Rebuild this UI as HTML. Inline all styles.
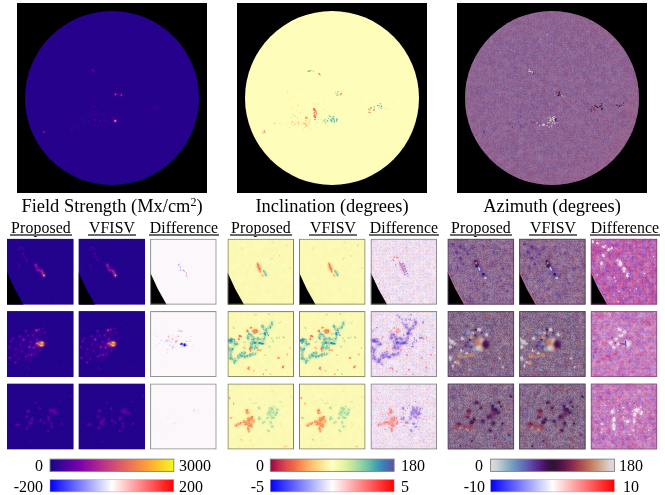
<!DOCTYPE html>
<html><head><meta charset="utf-8"><title>figure</title>
<style>
html,body{margin:0;padding:0;background:#fff}
body{width:665px;height:495px;overflow:hidden;position:relative;font-family:"Liberation Serif",serif;color:#000}
.t{position:absolute;white-space:nowrap;line-height:1;text-align:center;will-change:transform;opacity:.999}
.ti{font-size:18.45px}
.ti sup{font-size:12px;line-height:0;vertical-align:baseline;position:relative;top:-5.6px}
.lb{font-size:15.8px;letter-spacing:0.12px}
.lb span{position:relative;padding:0 1px 0 1px;display:inline-block;line-height:15.6px;height:15.6px}
.lb span::after{content:"";position:absolute;left:0;right:0;top:14.3px;height:1.6px;background:#6a6a6a}
.cb{font-size:16px}
</style></head><body>
<svg width="665" height="495" viewBox="0 0 665 495" style="position:absolute;left:0;top:0"><defs><filter id="b08" x="-20%" y="-20%" width="140%" height="140%"><feGaussianBlur stdDeviation="0.8"/></filter><filter id="b12" x="-20%" y="-20%" width="140%" height="140%"><feGaussianBlur stdDeviation="1.3"/></filter><filter id="b20" x="-30%" y="-30%" width="160%" height="160%"><feGaussianBlur stdDeviation="2.2"/></filter><filter id="nzAz" x="0" y="0" width="100%" height="100%" color-interpolation-filters="sRGB"><feTurbulence type="fractalNoise" baseFrequency="0.7" numOctaves="1" seed="3"/><feColorMatrix type="matrix" values="2 0 0 0 -0.5 2 0 0 0 -0.5 2 0 0 0 -0.5 0 0 0 0 1"/><feComponentTransfer><feFuncR type="table" tableValues=".89 .82 .71 .59 .49 .42 .39 .37 .37 .36 .32 .25 .20 .23 .32 .42 .53 .61 .68 .73 .77 .79 .81 .85 .88 .86 .77 .64 .54 .45 .40 .38 .37 .36 .34 .29 .22 .20 .27 .37 .47 .57 .65 .71 .75 .78 .80 .83 .87 .89"/><feFuncG type="table" tableValues=".85 .84 .78 .71 .64 .56 .47 .38 .28 .18 .10 .07 .07 .07 .08 .11 .15 .22 .30 .40 .50 .60 .69 .78 .84 .85 .81 .75 .68 .60 .52 .43 .33 .24 .14 .08 .07 .07 .07 .09 .12 .18 .26 .35 .44 .55 .65 .74 .82 .85"/><feFuncB type="table" tableValues=".89 .86 .81 .78 .76 .75 .73 .71 .66 .58 .46 .33 .23 .23 .27 .30 .31 .31 .32 .34 .39 .49 .61 .75 .86 .88 .83 .79 .77 .76 .74 .72 .68 .63 .53 .39 .27 .22 .25 .29 .31 .31 .31 .33 .36 .43 .54 .68 .81 .89"/></feComponentTransfer><feGaussianBlur stdDeviation="1.3"/></filter><filter id="nzAzb" x="0" y="0" width="100%" height="100%" color-interpolation-filters="sRGB"><feTurbulence type="fractalNoise" baseFrequency="0.7" numOctaves="1" seed="4"/><feColorMatrix type="matrix" values="2 0 0 0 -0.5 2 0 0 0 -0.5 2 0 0 0 -0.5 0 0 0 0 1"/><feComponentTransfer><feFuncR type="table" tableValues=".89 .82 .71 .59 .49 .42 .39 .37 .37 .36 .32 .25 .20 .23 .32 .42 .53 .61 .68 .73 .77 .79 .81 .85 .88 .86 .77 .64 .54 .45 .40 .38 .37 .36 .34 .29 .22 .20 .27 .37 .47 .57 .65 .71 .75 .78 .80 .83 .87 .89"/><feFuncG type="table" tableValues=".85 .84 .78 .71 .64 .56 .47 .38 .28 .18 .10 .07 .07 .07 .08 .11 .15 .22 .30 .40 .50 .60 .69 .78 .84 .85 .81 .75 .68 .60 .52 .43 .33 .24 .14 .08 .07 .07 .07 .09 .12 .18 .26 .35 .44 .55 .65 .74 .82 .85"/><feFuncB type="table" tableValues=".89 .86 .81 .78 .76 .75 .73 .71 .66 .58 .46 .33 .23 .23 .27 .30 .31 .31 .32 .34 .39 .49 .61 .75 .86 .88 .83 .79 .77 .76 .74 .72 .68 .63 .53 .39 .27 .22 .25 .29 .31 .31 .31 .33 .36 .43 .54 .68 .81 .89"/></feComponentTransfer></filter><filter id="nzAzS0" x="0" y="0" width="100%" height="100%" color-interpolation-filters="sRGB"><feTurbulence type="fractalNoise" baseFrequency="0.7" numOctaves="1" seed="7"/><feColorMatrix type="matrix" values="2 0 0 0 -0.5 2 0 0 0 -0.5 2 0 0 0 -0.5 0 0 0 0 1"/><feComponentTransfer><feFuncR type="table" tableValues=".89 .82 .71 .59 .49 .42 .39 .37 .37 .36 .32 .25 .20 .23 .32 .42 .53 .61 .68 .73 .77 .79 .81 .85 .88 .86 .77 .64 .54 .45 .40 .38 .37 .36 .34 .29 .22 .20 .27 .37 .47 .57 .65 .71 .75 .78 .80 .83 .87 .89"/><feFuncG type="table" tableValues=".85 .84 .78 .71 .64 .56 .47 .38 .28 .18 .10 .07 .07 .07 .08 .11 .15 .22 .30 .40 .50 .60 .69 .78 .84 .85 .81 .75 .68 .60 .52 .43 .33 .24 .14 .08 .07 .07 .07 .09 .12 .18 .26 .35 .44 .55 .65 .74 .82 .85"/><feFuncB type="table" tableValues=".89 .86 .81 .78 .76 .75 .73 .71 .66 .58 .46 .33 .23 .23 .27 .30 .31 .31 .32 .34 .39 .49 .61 .75 .86 .88 .83 .79 .77 .76 .74 .72 .68 .63 .53 .39 .27 .22 .25 .29 .31 .31 .31 .33 .36 .43 .54 .68 .81 .89"/></feComponentTransfer><feGaussianBlur stdDeviation="0.8"/></filter><filter id="nzAzS0b" x="0" y="0" width="100%" height="100%" color-interpolation-filters="sRGB"><feTurbulence type="fractalNoise" baseFrequency="0.7" numOctaves="1" seed="107"/><feColorMatrix type="matrix" values="2 0 0 0 -0.5 2 0 0 0 -0.5 2 0 0 0 -0.5 0 0 0 0 1"/><feComponentTransfer><feFuncR type="table" tableValues=".89 .82 .71 .59 .49 .42 .39 .37 .37 .36 .32 .25 .20 .23 .32 .42 .53 .61 .68 .73 .77 .79 .81 .85 .88 .86 .77 .64 .54 .45 .40 .38 .37 .36 .34 .29 .22 .20 .27 .37 .47 .57 .65 .71 .75 .78 .80 .83 .87 .89"/><feFuncG type="table" tableValues=".85 .84 .78 .71 .64 .56 .47 .38 .28 .18 .10 .07 .07 .07 .08 .11 .15 .22 .30 .40 .50 .60 .69 .78 .84 .85 .81 .75 .68 .60 .52 .43 .33 .24 .14 .08 .07 .07 .07 .09 .12 .18 .26 .35 .44 .55 .65 .74 .82 .85"/><feFuncB type="table" tableValues=".89 .86 .81 .78 .76 .75 .73 .71 .66 .58 .46 .33 .23 .23 .27 .30 .31 .31 .32 .34 .39 .49 .61 .75 .86 .88 .83 .79 .77 .76 .74 .72 .68 .63 .53 .39 .27 .22 .25 .29 .31 .31 .31 .33 .36 .43 .54 .68 .81 .89"/></feComponentTransfer></filter><filter id="nzAzS1" x="0" y="0" width="100%" height="100%" color-interpolation-filters="sRGB"><feTurbulence type="fractalNoise" baseFrequency="0.7" numOctaves="1" seed="11"/><feColorMatrix type="matrix" values="2 0 0 0 -0.5 2 0 0 0 -0.5 2 0 0 0 -0.5 0 0 0 0 1"/><feComponentTransfer><feFuncR type="table" tableValues=".89 .82 .71 .59 .49 .42 .39 .37 .37 .36 .32 .25 .20 .23 .32 .42 .53 .61 .68 .73 .77 .79 .81 .85 .88 .86 .77 .64 .54 .45 .40 .38 .37 .36 .34 .29 .22 .20 .27 .37 .47 .57 .65 .71 .75 .78 .80 .83 .87 .89"/><feFuncG type="table" tableValues=".85 .84 .78 .71 .64 .56 .47 .38 .28 .18 .10 .07 .07 .07 .08 .11 .15 .22 .30 .40 .50 .60 .69 .78 .84 .85 .81 .75 .68 .60 .52 .43 .33 .24 .14 .08 .07 .07 .07 .09 .12 .18 .26 .35 .44 .55 .65 .74 .82 .85"/><feFuncB type="table" tableValues=".89 .86 .81 .78 .76 .75 .73 .71 .66 .58 .46 .33 .23 .23 .27 .30 .31 .31 .32 .34 .39 .49 .61 .75 .86 .88 .83 .79 .77 .76 .74 .72 .68 .63 .53 .39 .27 .22 .25 .29 .31 .31 .31 .33 .36 .43 .54 .68 .81 .89"/></feComponentTransfer><feGaussianBlur stdDeviation="0.8"/></filter><filter id="nzAzS1b" x="0" y="0" width="100%" height="100%" color-interpolation-filters="sRGB"><feTurbulence type="fractalNoise" baseFrequency="0.7" numOctaves="1" seed="111"/><feColorMatrix type="matrix" values="2 0 0 0 -0.5 2 0 0 0 -0.5 2 0 0 0 -0.5 0 0 0 0 1"/><feComponentTransfer><feFuncR type="table" tableValues=".89 .82 .71 .59 .49 .42 .39 .37 .37 .36 .32 .25 .20 .23 .32 .42 .53 .61 .68 .73 .77 .79 .81 .85 .88 .86 .77 .64 .54 .45 .40 .38 .37 .36 .34 .29 .22 .20 .27 .37 .47 .57 .65 .71 .75 .78 .80 .83 .87 .89"/><feFuncG type="table" tableValues=".85 .84 .78 .71 .64 .56 .47 .38 .28 .18 .10 .07 .07 .07 .08 .11 .15 .22 .30 .40 .50 .60 .69 .78 .84 .85 .81 .75 .68 .60 .52 .43 .33 .24 .14 .08 .07 .07 .07 .09 .12 .18 .26 .35 .44 .55 .65 .74 .82 .85"/><feFuncB type="table" tableValues=".89 .86 .81 .78 .76 .75 .73 .71 .66 .58 .46 .33 .23 .23 .27 .30 .31 .31 .32 .34 .39 .49 .61 .75 .86 .88 .83 .79 .77 .76 .74 .72 .68 .63 .53 .39 .27 .22 .25 .29 .31 .31 .31 .33 .36 .43 .54 .68 .81 .89"/></feComponentTransfer></filter><filter id="nzAzS2" x="0" y="0" width="100%" height="100%" color-interpolation-filters="sRGB"><feTurbulence type="fractalNoise" baseFrequency="0.7" numOctaves="1" seed="23"/><feColorMatrix type="matrix" values="2 0 0 0 -0.5 2 0 0 0 -0.5 2 0 0 0 -0.5 0 0 0 0 1"/><feComponentTransfer><feFuncR type="table" tableValues=".89 .82 .71 .59 .49 .42 .39 .37 .37 .36 .32 .25 .20 .23 .32 .42 .53 .61 .68 .73 .77 .79 .81 .85 .88 .86 .77 .64 .54 .45 .40 .38 .37 .36 .34 .29 .22 .20 .27 .37 .47 .57 .65 .71 .75 .78 .80 .83 .87 .89"/><feFuncG type="table" tableValues=".85 .84 .78 .71 .64 .56 .47 .38 .28 .18 .10 .07 .07 .07 .08 .11 .15 .22 .30 .40 .50 .60 .69 .78 .84 .85 .81 .75 .68 .60 .52 .43 .33 .24 .14 .08 .07 .07 .07 .09 .12 .18 .26 .35 .44 .55 .65 .74 .82 .85"/><feFuncB type="table" tableValues=".89 .86 .81 .78 .76 .75 .73 .71 .66 .58 .46 .33 .23 .23 .27 .30 .31 .31 .32 .34 .39 .49 .61 .75 .86 .88 .83 .79 .77 .76 .74 .72 .68 .63 .53 .39 .27 .22 .25 .29 .31 .31 .31 .33 .36 .43 .54 .68 .81 .89"/></feComponentTransfer><feGaussianBlur stdDeviation="0.8"/></filter><filter id="nzAzS2b" x="0" y="0" width="100%" height="100%" color-interpolation-filters="sRGB"><feTurbulence type="fractalNoise" baseFrequency="0.7" numOctaves="1" seed="123"/><feColorMatrix type="matrix" values="2 0 0 0 -0.5 2 0 0 0 -0.5 2 0 0 0 -0.5 0 0 0 0 1"/><feComponentTransfer><feFuncR type="table" tableValues=".89 .82 .71 .59 .49 .42 .39 .37 .37 .36 .32 .25 .20 .23 .32 .42 .53 .61 .68 .73 .77 .79 .81 .85 .88 .86 .77 .64 .54 .45 .40 .38 .37 .36 .34 .29 .22 .20 .27 .37 .47 .57 .65 .71 .75 .78 .80 .83 .87 .89"/><feFuncG type="table" tableValues=".85 .84 .78 .71 .64 .56 .47 .38 .28 .18 .10 .07 .07 .07 .08 .11 .15 .22 .30 .40 .50 .60 .69 .78 .84 .85 .81 .75 .68 .60 .52 .43 .33 .24 .14 .08 .07 .07 .07 .09 .12 .18 .26 .35 .44 .55 .65 .74 .82 .85"/><feFuncB type="table" tableValues=".89 .86 .81 .78 .76 .75 .73 .71 .66 .58 .46 .33 .23 .23 .27 .30 .31 .31 .32 .34 .39 .49 .61 .75 .86 .88 .83 .79 .77 .76 .74 .72 .68 .63 .53 .39 .27 .22 .25 .29 .31 .31 .31 .33 .36 .43 .54 .68 .81 .89"/></feComponentTransfer></filter><filter id="nzAzS3" x="0" y="0" width="100%" height="100%" color-interpolation-filters="sRGB"><feTurbulence type="fractalNoise" baseFrequency="0.7" numOctaves="1" seed="37"/><feColorMatrix type="matrix" values="2 0 0 0 -0.5 2 0 0 0 -0.5 2 0 0 0 -0.5 0 0 0 0 1"/><feComponentTransfer><feFuncR type="table" tableValues=".89 .82 .71 .59 .49 .42 .39 .37 .37 .36 .32 .25 .20 .23 .32 .42 .53 .61 .68 .73 .77 .79 .81 .85 .88 .86 .77 .64 .54 .45 .40 .38 .37 .36 .34 .29 .22 .20 .27 .37 .47 .57 .65 .71 .75 .78 .80 .83 .87 .89"/><feFuncG type="table" tableValues=".85 .84 .78 .71 .64 .56 .47 .38 .28 .18 .10 .07 .07 .07 .08 .11 .15 .22 .30 .40 .50 .60 .69 .78 .84 .85 .81 .75 .68 .60 .52 .43 .33 .24 .14 .08 .07 .07 .07 .09 .12 .18 .26 .35 .44 .55 .65 .74 .82 .85"/><feFuncB type="table" tableValues=".89 .86 .81 .78 .76 .75 .73 .71 .66 .58 .46 .33 .23 .23 .27 .30 .31 .31 .32 .34 .39 .49 .61 .75 .86 .88 .83 .79 .77 .76 .74 .72 .68 .63 .53 .39 .27 .22 .25 .29 .31 .31 .31 .33 .36 .43 .54 .68 .81 .89"/></feComponentTransfer><feGaussianBlur stdDeviation="0.8"/></filter><filter id="nzAzS3b" x="0" y="0" width="100%" height="100%" color-interpolation-filters="sRGB"><feTurbulence type="fractalNoise" baseFrequency="0.7" numOctaves="1" seed="137"/><feColorMatrix type="matrix" values="2 0 0 0 -0.5 2 0 0 0 -0.5 2 0 0 0 -0.5 0 0 0 0 1"/><feComponentTransfer><feFuncR type="table" tableValues=".89 .82 .71 .59 .49 .42 .39 .37 .37 .36 .32 .25 .20 .23 .32 .42 .53 .61 .68 .73 .77 .79 .81 .85 .88 .86 .77 .64 .54 .45 .40 .38 .37 .36 .34 .29 .22 .20 .27 .37 .47 .57 .65 .71 .75 .78 .80 .83 .87 .89"/><feFuncG type="table" tableValues=".85 .84 .78 .71 .64 .56 .47 .38 .28 .18 .10 .07 .07 .07 .08 .11 .15 .22 .30 .40 .50 .60 .69 .78 .84 .85 .81 .75 .68 .60 .52 .43 .33 .24 .14 .08 .07 .07 .07 .09 .12 .18 .26 .35 .44 .55 .65 .74 .82 .85"/><feFuncB type="table" tableValues=".89 .86 .81 .78 .76 .75 .73 .71 .66 .58 .46 .33 .23 .23 .27 .30 .31 .31 .32 .34 .39 .49 .61 .75 .86 .88 .83 .79 .77 .76 .74 .72 .68 .63 .53 .39 .27 .22 .25 .29 .31 .31 .31 .33 .36 .43 .54 .68 .81 .89"/></feComponentTransfer></filter><filter id="nzAzS4" x="0" y="0" width="100%" height="100%" color-interpolation-filters="sRGB"><feTurbulence type="fractalNoise" baseFrequency="0.7" numOctaves="1" seed="41"/><feColorMatrix type="matrix" values="2 0 0 0 -0.5 2 0 0 0 -0.5 2 0 0 0 -0.5 0 0 0 0 1"/><feComponentTransfer><feFuncR type="table" tableValues=".89 .82 .71 .59 .49 .42 .39 .37 .37 .36 .32 .25 .20 .23 .32 .42 .53 .61 .68 .73 .77 .79 .81 .85 .88 .86 .77 .64 .54 .45 .40 .38 .37 .36 .34 .29 .22 .20 .27 .37 .47 .57 .65 .71 .75 .78 .80 .83 .87 .89"/><feFuncG type="table" tableValues=".85 .84 .78 .71 .64 .56 .47 .38 .28 .18 .10 .07 .07 .07 .08 .11 .15 .22 .30 .40 .50 .60 .69 .78 .84 .85 .81 .75 .68 .60 .52 .43 .33 .24 .14 .08 .07 .07 .07 .09 .12 .18 .26 .35 .44 .55 .65 .74 .82 .85"/><feFuncB type="table" tableValues=".89 .86 .81 .78 .76 .75 .73 .71 .66 .58 .46 .33 .23 .23 .27 .30 .31 .31 .32 .34 .39 .49 .61 .75 .86 .88 .83 .79 .77 .76 .74 .72 .68 .63 .53 .39 .27 .22 .25 .29 .31 .31 .31 .33 .36 .43 .54 .68 .81 .89"/></feComponentTransfer><feGaussianBlur stdDeviation="0.8"/></filter><filter id="nzAzS4b" x="0" y="0" width="100%" height="100%" color-interpolation-filters="sRGB"><feTurbulence type="fractalNoise" baseFrequency="0.7" numOctaves="1" seed="141"/><feColorMatrix type="matrix" values="2 0 0 0 -0.5 2 0 0 0 -0.5 2 0 0 0 -0.5 0 0 0 0 1"/><feComponentTransfer><feFuncR type="table" tableValues=".89 .82 .71 .59 .49 .42 .39 .37 .37 .36 .32 .25 .20 .23 .32 .42 .53 .61 .68 .73 .77 .79 .81 .85 .88 .86 .77 .64 .54 .45 .40 .38 .37 .36 .34 .29 .22 .20 .27 .37 .47 .57 .65 .71 .75 .78 .80 .83 .87 .89"/><feFuncG type="table" tableValues=".85 .84 .78 .71 .64 .56 .47 .38 .28 .18 .10 .07 .07 .07 .08 .11 .15 .22 .30 .40 .50 .60 .69 .78 .84 .85 .81 .75 .68 .60 .52 .43 .33 .24 .14 .08 .07 .07 .07 .09 .12 .18 .26 .35 .44 .55 .65 .74 .82 .85"/><feFuncB type="table" tableValues=".89 .86 .81 .78 .76 .75 .73 .71 .66 .58 .46 .33 .23 .23 .27 .30 .31 .31 .32 .34 .39 .49 .61 .75 .86 .88 .83 .79 .77 .76 .74 .72 .68 .63 .53 .39 .27 .22 .25 .29 .31 .31 .31 .33 .36 .43 .54 .68 .81 .89"/></feComponentTransfer></filter><filter id="nzAzS5" x="0" y="0" width="100%" height="100%" color-interpolation-filters="sRGB"><feTurbulence type="fractalNoise" baseFrequency="0.7" numOctaves="1" seed="53"/><feColorMatrix type="matrix" values="2 0 0 0 -0.5 2 0 0 0 -0.5 2 0 0 0 -0.5 0 0 0 0 1"/><feComponentTransfer><feFuncR type="table" tableValues=".89 .82 .71 .59 .49 .42 .39 .37 .37 .36 .32 .25 .20 .23 .32 .42 .53 .61 .68 .73 .77 .79 .81 .85 .88 .86 .77 .64 .54 .45 .40 .38 .37 .36 .34 .29 .22 .20 .27 .37 .47 .57 .65 .71 .75 .78 .80 .83 .87 .89"/><feFuncG type="table" tableValues=".85 .84 .78 .71 .64 .56 .47 .38 .28 .18 .10 .07 .07 .07 .08 .11 .15 .22 .30 .40 .50 .60 .69 .78 .84 .85 .81 .75 .68 .60 .52 .43 .33 .24 .14 .08 .07 .07 .07 .09 .12 .18 .26 .35 .44 .55 .65 .74 .82 .85"/><feFuncB type="table" tableValues=".89 .86 .81 .78 .76 .75 .73 .71 .66 .58 .46 .33 .23 .23 .27 .30 .31 .31 .32 .34 .39 .49 .61 .75 .86 .88 .83 .79 .77 .76 .74 .72 .68 .63 .53 .39 .27 .22 .25 .29 .31 .31 .31 .33 .36 .43 .54 .68 .81 .89"/></feComponentTransfer><feGaussianBlur stdDeviation="0.8"/></filter><filter id="nzAzS5b" x="0" y="0" width="100%" height="100%" color-interpolation-filters="sRGB"><feTurbulence type="fractalNoise" baseFrequency="0.7" numOctaves="1" seed="153"/><feColorMatrix type="matrix" values="2 0 0 0 -0.5 2 0 0 0 -0.5 2 0 0 0 -0.5 0 0 0 0 1"/><feComponentTransfer><feFuncR type="table" tableValues=".89 .82 .71 .59 .49 .42 .39 .37 .37 .36 .32 .25 .20 .23 .32 .42 .53 .61 .68 .73 .77 .79 .81 .85 .88 .86 .77 .64 .54 .45 .40 .38 .37 .36 .34 .29 .22 .20 .27 .37 .47 .57 .65 .71 .75 .78 .80 .83 .87 .89"/><feFuncG type="table" tableValues=".85 .84 .78 .71 .64 .56 .47 .38 .28 .18 .10 .07 .07 .07 .08 .11 .15 .22 .30 .40 .50 .60 .69 .78 .84 .85 .81 .75 .68 .60 .52 .43 .33 .24 .14 .08 .07 .07 .07 .09 .12 .18 .26 .35 .44 .55 .65 .74 .82 .85"/><feFuncB type="table" tableValues=".89 .86 .81 .78 .76 .75 .73 .71 .66 .58 .46 .33 .23 .23 .27 .30 .31 .31 .32 .34 .39 .49 .61 .75 .86 .88 .83 .79 .77 .76 .74 .72 .68 .63 .53 .39 .27 .22 .25 .29 .31 .31 .31 .33 .36 .43 .54 .68 .81 .89"/></feComponentTransfer></filter><filter id="nzInD0" x="0" y="0" width="100%" height="100%" color-interpolation-filters="sRGB"><feTurbulence type="fractalNoise" baseFrequency="0.7" numOctaves="1" seed="5"/><feColorMatrix type="matrix" values="1.4 0 0 0 -0.2 1.4 0 0 0 -0.2 1.4 0 0 0 -0.2 0 0 0 0 1"/><feComponentTransfer><feFuncR type="table" tableValues=".00 .25 .50 .75 1.00 1.00 1.00 1.00 1.00"/><feFuncG type="table" tableValues=".00 .25 .50 .75 1.00 .75 .49 .24 .00"/><feFuncB type="table" tableValues="1.00 1.00 1.00 1.00 1.00 .75 .49 .24 .00"/></feComponentTransfer><feGaussianBlur stdDeviation="0.8"/></filter><filter id="nzInD0b" x="0" y="0" width="100%" height="100%" color-interpolation-filters="sRGB"><feTurbulence type="fractalNoise" baseFrequency="0.7" numOctaves="1" seed="105"/><feColorMatrix type="matrix" values="1.4 0 0 0 -0.2 1.4 0 0 0 -0.2 1.4 0 0 0 -0.2 0 0 0 0 1"/><feComponentTransfer><feFuncR type="table" tableValues=".00 .25 .50 .75 1.00 1.00 1.00 1.00 1.00"/><feFuncG type="table" tableValues=".00 .25 .50 .75 1.00 .75 .49 .24 .00"/><feFuncB type="table" tableValues="1.00 1.00 1.00 1.00 1.00 .75 .49 .24 .00"/></feComponentTransfer></filter><filter id="nzInD1" x="0" y="0" width="100%" height="100%" color-interpolation-filters="sRGB"><feTurbulence type="fractalNoise" baseFrequency="0.7" numOctaves="1" seed="15"/><feColorMatrix type="matrix" values="1.4 0 0 0 -0.2 1.4 0 0 0 -0.2 1.4 0 0 0 -0.2 0 0 0 0 1"/><feComponentTransfer><feFuncR type="table" tableValues=".00 .25 .50 .75 1.00 1.00 1.00 1.00 1.00"/><feFuncG type="table" tableValues=".00 .25 .50 .75 1.00 .75 .49 .24 .00"/><feFuncB type="table" tableValues="1.00 1.00 1.00 1.00 1.00 .75 .49 .24 .00"/></feComponentTransfer><feGaussianBlur stdDeviation="0.8"/></filter><filter id="nzInD1b" x="0" y="0" width="100%" height="100%" color-interpolation-filters="sRGB"><feTurbulence type="fractalNoise" baseFrequency="0.7" numOctaves="1" seed="115"/><feColorMatrix type="matrix" values="1.4 0 0 0 -0.2 1.4 0 0 0 -0.2 1.4 0 0 0 -0.2 0 0 0 0 1"/><feComponentTransfer><feFuncR type="table" tableValues=".00 .25 .50 .75 1.00 1.00 1.00 1.00 1.00"/><feFuncG type="table" tableValues=".00 .25 .50 .75 1.00 .75 .49 .24 .00"/><feFuncB type="table" tableValues="1.00 1.00 1.00 1.00 1.00 .75 .49 .24 .00"/></feComponentTransfer></filter><filter id="nzInD2" x="0" y="0" width="100%" height="100%" color-interpolation-filters="sRGB"><feTurbulence type="fractalNoise" baseFrequency="0.7" numOctaves="1" seed="25"/><feColorMatrix type="matrix" values="1.4 0 0 0 -0.2 1.4 0 0 0 -0.2 1.4 0 0 0 -0.2 0 0 0 0 1"/><feComponentTransfer><feFuncR type="table" tableValues=".00 .25 .50 .75 1.00 1.00 1.00 1.00 1.00"/><feFuncG type="table" tableValues=".00 .25 .50 .75 1.00 .75 .49 .24 .00"/><feFuncB type="table" tableValues="1.00 1.00 1.00 1.00 1.00 .75 .49 .24 .00"/></feComponentTransfer><feGaussianBlur stdDeviation="0.8"/></filter><filter id="nzInD2b" x="0" y="0" width="100%" height="100%" color-interpolation-filters="sRGB"><feTurbulence type="fractalNoise" baseFrequency="0.7" numOctaves="1" seed="125"/><feColorMatrix type="matrix" values="1.4 0 0 0 -0.2 1.4 0 0 0 -0.2 1.4 0 0 0 -0.2 0 0 0 0 1"/><feComponentTransfer><feFuncR type="table" tableValues=".00 .25 .50 .75 1.00 1.00 1.00 1.00 1.00"/><feFuncG type="table" tableValues=".00 .25 .50 .75 1.00 .75 .49 .24 .00"/><feFuncB type="table" tableValues="1.00 1.00 1.00 1.00 1.00 .75 .49 .24 .00"/></feComponentTransfer></filter><filter id="nzAzD0" x="0" y="0" width="100%" height="100%" color-interpolation-filters="sRGB"><feTurbulence type="fractalNoise" baseFrequency="0.7" numOctaves="1" seed="9"/><feColorMatrix type="matrix" values="5 0 0 0 -1.98 5 0 0 0 -1.98 5 0 0 0 -1.98 0 0 0 0 1"/><feComponentTransfer><feFuncR type="table" tableValues=".00 .25 .50 .75 1.00 1.00 1.00 1.00 1.00"/><feFuncG type="table" tableValues=".00 .25 .50 .75 1.00 .75 .49 .24 .00"/><feFuncB type="table" tableValues="1.00 1.00 1.00 1.00 1.00 .75 .49 .24 .00"/></feComponentTransfer><feGaussianBlur stdDeviation="0.8"/></filter><filter id="nzAzD0b" x="0" y="0" width="100%" height="100%" color-interpolation-filters="sRGB"><feTurbulence type="fractalNoise" baseFrequency="0.7" numOctaves="1" seed="109"/><feColorMatrix type="matrix" values="2.4 0 0 0 -0.68 2.4 0 0 0 -0.68 2.4 0 0 0 -0.68 0 0 0 0 1"/><feComponentTransfer><feFuncR type="table" tableValues=".00 .25 .50 .75 1.00 1.00 1.00 1.00 1.00"/><feFuncG type="table" tableValues=".00 .25 .50 .75 1.00 .75 .49 .24 .00"/><feFuncB type="table" tableValues="1.00 1.00 1.00 1.00 1.00 .75 .49 .24 .00"/></feComponentTransfer></filter><filter id="nzAzD1" x="0" y="0" width="100%" height="100%" color-interpolation-filters="sRGB"><feTurbulence type="fractalNoise" baseFrequency="0.7" numOctaves="1" seed="19"/><feColorMatrix type="matrix" values="4 0 0 0 -1.48 4 0 0 0 -1.48 4 0 0 0 -1.48 0 0 0 0 1"/><feComponentTransfer><feFuncR type="table" tableValues=".00 .25 .50 .75 1.00 1.00 1.00 1.00 1.00"/><feFuncG type="table" tableValues=".00 .25 .50 .75 1.00 .75 .49 .24 .00"/><feFuncB type="table" tableValues="1.00 1.00 1.00 1.00 1.00 .75 .49 .24 .00"/></feComponentTransfer><feGaussianBlur stdDeviation="0.8"/></filter><filter id="nzAzD1b" x="0" y="0" width="100%" height="100%" color-interpolation-filters="sRGB"><feTurbulence type="fractalNoise" baseFrequency="0.7" numOctaves="1" seed="119"/><feColorMatrix type="matrix" values="2.4 0 0 0 -0.68 2.4 0 0 0 -0.68 2.4 0 0 0 -0.68 0 0 0 0 1"/><feComponentTransfer><feFuncR type="table" tableValues=".00 .25 .50 .75 1.00 1.00 1.00 1.00 1.00"/><feFuncG type="table" tableValues=".00 .25 .50 .75 1.00 .75 .49 .24 .00"/><feFuncB type="table" tableValues="1.00 1.00 1.00 1.00 1.00 .75 .49 .24 .00"/></feComponentTransfer></filter><filter id="nzAzD2" x="0" y="0" width="100%" height="100%" color-interpolation-filters="sRGB"><feTurbulence type="fractalNoise" baseFrequency="0.7" numOctaves="1" seed="29"/><feColorMatrix type="matrix" values="4 0 0 0 -1.48 4 0 0 0 -1.48 4 0 0 0 -1.48 0 0 0 0 1"/><feComponentTransfer><feFuncR type="table" tableValues=".00 .25 .50 .75 1.00 1.00 1.00 1.00 1.00"/><feFuncG type="table" tableValues=".00 .25 .50 .75 1.00 .75 .49 .24 .00"/><feFuncB type="table" tableValues="1.00 1.00 1.00 1.00 1.00 .75 .49 .24 .00"/></feComponentTransfer><feGaussianBlur stdDeviation="0.8"/></filter><filter id="nzAzD2b" x="0" y="0" width="100%" height="100%" color-interpolation-filters="sRGB"><feTurbulence type="fractalNoise" baseFrequency="0.7" numOctaves="1" seed="129"/><feColorMatrix type="matrix" values="2.4 0 0 0 -0.68 2.4 0 0 0 -0.68 2.4 0 0 0 -0.68 0 0 0 0 1"/><feComponentTransfer><feFuncR type="table" tableValues=".00 .25 .50 .75 1.00 1.00 1.00 1.00 1.00"/><feFuncG type="table" tableValues=".00 .25 .50 .75 1.00 .75 .49 .24 .00"/><feFuncB type="table" tableValues="1.00 1.00 1.00 1.00 1.00 .75 .49 .24 .00"/></feComponentTransfer></filter><filter id="nzIn" x="0" y="0" width="100%" height="100%" color-interpolation-filters="sRGB"><feTurbulence type="fractalNoise" baseFrequency="0.6" numOctaves="1" seed="61"/><feColorMatrix type="matrix" values="0.42 0 0 0 0.29 0.42 0 0 0 0.29 0.42 0 0 0 0.29 0 0 0 0 1"/><feComponentTransfer><feFuncR type="table" tableValues=".62 .87 .97 1.00 1.00 .84 .53 .24 .37"/><feFuncG type="table" tableValues=".00 .29 .56 .83 1.00 .93 .81 .58 .31"/><feFuncB type="table" tableValues=".26 .30 .32 .51 .75 .61 .65 .72 .64"/></feComponentTransfer><feGaussianBlur stdDeviation="0.8"/></filter><filter id="nzFs" x="0" y="0" width="100%" height="100%" color-interpolation-filters="sRGB"><feTurbulence type="fractalNoise" baseFrequency="0.5" numOctaves="1" seed="71"/><feColorMatrix type="matrix" values="2.4 0 0 0 -1.05 2.4 0 0 0 -1.05 2.4 0 0 0 -1.05 0 0 0 0 1"/><feComponentTransfer><feFuncR type="table" tableValues="0.050 0.149 0.221 0.287 0.350"/><feFuncG type="table" tableValues="0.030 0.021 0.016 0.011 0.004"/><feFuncB type="table" tableValues="0.528 0.571 0.602 0.627 0.646"/></feComponentTransfer><feGaussianBlur stdDeviation="0.8"/></filter><linearGradient id="gPlasma"><stop offset="0.000" stop-color="#0d0887"/><stop offset="0.062" stop-color="#310597"/><stop offset="0.125" stop-color="#4c02a1"/><stop offset="0.188" stop-color="#6600a7"/><stop offset="0.250" stop-color="#7e03a8"/><stop offset="0.312" stop-color="#9511a1"/><stop offset="0.375" stop-color="#aa2395"/><stop offset="0.438" stop-color="#bc3587"/><stop offset="0.500" stop-color="#cc4778"/><stop offset="0.562" stop-color="#da5a6a"/><stop offset="0.625" stop-color="#e66c5c"/><stop offset="0.688" stop-color="#f0804e"/><stop offset="0.750" stop-color="#f89540"/><stop offset="0.812" stop-color="#fdac33"/><stop offset="0.875" stop-color="#fdc527"/><stop offset="0.938" stop-color="#f8df25"/><stop offset="1.000" stop-color="#f0f921"/></linearGradient><linearGradient id="gSpectral"><stop offset="0.000" stop-color="#9e0142"/><stop offset="0.062" stop-color="#c1274a"/><stop offset="0.125" stop-color="#dd4a4c"/><stop offset="0.188" stop-color="#f06744"/><stop offset="0.250" stop-color="#f98e52"/><stop offset="0.312" stop-color="#fdb567"/><stop offset="0.375" stop-color="#fed481"/><stop offset="0.438" stop-color="#feec9f"/><stop offset="0.500" stop-color="#ffffbe"/><stop offset="0.562" stop-color="#eff9a6"/><stop offset="0.625" stop-color="#d6ee9b"/><stop offset="0.688" stop-color="#b1dfa3"/><stop offset="0.750" stop-color="#86cfa5"/><stop offset="0.812" stop-color="#5eb9a9"/><stop offset="0.875" stop-color="#3d95b8"/><stop offset="0.938" stop-color="#4471b2"/><stop offset="1.000" stop-color="#5e4fa2"/></linearGradient><linearGradient id="gTwilight"><stop offset="0.000" stop-color="#e2d9e2"/><stop offset="0.042" stop-color="#d1d5da"/><stop offset="0.083" stop-color="#b3c6ce"/><stop offset="0.125" stop-color="#95b5c7"/><stop offset="0.167" stop-color="#7ba1c2"/><stop offset="0.208" stop-color="#6b8cbf"/><stop offset="0.250" stop-color="#6276ba"/><stop offset="0.292" stop-color="#5f5eb3"/><stop offset="0.333" stop-color="#5e43a5"/><stop offset="0.375" stop-color="#592a8f"/><stop offset="0.417" stop-color="#4e186f"/><stop offset="0.458" stop-color="#3d114d"/><stop offset="0.500" stop-color="#2f1436"/><stop offset="0.542" stop-color="#3f123d"/><stop offset="0.583" stop-color="#581647"/><stop offset="0.625" stop-color="#741e4f"/><stop offset="0.667" stop-color="#8e2c50"/><stop offset="0.708" stop-color="#a24050"/><stop offset="0.750" stop-color="#b25652"/><stop offset="0.792" stop-color="#be6f5b"/><stop offset="0.833" stop-color="#c68a6d"/><stop offset="0.875" stop-color="#cca389"/><stop offset="0.917" stop-color="#d4bcac"/><stop offset="0.958" stop-color="#ddd0ce"/><stop offset="1.000" stop-color="#e2d9e2"/></linearGradient><linearGradient id="gBwr"><stop offset="0.000" stop-color="#0000ff"/><stop offset="0.125" stop-color="#4040ff"/><stop offset="0.250" stop-color="#8080ff"/><stop offset="0.375" stop-color="#c0c0ff"/><stop offset="0.500" stop-color="#fffefe"/><stop offset="0.625" stop-color="#ffbebe"/><stop offset="0.750" stop-color="#ff7e7e"/><stop offset="0.875" stop-color="#ff3e3e"/><stop offset="1.000" stop-color="#ff0000"/></linearGradient></defs><rect x="17" y="3" width="190" height="190" fill="#000"/><circle cx="112" cy="98" r="87" fill="#26028c"/><g opacity="0.70"><circle cx="104.6" cy="126.5" r="0.71" fill="#4c02a1"/><circle cx="83.2" cy="120.1" r="0.66" fill="#6100a7"/><circle cx="94.8" cy="120.6" r="0.73" fill="#5302a3"/><circle cx="93" cy="119.7" r="0.58" fill="#6001a6"/><circle cx="95.9" cy="130.8" r="0.76" fill="#43039e"/><circle cx="104.1" cy="120.9" r="0.78" fill="#5102a3"/><circle cx="95" cy="124.6" r="0.41" fill="#4b03a1"/><circle cx="83.3" cy="122" r="0.49" fill="#4b03a1"/><circle cx="94.9" cy="124.9" r="0.52" fill="#43039e"/><circle cx="99" cy="115.1" r="0.66" fill="#4903a0"/><circle cx="110.8" cy="119.6" r="0.45" fill="#5002a2"/><circle cx="90.5" cy="113" r="0.77" fill="#5302a3"/><circle cx="99.5" cy="114.1" r="0.52" fill="#5901a5"/><circle cx="105.9" cy="114.1" r="0.6" fill="#5901a5"/><circle cx="99.6" cy="120.7" r="0.72" fill="#5302a3"/><circle cx="98.3" cy="125" r="0.68" fill="#5c01a6"/><circle cx="86.2" cy="123.4" r="0.6" fill="#6100a7"/><circle cx="84.1" cy="119.4" r="0.6" fill="#43039e"/><circle cx="106.5" cy="121.9" r="0.79" fill="#5901a5"/><circle cx="88.7" cy="121.7" r="0.6" fill="#6900a8"/><circle cx="94.4" cy="114.4" r="0.74" fill="#4b03a1"/><circle cx="70.9" cy="119" r="0.63" fill="#5502a4"/><circle cx="91.6" cy="125.6" r="0.78" fill="#41049d"/><circle cx="96.5" cy="111.8" r="0.75" fill="#6001a6"/><circle cx="97" cy="114.9" r="0.62" fill="#5302a3"/><circle cx="110.1" cy="123.1" r="0.63" fill="#4903a0"/><circle cx="82.6" cy="119.8" r="0.54" fill="#5002a2"/><circle cx="80.8" cy="118.5" r="0.64" fill="#5502a4"/><circle cx="99.4" cy="120.6" r="0.47" fill="#5901a5"/><circle cx="103.3" cy="113.8" r="0.72" fill="#6300a7"/><circle cx="92.4" cy="128.6" r="0.67" fill="#44039e"/><circle cx="94.5" cy="120.1" r="0.7" fill="#4b03a1"/><circle cx="102.7" cy="124" r="0.54" fill="#44039e"/><circle cx="98.9" cy="124.6" r="0.47" fill="#4c02a1"/><circle cx="90.6" cy="115.2" r="0.53" fill="#5502a4"/><circle cx="101.8" cy="120.7" r="0.57" fill="#4903a0"/><circle cx="108" cy="126.1" r="0.6" fill="#4903a0"/><circle cx="79.9" cy="114.9" r="0.41" fill="#43039e"/><circle cx="101.7" cy="125.7" r="0.46" fill="#5e01a6"/><circle cx="88.1" cy="114.9" r="0.49" fill="#6900a8"/><circle cx="96.2" cy="114.8" r="0.49" fill="#5c01a6"/><circle cx="83.7" cy="123.6" r="0.53" fill="#5b01a5"/><circle cx="100.1" cy="121.4" r="0.79" fill="#6600a7"/><circle cx="86.8" cy="128.3" r="0.52" fill="#6700a8"/><circle cx="92.6" cy="115.3" r="0.5" fill="#41049d"/><circle cx="94.8" cy="119.1" r="0.73" fill="#6900a8"/><circle cx="91.9" cy="107" r="0.66" fill="#6100a7"/><circle cx="92.3" cy="103.4" r="0.51" fill="#4c02a1"/><circle cx="93.8" cy="113.8" r="0.53" fill="#48039f"/><circle cx="95.3" cy="111.6" r="0.49" fill="#5102a3"/><circle cx="91.2" cy="115.2" r="0.67" fill="#41049d"/><circle cx="93.5" cy="111.4" r="0.7" fill="#5b01a5"/><circle cx="92.3" cy="110.3" r="0.6" fill="#5c01a6"/><circle cx="94.7" cy="106.5" r="0.66" fill="#5801a4"/><circle cx="139.5" cy="109.6" r="0.49" fill="#6001a6"/><circle cx="156.6" cy="109.6" r="0.76" fill="#4b03a1"/><circle cx="154.4" cy="106.3" r="0.74" fill="#5102a3"/><circle cx="151.8" cy="110.4" r="0.75" fill="#5b01a5"/><circle cx="164" cy="107.8" r="0.45" fill="#5801a4"/><circle cx="155.1" cy="109.3" r="0.43" fill="#6400a7"/><circle cx="156.2" cy="105.4" r="0.54" fill="#5b01a5"/><circle cx="155" cy="107.1" r="0.63" fill="#4b03a1"/><circle cx="157.4" cy="109.8" r="0.76" fill="#5901a5"/><circle cx="158.9" cy="108" r="0.51" fill="#6100a7"/><circle cx="154.4" cy="108.7" r="0.67" fill="#44039e"/><circle cx="161.8" cy="111.8" r="0.42" fill="#4b03a1"/><circle cx="159.2" cy="108.8" r="0.45" fill="#48039f"/><circle cx="154.4" cy="112.3" r="0.44" fill="#6600a7"/><circle cx="144.4" cy="112.7" r="0.76" fill="#4e02a2"/><circle cx="153.9" cy="111.3" r="0.44" fill="#5c01a6"/><circle cx="112.3" cy="117.1" r="0.69" fill="#5601a4"/><circle cx="110.2" cy="115.8" r="0.49" fill="#4c02a1"/><circle cx="116.5" cy="114.3" r="0.69" fill="#4e02a2"/><circle cx="112.6" cy="119.7" r="0.69" fill="#6001a6"/><circle cx="110.9" cy="114.3" r="0.48" fill="#6001a6"/><circle cx="111.5" cy="118.4" r="0.42" fill="#5502a4"/><circle cx="114.2" cy="116.8" r="0.6" fill="#6400a7"/><circle cx="113.9" cy="116.3" r="0.49" fill="#5801a4"/><circle cx="71.1" cy="130.5" r="0.67" fill="#4b03a1"/><circle cx="71.8" cy="129.2" r="0.57" fill="#5502a4"/><circle cx="75" cy="127.4" r="0.47" fill="#44039e"/><circle cx="73.2" cy="126.8" r="0.42" fill="#5601a4"/><circle cx="72.8" cy="130.4" r="0.55" fill="#5e01a6"/><circle cx="78.3" cy="128.9" r="0.64" fill="#44039e"/><circle cx="77.9" cy="126.6" r="0.63" fill="#6100a7"/><circle cx="76.9" cy="125.4" r="0.43" fill="#5302a3"/><circle cx="78.6" cy="126.2" r="0.67" fill="#46039f"/><circle cx="76.1" cy="126.7" r="0.49" fill="#6001a6"/></g><g opacity="0.80"><circle cx="92.6" cy="69.6" r="0.65" fill="#a11b9b"/><circle cx="91.2" cy="71" r="0.53" fill="#7701a8"/><circle cx="91" cy="70.2" r="0.48" fill="#6f00a8"/><circle cx="94.2" cy="71.1" r="0.56" fill="#920fa3"/><circle cx="92.5" cy="70.7" r="0.52" fill="#8405a7"/><circle cx="43.9" cy="132" r="0.59" fill="#ac2694"/><circle cx="43.5" cy="131.8" r="0.51" fill="#99159f"/><circle cx="44.5" cy="132.1" r="0.65" fill="#ab2494"/><circle cx="43.7" cy="133" r="0.47" fill="#910ea3"/><circle cx="43" cy="132" r="0.59" fill="#ad2793"/></g><g opacity="0.60" filter="url(#b08)"><circle cx="115.4" cy="94.4" r="1.6" fill="#7e03a8"/><circle cx="121.3" cy="95" r="1.5" fill="#7e03a8"/><circle cx="115.2" cy="120.9" r="2.2" fill="#8f0da4"/></g><circle cx="115.4" cy="94.4" r="0.8" fill="#cc4778"/><circle cx="121.3" cy="95" r="0.7" fill="#cc4778"/><circle cx="118.3" cy="94" r="0.5" fill="#8f0da4"/><circle cx="115.2" cy="120.9" r="1.1" fill="#e56a5d"/><circle cx="115.4" cy="121" r="0.6" fill="#fca636"/>
<rect x="237" y="3" width="190" height="190" fill="#000"/><circle cx="332" cy="98" r="87" fill="#fefeba"/><g opacity="0.70"><circle cx="316.4" cy="122.3" r="0.37" fill="#f7814c"/><circle cx="305.8" cy="120.4" r="0.58" fill="#fa9656"/><circle cx="292.5" cy="121.8" r="0.55" fill="#f8864f"/><circle cx="293.7" cy="125.1" r="0.6" fill="#feca79"/><circle cx="308.3" cy="123" r="0.51" fill="#f99153"/><circle cx="301.6" cy="124.1" r="0.51" fill="#fa9656"/><circle cx="289.2" cy="127.8" r="0.53" fill="#fdad60"/><circle cx="300.1" cy="124.6" r="0.46" fill="#f8864f"/><circle cx="274.6" cy="123.4" r="0.59" fill="#f88950"/><circle cx="309.8" cy="121.1" r="0.61" fill="#fdc574"/><circle cx="301" cy="119.4" r="0.47" fill="#feca79"/><circle cx="304" cy="123.6" r="0.61" fill="#fdb768"/><circle cx="291.6" cy="124.8" r="0.52" fill="#fdc776"/><circle cx="286.8" cy="124" r="0.47" fill="#fdc372"/><circle cx="306.3" cy="122.3" r="0.55" fill="#fdc776"/><circle cx="298.7" cy="121" r="0.43" fill="#fa9656"/><circle cx="298.7" cy="122.5" r="0.67" fill="#f99153"/><circle cx="305.1" cy="122.8" r="0.69" fill="#fdb768"/><circle cx="291.5" cy="123.9" r="0.58" fill="#fdaf62"/><circle cx="298.2" cy="125.6" r="0.53" fill="#fdc776"/><circle cx="298" cy="123.3" r="0.64" fill="#fdb96a"/><circle cx="303.8" cy="123.1" r="0.61" fill="#f67f4b"/><circle cx="296.8" cy="122.3" r="0.43" fill="#fdc372"/><circle cx="306.7" cy="126" r="0.65" fill="#f99153"/><circle cx="303.5" cy="129.2" r="0.5" fill="#fdb96a"/><circle cx="306.5" cy="124.5" r="0.41" fill="#fdb567"/><circle cx="315.1" cy="127.2" r="0.36" fill="#fdb96a"/><circle cx="305.3" cy="124.3" r="0.63" fill="#f8864f"/><circle cx="304.3" cy="127.6" r="0.48" fill="#f67c4a"/><circle cx="304" cy="123.9" r="0.36" fill="#fa9857"/><circle cx="291.4" cy="121.2" r="0.39" fill="#fa9857"/><circle cx="307.5" cy="124.5" r="0.62" fill="#fdb96a"/><circle cx="309.6" cy="121.5" r="0.65" fill="#fdb768"/><circle cx="295.1" cy="124.3" r="0.58" fill="#fa9656"/><circle cx="306.1" cy="125.7" r="0.66" fill="#f7844e"/><circle cx="294" cy="122.7" r="0.53" fill="#f8864f"/><circle cx="305.2" cy="123.5" r="0.56" fill="#fba05b"/><circle cx="308.9" cy="124.4" r="0.4" fill="#f67f4b"/><circle cx="304.1" cy="124.3" r="0.38" fill="#fdb365"/><circle cx="280" cy="123.6" r="0.68" fill="#feca79"/><circle cx="306.3" cy="119.7" r="0.36" fill="#fdaf62"/><circle cx="291" cy="98.6" r="0.48" fill="#f99153"/><circle cx="293.1" cy="115.1" r="0.3" fill="#f67c4a"/><circle cx="300.5" cy="112.4" r="0.48" fill="#f98e52"/><circle cx="310.6" cy="113.3" r="0.36" fill="#f98e52"/><circle cx="292.8" cy="108.7" r="0.38" fill="#fdb365"/><circle cx="310.6" cy="129.1" r="0.54" fill="#fdb96a"/><circle cx="293" cy="114.4" r="0.45" fill="#f67f4b"/><circle cx="293.3" cy="115.4" r="0.35" fill="#f7814c"/><circle cx="308.4" cy="101.9" r="0.43" fill="#fdc776"/><circle cx="298" cy="105.2" r="0.55" fill="#fa9b58"/><circle cx="321.6" cy="111.6" r="0.33" fill="#fa9656"/><circle cx="313.9" cy="98.7" r="0.3" fill="#fba35c"/><circle cx="294.3" cy="115.5" r="0.35" fill="#fdaf62"/><circle cx="313" cy="113.3" r="0.39" fill="#fdc776"/><circle cx="321.4" cy="117" r="0.35" fill="#fdad60"/><circle cx="295.5" cy="116.3" r="0.49" fill="#fb9d59"/><circle cx="309" cy="113.2" r="0.32" fill="#fdc171"/><circle cx="287.4" cy="92.3" r="0.47" fill="#f67c4a"/><circle cx="294.7" cy="96.9" r="0.48" fill="#fca85e"/><circle cx="297.4" cy="117.8" r="0.5" fill="#f99153"/><circle cx="292.6" cy="108.3" r="0.54" fill="#fdbf6f"/><circle cx="324" cy="102.9" r="0.37" fill="#f98e52"/><circle cx="296.5" cy="110.5" r="0.41" fill="#fdb567"/><circle cx="317.7" cy="104.1" r="0.5" fill="#f7814c"/><circle cx="281.3" cy="134.7" r="0.34" fill="#fba05b"/><circle cx="309.3" cy="111.6" r="0.52" fill="#feca79"/><circle cx="301.6" cy="106.2" r="0.37" fill="#f98e52"/><circle cx="297.1" cy="98" r="0.41" fill="#fcaa5f"/><circle cx="315.5" cy="117.3" r="0.54" fill="#fdbb6c"/><circle cx="315.9" cy="116.2" r="0.48" fill="#f99153"/><circle cx="314.7" cy="103.9" r="0.48" fill="#fb9d59"/><circle cx="324.2" cy="109.5" r="0.44" fill="#f8864f"/><circle cx="302.5" cy="110.8" r="0.45" fill="#fdc372"/><circle cx="310.6" cy="119.7" r="0.42" fill="#fb9d59"/><circle cx="298.6" cy="89.5" r="0.48" fill="#fca55d"/><circle cx="314.6" cy="108.1" r="0.49" fill="#fdb365"/><circle cx="306.6" cy="92.5" r="0.36" fill="#fdb163"/><circle cx="291.6" cy="117.7" r="0.54" fill="#fdb365"/><circle cx="317.3" cy="110.7" r="0.48" fill="#fdc372"/><circle cx="317.7" cy="119.3" r="0.36" fill="#aedea3"/><circle cx="321.3" cy="119.6" r="0.62" fill="#b1dfa3"/><circle cx="327.9" cy="125.7" r="0.58" fill="#daf09a"/><circle cx="321.8" cy="119.7" r="0.41" fill="#b5e1a2"/><circle cx="325.6" cy="125.6" r="0.48" fill="#d6ee9b"/><circle cx="317.9" cy="121.9" r="0.41" fill="#acdda4"/><circle cx="322.3" cy="123.1" r="0.5" fill="#b3e0a2"/><circle cx="318.4" cy="119.5" r="0.5" fill="#bfe5a0"/><circle cx="320.4" cy="124.7" r="0.5" fill="#e4f498"/><circle cx="327.9" cy="125" r="0.4" fill="#bae3a1"/><circle cx="322.9" cy="120.5" r="0.55" fill="#b8e2a1"/><circle cx="323.4" cy="122" r="0.4" fill="#cfec9d"/><circle cx="318.7" cy="123.5" r="0.35" fill="#c6e89f"/><circle cx="325.7" cy="122.5" r="0.51" fill="#cfec9d"/><circle cx="314.4" cy="124.8" r="0.44" fill="#bfe5a0"/><circle cx="317.1" cy="123.3" r="0.62" fill="#e1f399"/><circle cx="392.3" cy="104" r="0.46" fill="#b8e2a1"/><circle cx="386.6" cy="103.7" r="0.51" fill="#e1f399"/><circle cx="386" cy="104" r="0.43" fill="#b3e0a2"/><circle cx="392.5" cy="101.6" r="0.38" fill="#d8ef9b"/><circle cx="385.8" cy="107.8" r="0.37" fill="#acdda4"/><circle cx="398.5" cy="111.8" r="0.39" fill="#d1ed9c"/><circle cx="389" cy="108.5" r="0.41" fill="#ddf19a"/><circle cx="385.3" cy="108.2" r="0.52" fill="#aedea3"/><circle cx="382" cy="109" r="0.53" fill="#d3ed9c"/><circle cx="393.6" cy="108.7" r="0.35" fill="#bfe5a0"/><circle cx="386" cy="109.7" r="0.5" fill="#d8ef9b"/><circle cx="393.1" cy="101.7" r="0.4" fill="#b5e1a2"/><circle cx="333.8" cy="125.7" r="0.49" fill="#c8e99e"/><circle cx="336" cy="93.9" r="0.45" fill="#bae3a1"/><circle cx="361" cy="98.3" r="0.45" fill="#acdda4"/><circle cx="341.4" cy="122.8" r="0.43" fill="#cfec9d"/><circle cx="340.1" cy="115" r="0.49" fill="#d1ed9c"/><circle cx="324.1" cy="114.5" r="0.34" fill="#acdda4"/><circle cx="346.7" cy="113.4" r="0.37" fill="#d1ed9c"/><circle cx="363" cy="103.8" r="0.45" fill="#cdeb9d"/><circle cx="337.9" cy="110.4" r="0.47" fill="#cfec9d"/><circle cx="341.9" cy="123.1" r="0.33" fill="#d3ed9c"/><circle cx="349" cy="110.4" r="0.33" fill="#daf09a"/><circle cx="344.9" cy="120.4" r="0.35" fill="#d1ed9c"/><circle cx="345.2" cy="117.9" r="0.42" fill="#d1ed9c"/><circle cx="333.1" cy="121.8" r="0.31" fill="#ddf19a"/></g><g opacity="0.90"><circle cx="311.7" cy="70.5" r="0.71" fill="#8fd2a4"/><circle cx="307.9" cy="71.1" r="0.54" fill="#50a9af"/><circle cx="309.6" cy="70.8" r="0.8" fill="#71c6a5"/><circle cx="308.7" cy="71.6" r="0.53" fill="#49a2b2"/><circle cx="309.2" cy="70.6" r="0.62" fill="#3d95b8"/><circle cx="313.7" cy="71.3" r="0.58" fill="#6ec5a5"/><circle cx="310.3" cy="71.4" r="0.44" fill="#3b92b9"/><circle cx="320.4" cy="75.2" r="0.6" fill="#fba35c"/><circle cx="319.6" cy="74.1" r="0.64" fill="#d63f4f"/><circle cx="319.5" cy="74.3" r="0.45" fill="#de4c4b"/><circle cx="318.6" cy="73.5" r="0.69" fill="#f67f4b"/><circle cx="338.7" cy="94.2" r="0.5" fill="#66c2a5"/><circle cx="335.7" cy="93.3" r="0.6" fill="#97d5a4"/><circle cx="337.1" cy="95.6" r="0.73" fill="#64c0a6"/><circle cx="335.3" cy="91.6" r="0.46" fill="#66c2a5"/><circle cx="336.7" cy="93.9" r="0.44" fill="#86cfa5"/><circle cx="337.1" cy="93.7" r="0.55" fill="#5cb7aa"/><circle cx="337.9" cy="91.8" r="0.69" fill="#64c0a6"/><circle cx="341.7" cy="94.4" r="0.44" fill="#fa9656"/><circle cx="340.6" cy="94.2" r="0.55" fill="#e75948"/><circle cx="340" cy="95.1" r="0.56" fill="#f99355"/><circle cx="341.6" cy="93.5" r="0.59" fill="#e75948"/><circle cx="341.4" cy="91.8" r="0.49" fill="#f8864f"/><circle cx="340.6" cy="93.3" r="0.41" fill="#f57245"/><circle cx="314.8" cy="115.3" r="0.73" fill="#f67f4b"/><circle cx="313.6" cy="108.8" r="0.78" fill="#f26944"/><circle cx="316.1" cy="114.8" r="0.83" fill="#fa9857"/><circle cx="314.4" cy="112.4" r="0.58" fill="#dc484c"/><circle cx="313.9" cy="109.6" r="0.57" fill="#fca85e"/><circle cx="316.5" cy="111.9" r="0.69" fill="#e75948"/><circle cx="315" cy="119.5" r="0.78" fill="#e55749"/><circle cx="315.6" cy="110.3" r="0.67" fill="#ee6445"/><circle cx="314.4" cy="109.1" r="0.76" fill="#dc484c"/><circle cx="314.4" cy="110.3" r="0.86" fill="#e2514a"/><circle cx="314" cy="116.9" r="0.66" fill="#f47044"/><circle cx="315.1" cy="111.9" r="0.81" fill="#f8864f"/><circle cx="314.8" cy="109.2" r="0.68" fill="#ea5e47"/><circle cx="313.9" cy="113.5" r="0.58" fill="#f26944"/><circle cx="315" cy="116.8" r="0.73" fill="#e85b48"/><circle cx="315.2" cy="117.3" r="0.84" fill="#e2514a"/><circle cx="313.6" cy="109.5" r="0.85" fill="#f7844e"/><circle cx="314.4" cy="115.3" r="0.83" fill="#e75948"/><circle cx="316.4" cy="113.6" r="0.58" fill="#e85b48"/><circle cx="314.3" cy="115.5" r="0.79" fill="#ea5e47"/><circle cx="305.8" cy="117.9" r="0.73" fill="#d63f4f"/><circle cx="306.4" cy="117.2" r="0.46" fill="#f67a49"/><circle cx="306.7" cy="117.8" r="0.64" fill="#fba35c"/><circle cx="306.1" cy="116.6" r="0.72" fill="#fba35c"/><circle cx="307.6" cy="118.2" r="0.79" fill="#fca55d"/><circle cx="334.2" cy="121.7" r="0.85" fill="#5eb9a9"/><circle cx="332.1" cy="116.9" r="0.59" fill="#84cea5"/><circle cx="336.6" cy="120" r="0.56" fill="#5cb7aa"/><circle cx="330.8" cy="120.2" r="0.89" fill="#71c6a5"/><circle cx="330.5" cy="119.3" r="0.59" fill="#84cea5"/><circle cx="328.3" cy="118.3" r="0.54" fill="#3f97b7"/><circle cx="332.6" cy="118.5" r="0.78" fill="#71c6a5"/><circle cx="331.8" cy="118.9" r="0.7" fill="#64c0a6"/><circle cx="333.7" cy="116.7" r="0.78" fill="#52abae"/><circle cx="333.1" cy="119.4" r="0.69" fill="#8fd2a4"/><circle cx="334.4" cy="120.2" r="0.72" fill="#5cb7aa"/><circle cx="329.2" cy="115.6" r="0.54" fill="#60bba8"/><circle cx="336.3" cy="120.4" r="0.67" fill="#8cd1a4"/><circle cx="331.6" cy="121.5" r="0.69" fill="#3f97b7"/><circle cx="331.5" cy="120.3" r="0.87" fill="#5cb7aa"/><circle cx="336.6" cy="121" r="0.65" fill="#3f97b7"/><circle cx="329.9" cy="116.5" r="0.86" fill="#64c0a6"/><circle cx="333.6" cy="118.9" r="0.64" fill="#49a2b2"/><circle cx="336.9" cy="119.1" r="0.9" fill="#54aead"/><circle cx="333.7" cy="118.5" r="0.72" fill="#5cb7aa"/><circle cx="324" cy="121.1" r="0.72" fill="#8cd1a4"/><circle cx="327.6" cy="121" r="0.79" fill="#49a2b2"/><circle cx="324.9" cy="119.5" r="0.76" fill="#99d6a4"/><circle cx="325.6" cy="123" r="0.76" fill="#71c6a5"/><circle cx="326.2" cy="120.1" r="0.64" fill="#94d4a4"/><circle cx="325.6" cy="121.4" r="0.4" fill="#71c6a5"/><circle cx="324.2" cy="120.5" r="0.66" fill="#97d5a4"/><circle cx="262.8" cy="131.3" r="0.52" fill="#fba35c"/><circle cx="264.6" cy="131.5" r="0.54" fill="#eb6046"/><circle cx="264.2" cy="130.3" r="0.55" fill="#f06744"/><circle cx="263" cy="132.9" r="0.64" fill="#f67f4b"/><circle cx="264.8" cy="132" r="0.44" fill="#ea5e47"/><circle cx="265.2" cy="132.6" r="0.6" fill="#66c2a5"/><circle cx="373.8" cy="110.2" r="0.79" fill="#f67f4b"/><circle cx="369.8" cy="109.4" r="0.58" fill="#f26944"/><circle cx="369.7" cy="110.5" r="0.49" fill="#f98e52"/><circle cx="374.2" cy="109.1" r="0.65" fill="#d7414e"/><circle cx="369.9" cy="112.6" r="0.79" fill="#f57245"/><circle cx="368.5" cy="108.9" r="0.5" fill="#f88950"/><circle cx="368.7" cy="112.1" r="0.58" fill="#f7814c"/><circle cx="368.9" cy="109.3" r="0.58" fill="#fca85e"/><circle cx="371.1" cy="108.3" r="0.6" fill="#fba05b"/><circle cx="371" cy="107.7" r="0.78" fill="#dc484c"/><circle cx="377.5" cy="105.5" r="0.58" fill="#3f97b7"/><circle cx="381.4" cy="106.4" r="0.65" fill="#50a9af"/><circle cx="379" cy="105.4" r="0.72" fill="#76c8a5"/><circle cx="381.2" cy="108.5" r="0.66" fill="#6ec5a5"/><circle cx="374.3" cy="106.7" r="0.72" fill="#71c6a5"/><circle cx="381.6" cy="105.7" r="0.56" fill="#5ab4ab"/><circle cx="380.4" cy="103.6" r="0.67" fill="#58b2ac"/><circle cx="379.2" cy="107" r="0.58" fill="#8fd2a4"/><circle cx="381.2" cy="106.2" r="0.64" fill="#52abae"/></g>
<rect x="457" y="3" width="190" height="190" fill="#000"/><clipPath id="cpAz"><circle cx="552" cy="98" r="87"/></clipPath><radialGradient id="rgAz" cx="0.5" cy="0.5" r="0.5"><stop offset="0.8" stop-color="#b05070" stop-opacity="0"/><stop offset="1" stop-color="#b06080" stop-opacity="0.14"/></radialGradient><linearGradient id="lgAz" x1="0" y1="0" x2="1" y2="1"><stop offset="0" stop-color="#7a70b0" stop-opacity="0.2"/><stop offset="0.5" stop-color="#8a6090" stop-opacity="0"/><stop offset="1" stop-color="#b05a78" stop-opacity="0.16"/></linearGradient><g clip-path="url(#cpAz)"><rect x="465" y="11" width="175" height="175" fill="#8d6096"/><rect x="465" y="11" width="175" height="175" filter="url(#nzAz)" opacity="0.24"/><rect x="465" y="11" width="175" height="175" filter="url(#nzAzb)" opacity="0.09"/><rect x="465" y="11" width="175" height="175" fill="url(#lgAz)"/><circle cx="552" cy="98" r="87.5" fill="url(#rgAz)"/></g><g opacity="0.65"><circle cx="521.6" cy="127.5" r="0.65" fill="#5c369b"/><circle cx="519.4" cy="125.1" r="0.51" fill="#562182"/><circle cx="520.7" cy="126.7" r="0.9" fill="#5e43a5"/><circle cx="524.5" cy="123.9" r="0.76" fill="#5f62b4"/><circle cx="513" cy="123.1" r="0.71" fill="#59288d"/><circle cx="520" cy="125" r="0.8" fill="#5c379c"/><circle cx="520.5" cy="125.9" r="0.85" fill="#5d42a4"/><circle cx="518.6" cy="122.3" r="0.79" fill="#511b77"/><circle cx="512.5" cy="127.3" r="0.68" fill="#511a75"/><circle cx="523" cy="125" r="0.55" fill="#5f5bb2"/><circle cx="527.3" cy="125.1" r="0.75" fill="#5e53ae"/><circle cx="515.1" cy="125.4" r="0.64" fill="#5c379c"/><circle cx="509.8" cy="123.8" r="0.77" fill="#511a75"/><circle cx="532.4" cy="121.6" r="0.77" fill="#5f61b4"/><circle cx="530.9" cy="122.3" r="0.86" fill="#5c389d"/><circle cx="520.1" cy="124.4" r="0.83" fill="#5c389d"/><circle cx="520.5" cy="126.1" r="0.84" fill="#4d176d"/><circle cx="530.2" cy="127" r="0.66" fill="#5f62b4"/><circle cx="518.2" cy="128.1" r="0.85" fill="#606cb8"/><circle cx="519.6" cy="125.2" r="0.79" fill="#5e51ad"/><circle cx="533.4" cy="122.4" r="0.7" fill="#4c176b"/><circle cx="520.1" cy="126.1" r="0.74" fill="#606db8"/><circle cx="523" cy="127" r="0.74" fill="#5f61b4"/><circle cx="532.6" cy="126.3" r="0.63" fill="#4f1972"/><circle cx="525.7" cy="124.6" r="0.68" fill="#5d3da1"/><circle cx="516" cy="123.8" r="0.72" fill="#5c3499"/><circle cx="530" cy="109.8" r="0.57" fill="#592a8f"/><circle cx="520.6" cy="116.2" r="0.79" fill="#5d3da1"/><circle cx="518.7" cy="111.8" r="0.57" fill="#5c389d"/><circle cx="532.3" cy="112.9" r="0.65" fill="#606ab7"/><circle cx="513" cy="108" r="0.67" fill="#5e4eab"/><circle cx="516.1" cy="104.1" r="0.41" fill="#606ab7"/><circle cx="509.6" cy="100.5" r="0.5" fill="#5e45a6"/><circle cx="513.4" cy="109.6" r="0.55" fill="#5e52ad"/><circle cx="511.8" cy="116.9" r="0.52" fill="#5e4caa"/><circle cx="520.3" cy="110.8" r="0.63" fill="#59298e"/><circle cx="517.6" cy="115.3" r="0.72" fill="#5f59b1"/><circle cx="523.7" cy="116.9" r="0.68" fill="#6067b6"/><circle cx="590.3" cy="136.1" r="0.6" fill="#993650"/><circle cx="599.5" cy="123.2" r="0.45" fill="#a94850"/><circle cx="604.9" cy="120.8" r="0.42" fill="#7e2250"/><circle cx="587.3" cy="126.8" r="0.59" fill="#b35953"/><circle cx="598.9" cy="135.4" r="0.59" fill="#a84750"/><circle cx="598.8" cy="119.4" r="0.39" fill="#8e2c50"/><circle cx="597.6" cy="120.3" r="0.45" fill="#983550"/><circle cx="584.2" cy="133" r="0.63" fill="#802350"/><circle cx="623.7" cy="128.7" r="0.61" fill="#ba6657"/><circle cx="568.1" cy="137.8" r="0.63" fill="#872750"/><circle cx="594.4" cy="109" r="0.55" fill="#a03d50"/><circle cx="592.3" cy="136.9" r="0.42" fill="#781f4f"/><circle cx="586.6" cy="123.7" r="0.59" fill="#751e4f"/><circle cx="610.2" cy="119.2" r="0.63" fill="#b65e54"/><circle cx="607.7" cy="120.3" r="0.35" fill="#af5151"/><circle cx="599.8" cy="135.4" r="0.55" fill="#a03e50"/><circle cx="570.7" cy="140.2" r="0.53" fill="#922f50"/><circle cx="594.6" cy="147.9" r="0.49" fill="#b15452"/><circle cx="528.1" cy="45.3" r="0.48" fill="#d7d7dd"/><circle cx="547.5" cy="34.4" r="0.55" fill="#d7d7dd"/><circle cx="587.9" cy="31.5" r="0.56" fill="#d7d7dd"/><circle cx="582.2" cy="40.7" r="0.57" fill="#d7d7dd"/><circle cx="562.7" cy="42.5" r="0.42" fill="#d7d7dd"/><circle cx="509" cy="38.2" r="0.47" fill="#d7d7dd"/><circle cx="540.3" cy="39.4" r="0.36" fill="#d7d7dd"/><circle cx="550.8" cy="43.7" r="0.37" fill="#d7d7dd"/><circle cx="598.2" cy="36.9" r="0.37" fill="#d7d7dd"/><circle cx="513.9" cy="39.9" r="0.43" fill="#d7d7dd"/><circle cx="514.3" cy="51.6" r="0.5" fill="#d7d7dd"/><circle cx="527.5" cy="45" r="0.43" fill="#d7d7dd"/><circle cx="567.2" cy="48.9" r="0.53" fill="#d7d7dd"/><circle cx="531.1" cy="42.8" r="0.39" fill="#d7d7dd"/><circle cx="511.4" cy="49.7" r="0.55" fill="#d7d7dd"/><circle cx="500.6" cy="52.3" r="0.51" fill="#d7d7dd"/></g><g opacity="0.90"><circle cx="529" cy="71.4" r="0.6" fill="#d9c9c2"/><circle cx="529.2" cy="71.2" r="0.61" fill="#d1b6a3"/><circle cx="530.5" cy="71.5" r="0.41" fill="#e2d9e1"/><circle cx="532.2" cy="72.1" r="0.78" fill="#e1d8dd"/><circle cx="529.1" cy="69.6" r="0.63" fill="#e0d9e2"/><circle cx="529.2" cy="71.1" r="0.56" fill="#dccfcd"/><circle cx="530.6" cy="71.2" r="0.74" fill="#e1d8dd"/><circle cx="533.5" cy="70.7" r="0.57" fill="#b15552"/><circle cx="534" cy="72.7" r="0.55" fill="#ac4d51"/><circle cx="533.6" cy="73.2" r="0.68" fill="#781f4f"/><circle cx="558.4" cy="95.4" r="0.83" fill="#3d114d"/><circle cx="560" cy="94.9" r="0.75" fill="#3e113c"/><circle cx="558" cy="94.8" r="0.66" fill="#361142"/><circle cx="558.7" cy="94.4" r="0.7" fill="#531545"/><circle cx="556.9" cy="95.1" r="0.56" fill="#3a113a"/><circle cx="559.5" cy="92.7" r="0.71" fill="#301338"/><circle cx="557" cy="92.5" r="0.56" fill="#46145e"/><circle cx="559.4" cy="92" r="0.71" fill="#32123a"/><circle cx="559.2" cy="93.6" r="0.61" fill="#3f1251"/><circle cx="558.1" cy="93.8" r="0.59" fill="#3a113a"/><circle cx="557.4" cy="94.2" r="0.61" fill="#c89477"/><circle cx="554.9" cy="95.2" r="0.58" fill="#c89477"/><circle cx="556.5" cy="95" r="0.41" fill="#c89477"/><circle cx="561.7" cy="95.1" r="0.45" fill="#d0b39e"/><circle cx="562" cy="95.5" r="0.63" fill="#d0b39e"/><circle cx="564" cy="96.9" r="0.54" fill="#d0b39e"/><circle cx="550.4" cy="118.2" r="0.83" fill="#dccfcd"/><circle cx="553.5" cy="119.5" r="0.88" fill="#c4ced4"/><circle cx="550.9" cy="119.8" r="0.59" fill="#c7d0d5"/><circle cx="553.7" cy="118.3" r="0.58" fill="#dcd9df"/><circle cx="554.1" cy="118.6" r="0.85" fill="#dad8df"/><circle cx="554" cy="120.6" r="0.87" fill="#dacbc5"/><circle cx="554.8" cy="119.6" r="0.67" fill="#d4beaf"/><circle cx="550.3" cy="121.1" r="0.55" fill="#dbd8df"/><circle cx="549.9" cy="120.4" r="0.6" fill="#dfd4d6"/><circle cx="552.7" cy="117.8" r="0.77" fill="#e0d7db"/><circle cx="557.1" cy="122.5" r="0.64" fill="#dccdca"/><circle cx="551.8" cy="119.5" r="0.62" fill="#c7d0d5"/><circle cx="554.8" cy="123.3" r="0.76" fill="#dfd9e1"/><circle cx="555.6" cy="118.1" r="0.76" fill="#d5d6dc"/><circle cx="550.6" cy="120" r="0.57" fill="#dfd4d7"/><circle cx="551.4" cy="120.7" r="0.65" fill="#d1b5a1"/><circle cx="552.7" cy="122.9" r="0.64" fill="#d9d8de"/><circle cx="549.8" cy="122.6" r="0.54" fill="#dbd8df"/><circle cx="547.8" cy="117.8" r="0.54" fill="#dccfcd"/><circle cx="554.2" cy="116.5" r="0.74" fill="#dfd9e1"/><circle cx="542.2" cy="125.3" r="0.51" fill="#d8c6bd"/><circle cx="551.6" cy="125.9" r="0.76" fill="#d8c7be"/><circle cx="537.2" cy="123" r="0.69" fill="#e1d8dd"/><circle cx="547.1" cy="125.6" r="0.67" fill="#e0d9e2"/><circle cx="539.6" cy="125.6" r="0.61" fill="#ded9e1"/><circle cx="548" cy="123" r="0.78" fill="#e0d9e2"/><circle cx="549.2" cy="127.1" r="0.67" fill="#e1d9e2"/><circle cx="539.8" cy="125.4" r="0.46" fill="#d7c4b9"/><circle cx="543.8" cy="124.9" r="0.75" fill="#cdd3d8"/><circle cx="544.3" cy="124.4" r="0.73" fill="#e1d8dd"/><circle cx="543.6" cy="124.7" r="0.56" fill="#c2ced4"/><circle cx="543.4" cy="124.3" r="0.62" fill="#e1d9e2"/><circle cx="542.5" cy="124.7" r="0.61" fill="#c5cfd5"/><circle cx="543.4" cy="125.6" r="0.54" fill="#dacac3"/><circle cx="555.7" cy="121" r="0.5" fill="#5f5db2"/><circle cx="556.7" cy="120.8" r="0.64" fill="#5f5eb3"/><circle cx="556.7" cy="122.2" r="0.62" fill="#5f60b4"/><circle cx="557.2" cy="121.6" r="0.55" fill="#5d41a3"/><circle cx="556.8" cy="121.6" r="0.63" fill="#5e49a9"/><circle cx="556.4" cy="121.1" r="0.62" fill="#5e4ba9"/><circle cx="560.1" cy="122" r="0.57" fill="#6067b6"/><circle cx="555" cy="119.6" r="0.69" fill="#361142"/><circle cx="555.7" cy="119.7" r="0.72" fill="#3a1149"/><circle cx="555.7" cy="118.5" r="0.78" fill="#391146"/><circle cx="555.5" cy="120.2" r="0.74" fill="#361138"/><circle cx="483.9" cy="132.4" r="0.7" fill="#4f1970"/><circle cx="483.7" cy="131.8" r="0.51" fill="#6068b6"/><circle cx="484.1" cy="132" r="0.52" fill="#5b3196"/><circle cx="483.9" cy="131" r="0.79" fill="#5d42a4"/><circle cx="482.5" cy="128.6" r="0.78" fill="#606db8"/><circle cx="484.6" cy="133.8" r="0.78" fill="#6068b6"/><circle cx="485.1" cy="134.6" r="0.53" fill="#5e4ba9"/><circle cx="591.1" cy="111.3" r="0.87" fill="#832550"/><circle cx="592.4" cy="106.6" r="0.83" fill="#a24050"/><circle cx="594.3" cy="108.5" r="0.67" fill="#872750"/><circle cx="593" cy="107.4" r="0.61" fill="#832550"/><circle cx="592.1" cy="107.1" r="0.78" fill="#953250"/><circle cx="591.4" cy="109.3" r="0.78" fill="#741e4f"/><circle cx="589.3" cy="109.8" r="0.77" fill="#7b2150"/><circle cx="592.9" cy="112.3" r="0.76" fill="#b55c54"/><circle cx="594.1" cy="107.9" r="0.86" fill="#ae5051"/><circle cx="591.6" cy="110.5" r="0.53" fill="#963350"/><circle cx="593.5" cy="109" r="0.73" fill="#7d2150"/><circle cx="595.1" cy="110.3" r="0.6" fill="#761f4f"/><circle cx="602.7" cy="107.9" r="0.73" fill="#4c1669"/><circle cx="601.7" cy="109.8" r="0.59" fill="#331237"/><circle cx="597.9" cy="107.5" r="0.74" fill="#41123d"/><circle cx="599.7" cy="106.2" r="0.57" fill="#471461"/><circle cx="601.4" cy="105.8" r="0.51" fill="#531545"/><circle cx="602.3" cy="109" r="0.53" fill="#311339"/><circle cx="601.6" cy="108.8" r="0.75" fill="#361139"/><circle cx="601.3" cy="103.8" r="0.64" fill="#341238"/><circle cx="600.1" cy="106.6" r="0.83" fill="#341238"/><circle cx="601.5" cy="105.6" r="0.72" fill="#311339"/><circle cx="595.4" cy="106.1" r="0.6" fill="#301338"/><circle cx="596.9" cy="107.1" r="0.72" fill="#33113c"/><circle cx="594.5" cy="105.4" r="0.56" fill="#361142"/><circle cx="596.6" cy="106.5" r="0.63" fill="#47145f"/><circle cx="619.3" cy="106.2" r="0.77" fill="#3c113b"/><circle cx="623.6" cy="103" r="0.64" fill="#4f1444"/><circle cx="616.8" cy="105.2" r="0.78" fill="#4b1342"/><circle cx="621.4" cy="105.1" r="0.71" fill="#33113d"/><circle cx="623.9" cy="105.5" r="0.52" fill="#4f1444"/><circle cx="619.4" cy="106" r="0.69" fill="#391146"/></g>
<svg x="7.0" y="238.7" width="66.5" height="66.0" viewBox="0 0 66.5 66.0" overflow="hidden"><rect width="67" height="66" fill="#26028c"/><rect width="67" height="66" filter="url(#nzFs)" opacity="0.35"/><g opacity="0.60"><circle cx="13.3" cy="10.9" r="0.62" fill="#6600a7"/><circle cx="11.9" cy="9.4" r="0.8" fill="#5102a3"/><circle cx="14.2" cy="8.7" r="0.9" fill="#5c01a6"/><circle cx="15.7" cy="9.1" r="0.62" fill="#48039f"/><circle cx="14.3" cy="9.4" r="0.84" fill="#5b01a5"/><circle cx="17.4" cy="10.8" r="0.56" fill="#6400a7"/><circle cx="15.4" cy="9.4" r="0.88" fill="#6001a6"/><circle cx="16.5" cy="11.4" r="0.61" fill="#6600a7"/><circle cx="13.2" cy="8.4" r="0.57" fill="#4e02a2"/><circle cx="12.5" cy="9.1" r="0.63" fill="#6600a7"/><circle cx="15.6" cy="9.3" r="0.62" fill="#5c01a6"/><circle cx="12.1" cy="11.1" r="0.77" fill="#5102a3"/><circle cx="15.8" cy="10.3" r="0.76" fill="#6001a6"/><circle cx="11.8" cy="11" r="0.79" fill="#6600a7"/><circle cx="11.1" cy="26.4" r="0.61" fill="#44039e"/><circle cx="13" cy="28.2" r="0.94" fill="#6001a6"/><circle cx="12.5" cy="28.9" r="0.61" fill="#6600a7"/><circle cx="10.9" cy="25.8" r="0.82" fill="#5302a3"/><circle cx="12.5" cy="25.6" r="0.66" fill="#5302a3"/><circle cx="11.5" cy="25.5" r="0.73" fill="#5502a4"/><circle cx="12.4" cy="27.3" r="0.65" fill="#5e01a6"/><circle cx="11.4" cy="29.9" r="0.7" fill="#6700a8"/><circle cx="15.7" cy="17.9" r="0.89" fill="#6001a6"/><circle cx="16.8" cy="17.2" r="0.56" fill="#4903a0"/><circle cx="16.5" cy="15.3" r="0.66" fill="#5901a5"/><circle cx="17.2" cy="17.4" r="0.65" fill="#5c01a6"/><circle cx="17.8" cy="18" r="0.82" fill="#5e01a6"/><circle cx="15.7" cy="15.3" r="0.99" fill="#6600a7"/><circle cx="16.8" cy="15.5" r="0.82" fill="#6700a8"/><circle cx="16" cy="14.4" r="0.84" fill="#4903a0"/><circle cx="16.5" cy="13.4" r="0.58" fill="#5601a4"/><circle cx="19" cy="21.3" r="0.86" fill="#6700a8"/><circle cx="20.9" cy="21.4" r="0.62" fill="#6400a7"/><circle cx="18.6" cy="20.8" r="0.94" fill="#4c02a1"/><circle cx="19.1" cy="21.4" r="0.91" fill="#5e01a6"/><circle cx="20.1" cy="23.4" r="0.82" fill="#4b03a1"/><circle cx="20.6" cy="23.3" r="0.58" fill="#5601a4"/><circle cx="21.7" cy="21.3" r="0.57" fill="#6300a7"/><circle cx="19.6" cy="20.4" r="0.56" fill="#6100a7"/><circle cx="52.3" cy="42.4" r="0.5" fill="#3e049c"/><circle cx="56.3" cy="43.3" r="0.47" fill="#4b03a1"/><circle cx="38.2" cy="21.4" r="0.6" fill="#43039e"/><circle cx="67" cy="25.8" r="0.48" fill="#350498"/><circle cx="47" cy="2.8" r="0.52" fill="#38049a"/><circle cx="29.3" cy="19.3" r="0.61" fill="#41049d"/><circle cx="27.5" cy="14.1" r="0.46" fill="#38049a"/><circle cx="25" cy="24" r="0.64" fill="#4b03a1"/><circle cx="27.4" cy="29.1" r="0.43" fill="#3e049c"/><circle cx="65.8" cy="31.3" r="0.7" fill="#46039f"/></g><g opacity="0.55" filter="url(#b12)"><circle cx="28.8" cy="26.2" r="2.1" fill="#7201a8"/><circle cx="29.6" cy="28.4" r="2.1" fill="#7201a8"/><circle cx="30.8" cy="31.3" r="2.1" fill="#7201a8"/><circle cx="32.6" cy="31.6" r="2.1" fill="#7201a8"/><circle cx="34.6" cy="32.2" r="2.1" fill="#7201a8"/><circle cx="35.6" cy="34.4" r="2.1" fill="#7201a8"/><circle cx="36.8" cy="36.7" r="2.1" fill="#7201a8"/></g><g opacity="0.85" filter="url(#b08)"><circle cx="28.8" cy="26.2" r="1.25" fill="#9410a2"/><circle cx="29.6" cy="28.4" r="1.25" fill="#8104a7"/><circle cx="30.8" cy="31.3" r="1.25" fill="#8808a6"/><circle cx="32.6" cy="31.6" r="1.25" fill="#7d03a8"/><circle cx="34.6" cy="32.2" r="1.25" fill="#9e199d"/><circle cx="35.6" cy="34.4" r="1.25" fill="#a82296"/><circle cx="36.8" cy="36.7" r="1.25" fill="#d8576b"/></g><g opacity="0.90"><circle cx="28.9" cy="26.2" r="0.65" fill="#cc4778"/><circle cx="29.5" cy="28.4" r="0.65" fill="#b6308b"/><circle cx="30.9" cy="31.3" r="0.65" fill="#bf3984"/><circle cx="32.4" cy="31.6" r="0.65" fill="#b12a90"/><circle cx="34.5" cy="32.2" r="0.65" fill="#d6556d"/><circle cx="35.5" cy="34.4" r="0.65" fill="#e16462"/><circle cx="36.9" cy="36.7" r="0.9" fill="#fcce25"/></g><path d="M0,33.6 Q7,50.5 16.6,66 L0,66 Z" fill="#000"/></svg>
<svg x="7.0" y="311.1" width="66.5" height="66.0" viewBox="0 0 66.5 66.0" overflow="hidden"><rect width="67" height="66" fill="#26028c"/><rect width="67" height="66" filter="url(#nzFs)" opacity="0.35"/><g opacity="0.32" filter="url(#b20)"><ellipse cx="18" cy="37" rx="15" ry="13" fill="#41049d"/><ellipse cx="30" cy="29" rx="9" ry="10" fill="#4903a0"/></g><g opacity="0.50"><circle cx="18.7" cy="34.4" r="0.61" fill="#4b03a1"/><circle cx="18.9" cy="22.5" r="0.86" fill="#44039e"/><circle cx="18" cy="37" r="0.59" fill="#5601a4"/><circle cx="25.9" cy="37" r="0.76" fill="#5801a4"/><circle cx="22.2" cy="47.8" r="0.82" fill="#41049d"/><circle cx="24.8" cy="22.9" r="0.64" fill="#48039f"/><circle cx="27.9" cy="33.8" r="0.54" fill="#46039f"/><circle cx="27" cy="26" r="0.82" fill="#6001a6"/><circle cx="-3.6" cy="30.5" r="0.65" fill="#5801a4"/><circle cx="26" cy="25" r="0.84" fill="#5901a5"/><circle cx="19.2" cy="33.4" r="0.59" fill="#4e02a2"/><circle cx="25.7" cy="39.1" r="0.54" fill="#4c02a1"/><circle cx="14.4" cy="29.5" r="0.65" fill="#4903a0"/><circle cx="17.7" cy="57" r="0.76" fill="#5b01a5"/><circle cx="26.9" cy="48.8" r="0.57" fill="#5102a3"/><circle cx="32.8" cy="35.2" r="0.72" fill="#5e01a6"/><circle cx="28.6" cy="23" r="0.59" fill="#43039e"/><circle cx="17.2" cy="42.5" r="0.58" fill="#6700a8"/><circle cx="25.6" cy="30.5" r="0.76" fill="#5102a3"/><circle cx="28.6" cy="30.9" r="0.61" fill="#4b03a1"/><circle cx="13.5" cy="33.4" r="0.73" fill="#6600a7"/><circle cx="14.9" cy="39.7" r="0.9" fill="#5601a4"/><circle cx="22.4" cy="37.5" r="0.54" fill="#5b01a5"/><circle cx="22.5" cy="26.9" r="0.53" fill="#5102a3"/><circle cx="31" cy="35.7" r="0.89" fill="#6400a7"/><circle cx="34.3" cy="37" r="0.77" fill="#5801a4"/><circle cx="18.6" cy="48.8" r="0.54" fill="#5302a3"/><circle cx="-1.4" cy="42.4" r="0.85" fill="#4c02a1"/><circle cx="14.4" cy="36" r="0.87" fill="#6400a7"/><circle cx="16.1" cy="48.3" r="0.74" fill="#48039f"/><circle cx="20.9" cy="24.8" r="0.81" fill="#5801a4"/><circle cx="28" cy="36" r="0.51" fill="#6700a8"/><circle cx="32.3" cy="24.3" r="0.62" fill="#44039e"/><circle cx="35.7" cy="20.9" r="0.53" fill="#5601a4"/><circle cx="33.8" cy="42.4" r="0.81" fill="#46039f"/><circle cx="8.8" cy="37.8" r="0.61" fill="#6400a7"/><circle cx="14.5" cy="38.9" r="0.72" fill="#6001a6"/><circle cx="22.4" cy="43.4" r="0.9" fill="#5c01a6"/><circle cx="9.9" cy="40.1" r="0.55" fill="#4b03a1"/><circle cx="13.7" cy="46.2" r="0.59" fill="#4b03a1"/><circle cx="31.5" cy="41.5" r="0.59" fill="#6600a7"/><circle cx="22.2" cy="33.3" r="0.6" fill="#5c01a6"/><circle cx="21.1" cy="40.7" r="0.87" fill="#5901a5"/><circle cx="4.5" cy="38.7" r="0.82" fill="#4903a0"/><circle cx="27.8" cy="41.5" r="0.67" fill="#5502a4"/><circle cx="18.2" cy="22.7" r="0.89" fill="#46039f"/><circle cx="13.3" cy="40.7" r="0.84" fill="#4b03a1"/><circle cx="23.6" cy="45.1" r="0.67" fill="#4c02a1"/><circle cx="20" cy="56.4" r="0.68" fill="#6400a7"/><circle cx="17.2" cy="35.1" r="0.9" fill="#6400a7"/><circle cx="40.2" cy="32" r="0.84" fill="#48039f"/><circle cx="13.8" cy="36.6" r="0.66" fill="#44039e"/><circle cx="1.1" cy="54" r="0.61" fill="#6100a7"/><circle cx="10.9" cy="38.6" r="0.88" fill="#6a00a8"/><circle cx="6.5" cy="31.1" r="0.56" fill="#4e02a2"/><circle cx="31.6" cy="33.7" r="0.72" fill="#6001a6"/><circle cx="31.2" cy="40.2" r="0.7" fill="#6400a7"/><circle cx="32.6" cy="55.1" r="0.53" fill="#4903a0"/><circle cx="8.8" cy="28.4" r="0.59" fill="#46039f"/><circle cx="25.2" cy="31.7" r="0.74" fill="#5b01a5"/><circle cx="9.6" cy="41.8" r="0.71" fill="#6700a8"/><circle cx="24" cy="49.7" r="0.6" fill="#5102a3"/><circle cx="16.4" cy="29.3" r="0.63" fill="#6001a6"/><circle cx="28.9" cy="40.4" r="0.9" fill="#6a00a8"/><circle cx="25.6" cy="38.8" r="0.61" fill="#6700a8"/><circle cx="33.6" cy="23.4" r="0.65" fill="#48039f"/><circle cx="27" cy="23.9" r="0.74" fill="#6900a8"/><circle cx="19.4" cy="35.1" r="0.83" fill="#4e02a2"/><circle cx="9" cy="17.8" r="0.55" fill="#46039f"/><circle cx="28.9" cy="43.1" r="0.61" fill="#5b01a5"/></g><g opacity="0.70" filter="url(#b08)"><circle cx="29.4" cy="19.3" r="1.95" fill="#8f0da4"/><circle cx="32" cy="18.3" r="1.5" fill="#7a02a8"/><circle cx="18.9" cy="20" r="1.5" fill="#7100a8"/><circle cx="16.7" cy="28.5" r="1.8" fill="#7e03a8"/><circle cx="13" cy="25.2" r="1.35" fill="#6300a7"/><circle cx="22.5" cy="36" r="1.8" fill="#7e03a8"/><circle cx="27" cy="36.4" r="1.8" fill="#7e03a8"/><circle cx="24" cy="31" r="1.5" fill="#6c00a8"/><circle cx="37.8" cy="21.5" r="1.35" fill="#5e01a6"/><circle cx="36.4" cy="17.2" r="1.2" fill="#5801a4"/><circle cx="43.6" cy="13.5" r="1.05" fill="#44039e"/><circle cx="24.7" cy="43.6" r="1.8" fill="#6c00a8"/><circle cx="21.5" cy="44.2" r="1.5" fill="#6300a7"/><circle cx="28" cy="43" r="1.5" fill="#6300a7"/><circle cx="19" cy="45.5" r="1.5" fill="#6300a7"/><circle cx="8.7" cy="51.3" r="1.65" fill="#6700a8"/><circle cx="2.9" cy="47" r="1.65" fill="#6c00a8"/><circle cx="4" cy="30" r="1.5" fill="#6300a7"/><circle cx="5.8" cy="27.3" r="1.35" fill="#5e01a6"/><circle cx="2.2" cy="36" r="1.5" fill="#6300a7"/><circle cx="11.6" cy="47.7" r="1.35" fill="#5801a4"/><circle cx="21.8" cy="57.9" r="1.2" fill="#4903a0"/><circle cx="55.3" cy="55.7" r="1.05" fill="#4903a0"/><circle cx="51.6" cy="47" r="1.05" fill="#44039e"/><circle cx="26" cy="24" r="1.35" fill="#6300a7"/><circle cx="21" cy="24.5" r="1.35" fill="#6300a7"/><circle cx="30" cy="28" r="1.5" fill="#7100a8"/><circle cx="14" cy="33" r="1.35" fill="#5801a4"/><circle cx="9" cy="38" r="1.35" fill="#5302a3"/><circle cx="15" cy="40.5" r="1.35" fill="#5801a4"/><circle cx="33" cy="39.5" r="1.35" fill="#6300a7"/><circle cx="7.5" cy="43.5" r="1.2" fill="#5302a3"/><circle cx="23.5" cy="50" r="1.2" fill="#4903a0"/><circle cx="40" cy="27" r="1.2" fill="#4903a0"/></g><g opacity="0.85"><circle cx="29.4" cy="19.3" r="0.91" fill="#cc4778"/><circle cx="32" cy="18.3" r="0.7" fill="#b12a90"/><circle cx="18.9" cy="20" r="0.7" fill="#a51f99"/><circle cx="16.7" cy="28.5" r="0.84" fill="#b6308b"/><circle cx="13" cy="25.2" r="0.63" fill="#8f0da4"/><circle cx="22.5" cy="36" r="0.84" fill="#b6308b"/><circle cx="27" cy="36.4" r="0.84" fill="#b6308b"/><circle cx="24" cy="31" r="0.7" fill="#9e199d"/><circle cx="37.8" cy="21.5" r="0.63" fill="#8808a6"/><circle cx="36.4" cy="17.2" r="0.56" fill="#8104a7"/><circle cx="43.6" cy="13.5" r="0.49" fill="#6300a7"/><circle cx="24.7" cy="43.6" r="0.84" fill="#9e199d"/><circle cx="21.5" cy="44.2" r="0.7" fill="#8f0da4"/><circle cx="28" cy="43" r="0.7" fill="#8f0da4"/><circle cx="19" cy="45.5" r="0.7" fill="#8f0da4"/><circle cx="8.7" cy="51.3" r="0.77" fill="#9613a1"/><circle cx="2.9" cy="47" r="0.77" fill="#9e199d"/><circle cx="4" cy="30" r="0.7" fill="#8f0da4"/><circle cx="5.8" cy="27.3" r="0.63" fill="#8808a6"/><circle cx="2.2" cy="36" r="0.7" fill="#8f0da4"/><circle cx="11.6" cy="47.7" r="0.63" fill="#8104a7"/><circle cx="21.8" cy="57.9" r="0.56" fill="#6a00a8"/><circle cx="55.3" cy="55.7" r="0.49" fill="#6a00a8"/><circle cx="51.6" cy="47" r="0.49" fill="#6300a7"/><circle cx="26" cy="24" r="0.63" fill="#8f0da4"/><circle cx="21" cy="24.5" r="0.63" fill="#8f0da4"/><circle cx="30" cy="28" r="0.7" fill="#a51f99"/><circle cx="14" cy="33" r="0.63" fill="#8104a7"/><circle cx="9" cy="38" r="0.63" fill="#7a02a8"/><circle cx="15" cy="40.5" r="0.63" fill="#8104a7"/><circle cx="33" cy="39.5" r="0.63" fill="#8f0da4"/><circle cx="7.5" cy="43.5" r="0.56" fill="#7a02a8"/><circle cx="23.5" cy="50" r="0.56" fill="#6a00a8"/><circle cx="40" cy="27" r="0.56" fill="#6a00a8"/></g><g opacity="0.85" filter="url(#b08)"><ellipse cx="32.4" cy="32.7" rx="4.6" ry="2.6" fill="#b12a90"/><ellipse cx="34.4" cy="32.9" rx="3" ry="2.7" fill="#dd5e66"/></g><g opacity="0.90" filter="url(#b08)"><ellipse cx="34.6" cy="32.9" rx="2.3" ry="2.1" fill="#f79143"/></g><g opacity="0.90"><ellipse cx="35" cy="31.5" rx="1.3" ry="0.8" fill="#fbd724"/><ellipse cx="34.6" cy="34.4" rx="1.5" ry="0.8" fill="#f7e425"/><ellipse cx="30.3" cy="32.4" rx="1.2" ry="0.7" fill="#ef7e50"/><ellipse cx="32.4" cy="33.4" rx="0.8" ry="0.6" fill="#fca636"/></g></svg>
<svg x="7.0" y="383.5" width="66.5" height="66.0" viewBox="0 0 66.5 66.0" overflow="hidden"><rect width="67" height="66" fill="#26028c"/><rect width="67" height="66" filter="url(#nzFs)" opacity="0.35"/><g opacity="0.60" filter="url(#b08)"><ellipse cx="45.8" cy="27.6" rx="4.2" ry="3.4" fill="#5901a5"/><ellipse cx="50.2" cy="29.8" rx="2.1" ry="1.8" fill="#5901a5"/><ellipse cx="41.5" cy="34.9" rx="1.8" ry="2.9" fill="#5901a5"/><ellipse cx="44.4" cy="40" rx="1.3" ry="2.1" fill="#5901a5"/><ellipse cx="45" cy="43.5" rx="1.3" ry="1.6" fill="#5901a5"/><ellipse cx="41.5" cy="47.3" rx="1.3" ry="1.3" fill="#5901a5"/><ellipse cx="21" cy="27.6" rx="2.1" ry="2.1" fill="#5901a5"/><ellipse cx="23.3" cy="39.3" rx="2.6" ry="2.9" fill="#5901a5"/><ellipse cx="20.4" cy="44.4" rx="1.7" ry="2.1" fill="#5901a5"/><ellipse cx="10.9" cy="41.2" rx="3.1" ry="1.6" fill="#5901a5"/><ellipse cx="25.5" cy="35.6" rx="1.7" ry="1.7" fill="#5901a5"/><ellipse cx="19.5" cy="33.5" rx="1.6" ry="2.1" fill="#5901a5"/><ellipse cx="32.7" cy="24.7" rx="1.6" ry="1.6" fill="#5901a5"/><ellipse cx="33.5" cy="37" rx="1.6" ry="1.6" fill="#5901a5"/><ellipse cx="36.4" cy="39.3" rx="1.6" ry="1.3" fill="#5901a5"/><ellipse cx="64" cy="13" rx="1" ry="1" fill="#5901a5"/><ellipse cx="54.5" cy="40.7" rx="1.2" ry="1.3" fill="#5901a5"/><ellipse cx="23.3" cy="58" rx="1" ry="1" fill="#5901a5"/><ellipse cx="52.5" cy="18.5" rx="1" ry="1" fill="#5901a5"/><ellipse cx="28.5" cy="19" rx="1" ry="1" fill="#5901a5"/></g><g opacity="0.65"><circle cx="48.4" cy="28.1" r="0.54" fill="#6a00a8"/><circle cx="44.5" cy="25.6" r="0.64" fill="#6c00a8"/><circle cx="47.9" cy="27.8" r="0.61" fill="#7e03a8"/><circle cx="43.1" cy="26.9" r="0.63" fill="#5b01a5"/><circle cx="47.5" cy="25.7" r="0.61" fill="#5801a4"/><circle cx="43.6" cy="27.5" r="0.73" fill="#7100a8"/><circle cx="43.4" cy="27.5" r="0.61" fill="#5502a4"/><circle cx="48.7" cy="28.5" r="0.75" fill="#6100a7"/><circle cx="47.6" cy="26.4" r="0.53" fill="#7e03a8"/><circle cx="43.1" cy="26.3" r="0.7" fill="#5601a4"/><circle cx="43.8" cy="26" r="0.77" fill="#6300a7"/><circle cx="43.2" cy="27.2" r="0.55" fill="#7e03a8"/><circle cx="45.9" cy="27" r="0.68" fill="#6600a7"/><circle cx="46.8" cy="29.5" r="0.79" fill="#6f00a8"/><circle cx="47.5" cy="28.8" r="0.73" fill="#8305a7"/><circle cx="45.7" cy="27.1" r="0.79" fill="#7100a8"/><circle cx="46.8" cy="28.1" r="0.53" fill="#7401a8"/><circle cx="47.4" cy="29.5" r="0.53" fill="#6e00a8"/><circle cx="45.2" cy="27.8" r="0.5" fill="#8004a8"/><circle cx="46.9" cy="27.5" r="0.72" fill="#8405a7"/><circle cx="48.3" cy="26.2" r="0.6" fill="#7701a8"/><circle cx="42.7" cy="27.6" r="0.71" fill="#7d03a8"/><circle cx="47" cy="26.3" r="0.71" fill="#5601a4"/><circle cx="46.6" cy="30" r="0.62" fill="#7501a8"/><circle cx="44.3" cy="27" r="0.68" fill="#8104a7"/><circle cx="44.9" cy="29" r="0.56" fill="#5b01a5"/><circle cx="47.1" cy="25.7" r="0.79" fill="#7501a8"/><circle cx="47.3" cy="27.3" r="0.56" fill="#5e01a6"/><circle cx="43.4" cy="29.3" r="0.57" fill="#6a00a8"/><circle cx="46.3" cy="27.8" r="0.66" fill="#7201a8"/><circle cx="48.7" cy="29.7" r="0.76" fill="#8305a7"/><circle cx="49.5" cy="29.5" r="0.54" fill="#7a02a8"/><circle cx="50.3" cy="29.9" r="0.71" fill="#5801a4"/><circle cx="49.7" cy="29.4" r="0.63" fill="#5302a3"/><circle cx="49.5" cy="30.4" r="0.58" fill="#5901a5"/><circle cx="49" cy="29.3" r="0.56" fill="#5502a4"/><circle cx="50" cy="31" r="0.58" fill="#7401a8"/><circle cx="51.4" cy="30.3" r="0.54" fill="#5e01a6"/><circle cx="41.4" cy="33.4" r="0.69" fill="#6100a7"/><circle cx="41.1" cy="33.9" r="0.64" fill="#6900a8"/><circle cx="42.5" cy="33.9" r="0.66" fill="#7d03a8"/><circle cx="40.6" cy="33.7" r="0.66" fill="#6f00a8"/><circle cx="41.8" cy="37" r="0.69" fill="#7d03a8"/><circle cx="41.3" cy="34.7" r="0.53" fill="#8004a8"/><circle cx="41.1" cy="32.9" r="0.77" fill="#5e01a6"/><circle cx="42.6" cy="34.7" r="0.72" fill="#6e00a8"/><circle cx="41.5" cy="36.4" r="0.64" fill="#6100a7"/><circle cx="41" cy="36.1" r="0.58" fill="#5901a5"/><circle cx="41.8" cy="33.7" r="0.61" fill="#7a02a8"/><circle cx="44.2" cy="39" r="0.59" fill="#7b02a8"/><circle cx="44.5" cy="41.1" r="0.61" fill="#8405a7"/><circle cx="44.4" cy="41.2" r="0.66" fill="#5502a4"/><circle cx="44.8" cy="41.4" r="0.74" fill="#5c01a6"/><circle cx="44.8" cy="41.4" r="0.68" fill="#7701a8"/><circle cx="44.8" cy="39.5" r="0.65" fill="#8104a7"/><circle cx="45.2" cy="44.1" r="0.76" fill="#7d03a8"/><circle cx="44.6" cy="43.5" r="0.75" fill="#6300a7"/><circle cx="45" cy="42.9" r="0.55" fill="#7501a8"/><circle cx="44.5" cy="44" r="0.63" fill="#6a00a8"/><circle cx="40.7" cy="47.4" r="0.53" fill="#7501a8"/><circle cx="40.6" cy="47.4" r="0.59" fill="#7501a8"/><circle cx="41.7" cy="48.1" r="0.7" fill="#6e00a8"/><circle cx="40.5" cy="47.4" r="0.61" fill="#5601a4"/><circle cx="20.8" cy="27.9" r="0.77" fill="#7d03a8"/><circle cx="21.5" cy="28.8" r="0.56" fill="#7e03a8"/><circle cx="20.7" cy="27.8" r="0.69" fill="#5601a4"/><circle cx="22.2" cy="26.6" r="0.68" fill="#5e01a6"/><circle cx="21" cy="27.3" r="0.53" fill="#6100a7"/><circle cx="22.3" cy="28.3" r="0.7" fill="#7b02a8"/><circle cx="20.6" cy="27" r="0.58" fill="#7201a8"/><circle cx="21.3" cy="26.4" r="0.6" fill="#7b02a8"/><circle cx="19.9" cy="28.3" r="0.75" fill="#7401a8"/><circle cx="21.8" cy="39.7" r="0.56" fill="#6900a8"/><circle cx="24" cy="38" r="0.51" fill="#7b02a8"/><circle cx="23.5" cy="39.6" r="0.67" fill="#7a02a8"/><circle cx="24.3" cy="40.3" r="0.64" fill="#5801a4"/><circle cx="22.6" cy="38.5" r="0.71" fill="#6c00a8"/><circle cx="22.3" cy="39.1" r="0.73" fill="#5302a3"/><circle cx="23.1" cy="39.9" r="0.53" fill="#5302a3"/><circle cx="22.8" cy="39.2" r="0.53" fill="#6900a8"/><circle cx="22.9" cy="38.4" r="0.7" fill="#6f00a8"/><circle cx="24.9" cy="38.4" r="0.8" fill="#6400a7"/><circle cx="24.2" cy="38.5" r="0.58" fill="#6900a8"/><circle cx="25" cy="39.6" r="0.53" fill="#7201a8"/><circle cx="24.5" cy="39.8" r="0.58" fill="#8305a7"/><circle cx="22.9" cy="40.6" r="0.59" fill="#5801a4"/><circle cx="22.6" cy="38.3" r="0.58" fill="#6300a7"/><circle cx="22.2" cy="40.9" r="0.56" fill="#5801a4"/><circle cx="19.9" cy="45.5" r="0.58" fill="#5801a4"/><circle cx="19.6" cy="45.6" r="0.77" fill="#6900a8"/><circle cx="19.9" cy="44.7" r="0.7" fill="#7701a8"/><circle cx="20.3" cy="45.7" r="0.53" fill="#6300a7"/><circle cx="20.1" cy="45.8" r="0.69" fill="#6c00a8"/><circle cx="19.5" cy="44.9" r="0.64" fill="#6001a6"/><circle cx="21" cy="43.2" r="0.62" fill="#6700a8"/><circle cx="11.2" cy="41.1" r="0.73" fill="#5b01a5"/><circle cx="11.4" cy="41.9" r="0.69" fill="#6300a7"/><circle cx="9.2" cy="41.1" r="0.78" fill="#7100a8"/><circle cx="10.7" cy="42.1" r="0.67" fill="#6100a7"/><circle cx="10.9" cy="41.1" r="0.8" fill="#7e03a8"/><circle cx="12.8" cy="41.6" r="0.54" fill="#8405a7"/><circle cx="8.9" cy="41.5" r="0.58" fill="#7401a8"/><circle cx="13" cy="41.4" r="0.58" fill="#5b01a5"/><circle cx="9.3" cy="41.5" r="0.51" fill="#5b01a5"/><circle cx="9.6" cy="41.8" r="0.71" fill="#5901a5"/><circle cx="25.8" cy="34.9" r="0.8" fill="#6600a7"/><circle cx="24.8" cy="35.9" r="0.52" fill="#8104a7"/><circle cx="24.6" cy="35" r="0.55" fill="#6c00a8"/><circle cx="25.4" cy="36.3" r="0.62" fill="#7201a8"/><circle cx="24.5" cy="35.9" r="0.8" fill="#7100a8"/><circle cx="25.9" cy="34.4" r="0.79" fill="#6400a7"/><circle cx="20" cy="32.4" r="0.51" fill="#7d03a8"/><circle cx="20.4" cy="32.6" r="0.6" fill="#7801a8"/><circle cx="19.9" cy="32.6" r="0.69" fill="#6600a7"/><circle cx="20.3" cy="32.9" r="0.57" fill="#6900a8"/><circle cx="18.9" cy="33" r="0.6" fill="#7201a8"/><circle cx="19.1" cy="34.5" r="0.53" fill="#6300a7"/><circle cx="20.1" cy="34.2" r="0.6" fill="#6600a7"/><circle cx="33.9" cy="24.9" r="0.56" fill="#5302a3"/><circle cx="32.5" cy="24.6" r="0.67" fill="#8104a7"/><circle cx="33.5" cy="25" r="0.75" fill="#5e01a6"/><circle cx="32.9" cy="24.9" r="0.71" fill="#7a02a8"/><circle cx="32.1" cy="25" r="0.8" fill="#6001a6"/><circle cx="33.8" cy="36" r="0.64" fill="#7a02a8"/><circle cx="33" cy="38" r="0.72" fill="#7201a8"/><circle cx="34" cy="36.2" r="0.76" fill="#6400a7"/><circle cx="32.7" cy="37.8" r="0.63" fill="#6300a7"/><circle cx="33.8" cy="36.3" r="0.63" fill="#6f00a8"/><circle cx="37.3" cy="39.8" r="0.68" fill="#5502a4"/><circle cx="36.9" cy="39.6" r="0.63" fill="#7b02a8"/><circle cx="36.7" cy="38.5" r="0.72" fill="#6c00a8"/><circle cx="37" cy="39.6" r="0.72" fill="#5302a3"/><circle cx="64" cy="13.1" r="0.6" fill="#6300a7"/><circle cx="63.7" cy="13" r="0.66" fill="#5801a4"/><circle cx="54.7" cy="39.8" r="0.62" fill="#8004a8"/><circle cx="54.2" cy="40.1" r="0.69" fill="#6900a8"/><circle cx="55" cy="41.4" r="0.57" fill="#7e03a8"/><circle cx="22.9" cy="58.4" r="0.69" fill="#6400a7"/><circle cx="24" cy="58" r="0.62" fill="#6400a7"/><circle cx="53.1" cy="18" r="0.61" fill="#5901a5"/><circle cx="52" cy="18.4" r="0.63" fill="#7100a8"/><circle cx="29.1" cy="19.1" r="0.7" fill="#6f00a8"/><circle cx="29.1" cy="19" r="0.78" fill="#7501a8"/></g></svg>
<svg x="78.5" y="238.7" width="66.5" height="66.0" viewBox="0 0 66.5 66.0" overflow="hidden"><rect width="67" height="66" fill="#26028c"/><rect width="67" height="66" filter="url(#nzFs)" opacity="0.35"/><g opacity="0.60"><circle cx="13.3" cy="10.9" r="0.62" fill="#6600a7"/><circle cx="11.9" cy="9.4" r="0.8" fill="#5102a3"/><circle cx="14.2" cy="8.7" r="0.9" fill="#5c01a6"/><circle cx="15.7" cy="9.1" r="0.62" fill="#48039f"/><circle cx="14.3" cy="9.4" r="0.84" fill="#5b01a5"/><circle cx="17.4" cy="10.8" r="0.56" fill="#6400a7"/><circle cx="15.4" cy="9.4" r="0.88" fill="#6001a6"/><circle cx="16.5" cy="11.4" r="0.61" fill="#6600a7"/><circle cx="13.2" cy="8.4" r="0.57" fill="#4e02a2"/><circle cx="12.5" cy="9.1" r="0.63" fill="#6600a7"/><circle cx="15.6" cy="9.3" r="0.62" fill="#5c01a6"/><circle cx="12.1" cy="11.1" r="0.77" fill="#5102a3"/><circle cx="15.8" cy="10.3" r="0.76" fill="#6001a6"/><circle cx="11.8" cy="11" r="0.79" fill="#6600a7"/><circle cx="11.1" cy="26.4" r="0.61" fill="#44039e"/><circle cx="13" cy="28.2" r="0.94" fill="#6001a6"/><circle cx="12.5" cy="28.9" r="0.61" fill="#6600a7"/><circle cx="10.9" cy="25.8" r="0.82" fill="#5302a3"/><circle cx="12.5" cy="25.6" r="0.66" fill="#5302a3"/><circle cx="11.5" cy="25.5" r="0.73" fill="#5502a4"/><circle cx="12.4" cy="27.3" r="0.65" fill="#5e01a6"/><circle cx="11.4" cy="29.9" r="0.7" fill="#6700a8"/><circle cx="15.7" cy="17.9" r="0.89" fill="#6001a6"/><circle cx="16.8" cy="17.2" r="0.56" fill="#4903a0"/><circle cx="16.5" cy="15.3" r="0.66" fill="#5901a5"/><circle cx="17.2" cy="17.4" r="0.65" fill="#5c01a6"/><circle cx="17.8" cy="18" r="0.82" fill="#5e01a6"/><circle cx="15.7" cy="15.3" r="0.99" fill="#6600a7"/><circle cx="16.8" cy="15.5" r="0.82" fill="#6700a8"/><circle cx="16" cy="14.4" r="0.84" fill="#4903a0"/><circle cx="16.5" cy="13.4" r="0.58" fill="#5601a4"/><circle cx="19" cy="21.3" r="0.86" fill="#6700a8"/><circle cx="20.9" cy="21.4" r="0.62" fill="#6400a7"/><circle cx="18.6" cy="20.8" r="0.94" fill="#4c02a1"/><circle cx="19.1" cy="21.4" r="0.91" fill="#5e01a6"/><circle cx="20.1" cy="23.4" r="0.82" fill="#4b03a1"/><circle cx="20.6" cy="23.3" r="0.58" fill="#5601a4"/><circle cx="21.7" cy="21.3" r="0.57" fill="#6300a7"/><circle cx="19.6" cy="20.4" r="0.56" fill="#6100a7"/><circle cx="52.3" cy="42.4" r="0.5" fill="#3e049c"/><circle cx="56.3" cy="43.3" r="0.47" fill="#4b03a1"/><circle cx="38.2" cy="21.4" r="0.6" fill="#43039e"/><circle cx="67" cy="25.8" r="0.48" fill="#350498"/><circle cx="47" cy="2.8" r="0.52" fill="#38049a"/><circle cx="29.3" cy="19.3" r="0.61" fill="#41049d"/><circle cx="27.5" cy="14.1" r="0.46" fill="#38049a"/><circle cx="25" cy="24" r="0.64" fill="#4b03a1"/><circle cx="27.4" cy="29.1" r="0.43" fill="#3e049c"/><circle cx="65.8" cy="31.3" r="0.7" fill="#46039f"/></g><g opacity="0.55" filter="url(#b12)"><circle cx="28.8" cy="26.2" r="2.1" fill="#7201a8"/><circle cx="29.6" cy="28.4" r="2.1" fill="#7201a8"/><circle cx="30.8" cy="31.3" r="2.1" fill="#7201a8"/><circle cx="32.6" cy="31.6" r="2.1" fill="#7201a8"/><circle cx="34.6" cy="32.2" r="2.1" fill="#7201a8"/><circle cx="35.6" cy="34.4" r="2.1" fill="#7201a8"/><circle cx="36.8" cy="36.7" r="2.1" fill="#7201a8"/></g><g opacity="0.85" filter="url(#b08)"><circle cx="28.8" cy="26.2" r="1.25" fill="#9410a2"/><circle cx="29.6" cy="28.4" r="1.25" fill="#8104a7"/><circle cx="30.8" cy="31.3" r="1.25" fill="#8808a6"/><circle cx="32.6" cy="31.6" r="1.25" fill="#7d03a8"/><circle cx="34.6" cy="32.2" r="1.25" fill="#9e199d"/><circle cx="35.6" cy="34.4" r="1.25" fill="#a82296"/><circle cx="36.8" cy="36.7" r="1.25" fill="#d8576b"/></g><g opacity="0.90"><circle cx="28.9" cy="26.2" r="0.65" fill="#cc4778"/><circle cx="29.5" cy="28.4" r="0.65" fill="#b6308b"/><circle cx="30.9" cy="31.3" r="0.65" fill="#bf3984"/><circle cx="32.4" cy="31.6" r="0.65" fill="#b12a90"/><circle cx="34.5" cy="32.2" r="0.65" fill="#d6556d"/><circle cx="35.5" cy="34.4" r="0.65" fill="#e16462"/><circle cx="36.9" cy="36.7" r="0.9" fill="#fcce25"/></g><path d="M0,33.6 Q7,50.5 16.6,66 L0,66 Z" fill="#000"/></svg>
<svg x="78.5" y="311.1" width="66.5" height="66.0" viewBox="0 0 66.5 66.0" overflow="hidden"><rect width="67" height="66" fill="#26028c"/><rect width="67" height="66" filter="url(#nzFs)" opacity="0.35"/><g opacity="0.32" filter="url(#b20)"><ellipse cx="18" cy="37" rx="15" ry="13" fill="#41049d"/><ellipse cx="30" cy="29" rx="9" ry="10" fill="#4903a0"/></g><g opacity="0.50"><circle cx="18.7" cy="34.4" r="0.61" fill="#4b03a1"/><circle cx="18.9" cy="22.5" r="0.86" fill="#44039e"/><circle cx="18" cy="37" r="0.59" fill="#5601a4"/><circle cx="25.9" cy="37" r="0.76" fill="#5801a4"/><circle cx="22.2" cy="47.8" r="0.82" fill="#41049d"/><circle cx="24.8" cy="22.9" r="0.64" fill="#48039f"/><circle cx="27.9" cy="33.8" r="0.54" fill="#46039f"/><circle cx="27" cy="26" r="0.82" fill="#6001a6"/><circle cx="-3.6" cy="30.5" r="0.65" fill="#5801a4"/><circle cx="26" cy="25" r="0.84" fill="#5901a5"/><circle cx="19.2" cy="33.4" r="0.59" fill="#4e02a2"/><circle cx="25.7" cy="39.1" r="0.54" fill="#4c02a1"/><circle cx="14.4" cy="29.5" r="0.65" fill="#4903a0"/><circle cx="17.7" cy="57" r="0.76" fill="#5b01a5"/><circle cx="26.9" cy="48.8" r="0.57" fill="#5102a3"/><circle cx="32.8" cy="35.2" r="0.72" fill="#5e01a6"/><circle cx="28.6" cy="23" r="0.59" fill="#43039e"/><circle cx="17.2" cy="42.5" r="0.58" fill="#6700a8"/><circle cx="25.6" cy="30.5" r="0.76" fill="#5102a3"/><circle cx="28.6" cy="30.9" r="0.61" fill="#4b03a1"/><circle cx="13.5" cy="33.4" r="0.73" fill="#6600a7"/><circle cx="14.9" cy="39.7" r="0.9" fill="#5601a4"/><circle cx="22.4" cy="37.5" r="0.54" fill="#5b01a5"/><circle cx="22.5" cy="26.9" r="0.53" fill="#5102a3"/><circle cx="31" cy="35.7" r="0.89" fill="#6400a7"/><circle cx="34.3" cy="37" r="0.77" fill="#5801a4"/><circle cx="18.6" cy="48.8" r="0.54" fill="#5302a3"/><circle cx="-1.4" cy="42.4" r="0.85" fill="#4c02a1"/><circle cx="14.4" cy="36" r="0.87" fill="#6400a7"/><circle cx="16.1" cy="48.3" r="0.74" fill="#48039f"/><circle cx="20.9" cy="24.8" r="0.81" fill="#5801a4"/><circle cx="28" cy="36" r="0.51" fill="#6700a8"/><circle cx="32.3" cy="24.3" r="0.62" fill="#44039e"/><circle cx="35.7" cy="20.9" r="0.53" fill="#5601a4"/><circle cx="33.8" cy="42.4" r="0.81" fill="#46039f"/><circle cx="8.8" cy="37.8" r="0.61" fill="#6400a7"/><circle cx="14.5" cy="38.9" r="0.72" fill="#6001a6"/><circle cx="22.4" cy="43.4" r="0.9" fill="#5c01a6"/><circle cx="9.9" cy="40.1" r="0.55" fill="#4b03a1"/><circle cx="13.7" cy="46.2" r="0.59" fill="#4b03a1"/><circle cx="31.5" cy="41.5" r="0.59" fill="#6600a7"/><circle cx="22.2" cy="33.3" r="0.6" fill="#5c01a6"/><circle cx="21.1" cy="40.7" r="0.87" fill="#5901a5"/><circle cx="4.5" cy="38.7" r="0.82" fill="#4903a0"/><circle cx="27.8" cy="41.5" r="0.67" fill="#5502a4"/><circle cx="18.2" cy="22.7" r="0.89" fill="#46039f"/><circle cx="13.3" cy="40.7" r="0.84" fill="#4b03a1"/><circle cx="23.6" cy="45.1" r="0.67" fill="#4c02a1"/><circle cx="20" cy="56.4" r="0.68" fill="#6400a7"/><circle cx="17.2" cy="35.1" r="0.9" fill="#6400a7"/><circle cx="40.2" cy="32" r="0.84" fill="#48039f"/><circle cx="13.8" cy="36.6" r="0.66" fill="#44039e"/><circle cx="1.1" cy="54" r="0.61" fill="#6100a7"/><circle cx="10.9" cy="38.6" r="0.88" fill="#6a00a8"/><circle cx="6.5" cy="31.1" r="0.56" fill="#4e02a2"/><circle cx="31.6" cy="33.7" r="0.72" fill="#6001a6"/><circle cx="31.2" cy="40.2" r="0.7" fill="#6400a7"/><circle cx="32.6" cy="55.1" r="0.53" fill="#4903a0"/><circle cx="8.8" cy="28.4" r="0.59" fill="#46039f"/><circle cx="25.2" cy="31.7" r="0.74" fill="#5b01a5"/><circle cx="9.6" cy="41.8" r="0.71" fill="#6700a8"/><circle cx="24" cy="49.7" r="0.6" fill="#5102a3"/><circle cx="16.4" cy="29.3" r="0.63" fill="#6001a6"/><circle cx="28.9" cy="40.4" r="0.9" fill="#6a00a8"/><circle cx="25.6" cy="38.8" r="0.61" fill="#6700a8"/><circle cx="33.6" cy="23.4" r="0.65" fill="#48039f"/><circle cx="27" cy="23.9" r="0.74" fill="#6900a8"/><circle cx="19.4" cy="35.1" r="0.83" fill="#4e02a2"/><circle cx="9" cy="17.8" r="0.55" fill="#46039f"/><circle cx="28.9" cy="43.1" r="0.61" fill="#5b01a5"/></g><g opacity="0.70" filter="url(#b08)"><circle cx="29.5" cy="19.2" r="1.95" fill="#8f0da4"/><circle cx="32.1" cy="18.2" r="1.5" fill="#7a02a8"/><circle cx="18.9" cy="20.2" r="1.5" fill="#7100a8"/><circle cx="16.9" cy="28.3" r="1.8" fill="#7e03a8"/><circle cx="13" cy="25.1" r="1.35" fill="#6300a7"/><circle cx="22.3" cy="36.1" r="1.8" fill="#7e03a8"/><circle cx="27.1" cy="36.3" r="1.8" fill="#7e03a8"/><circle cx="24.1" cy="31" r="1.5" fill="#6c00a8"/><circle cx="37.8" cy="21.3" r="1.35" fill="#5e01a6"/><circle cx="36.2" cy="17.4" r="1.2" fill="#5801a4"/><circle cx="43.8" cy="13.5" r="1.05" fill="#44039e"/><circle cx="24.9" cy="43.6" r="1.8" fill="#6c00a8"/><circle cx="21.3" cy="44" r="1.5" fill="#6300a7"/><circle cx="27.9" cy="43.2" r="1.5" fill="#6300a7"/><circle cx="19.1" cy="45.7" r="1.5" fill="#6300a7"/><circle cx="8.9" cy="51.2" r="1.65" fill="#6700a8"/><circle cx="2.8" cy="46.8" r="1.65" fill="#6c00a8"/><circle cx="4.1" cy="30.2" r="1.5" fill="#6300a7"/><circle cx="5.8" cy="27.4" r="1.35" fill="#5e01a6"/><circle cx="2" cy="36.2" r="1.5" fill="#6300a7"/><circle cx="11.8" cy="47.9" r="1.35" fill="#5801a4"/><circle cx="22" cy="58.1" r="1.2" fill="#4903a0"/><circle cx="55.1" cy="55.8" r="1.05" fill="#4903a0"/><circle cx="51.5" cy="47.2" r="1.05" fill="#44039e"/><circle cx="26.2" cy="24.2" r="1.35" fill="#6300a7"/><circle cx="21.2" cy="24.4" r="1.35" fill="#6300a7"/><circle cx="30.1" cy="27.8" r="1.5" fill="#7100a8"/><circle cx="14.2" cy="33.2" r="1.35" fill="#5801a4"/><circle cx="8.9" cy="38.2" r="1.35" fill="#5302a3"/><circle cx="15" cy="40.4" r="1.35" fill="#5801a4"/><circle cx="33.1" cy="39.4" r="1.35" fill="#6300a7"/><circle cx="7.3" cy="43.3" r="1.2" fill="#5302a3"/><circle cx="23.4" cy="50.2" r="1.2" fill="#4903a0"/><circle cx="40.2" cy="26.9" r="1.2" fill="#4903a0"/></g><g opacity="0.85"><circle cx="29.5" cy="19.2" r="0.91" fill="#cc4778"/><circle cx="32.2" cy="18.3" r="0.7" fill="#b12a90"/><circle cx="19.1" cy="19.8" r="0.7" fill="#a51f99"/><circle cx="16.9" cy="28.3" r="0.84" fill="#b6308b"/><circle cx="13.2" cy="25.1" r="0.63" fill="#8f0da4"/><circle cx="22.3" cy="36" r="0.84" fill="#b6308b"/><circle cx="27.1" cy="36.3" r="0.84" fill="#b6308b"/><circle cx="24.1" cy="31" r="0.7" fill="#9e199d"/><circle cx="37.7" cy="21.5" r="0.63" fill="#8808a6"/><circle cx="36.3" cy="17.3" r="0.56" fill="#8104a7"/><circle cx="43.4" cy="13.7" r="0.49" fill="#6300a7"/><circle cx="24.7" cy="43.7" r="0.84" fill="#9e199d"/><circle cx="21.6" cy="44.3" r="0.7" fill="#8f0da4"/><circle cx="27.9" cy="42.8" r="0.7" fill="#8f0da4"/><circle cx="19.1" cy="45.4" r="0.7" fill="#8f0da4"/><circle cx="8.6" cy="51.5" r="0.77" fill="#9613a1"/><circle cx="3" cy="46.9" r="0.77" fill="#9e199d"/><circle cx="3.9" cy="30" r="0.7" fill="#8f0da4"/><circle cx="5.8" cy="27.2" r="0.63" fill="#8808a6"/><circle cx="2" cy="36" r="0.7" fill="#8f0da4"/><circle cx="11.8" cy="47.8" r="0.63" fill="#8104a7"/><circle cx="22" cy="58" r="0.56" fill="#6a00a8"/><circle cx="55.2" cy="55.7" r="0.49" fill="#6a00a8"/><circle cx="51.4" cy="46.9" r="0.49" fill="#6300a7"/><circle cx="26" cy="24" r="0.63" fill="#8f0da4"/><circle cx="21.1" cy="24.5" r="0.63" fill="#8f0da4"/><circle cx="30" cy="27.9" r="0.7" fill="#a51f99"/><circle cx="14" cy="33.2" r="0.63" fill="#8104a7"/><circle cx="9.1" cy="37.8" r="0.63" fill="#7a02a8"/><circle cx="14.8" cy="40.5" r="0.63" fill="#8104a7"/><circle cx="33.1" cy="39.4" r="0.63" fill="#8f0da4"/><circle cx="7.7" cy="43.6" r="0.56" fill="#7a02a8"/><circle cx="23.6" cy="49.9" r="0.56" fill="#6a00a8"/><circle cx="39.8" cy="26.8" r="0.56" fill="#6a00a8"/></g><g opacity="0.85" filter="url(#b08)"><ellipse cx="32.4" cy="32.7" rx="4.6" ry="2.6" fill="#b12a90"/><ellipse cx="34.4" cy="32.9" rx="3" ry="2.7" fill="#dd5e66"/></g><g opacity="0.90" filter="url(#b08)"><ellipse cx="34.6" cy="32.9" rx="2.3" ry="2.1" fill="#f79143"/></g><g opacity="0.90"><ellipse cx="35" cy="31.5" rx="1.3" ry="0.8" fill="#fbd724"/><ellipse cx="34.6" cy="34.4" rx="1.5" ry="0.8" fill="#f7e425"/><ellipse cx="30.3" cy="32.4" rx="1.2" ry="0.7" fill="#ef7e50"/><ellipse cx="32.4" cy="33.4" rx="0.8" ry="0.6" fill="#fca636"/></g></svg>
<svg x="78.5" y="383.5" width="66.5" height="66.0" viewBox="0 0 66.5 66.0" overflow="hidden"><rect width="67" height="66" fill="#26028c"/><rect width="67" height="66" filter="url(#nzFs)" opacity="0.35"/><g opacity="0.60" filter="url(#b08)"><ellipse cx="45.8" cy="27.6" rx="4.2" ry="3.4" fill="#5901a5"/><ellipse cx="50.2" cy="29.8" rx="2.1" ry="1.8" fill="#5901a5"/><ellipse cx="41.5" cy="34.9" rx="1.8" ry="2.9" fill="#5901a5"/><ellipse cx="44.4" cy="40" rx="1.3" ry="2.1" fill="#5901a5"/><ellipse cx="45" cy="43.5" rx="1.3" ry="1.6" fill="#5901a5"/><ellipse cx="41.5" cy="47.3" rx="1.3" ry="1.3" fill="#5901a5"/><ellipse cx="21" cy="27.6" rx="2.1" ry="2.1" fill="#5901a5"/><ellipse cx="23.3" cy="39.3" rx="2.6" ry="2.9" fill="#5901a5"/><ellipse cx="20.4" cy="44.4" rx="1.7" ry="2.1" fill="#5901a5"/><ellipse cx="10.9" cy="41.2" rx="3.1" ry="1.6" fill="#5901a5"/><ellipse cx="25.5" cy="35.6" rx="1.7" ry="1.7" fill="#5901a5"/><ellipse cx="19.5" cy="33.5" rx="1.6" ry="2.1" fill="#5901a5"/><ellipse cx="32.7" cy="24.7" rx="1.6" ry="1.6" fill="#5901a5"/><ellipse cx="33.5" cy="37" rx="1.6" ry="1.6" fill="#5901a5"/><ellipse cx="36.4" cy="39.3" rx="1.6" ry="1.3" fill="#5901a5"/><ellipse cx="64" cy="13" rx="1" ry="1" fill="#5901a5"/><ellipse cx="54.5" cy="40.7" rx="1.2" ry="1.3" fill="#5901a5"/><ellipse cx="23.3" cy="58" rx="1" ry="1" fill="#5901a5"/><ellipse cx="52.5" cy="18.5" rx="1" ry="1" fill="#5901a5"/><ellipse cx="28.5" cy="19" rx="1" ry="1" fill="#5901a5"/></g><g opacity="0.65"><circle cx="43.8" cy="28.6" r="0.76" fill="#5b01a5"/><circle cx="45.9" cy="28" r="0.53" fill="#5302a3"/><circle cx="47.1" cy="29.2" r="0.8" fill="#7501a8"/><circle cx="44.3" cy="28.7" r="0.71" fill="#6300a7"/><circle cx="48.4" cy="28.7" r="0.69" fill="#5801a4"/><circle cx="46.7" cy="27.9" r="0.79" fill="#5801a4"/><circle cx="43.6" cy="25.8" r="0.51" fill="#6600a7"/><circle cx="42.8" cy="28" r="0.56" fill="#6001a6"/><circle cx="45.8" cy="28.2" r="0.7" fill="#7d03a8"/><circle cx="45.2" cy="27.8" r="0.71" fill="#7801a8"/><circle cx="44.8" cy="26.4" r="0.75" fill="#7201a8"/><circle cx="43.8" cy="26.6" r="0.57" fill="#6a00a8"/><circle cx="46.5" cy="25.5" r="0.6" fill="#7d03a8"/><circle cx="46.2" cy="27.1" r="0.55" fill="#5e01a6"/><circle cx="48.6" cy="27.8" r="0.69" fill="#6e00a8"/><circle cx="47.7" cy="27.5" r="0.56" fill="#5801a4"/><circle cx="44.2" cy="29.6" r="0.68" fill="#5502a4"/><circle cx="45.2" cy="27.8" r="0.69" fill="#5801a4"/><circle cx="46.9" cy="29.5" r="0.75" fill="#7201a8"/><circle cx="45.1" cy="29.6" r="0.58" fill="#5302a3"/><circle cx="45.4" cy="29.7" r="0.69" fill="#5c01a6"/><circle cx="47.4" cy="25.6" r="0.58" fill="#8305a7"/><circle cx="45.7" cy="28.3" r="0.65" fill="#7e03a8"/><circle cx="43.9" cy="26.5" r="0.65" fill="#6100a7"/><circle cx="45.2" cy="29.2" r="0.66" fill="#8305a7"/><circle cx="47.2" cy="28.2" r="0.78" fill="#7401a8"/><circle cx="47.7" cy="28.4" r="0.7" fill="#8104a7"/><circle cx="48.4" cy="28.8" r="0.73" fill="#6100a7"/><circle cx="43" cy="27.1" r="0.57" fill="#7701a8"/><circle cx="45" cy="27.3" r="0.58" fill="#6700a8"/><circle cx="51.2" cy="30.8" r="0.58" fill="#5e01a6"/><circle cx="49.2" cy="29.2" r="0.6" fill="#6300a7"/><circle cx="48.7" cy="29.8" r="0.52" fill="#8104a7"/><circle cx="51.4" cy="29.4" r="0.74" fill="#6600a7"/><circle cx="51.5" cy="29.5" r="0.71" fill="#6900a8"/><circle cx="50.4" cy="30.9" r="0.72" fill="#5302a3"/><circle cx="49.8" cy="30.7" r="0.56" fill="#5901a5"/><circle cx="50.3" cy="30" r="0.54" fill="#6600a7"/><circle cx="40.4" cy="34.9" r="0.59" fill="#5901a5"/><circle cx="42.5" cy="34.1" r="0.7" fill="#7501a8"/><circle cx="41" cy="36.4" r="0.6" fill="#7401a8"/><circle cx="41.6" cy="34.6" r="0.74" fill="#5801a4"/><circle cx="41.9" cy="35" r="0.67" fill="#7e03a8"/><circle cx="42" cy="34.5" r="0.63" fill="#8305a7"/><circle cx="42.5" cy="33.6" r="0.57" fill="#6001a6"/><circle cx="41.9" cy="35.8" r="0.62" fill="#7b02a8"/><circle cx="41.2" cy="34.1" r="0.55" fill="#6900a8"/><circle cx="42.2" cy="33.9" r="0.74" fill="#7501a8"/><circle cx="42.2" cy="33.8" r="0.61" fill="#6a00a8"/><circle cx="44.6" cy="39.2" r="0.56" fill="#7d03a8"/><circle cx="43.6" cy="40.2" r="0.55" fill="#5502a4"/><circle cx="44.5" cy="41" r="0.51" fill="#6001a6"/><circle cx="45" cy="39.6" r="0.5" fill="#7b02a8"/><circle cx="44.3" cy="40.6" r="0.69" fill="#7401a8"/><circle cx="44" cy="41.2" r="0.76" fill="#6400a7"/><circle cx="44.9" cy="43.5" r="0.68" fill="#6100a7"/><circle cx="44.5" cy="42.6" r="0.6" fill="#7501a8"/><circle cx="45.4" cy="43.3" r="0.74" fill="#6a00a8"/><circle cx="45.3" cy="43.4" r="0.61" fill="#5b01a5"/><circle cx="41.4" cy="48.2" r="0.66" fill="#6400a7"/><circle cx="41.7" cy="47.2" r="0.51" fill="#7a02a8"/><circle cx="40.6" cy="47" r="0.65" fill="#8305a7"/><circle cx="41.3" cy="47.7" r="0.77" fill="#6e00a8"/><circle cx="21.2" cy="27.6" r="0.5" fill="#7801a8"/><circle cx="20.7" cy="27.2" r="0.74" fill="#7a02a8"/><circle cx="20.2" cy="26.7" r="0.63" fill="#7501a8"/><circle cx="19.8" cy="28.6" r="0.68" fill="#7501a8"/><circle cx="22.4" cy="26.9" r="0.66" fill="#5801a4"/><circle cx="19.5" cy="27.4" r="0.56" fill="#6001a6"/><circle cx="20.9" cy="28.4" r="0.74" fill="#6e00a8"/><circle cx="22" cy="28.2" r="0.71" fill="#5302a3"/><circle cx="21.1" cy="27.8" r="0.71" fill="#6700a8"/><circle cx="24.3" cy="39.4" r="0.56" fill="#6f00a8"/><circle cx="22.1" cy="39.9" r="0.6" fill="#5502a4"/><circle cx="22.6" cy="40.9" r="0.66" fill="#7100a8"/><circle cx="23.5" cy="39.7" r="0.73" fill="#7701a8"/><circle cx="22.2" cy="37.5" r="0.59" fill="#7801a8"/><circle cx="22.9" cy="41" r="0.77" fill="#6900a8"/><circle cx="21.8" cy="37.9" r="0.65" fill="#5e01a6"/><circle cx="24.9" cy="38.8" r="0.6" fill="#6001a6"/><circle cx="23.9" cy="39.4" r="0.79" fill="#6f00a8"/><circle cx="23.5" cy="38.2" r="0.75" fill="#7701a8"/><circle cx="24.3" cy="38.2" r="0.78" fill="#6f00a8"/><circle cx="24.5" cy="41" r="0.59" fill="#8104a7"/><circle cx="22.1" cy="38.9" r="0.66" fill="#6600a7"/><circle cx="23.7" cy="39.5" r="0.53" fill="#8004a8"/><circle cx="23.1" cy="39.6" r="0.62" fill="#7201a8"/><circle cx="22" cy="37.7" r="0.61" fill="#8305a7"/><circle cx="20.9" cy="44.4" r="0.65" fill="#7401a8"/><circle cx="19.4" cy="45.1" r="0.66" fill="#5102a3"/><circle cx="19.6" cy="45.2" r="0.58" fill="#5c01a6"/><circle cx="19.9" cy="43.5" r="0.8" fill="#8305a7"/><circle cx="20.3" cy="44.7" r="0.55" fill="#6900a8"/><circle cx="19.6" cy="44.9" r="0.53" fill="#6100a7"/><circle cx="19.4" cy="45.1" r="0.53" fill="#7201a8"/><circle cx="9.4" cy="41.9" r="0.7" fill="#5c01a6"/><circle cx="10.5" cy="40.5" r="0.75" fill="#5302a3"/><circle cx="10.2" cy="42" r="0.59" fill="#6600a7"/><circle cx="9.9" cy="40.9" r="0.76" fill="#6100a7"/><circle cx="10" cy="40.1" r="0.53" fill="#8004a8"/><circle cx="11.6" cy="41.9" r="0.54" fill="#8104a7"/><circle cx="10.3" cy="42" r="0.79" fill="#5901a5"/><circle cx="12.7" cy="41.7" r="0.51" fill="#5901a5"/><circle cx="10.9" cy="41.3" r="0.6" fill="#5502a4"/><circle cx="12.5" cy="40.8" r="0.51" fill="#7801a8"/><circle cx="25.6" cy="36.8" r="0.51" fill="#5801a4"/><circle cx="24.7" cy="36.5" r="0.78" fill="#8305a7"/><circle cx="25.7" cy="36.4" r="0.76" fill="#7b02a8"/><circle cx="25.8" cy="35.5" r="0.51" fill="#6700a8"/><circle cx="26.1" cy="34.7" r="0.62" fill="#7501a8"/><circle cx="24.4" cy="36" r="0.59" fill="#7801a8"/><circle cx="20" cy="34.5" r="0.59" fill="#6400a7"/><circle cx="19.5" cy="33.8" r="0.53" fill="#7501a8"/><circle cx="19" cy="32.4" r="0.63" fill="#7100a8"/><circle cx="19.8" cy="32" r="0.62" fill="#7801a8"/><circle cx="19.9" cy="32.1" r="0.7" fill="#5e01a6"/><circle cx="19.8" cy="32.4" r="0.72" fill="#7801a8"/><circle cx="19.6" cy="33.9" r="0.73" fill="#7501a8"/><circle cx="33" cy="24.7" r="0.63" fill="#7401a8"/><circle cx="33.4" cy="25.4" r="0.6" fill="#7401a8"/><circle cx="32.6" cy="25.3" r="0.54" fill="#7501a8"/><circle cx="32.5" cy="24.5" r="0.53" fill="#7d03a8"/><circle cx="32.6" cy="25.9" r="0.79" fill="#7b02a8"/><circle cx="33.7" cy="37.3" r="0.75" fill="#6700a8"/><circle cx="33.9" cy="37.1" r="0.59" fill="#6001a6"/><circle cx="34.5" cy="37.2" r="0.52" fill="#6100a7"/><circle cx="33.2" cy="36" r="0.74" fill="#5e01a6"/><circle cx="34" cy="37.8" r="0.74" fill="#7801a8"/><circle cx="36.4" cy="38.7" r="0.72" fill="#8104a7"/><circle cx="36.1" cy="39" r="0.75" fill="#5502a4"/><circle cx="37.1" cy="39.3" r="0.61" fill="#8405a7"/><circle cx="36.3" cy="38.6" r="0.67" fill="#6700a8"/><circle cx="64.5" cy="12.6" r="0.61" fill="#8104a7"/><circle cx="64.2" cy="12.5" r="0.79" fill="#5502a4"/><circle cx="54.9" cy="40.2" r="0.65" fill="#8004a8"/><circle cx="54" cy="41" r="0.57" fill="#7501a8"/><circle cx="54.3" cy="39.9" r="0.55" fill="#7e03a8"/><circle cx="23" cy="58" r="0.56" fill="#5901a5"/><circle cx="23.7" cy="58.4" r="0.73" fill="#7701a8"/><circle cx="53.3" cy="18.4" r="0.69" fill="#7e03a8"/><circle cx="53" cy="18.2" r="0.75" fill="#6f00a8"/><circle cx="28.5" cy="18.3" r="0.77" fill="#6c00a8"/><circle cx="28.7" cy="19.1" r="0.71" fill="#7201a8"/></g></svg>
<svg x="150.1" y="238.7" width="66.5" height="66.0" viewBox="0 0 66.5 66.0" overflow="hidden"><rect width="67" height="66" fill="#fcf7fb"/><g opacity="0.75"><circle cx="28.4" cy="26.2" r="0.75" fill="#8080ff"/><circle cx="30.2" cy="28.4" r="0.75" fill="#8080ff"/><circle cx="30.4" cy="31.3" r="0.75" fill="#8080ff"/><circle cx="33.2" cy="31.6" r="0.75" fill="#8080ff"/><circle cx="34.2" cy="32.2" r="0.75" fill="#ff7070"/><circle cx="36.2" cy="34.4" r="0.75" fill="#ff7070"/><circle cx="36.4" cy="36.7" r="0.75" fill="#ff7070"/><circle cx="29.4" cy="25.4" r="0.6" fill="#9898ff"/><circle cx="37.6" cy="38.3" r="0.6" fill="#ff8e8e"/></g><path d="M0,33.6 Q7,50.5 16.6,66 L0,66 Z" fill="#000"/><rect x=".5" y=".5" width="65.5" height="65.0" fill="none" stroke="#8a8a8a" stroke-opacity="1.00"/></svg>
<svg x="150.1" y="311.1" width="66.5" height="66.0" viewBox="0 0 66.5 66.0" overflow="hidden"><rect width="67" height="66" fill="#fcf7fb"/><g opacity="0.60"><circle cx="25.5" cy="36.6" r="0.49" fill="#ceceff"/><circle cx="5.6" cy="34.3" r="0.43" fill="#b2b2ff"/><circle cx="26" cy="25.9" r="0.68" fill="#ceceff"/><circle cx="19.8" cy="34.2" r="0.63" fill="#9898ff"/><circle cx="34.6" cy="34.8" r="0.65" fill="#cacaff"/><circle cx="25.8" cy="32.5" r="0.42" fill="#9898ff"/><circle cx="24.3" cy="33.5" r="0.45" fill="#9090ff"/><circle cx="22.4" cy="34.7" r="0.51" fill="#9a9aff"/><circle cx="12.4" cy="51.1" r="0.45" fill="#c8c8ff"/><circle cx="19.1" cy="23.7" r="0.57" fill="#c6c6ff"/><circle cx="14.5" cy="31" r="0.5" fill="#a0a0ff"/><circle cx="-1.6" cy="47.8" r="0.53" fill="#9494ff"/><circle cx="3.7" cy="36.1" r="0.53" fill="#c0c0ff"/><circle cx="22.7" cy="35.6" r="0.6" fill="#9292ff"/><circle cx="17.2" cy="41.5" r="0.46" fill="#9090ff"/><circle cx="42.1" cy="34.8" r="0.61" fill="#d2d2ff"/><circle cx="-2.3" cy="35" r="0.66" fill="#babaff"/><circle cx="9.4" cy="32.5" r="0.47" fill="#aaaaff"/><circle cx="19" cy="28.8" r="0.65" fill="#b2b2ff"/><circle cx="6.7" cy="25" r="0.59" fill="#9898ff"/><circle cx="20" cy="34.4" r="0.41" fill="#d2d2ff"/><circle cx="0.2" cy="22.4" r="0.63" fill="#a4a4ff"/><circle cx="39.9" cy="30.3" r="0.54" fill="#9494ff"/><circle cx="17.7" cy="38.4" r="0.51" fill="#9494ff"/><circle cx="14.3" cy="12.3" r="0.46" fill="#c6c6ff"/><circle cx="11.1" cy="29.4" r="0.67" fill="#aaaaff"/><circle cx="22.8" cy="28.6" r="0.69" fill="#ff9c9c"/><circle cx="36.4" cy="30.3" r="0.62" fill="#ff6c6c"/><circle cx="22.7" cy="24.2" r="0.43" fill="#ff8e8e"/><circle cx="40.9" cy="25.1" r="0.47" fill="#ff8282"/><circle cx="7.6" cy="34" r="0.4" fill="#ff5c5c"/><circle cx="21.8" cy="37.6" r="0.44" fill="#ffa4a4"/><circle cx="28.1" cy="25.2" r="0.69" fill="#ff5858"/><circle cx="22" cy="27.6" r="0.58" fill="#ff4c4c"/><circle cx="19.4" cy="30" r="0.46" fill="#ff4c4c"/><circle cx="27.2" cy="29.3" r="0.5" fill="#ff6868"/><circle cx="17.5" cy="29.8" r="0.7" fill="#ff7070"/><circle cx="21" cy="30.9" r="0.55" fill="#ff6464"/><circle cx="29.6" cy="19.6" r="0.88" fill="#d0d0ff"/><circle cx="28.7" cy="19.8" r="0.84" fill="#b4b4ff"/><circle cx="29.9" cy="19.7" r="0.64" fill="#9c9cff"/><circle cx="30.2" cy="19.6" r="0.65" fill="#ccccff"/><circle cx="16.3" cy="29.4" r="0.91" fill="#a2a2ff"/><circle cx="17.1" cy="29.1" r="0.76" fill="#b4b4ff"/><circle cx="23" cy="36.5" r="0.89" fill="#aeaeff"/><circle cx="22.5" cy="37" r="0.68" fill="#d6d6ff"/><circle cx="31.5" cy="20.5" r="0.75" fill="#ff9e9e"/><circle cx="31.7" cy="20" r="0.59" fill="#ff5050"/><circle cx="18.2" cy="25.3" r="0.81" fill="#ffa6a6"/><circle cx="18.5" cy="25.9" r="0.79" fill="#ff7e7e"/><circle cx="26.4" cy="30" r="0.95" fill="#ff7e7e"/><circle cx="25.8" cy="30.6" r="0.94" fill="#ff6868"/></g><g opacity="0.70" filter="url(#b08)"><ellipse cx="33.6" cy="33.6" rx="2.4" ry="1.1" fill="#4a4af0"/></g><g opacity="0.95"><circle cx="34.5" cy="33.2" r="0.54" fill="#2c2cff"/><circle cx="30.8" cy="32.8" r="0.76" fill="#5050ff"/><circle cx="31.2" cy="32.9" r="0.7" fill="#0000ff"/><circle cx="31.9" cy="33.4" r="0.53" fill="#4e4eff"/><circle cx="33.9" cy="33.1" r="0.73" fill="#5050ff"/><circle cx="31.8" cy="32.1" r="0.74" fill="#0a0aff"/><circle cx="32" cy="33.1" r="0.65" fill="#5656ff"/><circle cx="34.3" cy="34.6" r="0.83" fill="#0808ff"/><circle cx="34.8" cy="32.6" r="0.64" fill="#6262ff"/><circle cx="34.6" cy="33.6" r="1" fill="#0000d8"/><circle cx="36" cy="34.2" r="0.6" fill="#1a1ae8"/><circle cx="30.8" cy="33.2" r="0.6" fill="#2020f0"/></g><rect x=".5" y=".5" width="65.5" height="65.0" fill="none" stroke="#8a8a8a" stroke-opacity="1.00"/></svg>
<svg x="150.1" y="383.5" width="66.5" height="66.0" viewBox="0 0 66.5 66.0" overflow="hidden"><rect width="67" height="66" fill="#fcf7fb"/><g opacity="0.60"><circle cx="43.6" cy="26.8" r="0.92" fill="#ffe0e0"/><circle cx="44.2" cy="25.8" r="0.96" fill="#ffe2e2"/><circle cx="44.4" cy="26.1" r="0.78" fill="#ffc2c2"/><circle cx="43.8" cy="27.3" r="0.97" fill="#ffd0d0"/><circle cx="45.3" cy="28.9" r="0.77" fill="#ffe8e8"/><circle cx="43.8" cy="26.3" r="0.74" fill="#ffc8c8"/><circle cx="47.8" cy="26.8" r="0.86" fill="#ffe6e6"/><circle cx="48.6" cy="28.4" r="0.68" fill="#ffe2e2"/><circle cx="47.9" cy="26.3" r="0.61" fill="#ffdede"/><circle cx="23.3" cy="40.3" r="0.55" fill="#ffd6d6"/><circle cx="22.9" cy="40.5" r="0.63" fill="#ffe6e6"/><circle cx="25.1" cy="39.7" r="0.89" fill="#ffd4d4"/><circle cx="23.8" cy="39.8" r="0.6" fill="#ffdede"/><circle cx="24.3" cy="39.7" r="0.64" fill="#ffe2e2"/><circle cx="10.1" cy="40.6" r="0.76" fill="#ffdcdc"/><circle cx="9.2" cy="41" r="0.69" fill="#ffe8e8"/><circle cx="14.5" cy="36.2" r="0.63" fill="#ffecec"/><circle cx="31.9" cy="33.8" r="0.56" fill="#ffe0e0"/><circle cx="16.6" cy="54.2" r="0.61" fill="#ffeaea"/><circle cx="8" cy="35.4" r="0.41" fill="#ffecec"/><circle cx="9.2" cy="25.4" r="0.54" fill="#ffe0e0"/><circle cx="17.6" cy="34.7" r="0.66" fill="#ffcece"/><circle cx="26.8" cy="35.2" r="0.52" fill="#ffd2d2"/><circle cx="26.6" cy="39.2" r="0.46" fill="#ffd6d6"/><circle cx="20.5" cy="29.3" r="0.59" fill="#ffd4d4"/><circle cx="59.5" cy="31" r="0.53" fill="#ffd2d2"/><circle cx="58.8" cy="25.9" r="0.63" fill="#ffdada"/><circle cx="-1.1" cy="33.6" r="0.59" fill="#ffd6d6"/><circle cx="31" cy="39.4" r="0.48" fill="#ffdada"/><circle cx="20.5" cy="32.1" r="0.46" fill="#ffcece"/></g><rect x=".5" y=".5" width="65.5" height="65.0" fill="none" stroke="#8a8a8a" stroke-opacity="1.00"/></svg>
<svg x="227.5" y="238.7" width="66.5" height="66.0" viewBox="0 0 66.5 66.0" overflow="hidden"><rect width="67" height="66" fill="#fefeba"/><rect width="67" height="66" filter="url(#nzIn)" opacity="0.6"/><g opacity="0.80"><circle cx="13.5" cy="9.5" r="0.91" fill="#e6f598"/><circle cx="14.3" cy="10.4" r="0.77" fill="#e4f498"/><circle cx="14" cy="9.9" r="0.63" fill="#d6ee9b"/><circle cx="16.3" cy="8.9" r="0.84" fill="#e6f598"/><circle cx="14.3" cy="9.7" r="0.88" fill="#e7f59a"/><circle cx="45.7" cy="4" r="0.7" fill="#c3e79f"/><circle cx="45.4" cy="2.4" r="0.83" fill="#e9f69d"/><circle cx="51.9" cy="17.1" r="0.73" fill="#fec877"/><circle cx="52.5" cy="17.7" r="0.56" fill="#fed27f"/><circle cx="44.5" cy="19.8" r="0.74" fill="#fdc776"/><circle cx="43.9" cy="20.6" r="0.65" fill="#fede89"/><circle cx="58.9" cy="6.4" r="0.77" fill="#fed481"/><circle cx="58.8" cy="6.7" r="0.73" fill="#fdc776"/><circle cx="62.8" cy="29.5" r="0.83" fill="#fed481"/><circle cx="63.4" cy="29.9" r="0.64" fill="#fed27f"/><circle cx="35.6" cy="37.6" r="0.89" fill="#fee797"/><circle cx="35.6" cy="37.3" r="0.75" fill="#fee695"/><circle cx="35.1" cy="36.9" r="0.63" fill="#fede89"/></g><g opacity="0.80" filter="url(#b08)"><ellipse cx="31.3" cy="28.6" rx="1.5" ry="4.6" fill="#f67a49" transform="rotate(-20 31.3 28.6)"/><ellipse cx="37.6" cy="34.6" rx="1" ry="3" fill="#5cb7aa" transform="rotate(-28 37.6 34.6)"/></g><g opacity="0.85"><circle cx="29.9" cy="24.4" r="0.67" fill="#e45549"/><circle cx="30.5" cy="25.8" r="0.77" fill="#ee6445"/><circle cx="30.7" cy="27.1" r="0.68" fill="#e75948"/><circle cx="30.9" cy="28.4" r="0.72" fill="#e2514a"/><circle cx="32.1" cy="29.8" r="0.89" fill="#f57245"/><circle cx="31.9" cy="31.1" r="0.78" fill="#e2514a"/><circle cx="32.7" cy="32.5" r="0.64" fill="#f26944"/><circle cx="32.8" cy="33.4" r="0.68" fill="#e55749"/><circle cx="36.1" cy="32.2" r="0.78" fill="#56b0ad"/><circle cx="37" cy="33.4" r="0.73" fill="#5ab4ab"/><circle cx="37.3" cy="34.6" r="0.56" fill="#76c8a5"/><circle cx="38.3" cy="35.8" r="0.63" fill="#3f97b7"/><circle cx="38.8" cy="37" r="0.58" fill="#52abae"/><circle cx="35.2" cy="37.6" r="0.7" fill="#fba05b"/><circle cx="34.4" cy="36" r="0.6" fill="#f47044"/></g><path d="M0,33.6 Q7,50.5 16.6,66 L0,66 Z" fill="#000"/><rect x=".5" y=".5" width="65.5" height="65.0" fill="none" stroke="#77775c" stroke-opacity="0.90"/></svg>
<svg x="227.5" y="311.1" width="66.5" height="66.0" viewBox="0 0 66.5 66.0" overflow="hidden"><rect width="67" height="66" fill="#fefeba"/><rect width="67" height="66" filter="url(#nzIn)" opacity="0.6"/><g opacity="0.32" filter="url(#b12)"><path d="M0,29 L4,29.5 L8,31 L10,33" fill="none" stroke="#aadca4" stroke-width="3.2" stroke-linecap="round" stroke-linejoin="round"/><path d="M1,36 L4,38 L3,42 L3,46 L5,49 L7.4,50.6 L10,48 L12.5,45 L15,44.5 L18.3,45.5 L21,44.5 L24,43.5 L27,43 L29,42" fill="none" stroke="#aadca4" stroke-width="3.2" stroke-linecap="round" stroke-linejoin="round"/><path d="M23,31 L27,31.5 L30,32 L33.6,31.9 L36.5,32.6" fill="none" stroke="#aadca4" stroke-width="3.2" stroke-linecap="round" stroke-linejoin="round"/><path d="M20.5,27.5 L22,23 L25,25 L25.6,28 L28,28 L30.5,27.5 L33,29" fill="none" stroke="#aadca4" stroke-width="3.2" stroke-linecap="round" stroke-linejoin="round"/><path d="M36,30.5 L37,26 L38,22.3 L38.7,19 L36,16.5 L35,14.5" fill="none" stroke="#aadca4" stroke-width="3.2" stroke-linecap="round" stroke-linejoin="round"/><path d="M38.7,19 L41,17 L43,15.7 L44.5,11" fill="none" stroke="#aadca4" stroke-width="3.2" stroke-linecap="round" stroke-linejoin="round"/><path d="M24,33 L23.6,36 L25,38.4 L28.5,36.5 L30,34" fill="none" stroke="#aadca4" stroke-width="3.2" stroke-linecap="round" stroke-linejoin="round"/><path d="M12.5,45 L12.5,43 L16.5,41.5" fill="none" stroke="#aadca4" stroke-width="3.2" stroke-linecap="round" stroke-linejoin="round"/><path d="M0,39 L2,40" fill="none" stroke="#aadca4" stroke-width="3.2" stroke-linecap="round" stroke-linejoin="round"/><path d="M6,34 L9.5,33" fill="none" stroke="#aadca4" stroke-width="3.2" stroke-linecap="round" stroke-linejoin="round"/></g><g opacity="0.50" filter="url(#b08)"><path d="M0,29 L4,29.5 L8,31 L10,33" fill="none" stroke="#74c7a5" stroke-width="1.3" stroke-linecap="round" stroke-linejoin="round"/><path d="M1,36 L4,38 L3,42 L3,46 L5,49 L7.4,50.6 L10,48 L12.5,45 L15,44.5 L18.3,45.5 L21,44.5 L24,43.5 L27,43 L29,42" fill="none" stroke="#74c7a5" stroke-width="1.3" stroke-linecap="round" stroke-linejoin="round"/><path d="M23,31 L27,31.5 L30,32 L33.6,31.9 L36.5,32.6" fill="none" stroke="#74c7a5" stroke-width="1.3" stroke-linecap="round" stroke-linejoin="round"/><path d="M20.5,27.5 L22,23 L25,25 L25.6,28 L28,28 L30.5,27.5 L33,29" fill="none" stroke="#74c7a5" stroke-width="1.3" stroke-linecap="round" stroke-linejoin="round"/><path d="M36,30.5 L37,26 L38,22.3 L38.7,19 L36,16.5 L35,14.5" fill="none" stroke="#74c7a5" stroke-width="1.3" stroke-linecap="round" stroke-linejoin="round"/><path d="M38.7,19 L41,17 L43,15.7 L44.5,11" fill="none" stroke="#74c7a5" stroke-width="1.3" stroke-linecap="round" stroke-linejoin="round"/><path d="M24,33 L23.6,36 L25,38.4 L28.5,36.5 L30,34" fill="none" stroke="#74c7a5" stroke-width="1.3" stroke-linecap="round" stroke-linejoin="round"/><path d="M12.5,45 L12.5,43 L16.5,41.5" fill="none" stroke="#74c7a5" stroke-width="1.3" stroke-linecap="round" stroke-linejoin="round"/><path d="M0,39 L2,40" fill="none" stroke="#74c7a5" stroke-width="1.3" stroke-linecap="round" stroke-linejoin="round"/><path d="M6,34 L9.5,33" fill="none" stroke="#74c7a5" stroke-width="1.3" stroke-linecap="round" stroke-linejoin="round"/><ellipse cx="3.8" cy="29.5" rx="3.6" ry="2.3" fill="#81cda5"/><ellipse cx="3.5" cy="38" rx="2.2" ry="1.4" fill="#81cda5"/><ellipse cx="3" cy="46.3" rx="1.3" ry="1.8" fill="#81cda5"/><ellipse cx="7.4" cy="50.6" rx="1.4" ry="1.4" fill="#81cda5"/><ellipse cx="12.5" cy="45" rx="2.3" ry="1.8" fill="#81cda5"/><ellipse cx="18.3" cy="45.5" rx="2.2" ry="1.3" fill="#81cda5"/><ellipse cx="24" cy="43.5" rx="2.7" ry="1.1" fill="#81cda5"/><ellipse cx="30" cy="32" rx="5.6" ry="1.4" fill="#81cda5"/><ellipse cx="22" cy="23" rx="1.8" ry="1.3" fill="#81cda5"/><ellipse cx="20.5" cy="26.5" rx="1.4" ry="1.6" fill="#81cda5"/><ellipse cx="25.6" cy="28" rx="2" ry="1.4" fill="#81cda5"/><ellipse cx="30" cy="27.5" rx="1.8" ry="1.3" fill="#81cda5"/><ellipse cx="38" cy="22.3" rx="2" ry="1.6" fill="#81cda5"/><ellipse cx="35" cy="15.7" rx="1.3" ry="1.4" fill="#81cda5"/><ellipse cx="43" cy="15.7" rx="1.1" ry="1.4" fill="#81cda5"/><ellipse cx="44.5" cy="11.3" rx="0.9" ry="1.3" fill="#81cda5"/><ellipse cx="38.7" cy="19" rx="1.3" ry="1.1" fill="#81cda5"/><ellipse cx="24" cy="36" rx="1.4" ry="2" fill="#81cda5"/><ellipse cx="28.5" cy="36.5" rx="1.6" ry="1.4" fill="#81cda5"/><ellipse cx="9.5" cy="33" rx="1.6" ry="1.3" fill="#81cda5"/><ellipse cx="41" cy="23.5" rx="0.9" ry="0.9" fill="#81cda5"/><ellipse cx="16.5" cy="41.5" rx="1.3" ry="1.3" fill="#81cda5"/><ellipse cx="27.8" cy="20" rx="3.1" ry="2.4" fill="#f99355"/><ellipse cx="19.8" cy="19.8" rx="1.4" ry="1" fill="#f99355"/><ellipse cx="12.5" cy="25.2" rx="1.3" ry="1.1" fill="#f99355"/><ellipse cx="11" cy="28" rx="1" ry="1" fill="#f99355"/><ellipse cx="22.7" cy="38.3" rx="1.3" ry="1.8" fill="#f99355"/><ellipse cx="21.2" cy="57.2" rx="1.3" ry="1.5" fill="#f99355"/><ellipse cx="51" cy="47" rx="1.3" ry="1" fill="#f99355"/><ellipse cx="55.4" cy="55.7" rx="0.9" ry="1.2" fill="#f99355"/><ellipse cx="23.5" cy="16.6" rx="1.1" ry="0.9" fill="#f99355"/></g><g opacity="0.70"><circle cx="1.8" cy="30.8" r="0.58" fill="#5eb9a9"/><circle cx="1.4" cy="29.9" r="0.56" fill="#3d95b8"/><circle cx="3.2" cy="29.7" r="0.67" fill="#5ab4ab"/><circle cx="3.3" cy="30.3" r="0.56" fill="#6ec5a5"/><circle cx="3.2" cy="29.3" r="0.72" fill="#3f97b7"/><circle cx="4.9" cy="30.6" r="0.83" fill="#66c2a5"/><circle cx="5.3" cy="30.8" r="0.6" fill="#74c7a5"/><circle cx="6.9" cy="30.5" r="0.5" fill="#6bc4a5"/><circle cx="7.1" cy="32.2" r="0.85" fill="#459eb4"/><circle cx="7.5" cy="31.3" r="0.62" fill="#62bda7"/><circle cx="9.4" cy="33.5" r="0.63" fill="#47a0b3"/><circle cx="1.5" cy="36.3" r="0.72" fill="#76c8a5"/><circle cx="2.4" cy="37.7" r="0.62" fill="#52abae"/><circle cx="1.7" cy="37.6" r="0.59" fill="#3b92b9"/><circle cx="5.6" cy="37.7" r="0.83" fill="#56b0ad"/><circle cx="3.6" cy="39" r="0.82" fill="#4199b6"/><circle cx="3.3" cy="39.6" r="0.75" fill="#74c7a5"/><circle cx="4" cy="41" r="0.77" fill="#5cb7aa"/><circle cx="4.3" cy="41.3" r="0.53" fill="#69c3a5"/><circle cx="2.9" cy="42.8" r="0.78" fill="#4ea7b0"/><circle cx="3.7" cy="44.1" r="0.84" fill="#5ab4ab"/><circle cx="3.6" cy="44" r="0.68" fill="#74c7a5"/><circle cx="2.6" cy="45.1" r="0.67" fill="#64c0a6"/><circle cx="3.1" cy="46.3" r="0.75" fill="#4ba4b1"/><circle cx="4.2" cy="47.6" r="0.62" fill="#76c8a5"/><circle cx="5" cy="48" r="0.71" fill="#58b2ac"/><circle cx="3.5" cy="47.8" r="0.8" fill="#439bb5"/><circle cx="5.6" cy="48.2" r="0.76" fill="#50a9af"/><circle cx="6.8" cy="50.1" r="0.73" fill="#60bba8"/><circle cx="6.5" cy="49.8" r="0.76" fill="#66c2a5"/><circle cx="7.3" cy="51.7" r="0.61" fill="#49a2b2"/><circle cx="7.5" cy="49.8" r="0.8" fill="#4ea7b0"/><circle cx="9.7" cy="49.5" r="0.58" fill="#79c9a5"/><circle cx="7.2" cy="47.4" r="0.79" fill="#7ecca5"/><circle cx="8.5" cy="46.9" r="0.61" fill="#5eb9a9"/><circle cx="11" cy="47.4" r="0.62" fill="#66c2a5"/><circle cx="10.1" cy="46.1" r="0.59" fill="#6ec5a5"/><circle cx="12.7" cy="45.6" r="0.62" fill="#79c9a5"/><circle cx="14.2" cy="45.5" r="0.83" fill="#54aead"/><circle cx="14.1" cy="44.9" r="0.56" fill="#459eb4"/><circle cx="16.3" cy="44.2" r="0.69" fill="#4ea7b0"/><circle cx="16.7" cy="44.9" r="0.85" fill="#56b0ad"/><circle cx="17" cy="46.3" r="0.82" fill="#7ecca5"/><circle cx="19.5" cy="45.7" r="0.71" fill="#54aead"/><circle cx="18.1" cy="45.8" r="0.61" fill="#71c6a5"/><circle cx="20.4" cy="44.3" r="0.75" fill="#54aead"/><circle cx="22.4" cy="44.4" r="0.84" fill="#5cb7aa"/><circle cx="22.4" cy="44.4" r="0.73" fill="#66c2a5"/><circle cx="23" cy="45.1" r="0.75" fill="#5cb7aa"/><circle cx="24.5" cy="43.7" r="0.81" fill="#54aead"/><circle cx="25.3" cy="41.7" r="0.64" fill="#439bb5"/><circle cx="25.9" cy="43.7" r="0.68" fill="#62bda7"/><circle cx="27.7" cy="43.2" r="0.7" fill="#439bb5"/><circle cx="28" cy="42.1" r="0.56" fill="#50a9af"/><circle cx="23.1" cy="32" r="0.79" fill="#64c0a6"/><circle cx="24.4" cy="30.4" r="0.53" fill="#54aead"/><circle cx="24.9" cy="30.6" r="0.69" fill="#7ecca5"/><circle cx="26.1" cy="30.3" r="0.68" fill="#50a9af"/><circle cx="27.5" cy="31.3" r="0.61" fill="#49a2b2"/><circle cx="27.7" cy="31.6" r="0.77" fill="#76c8a5"/><circle cx="29.5" cy="32" r="0.64" fill="#3f97b7"/><circle cx="29.3" cy="31.2" r="0.75" fill="#7ecca5"/><circle cx="30.9" cy="31.5" r="0.77" fill="#52abae"/><circle cx="31.7" cy="32.7" r="0.55" fill="#6bc4a5"/><circle cx="32.4" cy="32.6" r="0.6" fill="#76c8a5"/><circle cx="32.8" cy="32.1" r="0.7" fill="#5eb9a9"/><circle cx="34.6" cy="30.7" r="0.52" fill="#69c3a5"/><circle cx="36.3" cy="32.8" r="0.58" fill="#3d95b8"/><circle cx="21.4" cy="28" r="0.55" fill="#47a0b3"/><circle cx="20.1" cy="26.5" r="0.81" fill="#3f97b7"/><circle cx="21.1" cy="25.8" r="0.55" fill="#459eb4"/><circle cx="20.6" cy="24.4" r="0.6" fill="#7ccaa5"/><circle cx="21.7" cy="25.3" r="0.58" fill="#69c3a5"/><circle cx="22.9" cy="23.3" r="0.77" fill="#60bba8"/><circle cx="23.1" cy="23.6" r="0.69" fill="#439bb5"/><circle cx="24.4" cy="23.7" r="0.6" fill="#3d95b8"/><circle cx="24.7" cy="24.9" r="0.84" fill="#62bda7"/><circle cx="25.7" cy="26.2" r="0.6" fill="#81cda5"/><circle cx="25.6" cy="25.8" r="0.62" fill="#52abae"/><circle cx="25.3" cy="28.5" r="0.5" fill="#4199b6"/><circle cx="26.3" cy="29.3" r="0.52" fill="#71c6a5"/><circle cx="28.8" cy="28" r="0.57" fill="#50a9af"/><circle cx="27.2" cy="28.8" r="0.57" fill="#6bc4a5"/><circle cx="30.4" cy="27.8" r="0.68" fill="#66c2a5"/><circle cx="30.9" cy="28.7" r="0.84" fill="#71c6a5"/><circle cx="32.3" cy="28.5" r="0.53" fill="#74c7a5"/><circle cx="33.5" cy="28.4" r="0.82" fill="#6bc4a5"/><circle cx="35.9" cy="29" r="0.62" fill="#74c7a5"/><circle cx="36.5" cy="28.4" r="0.69" fill="#49a2b2"/><circle cx="36.9" cy="27.8" r="0.74" fill="#6ec5a5"/><circle cx="36.6" cy="27.6" r="0.85" fill="#58b2ac"/><circle cx="37.4" cy="25" r="0.68" fill="#71c6a5"/><circle cx="37.4" cy="26.3" r="0.54" fill="#3b92b9"/><circle cx="37.2" cy="23.7" r="0.64" fill="#64c0a6"/><circle cx="37.7" cy="24" r="0.57" fill="#5ab4ab"/><circle cx="37.6" cy="21.6" r="0.67" fill="#3d95b8"/><circle cx="36.6" cy="19.8" r="0.52" fill="#4ea7b0"/><circle cx="38.6" cy="19.5" r="0.8" fill="#69c3a5"/><circle cx="38.7" cy="19.5" r="0.76" fill="#66c2a5"/><circle cx="39" cy="19.2" r="0.84" fill="#3f97b7"/><circle cx="38.4" cy="18.1" r="0.74" fill="#5ab4ab"/><circle cx="36" cy="18.2" r="0.76" fill="#52abae"/><circle cx="35.6" cy="16.7" r="0.55" fill="#6ec5a5"/><circle cx="35.8" cy="17.7" r="0.52" fill="#76c8a5"/><circle cx="35.7" cy="15.3" r="0.6" fill="#3f97b7"/><circle cx="38.7" cy="18.7" r="0.63" fill="#4199b6"/><circle cx="39" cy="18" r="0.79" fill="#62bda7"/><circle cx="40.9" cy="17.1" r="0.77" fill="#69c3a5"/><circle cx="42.6" cy="16.3" r="0.54" fill="#3b92b9"/><circle cx="43" cy="15.4" r="0.72" fill="#74c7a5"/><circle cx="43.1" cy="15" r="0.58" fill="#4ea7b0"/><circle cx="44.9" cy="13.7" r="0.71" fill="#47a0b3"/><circle cx="44.4" cy="13.5" r="0.67" fill="#459eb4"/><circle cx="44.5" cy="12.3" r="0.78" fill="#6bc4a5"/><circle cx="44.4" cy="12.1" r="0.78" fill="#71c6a5"/><circle cx="23.7" cy="33.3" r="0.65" fill="#54aead"/><circle cx="23.7" cy="34.3" r="0.55" fill="#62bda7"/><circle cx="24" cy="35" r="0.68" fill="#79c9a5"/><circle cx="23" cy="36.4" r="0.6" fill="#459eb4"/><circle cx="24.6" cy="36.6" r="0.73" fill="#64c0a6"/><circle cx="24.3" cy="37.6" r="0.72" fill="#5ab4ab"/><circle cx="27.1" cy="38.2" r="0.72" fill="#6bc4a5"/><circle cx="27.1" cy="37.5" r="0.73" fill="#60bba8"/><circle cx="27.9" cy="36.5" r="0.56" fill="#64c0a6"/><circle cx="27" cy="36.8" r="0.61" fill="#69c3a5"/><circle cx="29" cy="37.6" r="0.61" fill="#6ec5a5"/><circle cx="27.9" cy="34.5" r="0.78" fill="#49a2b2"/><circle cx="30.1" cy="33.7" r="0.53" fill="#81cda5"/><circle cx="13.7" cy="44.2" r="0.79" fill="#6ec5a5"/><circle cx="12.4" cy="44.1" r="0.54" fill="#47a0b3"/><circle cx="12.3" cy="42.8" r="0.52" fill="#76c8a5"/><circle cx="14.3" cy="41.8" r="0.82" fill="#459eb4"/><circle cx="15.6" cy="41.9" r="0.69" fill="#66c2a5"/><circle cx="15.4" cy="41.9" r="0.55" fill="#49a2b2"/><circle cx="-0.1" cy="39.5" r="0.52" fill="#76c8a5"/><circle cx="2.1" cy="39.7" r="0.58" fill="#4199b6"/><circle cx="7.3" cy="34.5" r="0.79" fill="#76c8a5"/><circle cx="7.8" cy="32.8" r="0.57" fill="#54aead"/><circle cx="9" cy="33.2" r="0.72" fill="#7ccaa5"/><circle cx="10" cy="32.6" r="0.77" fill="#69c3a5"/></g><g opacity="0.70"><circle cx="53.1" cy="10.8" r="0.59" fill="#aedea3"/><circle cx="51.9" cy="11.8" r="0.57" fill="#9cd7a4"/><circle cx="52.4" cy="12" r="0.57" fill="#bce4a0"/><circle cx="51.8" cy="26.2" r="0.76" fill="#9cd7a4"/><circle cx="51" cy="26.9" r="0.58" fill="#bce4a0"/><circle cx="49.2" cy="26.2" r="0.62" fill="#c3e79f"/><circle cx="49.3" cy="27.3" r="0.76" fill="#c1e6a0"/><circle cx="51.8" cy="27.3" r="0.7" fill="#cfec9d"/><circle cx="49.4" cy="26.7" r="0.78" fill="#8cd1a4"/><circle cx="44.3" cy="27" r="0.56" fill="#c6e89f"/><circle cx="43.6" cy="26.8" r="0.56" fill="#c3e79f"/><circle cx="43.5" cy="27.2" r="0.52" fill="#bae3a1"/><circle cx="44.4" cy="27.2" r="0.75" fill="#9fd8a4"/><circle cx="38.3" cy="44.3" r="0.59" fill="#86cfa5"/><circle cx="37.4" cy="44.1" r="0.59" fill="#8fd2a4"/><circle cx="38.2" cy="44.1" r="0.68" fill="#bfe5a0"/><circle cx="28" cy="3" r="0.61" fill="#bfe5a0"/><circle cx="28.6" cy="3.5" r="0.71" fill="#91d3a4"/><circle cx="26.8" cy="4" r="0.7" fill="#9cd7a4"/><circle cx="41.2" cy="2.9" r="0.79" fill="#8cd1a4"/><circle cx="41.4" cy="3.5" r="0.51" fill="#97d5a4"/><circle cx="42.3" cy="34.8" r="0.58" fill="#89d0a4"/><circle cx="42.3" cy="36.2" r="0.64" fill="#91d3a4"/><circle cx="42.6" cy="35.2" r="0.52" fill="#99d6a4"/><circle cx="41.3" cy="35.4" r="0.77" fill="#b3e0a2"/><circle cx="33.9" cy="27.4" r="0.74" fill="#89d0a4"/><circle cx="34.2" cy="27" r="0.63" fill="#9cd7a4"/><circle cx="35.3" cy="27.5" r="0.61" fill="#9fd8a4"/><circle cx="34.6" cy="27.9" r="0.78" fill="#c8e99e"/><circle cx="5.9" cy="16.2" r="0.68" fill="#a2d9a4"/><circle cx="6.3" cy="17" r="0.7" fill="#86cfa5"/><circle cx="6.6" cy="17.5" r="0.55" fill="#86cfa5"/><circle cx="43.4" cy="63.7" r="0.68" fill="#bfe5a0"/><circle cx="42.5" cy="62.6" r="0.62" fill="#a7dba4"/><circle cx="42.8" cy="62.5" r="0.56" fill="#84cea5"/><circle cx="32.6" cy="23.7" r="0.79" fill="#86cfa5"/><circle cx="33.9" cy="22.2" r="0.68" fill="#91d3a4"/><circle cx="33" cy="22.1" r="0.57" fill="#8fd2a4"/><circle cx="33.1" cy="22.9" r="0.6" fill="#84cea5"/><circle cx="34.4" cy="22.3" r="0.55" fill="#81cda5"/><circle cx="46.1" cy="30.8" r="0.64" fill="#94d4a4"/><circle cx="45" cy="30.2" r="0.58" fill="#acdda4"/><circle cx="45.3" cy="29.5" r="0.74" fill="#91d3a4"/><circle cx="17.6" cy="37.6" r="0.78" fill="#f99355"/><circle cx="15.9" cy="36.6" r="0.59" fill="#f57547"/><circle cx="16.2" cy="36.7" r="0.54" fill="#f67c4a"/><circle cx="16.7" cy="35.9" r="0.58" fill="#f88950"/><circle cx="59.4" cy="43" r="0.67" fill="#f46d43"/><circle cx="60.2" cy="43.8" r="0.57" fill="#f67a49"/><circle cx="60.2" cy="42.8" r="0.67" fill="#fdbb6c"/><circle cx="62.6" cy="36.7" r="0.68" fill="#fcaa5f"/><circle cx="62.5" cy="37.4" r="0.51" fill="#fca55d"/><circle cx="35.9" cy="62.9" r="0.72" fill="#fa9b58"/><circle cx="35.7" cy="63.4" r="0.74" fill="#f7844e"/><circle cx="31.2" cy="39.5" r="0.77" fill="#fdb163"/><circle cx="30" cy="39.4" r="0.67" fill="#fa9857"/><circle cx="32" cy="39.4" r="0.75" fill="#fdaf62"/><circle cx="33" cy="39.8" r="0.59" fill="#fca85e"/><circle cx="31" cy="38.2" r="0.59" fill="#f47044"/><circle cx="32.8" cy="38.5" r="0.64" fill="#f7844e"/><circle cx="33.5" cy="38.8" r="0.72" fill="#f57547"/><circle cx="30.3" cy="39.2" r="0.79" fill="#f8864f"/><circle cx="17.7" cy="30.9" r="0.7" fill="#fcaa5f"/><circle cx="16.5" cy="30.8" r="0.54" fill="#fdb163"/><circle cx="16.2" cy="31.2" r="0.55" fill="#f67c4a"/><circle cx="55.9" cy="26.3" r="0.79" fill="#f67a49"/><circle cx="56.8" cy="26.6" r="0.71" fill="#fba35c"/><circle cx="26" cy="59.8" r="0.56" fill="#fdb365"/><circle cx="26.8" cy="59.4" r="0.69" fill="#fb9d59"/><circle cx="38.8" cy="59.1" r="0.63" fill="#fdbd6d"/><circle cx="38.4" cy="58.5" r="0.53" fill="#f67c4a"/></g><g opacity="0.80"><circle cx="3.1" cy="31.9" r="0.57" fill="#4ea7b0"/><circle cx="2.7" cy="28.4" r="0.76" fill="#6bc4a5"/><circle cx="5.6" cy="28.2" r="0.7" fill="#439bb5"/><circle cx="1.6" cy="29.9" r="0.59" fill="#4199b6"/><circle cx="3.2" cy="28.3" r="0.61" fill="#7ecca5"/><circle cx="3.6" cy="31.1" r="0.52" fill="#6ec5a5"/><circle cx="7.1" cy="30.1" r="0.8" fill="#7ecca5"/><circle cx="4.7" cy="27.7" r="0.82" fill="#79c9a5"/><circle cx="3.1" cy="32.1" r="0.63" fill="#4ea7b0"/><circle cx="2.6" cy="31.9" r="0.71" fill="#54aead"/><circle cx="7.1" cy="28.6" r="0.74" fill="#3f97b7"/><circle cx="4" cy="29.5" r="0.78" fill="#81cda5"/><circle cx="3.8" cy="30.7" r="0.55" fill="#66c2a5"/><circle cx="3.4" cy="27.2" r="0.66" fill="#459eb4"/><circle cx="0.6" cy="31" r="0.65" fill="#54aead"/><circle cx="3.1" cy="29.7" r="0.57" fill="#7ecca5"/><circle cx="5.2" cy="28.4" r="0.63" fill="#4ea7b0"/><circle cx="3.5" cy="27.3" r="0.53" fill="#459eb4"/><circle cx="3.8" cy="27.3" r="0.61" fill="#5ab4ab"/><circle cx="2.6" cy="37.3" r="0.68" fill="#7ecca5"/><circle cx="5.1" cy="37.5" r="0.63" fill="#459eb4"/><circle cx="5" cy="38.9" r="0.74" fill="#4ba4b1"/><circle cx="4.9" cy="38.8" r="0.55" fill="#3d95b8"/><circle cx="5.5" cy="37.2" r="0.75" fill="#439bb5"/><circle cx="3.6" cy="38.3" r="0.82" fill="#79c9a5"/><circle cx="4.7" cy="38" r="0.85" fill="#4ba4b1"/><circle cx="4.2" cy="46.4" r="0.72" fill="#58b2ac"/><circle cx="2.6" cy="48.1" r="0.84" fill="#7ccaa5"/><circle cx="4" cy="47.4" r="0.54" fill="#66c2a5"/><circle cx="2" cy="47.5" r="0.76" fill="#66c2a5"/><circle cx="2.8" cy="46.2" r="0.63" fill="#62bda7"/><circle cx="7" cy="51.9" r="0.78" fill="#56b0ad"/><circle cx="7.8" cy="50.2" r="0.51" fill="#4ea7b0"/><circle cx="8" cy="49.1" r="0.57" fill="#4199b6"/><circle cx="7.3" cy="49.9" r="0.59" fill="#76c8a5"/><circle cx="6.4" cy="51.8" r="0.61" fill="#5eb9a9"/><circle cx="13.2" cy="43.4" r="0.64" fill="#4199b6"/><circle cx="13" cy="44.1" r="0.53" fill="#4ea7b0"/><circle cx="12" cy="43.4" r="0.79" fill="#71c6a5"/><circle cx="14.5" cy="44.5" r="0.79" fill="#56b0ad"/><circle cx="13.3" cy="45.4" r="0.71" fill="#69c3a5"/><circle cx="11.8" cy="45.9" r="0.64" fill="#60bba8"/><circle cx="10.2" cy="44.5" r="0.82" fill="#62bda7"/><circle cx="14.9" cy="45.1" r="0.65" fill="#4ea7b0"/><circle cx="10.8" cy="46.1" r="0.79" fill="#5eb9a9"/><circle cx="20" cy="45.2" r="0.63" fill="#47a0b3"/><circle cx="19.7" cy="45" r="0.59" fill="#69c3a5"/><circle cx="19" cy="44.6" r="0.74" fill="#459eb4"/><circle cx="17.3" cy="44.8" r="0.57" fill="#5eb9a9"/><circle cx="17.3" cy="45.8" r="0.79" fill="#56b0ad"/><circle cx="16.8" cy="45.9" r="0.85" fill="#5eb9a9"/><circle cx="22.8" cy="44.1" r="0.66" fill="#49a2b2"/><circle cx="25.4" cy="43.5" r="0.7" fill="#79c9a5"/><circle cx="23.4" cy="42.6" r="0.71" fill="#4199b6"/><circle cx="22.7" cy="43.7" r="0.77" fill="#62bda7"/><circle cx="22.8" cy="42.6" r="0.82" fill="#74c7a5"/><circle cx="21.8" cy="43.5" r="0.6" fill="#64c0a6"/><circle cx="25.1" cy="32.8" r="0.84" fill="#49a2b2"/><circle cx="35.8" cy="32" r="0.66" fill="#62bda7"/><circle cx="24.9" cy="31.4" r="0.69" fill="#4199b6"/><circle cx="26.9" cy="31.8" r="0.84" fill="#4ea7b0"/><circle cx="35.2" cy="32.8" r="0.8" fill="#79c9a5"/><circle cx="27.8" cy="30.7" r="0.51" fill="#76c8a5"/><circle cx="27.6" cy="31.6" r="0.69" fill="#56b0ad"/><circle cx="34.8" cy="32.6" r="0.52" fill="#3f97b7"/><circle cx="25.2" cy="31.6" r="0.5" fill="#81cda5"/><circle cx="26.7" cy="32.2" r="0.57" fill="#4ea7b0"/><circle cx="33.2" cy="31.9" r="0.67" fill="#3b92b9"/><circle cx="33" cy="32.1" r="0.85" fill="#56b0ad"/><circle cx="34.1" cy="32.6" r="0.79" fill="#3f97b7"/><circle cx="33" cy="31.9" r="0.51" fill="#6bc4a5"/><circle cx="32" cy="31.5" r="0.53" fill="#60bba8"/><circle cx="24.2" cy="31.6" r="0.69" fill="#79c9a5"/><circle cx="29.2" cy="30.5" r="0.58" fill="#74c7a5"/><circle cx="25.7" cy="31.9" r="0.53" fill="#3b92b9"/><circle cx="21.3" cy="22.7" r="0.75" fill="#3d95b8"/><circle cx="22.1" cy="22.9" r="0.54" fill="#3d95b8"/><circle cx="21.2" cy="22.3" r="0.78" fill="#5eb9a9"/><circle cx="21.2" cy="23.2" r="0.72" fill="#54aead"/><circle cx="21.8" cy="22.3" r="0.51" fill="#71c6a5"/><circle cx="19.9" cy="25" r="0.59" fill="#4ea7b0"/><circle cx="20.5" cy="27.4" r="0.66" fill="#459eb4"/><circle cx="19.9" cy="24.9" r="0.57" fill="#81cda5"/><circle cx="20.5" cy="26.7" r="0.62" fill="#79c9a5"/><circle cx="20.5" cy="27.6" r="0.62" fill="#47a0b3"/><circle cx="27.3" cy="27.3" r="0.73" fill="#4ea7b0"/><circle cx="25.4" cy="28.7" r="0.82" fill="#3f97b7"/><circle cx="25.8" cy="28.4" r="0.68" fill="#47a0b3"/><circle cx="26.4" cy="27.5" r="0.59" fill="#459eb4"/><circle cx="24.4" cy="28.2" r="0.8" fill="#58b2ac"/><circle cx="26.5" cy="27" r="0.71" fill="#6ec5a5"/><circle cx="30.4" cy="26.9" r="0.73" fill="#56b0ad"/><circle cx="30.9" cy="27" r="0.6" fill="#52abae"/><circle cx="31.6" cy="27.4" r="0.59" fill="#69c3a5"/><circle cx="30.3" cy="27.1" r="0.81" fill="#64c0a6"/><circle cx="30.2" cy="28.1" r="0.71" fill="#71c6a5"/><circle cx="39.9" cy="21.6" r="0.71" fill="#60bba8"/><circle cx="36.8" cy="23.2" r="0.71" fill="#6bc4a5"/><circle cx="38" cy="24" r="0.84" fill="#60bba8"/><circle cx="37.3" cy="21.7" r="0.71" fill="#439bb5"/><circle cx="37.1" cy="21.6" r="0.56" fill="#69c3a5"/><circle cx="38.9" cy="21" r="0.56" fill="#52abae"/><circle cx="39.7" cy="21.5" r="0.56" fill="#3b92b9"/><circle cx="34.2" cy="14.6" r="0.62" fill="#4ba4b1"/><circle cx="34.5" cy="15.8" r="0.7" fill="#439bb5"/><circle cx="35.3" cy="14.3" r="0.63" fill="#50a9af"/><circle cx="35.5" cy="16.5" r="0.73" fill="#64c0a6"/><circle cx="43.1" cy="16.1" r="0.62" fill="#3d95b8"/><circle cx="42.7" cy="17.2" r="0.69" fill="#66c2a5"/><circle cx="42.4" cy="14.9" r="0.51" fill="#5eb9a9"/><circle cx="43.9" cy="11.8" r="0.68" fill="#60bba8"/><circle cx="44.6" cy="11.9" r="0.64" fill="#6ec5a5"/><circle cx="44.3" cy="11.2" r="0.57" fill="#58b2ac"/><circle cx="37.8" cy="19.5" r="0.68" fill="#50a9af"/><circle cx="39" cy="19.7" r="0.77" fill="#81cda5"/><circle cx="38.6" cy="19.4" r="0.68" fill="#74c7a5"/><circle cx="24.5" cy="36.1" r="0.79" fill="#58b2ac"/><circle cx="23.4" cy="35.3" r="0.73" fill="#76c8a5"/><circle cx="23.7" cy="36.1" r="0.51" fill="#66c2a5"/><circle cx="25.2" cy="35.6" r="0.58" fill="#76c8a5"/><circle cx="23.4" cy="35.1" r="0.85" fill="#74c7a5"/><circle cx="24.9" cy="35.1" r="0.57" fill="#5ab4ab"/><circle cx="28.8" cy="36.3" r="0.52" fill="#3f97b7"/><circle cx="27.9" cy="35.2" r="0.74" fill="#6ec5a5"/><circle cx="27.1" cy="36.5" r="0.76" fill="#79c9a5"/><circle cx="30.1" cy="36.9" r="0.56" fill="#58b2ac"/><circle cx="30" cy="36.3" r="0.71" fill="#69c3a5"/><circle cx="9.3" cy="33" r="0.53" fill="#4199b6"/><circle cx="10.2" cy="32.5" r="0.67" fill="#54aead"/><circle cx="8.1" cy="33.2" r="0.72" fill="#3d95b8"/><circle cx="9.8" cy="33" r="0.8" fill="#64c0a6"/><circle cx="9.2" cy="33.1" r="0.58" fill="#62bda7"/><circle cx="40.3" cy="23.5" r="0.83" fill="#6bc4a5"/><circle cx="41" cy="24.4" r="0.65" fill="#439bb5"/><circle cx="17.2" cy="42.3" r="0.83" fill="#50a9af"/><circle cx="17.8" cy="41.7" r="0.71" fill="#58b2ac"/><circle cx="17.4" cy="41.2" r="0.79" fill="#62bda7"/><circle cx="16.8" cy="40.7" r="0.53" fill="#64c0a6"/><circle cx="29.1" cy="21.6" r="0.65" fill="#fa9857"/><circle cx="26.5" cy="20.9" r="0.64" fill="#fa9656"/><circle cx="26.8" cy="21.2" r="0.88" fill="#f67f4b"/><circle cx="29.4" cy="19.6" r="0.88" fill="#eb6046"/><circle cx="26.2" cy="20.8" r="0.58" fill="#f57547"/><circle cx="27.3" cy="21.3" r="0.77" fill="#e85b48"/><circle cx="28.4" cy="20.9" r="0.78" fill="#e95c47"/><circle cx="27.4" cy="18.9" r="0.6" fill="#dd4a4c"/><circle cx="26.7" cy="21.9" r="0.75" fill="#f67c4a"/><circle cx="26.5" cy="19.1" r="0.75" fill="#e3534a"/><circle cx="27.5" cy="18.6" r="0.56" fill="#f67a49"/><circle cx="28.3" cy="19.5" r="0.88" fill="#e85b48"/><circle cx="26" cy="19.9" r="0.64" fill="#eb6046"/><circle cx="27.6" cy="22.1" r="0.62" fill="#f88c51"/><circle cx="25.1" cy="20.1" r="0.61" fill="#f06744"/><circle cx="28.2" cy="20.9" r="0.78" fill="#f98e52"/><circle cx="27.8" cy="22" r="0.83" fill="#f7814c"/><circle cx="29" cy="18.3" r="0.64" fill="#f8864f"/><circle cx="27.7" cy="19.2" r="0.58" fill="#f88c51"/><circle cx="29.5" cy="21" r="0.55" fill="#e75948"/><circle cx="29.7" cy="19.9" r="0.66" fill="#f47044"/><circle cx="27.5" cy="21.9" r="0.7" fill="#f67f4b"/><circle cx="20.4" cy="20.5" r="0.76" fill="#e3534a"/><circle cx="20.3" cy="19.5" r="0.62" fill="#f7814c"/><circle cx="19.3" cy="20.3" r="0.65" fill="#e95c47"/><circle cx="19.9" cy="19.2" r="0.7" fill="#e55749"/><circle cx="11.9" cy="25.6" r="0.78" fill="#eb6046"/><circle cx="12.5" cy="24.7" r="0.79" fill="#e85b48"/><circle cx="13.5" cy="25.2" r="0.86" fill="#dc484c"/><circle cx="11.8" cy="24.7" r="0.83" fill="#e3534a"/><circle cx="11.3" cy="27.7" r="0.87" fill="#f36b43"/><circle cx="11.2" cy="28" r="0.83" fill="#f67c4a"/><circle cx="11.5" cy="28.5" r="0.64" fill="#f36b43"/><circle cx="22.6" cy="36.9" r="0.78" fill="#f88950"/><circle cx="22.4" cy="37" r="0.73" fill="#f47044"/><circle cx="22" cy="37.2" r="0.58" fill="#f36b43"/><circle cx="22.5" cy="38.3" r="0.69" fill="#da464d"/><circle cx="23" cy="39.8" r="0.75" fill="#e1504b"/><circle cx="23.3" cy="37" r="0.74" fill="#f47044"/><circle cx="22.5" cy="38.4" r="0.62" fill="#e1504b"/><circle cx="21.3" cy="58" r="0.56" fill="#f67f4b"/><circle cx="21.5" cy="58.5" r="0.74" fill="#f99355"/><circle cx="21.2" cy="56.5" r="0.73" fill="#f26944"/><circle cx="20.6" cy="57.5" r="0.76" fill="#e85b48"/><circle cx="20.9" cy="56" r="0.55" fill="#f67a49"/><circle cx="21.4" cy="56.5" r="0.68" fill="#f67f4b"/><circle cx="51.2" cy="46.6" r="0.56" fill="#f67c4a"/><circle cx="50.9" cy="46.3" r="0.74" fill="#f57748"/><circle cx="50.5" cy="47.1" r="0.8" fill="#f88c51"/><circle cx="51.8" cy="47.2" r="0.72" fill="#fa9656"/><circle cx="55" cy="56.6" r="0.6" fill="#f57245"/><circle cx="56" cy="55.1" r="0.67" fill="#dc484c"/><circle cx="55.4" cy="55.8" r="0.84" fill="#de4c4b"/><circle cx="23.5" cy="16.7" r="0.8" fill="#f98e52"/><circle cx="23.9" cy="16.4" r="0.83" fill="#df4e4b"/><circle cx="23.2" cy="16.6" r="0.89" fill="#f7844e"/></g><g opacity="0.90"><circle cx="35" cy="32.2" r="0.63" fill="#3990ba"/><circle cx="33.7" cy="32.4" r="0.66" fill="#3b92b9"/><circle cx="32.5" cy="31.9" r="0.78" fill="#3880b9"/><circle cx="31.5" cy="32.1" r="0.77" fill="#3990ba"/><circle cx="34" cy="32.5" r="0.64" fill="#3389bd"/><circle cx="35.4" cy="32.5" r="0.72" fill="#3682ba"/><circle cx="34.9" cy="32.4" r="0.73" fill="#3880b9"/><circle cx="32.8" cy="32.5" r="0.65" fill="#3f77b5"/><circle cx="34.6" cy="32.7" r="0.55" fill="#3b7cb7"/><circle cx="32.6" cy="31.7" r="0.77" fill="#3d79b6"/><circle cx="3.8" cy="28.8" r="0.74" fill="#3387bc"/><circle cx="2.4" cy="29.7" r="0.72" fill="#3b7cb7"/><circle cx="3.6" cy="30.1" r="0.8" fill="#378ebb"/><circle cx="1.7" cy="29.1" r="0.83" fill="#3d79b6"/><circle cx="4.1" cy="30.6" r="0.77" fill="#3990ba"/><circle cx="2.7" cy="29.3" r="0.65" fill="#3b7cb7"/><circle cx="2.8" cy="30" r="0.6" fill="#3f97b7"/><circle cx="3.5" cy="28.3" r="0.71" fill="#3682ba"/><circle cx="4.5" cy="28.7" r="0.68" fill="#3880b9"/><circle cx="3.2" cy="29" r="0.68" fill="#358bbc"/><circle cx="37.1" cy="22.4" r="0.82" fill="#3a7eb8"/><circle cx="37.3" cy="22.6" r="0.55" fill="#3d79b6"/><circle cx="37.7" cy="23.1" r="0.81" fill="#3f77b5"/><circle cx="37.5" cy="22.4" r="0.81" fill="#3f77b5"/><circle cx="36.5" cy="22.6" r="0.6" fill="#3b92b9"/><circle cx="27.6" cy="31.8" r="0.83" fill="#3585bb"/><circle cx="27.2" cy="31.7" r="0.82" fill="#3b92b9"/><circle cx="27" cy="31.1" r="0.78" fill="#3389bd"/><circle cx="27.2" cy="32" r="0.57" fill="#378ebb"/><circle cx="27.2" cy="31.9" r="0.78" fill="#378ebb"/></g><rect x=".5" y=".5" width="65.5" height="65.0" fill="none" stroke="#77775c" stroke-opacity="0.90"/></svg>
<svg x="227.5" y="383.5" width="66.5" height="66.0" viewBox="0 0 66.5 66.0" overflow="hidden"><rect width="67" height="66" fill="#fefeba"/><rect width="67" height="66" filter="url(#nzIn)" opacity="0.6"/><g opacity="0.50" filter="url(#b08)"><ellipse cx="19.6" cy="26.6" rx="1.5" ry="1.8" fill="#fa9b58"/><ellipse cx="20.6" cy="29.2" rx="2" ry="1.3" fill="#fa9b58"/><ellipse cx="22" cy="36" rx="3.3" ry="2.4" fill="#fa9b58"/><ellipse cx="24.8" cy="34.6" rx="1.8" ry="2.1" fill="#fa9b58"/><ellipse cx="19" cy="39.5" rx="3.3" ry="2.2" fill="#fa9b58"/><ellipse cx="23" cy="41.5" rx="2.6" ry="2.2" fill="#fa9b58"/><ellipse cx="16.5" cy="38" rx="1.7" ry="1.2" fill="#fa9b58"/><ellipse cx="21" cy="44.8" rx="1.5" ry="1.8" fill="#fa9b58"/><ellipse cx="26.2" cy="38.5" rx="1.2" ry="1.7" fill="#fa9b58"/><ellipse cx="12.5" cy="40.2" rx="2.6" ry="1.3" fill="#fa9b58"/><ellipse cx="9" cy="41.4" rx="2.2" ry="1.3" fill="#fa9b58"/><ellipse cx="21.4" cy="47.6" rx="1.1" ry="1.3" fill="#fa9b58"/><ellipse cx="44" cy="27" rx="3.3" ry="3.1" fill="#b5e1a2"/><ellipse cx="47.6" cy="30" rx="2.6" ry="2.4" fill="#b5e1a2"/><ellipse cx="41.5" cy="30.5" rx="2" ry="2.6" fill="#b5e1a2"/><ellipse cx="45" cy="33.6" rx="2.2" ry="1.8" fill="#b5e1a2"/><ellipse cx="42.5" cy="24.3" rx="1.7" ry="1.4" fill="#b5e1a2"/><ellipse cx="49.6" cy="26" rx="1.3" ry="1.7" fill="#b5e1a2"/><ellipse cx="40" cy="34.6" rx="1.2" ry="1.4" fill="#b5e1a2"/><ellipse cx="46.5" cy="23.2" rx="1.1" ry="1.1" fill="#b5e1a2"/><ellipse cx="32" cy="24" rx="1.5" ry="1.5" fill="#b5e1a2"/><ellipse cx="32" cy="35" rx="1.7" ry="2.2" fill="#b5e1a2"/><ellipse cx="35.8" cy="38.5" rx="1.7" ry="1.4" fill="#b5e1a2"/><ellipse cx="43" cy="40" rx="1.3" ry="2" fill="#b5e1a2"/><ellipse cx="45.2" cy="43.5" rx="1.1" ry="1.5" fill="#b5e1a2"/><ellipse cx="40.9" cy="47.3" rx="1.4" ry="1.2" fill="#b5e1a2"/></g><g opacity="0.75"><circle cx="25.9" cy="19.2" r="0.82" fill="#ddf19a"/><circle cx="28.6" cy="19.5" r="0.53" fill="#e9f69d"/><circle cx="28.6" cy="19.4" r="0.79" fill="#d6ee9b"/><circle cx="27.3" cy="20.1" r="0.81" fill="#e6f598"/><circle cx="26.7" cy="20" r="0.84" fill="#c8e99e"/><circle cx="28.3" cy="18.3" r="0.58" fill="#d6ee9b"/><circle cx="25.4" cy="19.4" r="0.67" fill="#e9f69d"/><circle cx="53.4" cy="40.5" r="0.62" fill="#e6f598"/><circle cx="53.5" cy="40.6" r="0.7" fill="#c6e89f"/><circle cx="52.5" cy="39.7" r="0.64" fill="#dff299"/><circle cx="52.8" cy="41.4" r="0.62" fill="#ecf7a1"/><circle cx="53.7" cy="18.1" r="0.74" fill="#daf09a"/><circle cx="52.7" cy="18.7" r="0.84" fill="#cdeb9d"/><circle cx="51.3" cy="18.4" r="0.84" fill="#edf8a3"/><circle cx="51.9" cy="18.7" r="0.62" fill="#daf09a"/><circle cx="44.4" cy="7.6" r="0.8" fill="#e1f399"/><circle cx="44.7" cy="7" r="0.61" fill="#ddf19a"/><circle cx="45.4" cy="7.4" r="0.56" fill="#e1f399"/><circle cx="44.2" cy="8.1" r="0.68" fill="#e8f69b"/><circle cx="22.1" cy="15.6" r="0.58" fill="#cfec9d"/><circle cx="22.6" cy="15.9" r="0.69" fill="#e1f399"/><circle cx="23.5" cy="16.6" r="0.72" fill="#c3e79f"/><circle cx="62.8" cy="13.1" r="0.55" fill="#d3ed9c"/><circle cx="63" cy="13" r="0.79" fill="#d8ef9b"/><circle cx="64.2" cy="13.5" r="0.65" fill="#c6e89f"/><circle cx="23.2" cy="57.6" r="0.69" fill="#e1f399"/><circle cx="23.5" cy="56.7" r="0.63" fill="#e1f399"/><circle cx="22.6" cy="57.6" r="0.78" fill="#e1f399"/><circle cx="10.1" cy="2.6" r="0.71" fill="#e8f69b"/><circle cx="10.4" cy="2.1" r="0.84" fill="#ecf7a1"/><circle cx="36.7" cy="20.7" r="0.59" fill="#e1f399"/><circle cx="36.3" cy="21.7" r="0.68" fill="#d6ee9b"/><circle cx="37.6" cy="21.1" r="0.63" fill="#d6ee9b"/><circle cx="36.1" cy="21.9" r="0.58" fill="#ecf7a1"/><circle cx="11.8" cy="62.4" r="0.56" fill="#e6f598"/><circle cx="11.5" cy="63.2" r="0.7" fill="#e1f399"/><circle cx="10.9" cy="62.7" r="0.56" fill="#e7f59a"/><circle cx="54.5" cy="24.3" r="0.75" fill="#e7f59a"/><circle cx="55.1" cy="25.2" r="0.61" fill="#e8f69b"/><circle cx="55" cy="24.4" r="0.77" fill="#ebf7a0"/><circle cx="3.3" cy="35.4" r="0.57" fill="#fa9656"/><circle cx="4.3" cy="34.3" r="0.56" fill="#fb9d59"/><circle cx="2.4" cy="34.3" r="0.52" fill="#fcaa5f"/><circle cx="3" cy="34.1" r="0.61" fill="#f57547"/><circle cx="4.1" cy="34.2" r="0.63" fill="#fba35c"/><circle cx="2.3" cy="13.6" r="0.62" fill="#fba35c"/><circle cx="1.9" cy="14.4" r="0.75" fill="#f67a49"/><circle cx="2.5" cy="15.2" r="0.65" fill="#f57547"/><circle cx="6" cy="19.3" r="0.67" fill="#fb9d59"/><circle cx="5.9" cy="20.8" r="0.6" fill="#fcaa5f"/><circle cx="6.3" cy="19.9" r="0.6" fill="#f88950"/><circle cx="13.5" cy="55.9" r="0.65" fill="#fdb163"/><circle cx="14.4" cy="56.5" r="0.59" fill="#f67c4a"/><circle cx="57.2" cy="63.3" r="0.63" fill="#f98e52"/><circle cx="57.4" cy="62.6" r="0.75" fill="#fdbb6c"/><circle cx="58.8" cy="62.7" r="0.55" fill="#f99153"/></g><g opacity="0.80"><circle cx="19.3" cy="27.7" r="0.59" fill="#fca85e"/><circle cx="19.6" cy="27.4" r="0.9" fill="#f67c4a"/><circle cx="20.1" cy="26.7" r="0.8" fill="#ea5e47"/><circle cx="19.5" cy="26.1" r="0.58" fill="#f7844e"/><circle cx="19.7" cy="26.8" r="0.77" fill="#f06744"/><circle cx="18.4" cy="27.3" r="0.89" fill="#fba35c"/><circle cx="18.5" cy="26.7" r="0.72" fill="#fa9857"/><circle cx="21.1" cy="29.1" r="0.55" fill="#f67f4b"/><circle cx="19.4" cy="28.7" r="0.63" fill="#f06744"/><circle cx="19.2" cy="29.8" r="0.71" fill="#fa9b58"/><circle cx="19" cy="29.4" r="0.6" fill="#f98e52"/><circle cx="20.5" cy="30" r="0.58" fill="#f99355"/><circle cx="19.2" cy="29.4" r="0.72" fill="#ee6445"/><circle cx="21.9" cy="35.8" r="0.63" fill="#f67c4a"/><circle cx="22.4" cy="34.5" r="0.81" fill="#fca55d"/><circle cx="22.7" cy="35.2" r="0.7" fill="#ef6645"/><circle cx="23.2" cy="34.6" r="0.78" fill="#ef6645"/><circle cx="20.6" cy="36.7" r="0.94" fill="#f57547"/><circle cx="23.4" cy="35.6" r="0.83" fill="#f57245"/><circle cx="21.9" cy="37.2" r="0.93" fill="#f88c51"/><circle cx="21.9" cy="37.3" r="0.79" fill="#f7814c"/><circle cx="21.5" cy="35.7" r="0.7" fill="#f36b43"/><circle cx="21" cy="34.1" r="0.58" fill="#f57748"/><circle cx="24.8" cy="35.9" r="0.57" fill="#f7814c"/><circle cx="20.7" cy="34.9" r="0.82" fill="#f88950"/><circle cx="20.3" cy="36.5" r="0.59" fill="#fca55d"/><circle cx="21.5" cy="36.9" r="0.83" fill="#ef6645"/><circle cx="20.3" cy="34.6" r="0.63" fill="#fa9b58"/><circle cx="23.6" cy="35.1" r="0.7" fill="#fb9d59"/><circle cx="20.7" cy="34.1" r="0.71" fill="#fca85e"/><circle cx="19.8" cy="37.1" r="0.66" fill="#f36b43"/><circle cx="23.6" cy="37.8" r="0.85" fill="#fca85e"/><circle cx="21.5" cy="35.8" r="0.77" fill="#f8864f"/><circle cx="24.1" cy="36" r="0.94" fill="#f88950"/><circle cx="24.7" cy="35" r="0.91" fill="#f99153"/><circle cx="24.8" cy="36.3" r="0.65" fill="#f67a49"/><circle cx="23.3" cy="34.2" r="0.88" fill="#f88c51"/><circle cx="23.9" cy="34.4" r="0.83" fill="#f7844e"/><circle cx="24.6" cy="33.9" r="0.69" fill="#fcaa5f"/><circle cx="24.2" cy="33" r="0.83" fill="#f67c4a"/><circle cx="24.9" cy="34.7" r="0.89" fill="#f99153"/><circle cx="24.9" cy="33.4" r="0.78" fill="#eb6046"/><circle cx="19.9" cy="38.5" r="0.69" fill="#eb6046"/><circle cx="17.6" cy="41.1" r="0.92" fill="#f57547"/><circle cx="19.7" cy="41.1" r="0.63" fill="#f67f4b"/><circle cx="21.9" cy="39.4" r="0.73" fill="#fa9b58"/><circle cx="19.3" cy="40.6" r="0.6" fill="#f06744"/><circle cx="18.5" cy="40.5" r="0.62" fill="#f46d43"/><circle cx="20" cy="41.4" r="0.64" fill="#f57547"/><circle cx="17" cy="38.8" r="0.68" fill="#fca55d"/><circle cx="20.2" cy="41.3" r="0.58" fill="#f88c51"/><circle cx="21.2" cy="38.4" r="0.64" fill="#f47044"/><circle cx="18.5" cy="39.5" r="0.84" fill="#f57245"/><circle cx="19.6" cy="40.6" r="0.77" fill="#f67f4b"/><circle cx="20" cy="38.3" r="0.92" fill="#fca85e"/><circle cx="18.4" cy="38.8" r="0.55" fill="#f06744"/><circle cx="16.8" cy="38.8" r="0.95" fill="#fa9857"/><circle cx="20.7" cy="40" r="0.71" fill="#f7814c"/><circle cx="21.4" cy="39.9" r="0.87" fill="#f67c4a"/><circle cx="20.4" cy="38" r="0.9" fill="#fba35c"/><circle cx="22.4" cy="42" r="0.85" fill="#f06744"/><circle cx="24.1" cy="43.2" r="0.94" fill="#f7814c"/><circle cx="21.1" cy="41.9" r="0.55" fill="#f67f4b"/><circle cx="24.9" cy="42.3" r="0.56" fill="#f67c4a"/><circle cx="22.9" cy="42.6" r="0.77" fill="#f99355"/><circle cx="24.5" cy="42.5" r="0.88" fill="#fb9d59"/><circle cx="24.2" cy="41" r="0.68" fill="#f98e52"/><circle cx="21.2" cy="41.5" r="0.57" fill="#f47044"/><circle cx="21.7" cy="42" r="0.85" fill="#f26944"/><circle cx="23.7" cy="40.7" r="0.74" fill="#ee6445"/><circle cx="20.9" cy="42.4" r="0.61" fill="#f88950"/><circle cx="20.8" cy="40.8" r="0.57" fill="#fcaa5f"/><circle cx="23.3" cy="40.6" r="0.73" fill="#f06744"/><circle cx="23.3" cy="43.1" r="0.69" fill="#ee6445"/><circle cx="16.9" cy="37.5" r="0.74" fill="#fa9b58"/><circle cx="15.8" cy="37.2" r="0.55" fill="#f57748"/><circle cx="15.6" cy="38.8" r="0.68" fill="#f57245"/><circle cx="16.6" cy="37.9" r="0.9" fill="#fba05b"/><circle cx="17.6" cy="38.2" r="0.58" fill="#ef6645"/><circle cx="21" cy="45.4" r="0.64" fill="#ed6246"/><circle cx="20.3" cy="45.1" r="0.89" fill="#ef6645"/><circle cx="20.3" cy="45.3" r="0.85" fill="#fca85e"/><circle cx="21.6" cy="44.6" r="0.63" fill="#fa9656"/><circle cx="21" cy="45.4" r="0.85" fill="#fca55d"/><circle cx="20.5" cy="44" r="0.84" fill="#f67c4a"/><circle cx="20.1" cy="45.5" r="0.59" fill="#f67f4b"/><circle cx="25.3" cy="38.9" r="0.65" fill="#f26944"/><circle cx="26.7" cy="37.2" r="0.87" fill="#fa9656"/><circle cx="26.7" cy="38.2" r="0.69" fill="#fa9857"/><circle cx="25.3" cy="38.8" r="0.77" fill="#fca55d"/><circle cx="26.1" cy="37" r="0.73" fill="#fa9b58"/><circle cx="12.2" cy="40.5" r="0.59" fill="#f7844e"/><circle cx="12.6" cy="39.8" r="0.91" fill="#f7814c"/><circle cx="12.4" cy="40.8" r="0.75" fill="#f99355"/><circle cx="13.1" cy="39.3" r="0.71" fill="#f26944"/><circle cx="10.5" cy="39.9" r="0.77" fill="#f99355"/><circle cx="13.4" cy="39.1" r="0.69" fill="#eb6046"/><circle cx="11.2" cy="40.9" r="0.77" fill="#fca55d"/><circle cx="10.9" cy="40.7" r="0.6" fill="#f57245"/><circle cx="12" cy="40.1" r="0.68" fill="#fca85e"/><circle cx="7.3" cy="41.6" r="0.62" fill="#fa9656"/><circle cx="10.4" cy="40.6" r="0.72" fill="#f57748"/><circle cx="9.3" cy="41.3" r="0.62" fill="#eb6046"/><circle cx="9.8" cy="41.4" r="0.69" fill="#fca55d"/><circle cx="10.5" cy="41.3" r="0.84" fill="#fdad60"/><circle cx="7.6" cy="42.2" r="0.57" fill="#fdad60"/><circle cx="8.7" cy="42.3" r="0.89" fill="#f36b43"/><circle cx="21.2" cy="48.4" r="0.58" fill="#f46d43"/><circle cx="20.6" cy="47.7" r="0.7" fill="#fb9d59"/><circle cx="21.5" cy="46.6" r="0.87" fill="#f98e52"/><circle cx="22.1" cy="47.9" r="0.7" fill="#fca85e"/><circle cx="46.2" cy="28.1" r="0.82" fill="#bce4a0"/><circle cx="44.7" cy="25.5" r="0.78" fill="#84cea5"/><circle cx="44.7" cy="27" r="0.74" fill="#cdeb9d"/><circle cx="43.5" cy="29.3" r="0.57" fill="#76c8a5"/><circle cx="41.3" cy="27.7" r="0.71" fill="#bce4a0"/><circle cx="44.1" cy="28.2" r="0.78" fill="#bfe5a0"/><circle cx="42" cy="28.6" r="0.55" fill="#9cd7a4"/><circle cx="44.3" cy="26.6" r="0.62" fill="#a2d9a4"/><circle cx="45.1" cy="25.8" r="0.77" fill="#94d4a4"/><circle cx="45.3" cy="25.7" r="0.71" fill="#86cfa5"/><circle cx="42.7" cy="29.2" r="0.92" fill="#89d0a4"/><circle cx="43.8" cy="27.3" r="0.78" fill="#99d6a4"/><circle cx="44.6" cy="25.5" r="0.84" fill="#89d0a4"/><circle cx="44" cy="28.6" r="0.86" fill="#cfec9d"/><circle cx="41.7" cy="25.6" r="0.68" fill="#97d5a4"/><circle cx="46.3" cy="28" r="0.59" fill="#c8e99e"/><circle cx="42.7" cy="27.7" r="0.61" fill="#8cd1a4"/><circle cx="44.4" cy="25.4" r="0.65" fill="#c3e79f"/><circle cx="44.4" cy="25.6" r="0.89" fill="#89d0a4"/><circle cx="44.5" cy="24.5" r="0.74" fill="#97d5a4"/><circle cx="46.1" cy="30.1" r="0.65" fill="#acdda4"/><circle cx="48" cy="30.9" r="0.61" fill="#bce4a0"/><circle cx="49.4" cy="29.1" r="0.84" fill="#74c7a5"/><circle cx="49" cy="29.6" r="0.82" fill="#c8e99e"/><circle cx="46" cy="31.6" r="0.64" fill="#c6e89f"/><circle cx="46.4" cy="29.4" r="0.6" fill="#a7dba4"/><circle cx="47.9" cy="31.6" r="0.68" fill="#7ccaa5"/><circle cx="48.4" cy="30.3" r="0.91" fill="#89d0a4"/><circle cx="48.9" cy="29.3" r="0.58" fill="#7ecca5"/><circle cx="48.5" cy="30.4" r="0.88" fill="#8cd1a4"/><circle cx="49.6" cy="28.9" r="0.74" fill="#74c7a5"/><circle cx="45.5" cy="29.3" r="0.71" fill="#8fd2a4"/><circle cx="49.3" cy="31.4" r="0.67" fill="#aadca4"/><circle cx="42.3" cy="30.7" r="0.78" fill="#cfec9d"/><circle cx="40.5" cy="30.1" r="0.91" fill="#9cd7a4"/><circle cx="43.2" cy="29.6" r="0.63" fill="#b8e2a1"/><circle cx="42.9" cy="30.7" r="0.58" fill="#b3e0a2"/><circle cx="40" cy="31" r="0.88" fill="#b5e1a2"/><circle cx="41.4" cy="29.8" r="0.9" fill="#aadca4"/><circle cx="42.7" cy="31.9" r="0.56" fill="#76c8a5"/><circle cx="40.7" cy="29" r="0.93" fill="#a7dba4"/><circle cx="42.1" cy="31.1" r="0.65" fill="#c8e99e"/><circle cx="41.8" cy="32.1" r="0.59" fill="#bfe5a0"/><circle cx="44.2" cy="35" r="0.57" fill="#9fd8a4"/><circle cx="44.6" cy="33.4" r="0.67" fill="#aadca4"/><circle cx="45.5" cy="34.4" r="0.59" fill="#c3e79f"/><circle cx="45" cy="34.1" r="0.9" fill="#91d3a4"/><circle cx="46.5" cy="34.5" r="0.85" fill="#7ccaa5"/><circle cx="46.4" cy="34.5" r="0.85" fill="#94d4a4"/><circle cx="43.9" cy="33.2" r="0.93" fill="#9cd7a4"/><circle cx="44.5" cy="32.9" r="0.62" fill="#c8e99e"/><circle cx="42.7" cy="25" r="0.58" fill="#86cfa5"/><circle cx="43.3" cy="24.2" r="0.73" fill="#91d3a4"/><circle cx="43.7" cy="24.5" r="0.91" fill="#b8e2a1"/><circle cx="43.2" cy="24.6" r="0.9" fill="#97d5a4"/><circle cx="41.6" cy="24.2" r="0.81" fill="#cdeb9d"/><circle cx="50.5" cy="26.6" r="0.65" fill="#89d0a4"/><circle cx="49.3" cy="26.8" r="0.86" fill="#b1dfa3"/><circle cx="49.4" cy="25.3" r="0.76" fill="#acdda4"/><circle cx="50.3" cy="26.1" r="0.6" fill="#89d0a4"/><circle cx="39.2" cy="35.3" r="0.71" fill="#a4daa4"/><circle cx="40.5" cy="34.3" r="0.82" fill="#86cfa5"/><circle cx="39.7" cy="34.3" r="0.86" fill="#a4daa4"/><circle cx="46.5" cy="22.9" r="0.62" fill="#81cda5"/><circle cx="47.2" cy="23.2" r="0.63" fill="#caea9e"/><circle cx="31.5" cy="24" r="0.8" fill="#c3e79f"/><circle cx="32.1" cy="24.7" r="0.73" fill="#bae3a1"/><circle cx="31" cy="23.8" r="0.86" fill="#bfe5a0"/><circle cx="31.8" cy="25.2" r="0.92" fill="#bfe5a0"/><circle cx="31.2" cy="24.4" r="0.9" fill="#97d5a4"/><circle cx="33.1" cy="35.1" r="0.66" fill="#97d5a4"/><circle cx="32" cy="34.4" r="0.88" fill="#aedea3"/><circle cx="31.6" cy="33.3" r="0.9" fill="#acdda4"/><circle cx="31.9" cy="34.8" r="0.93" fill="#91d3a4"/><circle cx="30.9" cy="36" r="0.75" fill="#7ecca5"/><circle cx="30.8" cy="35.5" r="0.65" fill="#97d5a4"/><circle cx="33.1" cy="35.3" r="0.74" fill="#c1e6a0"/><circle cx="35.2" cy="39.7" r="0.86" fill="#9cd7a4"/><circle cx="35.6" cy="38.6" r="0.85" fill="#caea9e"/><circle cx="35.9" cy="38.9" r="0.78" fill="#c1e6a0"/><circle cx="37.2" cy="38.5" r="0.74" fill="#94d4a4"/><circle cx="36.5" cy="38.6" r="0.64" fill="#9fd8a4"/><circle cx="42.9" cy="39.5" r="0.57" fill="#acdda4"/><circle cx="43" cy="38.6" r="0.81" fill="#97d5a4"/><circle cx="43.8" cy="39.4" r="0.57" fill="#7ccaa5"/><circle cx="42.8" cy="39.8" r="0.88" fill="#cdeb9d"/><circle cx="43.2" cy="38.2" r="0.61" fill="#99d6a4"/><circle cx="44.7" cy="42.9" r="0.63" fill="#b8e2a1"/><circle cx="44.5" cy="43.2" r="0.9" fill="#74c7a5"/><circle cx="45.9" cy="42.9" r="0.81" fill="#b8e2a1"/><circle cx="40.9" cy="48" r="0.59" fill="#a7dba4"/><circle cx="40.1" cy="46.7" r="0.79" fill="#81cda5"/><circle cx="41.6" cy="47.7" r="0.85" fill="#a7dba4"/></g><rect x=".5" y=".5" width="65.5" height="65.0" fill="none" stroke="#77775c" stroke-opacity="0.90"/></svg>
<svg x="299.0" y="238.7" width="66.5" height="66.0" viewBox="0 0 66.5 66.0" overflow="hidden"><rect width="67" height="66" fill="#fefeba"/><rect width="67" height="66" filter="url(#nzIn)" opacity="0.6"/><g opacity="0.80"><circle cx="13.5" cy="9.5" r="0.91" fill="#e6f598"/><circle cx="14.3" cy="10.4" r="0.77" fill="#e4f498"/><circle cx="14" cy="9.9" r="0.63" fill="#d6ee9b"/><circle cx="16.3" cy="8.9" r="0.84" fill="#e6f598"/><circle cx="14.3" cy="9.7" r="0.88" fill="#e7f59a"/><circle cx="45.7" cy="4" r="0.7" fill="#c3e79f"/><circle cx="45.4" cy="2.4" r="0.83" fill="#e9f69d"/><circle cx="51.9" cy="17.1" r="0.73" fill="#fec877"/><circle cx="52.5" cy="17.7" r="0.56" fill="#fed27f"/><circle cx="44.5" cy="19.8" r="0.74" fill="#fdc776"/><circle cx="43.9" cy="20.6" r="0.65" fill="#fede89"/><circle cx="58.9" cy="6.4" r="0.77" fill="#fed481"/><circle cx="58.8" cy="6.7" r="0.73" fill="#fdc776"/><circle cx="62.8" cy="29.5" r="0.83" fill="#fed481"/><circle cx="63.4" cy="29.9" r="0.64" fill="#fed27f"/><circle cx="35.6" cy="37.6" r="0.89" fill="#fee797"/><circle cx="35.6" cy="37.3" r="0.75" fill="#fee695"/><circle cx="35.1" cy="36.9" r="0.63" fill="#fede89"/></g><g opacity="0.80" filter="url(#b08)"><ellipse cx="31.3" cy="28.6" rx="1.5" ry="4.6" fill="#f67a49" transform="rotate(-20 31.3 28.6)"/><ellipse cx="37.6" cy="34.6" rx="1" ry="3" fill="#5cb7aa" transform="rotate(-28 37.6 34.6)"/></g><g opacity="0.85"><circle cx="29.9" cy="24.4" r="0.67" fill="#e45549"/><circle cx="30.5" cy="25.8" r="0.77" fill="#ee6445"/><circle cx="30.7" cy="27.1" r="0.68" fill="#e75948"/><circle cx="30.9" cy="28.4" r="0.72" fill="#e2514a"/><circle cx="32.1" cy="29.8" r="0.89" fill="#f57245"/><circle cx="31.9" cy="31.1" r="0.78" fill="#e2514a"/><circle cx="32.7" cy="32.5" r="0.64" fill="#f26944"/><circle cx="32.8" cy="33.4" r="0.68" fill="#e55749"/><circle cx="36.1" cy="32.2" r="0.78" fill="#56b0ad"/><circle cx="37" cy="33.4" r="0.73" fill="#5ab4ab"/><circle cx="37.3" cy="34.6" r="0.56" fill="#76c8a5"/><circle cx="38.3" cy="35.8" r="0.63" fill="#3f97b7"/><circle cx="38.8" cy="37" r="0.58" fill="#52abae"/><circle cx="35.2" cy="37.6" r="0.7" fill="#fba05b"/><circle cx="34.4" cy="36" r="0.6" fill="#f47044"/></g><path d="M0,33.6 Q7,50.5 16.6,66 L0,66 Z" fill="#000"/><rect x=".5" y=".5" width="65.5" height="65.0" fill="none" stroke="#77775c" stroke-opacity="0.90"/></svg>
<svg x="299.0" y="311.1" width="66.5" height="66.0" viewBox="0 0 66.5 66.0" overflow="hidden"><rect width="67" height="66" fill="#fefeba"/><rect width="67" height="66" filter="url(#nzIn)" opacity="0.6"/><g opacity="0.32" filter="url(#b12)"><path d="M0,29 L4,29.5 L8,31 L10,33" fill="none" stroke="#aadca4" stroke-width="3.2" stroke-linecap="round" stroke-linejoin="round"/><path d="M1,36 L4,38 L3,42 L3,46 L5,49 L7.4,50.6 L10,48 L12.5,45 L15,44.5 L18.3,45.5 L21,44.5 L24,43.5 L27,43 L29,42" fill="none" stroke="#aadca4" stroke-width="3.2" stroke-linecap="round" stroke-linejoin="round"/><path d="M23,31 L27,31.5 L30,32 L33.6,31.9 L36.5,32.6" fill="none" stroke="#aadca4" stroke-width="3.2" stroke-linecap="round" stroke-linejoin="round"/><path d="M20.5,27.5 L22,23 L25,25 L25.6,28 L28,28 L30.5,27.5 L33,29" fill="none" stroke="#aadca4" stroke-width="3.2" stroke-linecap="round" stroke-linejoin="round"/><path d="M36,30.5 L37,26 L38,22.3 L38.7,19 L36,16.5 L35,14.5" fill="none" stroke="#aadca4" stroke-width="3.2" stroke-linecap="round" stroke-linejoin="round"/><path d="M38.7,19 L41,17 L43,15.7 L44.5,11" fill="none" stroke="#aadca4" stroke-width="3.2" stroke-linecap="round" stroke-linejoin="round"/><path d="M24,33 L23.6,36 L25,38.4 L28.5,36.5 L30,34" fill="none" stroke="#aadca4" stroke-width="3.2" stroke-linecap="round" stroke-linejoin="round"/><path d="M12.5,45 L12.5,43 L16.5,41.5" fill="none" stroke="#aadca4" stroke-width="3.2" stroke-linecap="round" stroke-linejoin="round"/><path d="M0,39 L2,40" fill="none" stroke="#aadca4" stroke-width="3.2" stroke-linecap="round" stroke-linejoin="round"/><path d="M6,34 L9.5,33" fill="none" stroke="#aadca4" stroke-width="3.2" stroke-linecap="round" stroke-linejoin="round"/></g><g opacity="0.50" filter="url(#b08)"><path d="M0,29 L4,29.5 L8,31 L10,33" fill="none" stroke="#74c7a5" stroke-width="1.3" stroke-linecap="round" stroke-linejoin="round"/><path d="M1,36 L4,38 L3,42 L3,46 L5,49 L7.4,50.6 L10,48 L12.5,45 L15,44.5 L18.3,45.5 L21,44.5 L24,43.5 L27,43 L29,42" fill="none" stroke="#74c7a5" stroke-width="1.3" stroke-linecap="round" stroke-linejoin="round"/><path d="M23,31 L27,31.5 L30,32 L33.6,31.9 L36.5,32.6" fill="none" stroke="#74c7a5" stroke-width="1.3" stroke-linecap="round" stroke-linejoin="round"/><path d="M20.5,27.5 L22,23 L25,25 L25.6,28 L28,28 L30.5,27.5 L33,29" fill="none" stroke="#74c7a5" stroke-width="1.3" stroke-linecap="round" stroke-linejoin="round"/><path d="M36,30.5 L37,26 L38,22.3 L38.7,19 L36,16.5 L35,14.5" fill="none" stroke="#74c7a5" stroke-width="1.3" stroke-linecap="round" stroke-linejoin="round"/><path d="M38.7,19 L41,17 L43,15.7 L44.5,11" fill="none" stroke="#74c7a5" stroke-width="1.3" stroke-linecap="round" stroke-linejoin="round"/><path d="M24,33 L23.6,36 L25,38.4 L28.5,36.5 L30,34" fill="none" stroke="#74c7a5" stroke-width="1.3" stroke-linecap="round" stroke-linejoin="round"/><path d="M12.5,45 L12.5,43 L16.5,41.5" fill="none" stroke="#74c7a5" stroke-width="1.3" stroke-linecap="round" stroke-linejoin="round"/><path d="M0,39 L2,40" fill="none" stroke="#74c7a5" stroke-width="1.3" stroke-linecap="round" stroke-linejoin="round"/><path d="M6,34 L9.5,33" fill="none" stroke="#74c7a5" stroke-width="1.3" stroke-linecap="round" stroke-linejoin="round"/><ellipse cx="3.8" cy="29.5" rx="3.6" ry="2.3" fill="#81cda5"/><ellipse cx="3.5" cy="38" rx="2.2" ry="1.4" fill="#81cda5"/><ellipse cx="3" cy="46.3" rx="1.3" ry="1.8" fill="#81cda5"/><ellipse cx="7.4" cy="50.6" rx="1.4" ry="1.4" fill="#81cda5"/><ellipse cx="12.5" cy="45" rx="2.3" ry="1.8" fill="#81cda5"/><ellipse cx="18.3" cy="45.5" rx="2.2" ry="1.3" fill="#81cda5"/><ellipse cx="24" cy="43.5" rx="2.7" ry="1.1" fill="#81cda5"/><ellipse cx="30" cy="32" rx="5.6" ry="1.4" fill="#81cda5"/><ellipse cx="22" cy="23" rx="1.8" ry="1.3" fill="#81cda5"/><ellipse cx="20.5" cy="26.5" rx="1.4" ry="1.6" fill="#81cda5"/><ellipse cx="25.6" cy="28" rx="2" ry="1.4" fill="#81cda5"/><ellipse cx="30" cy="27.5" rx="1.8" ry="1.3" fill="#81cda5"/><ellipse cx="38" cy="22.3" rx="2" ry="1.6" fill="#81cda5"/><ellipse cx="35" cy="15.7" rx="1.3" ry="1.4" fill="#81cda5"/><ellipse cx="43" cy="15.7" rx="1.1" ry="1.4" fill="#81cda5"/><ellipse cx="44.5" cy="11.3" rx="0.9" ry="1.3" fill="#81cda5"/><ellipse cx="38.7" cy="19" rx="1.3" ry="1.1" fill="#81cda5"/><ellipse cx="24" cy="36" rx="1.4" ry="2" fill="#81cda5"/><ellipse cx="28.5" cy="36.5" rx="1.6" ry="1.4" fill="#81cda5"/><ellipse cx="9.5" cy="33" rx="1.6" ry="1.3" fill="#81cda5"/><ellipse cx="41" cy="23.5" rx="0.9" ry="0.9" fill="#81cda5"/><ellipse cx="16.5" cy="41.5" rx="1.3" ry="1.3" fill="#81cda5"/><ellipse cx="27.8" cy="20" rx="3.1" ry="2.4" fill="#f99355"/><ellipse cx="19.8" cy="19.8" rx="1.4" ry="1" fill="#f99355"/><ellipse cx="12.5" cy="25.2" rx="1.3" ry="1.1" fill="#f99355"/><ellipse cx="11" cy="28" rx="1" ry="1" fill="#f99355"/><ellipse cx="22.7" cy="38.3" rx="1.3" ry="1.8" fill="#f99355"/><ellipse cx="21.2" cy="57.2" rx="1.3" ry="1.5" fill="#f99355"/><ellipse cx="51" cy="47" rx="1.3" ry="1" fill="#f99355"/><ellipse cx="55.4" cy="55.7" rx="0.9" ry="1.2" fill="#f99355"/><ellipse cx="23.5" cy="16.6" rx="1.1" ry="0.9" fill="#f99355"/></g><g opacity="0.70"><circle cx="1.8" cy="30.8" r="0.58" fill="#5eb9a9"/><circle cx="1.4" cy="29.9" r="0.56" fill="#3d95b8"/><circle cx="3.2" cy="29.7" r="0.67" fill="#5ab4ab"/><circle cx="3.3" cy="30.3" r="0.56" fill="#6ec5a5"/><circle cx="3.2" cy="29.3" r="0.72" fill="#3f97b7"/><circle cx="4.9" cy="30.6" r="0.83" fill="#66c2a5"/><circle cx="5.3" cy="30.8" r="0.6" fill="#74c7a5"/><circle cx="6.9" cy="30.5" r="0.5" fill="#6bc4a5"/><circle cx="7.1" cy="32.2" r="0.85" fill="#459eb4"/><circle cx="7.5" cy="31.3" r="0.62" fill="#62bda7"/><circle cx="9.4" cy="33.5" r="0.63" fill="#47a0b3"/><circle cx="1.5" cy="36.3" r="0.72" fill="#76c8a5"/><circle cx="2.4" cy="37.7" r="0.62" fill="#52abae"/><circle cx="1.7" cy="37.6" r="0.59" fill="#3b92b9"/><circle cx="5.6" cy="37.7" r="0.83" fill="#56b0ad"/><circle cx="3.6" cy="39" r="0.82" fill="#4199b6"/><circle cx="3.3" cy="39.6" r="0.75" fill="#74c7a5"/><circle cx="4" cy="41" r="0.77" fill="#5cb7aa"/><circle cx="4.3" cy="41.3" r="0.53" fill="#69c3a5"/><circle cx="2.9" cy="42.8" r="0.78" fill="#4ea7b0"/><circle cx="3.7" cy="44.1" r="0.84" fill="#5ab4ab"/><circle cx="3.6" cy="44" r="0.68" fill="#74c7a5"/><circle cx="2.6" cy="45.1" r="0.67" fill="#64c0a6"/><circle cx="3.1" cy="46.3" r="0.75" fill="#4ba4b1"/><circle cx="4.2" cy="47.6" r="0.62" fill="#76c8a5"/><circle cx="5" cy="48" r="0.71" fill="#58b2ac"/><circle cx="3.5" cy="47.8" r="0.8" fill="#439bb5"/><circle cx="5.6" cy="48.2" r="0.76" fill="#50a9af"/><circle cx="6.8" cy="50.1" r="0.73" fill="#60bba8"/><circle cx="6.5" cy="49.8" r="0.76" fill="#66c2a5"/><circle cx="7.3" cy="51.7" r="0.61" fill="#49a2b2"/><circle cx="7.5" cy="49.8" r="0.8" fill="#4ea7b0"/><circle cx="9.7" cy="49.5" r="0.58" fill="#79c9a5"/><circle cx="7.2" cy="47.4" r="0.79" fill="#7ecca5"/><circle cx="8.5" cy="46.9" r="0.61" fill="#5eb9a9"/><circle cx="11" cy="47.4" r="0.62" fill="#66c2a5"/><circle cx="10.1" cy="46.1" r="0.59" fill="#6ec5a5"/><circle cx="12.7" cy="45.6" r="0.62" fill="#79c9a5"/><circle cx="14.2" cy="45.5" r="0.83" fill="#54aead"/><circle cx="14.1" cy="44.9" r="0.56" fill="#459eb4"/><circle cx="16.3" cy="44.2" r="0.69" fill="#4ea7b0"/><circle cx="16.7" cy="44.9" r="0.85" fill="#56b0ad"/><circle cx="17" cy="46.3" r="0.82" fill="#7ecca5"/><circle cx="19.5" cy="45.7" r="0.71" fill="#54aead"/><circle cx="18.1" cy="45.8" r="0.61" fill="#71c6a5"/><circle cx="20.4" cy="44.3" r="0.75" fill="#54aead"/><circle cx="22.4" cy="44.4" r="0.84" fill="#5cb7aa"/><circle cx="22.4" cy="44.4" r="0.73" fill="#66c2a5"/><circle cx="23" cy="45.1" r="0.75" fill="#5cb7aa"/><circle cx="24.5" cy="43.7" r="0.81" fill="#54aead"/><circle cx="25.3" cy="41.7" r="0.64" fill="#439bb5"/><circle cx="25.9" cy="43.7" r="0.68" fill="#62bda7"/><circle cx="27.7" cy="43.2" r="0.7" fill="#439bb5"/><circle cx="28" cy="42.1" r="0.56" fill="#50a9af"/><circle cx="23.1" cy="32" r="0.79" fill="#64c0a6"/><circle cx="24.4" cy="30.4" r="0.53" fill="#54aead"/><circle cx="24.9" cy="30.6" r="0.69" fill="#7ecca5"/><circle cx="26.1" cy="30.3" r="0.68" fill="#50a9af"/><circle cx="27.5" cy="31.3" r="0.61" fill="#49a2b2"/><circle cx="27.7" cy="31.6" r="0.77" fill="#76c8a5"/><circle cx="29.5" cy="32" r="0.64" fill="#3f97b7"/><circle cx="29.3" cy="31.2" r="0.75" fill="#7ecca5"/><circle cx="30.9" cy="31.5" r="0.77" fill="#52abae"/><circle cx="31.7" cy="32.7" r="0.55" fill="#6bc4a5"/><circle cx="32.4" cy="32.6" r="0.6" fill="#76c8a5"/><circle cx="32.8" cy="32.1" r="0.7" fill="#5eb9a9"/><circle cx="34.6" cy="30.7" r="0.52" fill="#69c3a5"/><circle cx="36.3" cy="32.8" r="0.58" fill="#3d95b8"/><circle cx="21.4" cy="28" r="0.55" fill="#47a0b3"/><circle cx="20.1" cy="26.5" r="0.81" fill="#3f97b7"/><circle cx="21.1" cy="25.8" r="0.55" fill="#459eb4"/><circle cx="20.6" cy="24.4" r="0.6" fill="#7ccaa5"/><circle cx="21.7" cy="25.3" r="0.58" fill="#69c3a5"/><circle cx="22.9" cy="23.3" r="0.77" fill="#60bba8"/><circle cx="23.1" cy="23.6" r="0.69" fill="#439bb5"/><circle cx="24.4" cy="23.7" r="0.6" fill="#3d95b8"/><circle cx="24.7" cy="24.9" r="0.84" fill="#62bda7"/><circle cx="25.7" cy="26.2" r="0.6" fill="#81cda5"/><circle cx="25.6" cy="25.8" r="0.62" fill="#52abae"/><circle cx="25.3" cy="28.5" r="0.5" fill="#4199b6"/><circle cx="26.3" cy="29.3" r="0.52" fill="#71c6a5"/><circle cx="28.8" cy="28" r="0.57" fill="#50a9af"/><circle cx="27.2" cy="28.8" r="0.57" fill="#6bc4a5"/><circle cx="30.4" cy="27.8" r="0.68" fill="#66c2a5"/><circle cx="30.9" cy="28.7" r="0.84" fill="#71c6a5"/><circle cx="32.3" cy="28.5" r="0.53" fill="#74c7a5"/><circle cx="33.5" cy="28.4" r="0.82" fill="#6bc4a5"/><circle cx="35.9" cy="29" r="0.62" fill="#74c7a5"/><circle cx="36.5" cy="28.4" r="0.69" fill="#49a2b2"/><circle cx="36.9" cy="27.8" r="0.74" fill="#6ec5a5"/><circle cx="36.6" cy="27.6" r="0.85" fill="#58b2ac"/><circle cx="37.4" cy="25" r="0.68" fill="#71c6a5"/><circle cx="37.4" cy="26.3" r="0.54" fill="#3b92b9"/><circle cx="37.2" cy="23.7" r="0.64" fill="#64c0a6"/><circle cx="37.7" cy="24" r="0.57" fill="#5ab4ab"/><circle cx="37.6" cy="21.6" r="0.67" fill="#3d95b8"/><circle cx="36.6" cy="19.8" r="0.52" fill="#4ea7b0"/><circle cx="38.6" cy="19.5" r="0.8" fill="#69c3a5"/><circle cx="38.7" cy="19.5" r="0.76" fill="#66c2a5"/><circle cx="39" cy="19.2" r="0.84" fill="#3f97b7"/><circle cx="38.4" cy="18.1" r="0.74" fill="#5ab4ab"/><circle cx="36" cy="18.2" r="0.76" fill="#52abae"/><circle cx="35.6" cy="16.7" r="0.55" fill="#6ec5a5"/><circle cx="35.8" cy="17.7" r="0.52" fill="#76c8a5"/><circle cx="35.7" cy="15.3" r="0.6" fill="#3f97b7"/><circle cx="38.7" cy="18.7" r="0.63" fill="#4199b6"/><circle cx="39" cy="18" r="0.79" fill="#62bda7"/><circle cx="40.9" cy="17.1" r="0.77" fill="#69c3a5"/><circle cx="42.6" cy="16.3" r="0.54" fill="#3b92b9"/><circle cx="43" cy="15.4" r="0.72" fill="#74c7a5"/><circle cx="43.1" cy="15" r="0.58" fill="#4ea7b0"/><circle cx="44.9" cy="13.7" r="0.71" fill="#47a0b3"/><circle cx="44.4" cy="13.5" r="0.67" fill="#459eb4"/><circle cx="44.5" cy="12.3" r="0.78" fill="#6bc4a5"/><circle cx="44.4" cy="12.1" r="0.78" fill="#71c6a5"/><circle cx="23.7" cy="33.3" r="0.65" fill="#54aead"/><circle cx="23.7" cy="34.3" r="0.55" fill="#62bda7"/><circle cx="24" cy="35" r="0.68" fill="#79c9a5"/><circle cx="23" cy="36.4" r="0.6" fill="#459eb4"/><circle cx="24.6" cy="36.6" r="0.73" fill="#64c0a6"/><circle cx="24.3" cy="37.6" r="0.72" fill="#5ab4ab"/><circle cx="27.1" cy="38.2" r="0.72" fill="#6bc4a5"/><circle cx="27.1" cy="37.5" r="0.73" fill="#60bba8"/><circle cx="27.9" cy="36.5" r="0.56" fill="#64c0a6"/><circle cx="27" cy="36.8" r="0.61" fill="#69c3a5"/><circle cx="29" cy="37.6" r="0.61" fill="#6ec5a5"/><circle cx="27.9" cy="34.5" r="0.78" fill="#49a2b2"/><circle cx="30.1" cy="33.7" r="0.53" fill="#81cda5"/><circle cx="13.7" cy="44.2" r="0.79" fill="#6ec5a5"/><circle cx="12.4" cy="44.1" r="0.54" fill="#47a0b3"/><circle cx="12.3" cy="42.8" r="0.52" fill="#76c8a5"/><circle cx="14.3" cy="41.8" r="0.82" fill="#459eb4"/><circle cx="15.6" cy="41.9" r="0.69" fill="#66c2a5"/><circle cx="15.4" cy="41.9" r="0.55" fill="#49a2b2"/><circle cx="-0.1" cy="39.5" r="0.52" fill="#76c8a5"/><circle cx="2.1" cy="39.7" r="0.58" fill="#4199b6"/><circle cx="7.3" cy="34.5" r="0.79" fill="#76c8a5"/><circle cx="7.8" cy="32.8" r="0.57" fill="#54aead"/><circle cx="9" cy="33.2" r="0.72" fill="#7ccaa5"/><circle cx="10" cy="32.6" r="0.77" fill="#69c3a5"/></g><g opacity="0.70"><circle cx="53.1" cy="10.8" r="0.59" fill="#aedea3"/><circle cx="51.9" cy="11.8" r="0.57" fill="#9cd7a4"/><circle cx="52.4" cy="12" r="0.57" fill="#bce4a0"/><circle cx="51.8" cy="26.2" r="0.76" fill="#9cd7a4"/><circle cx="51" cy="26.9" r="0.58" fill="#bce4a0"/><circle cx="49.2" cy="26.2" r="0.62" fill="#c3e79f"/><circle cx="49.3" cy="27.3" r="0.76" fill="#c1e6a0"/><circle cx="51.8" cy="27.3" r="0.7" fill="#cfec9d"/><circle cx="49.4" cy="26.7" r="0.78" fill="#8cd1a4"/><circle cx="44.3" cy="27" r="0.56" fill="#c6e89f"/><circle cx="43.6" cy="26.8" r="0.56" fill="#c3e79f"/><circle cx="43.5" cy="27.2" r="0.52" fill="#bae3a1"/><circle cx="44.4" cy="27.2" r="0.75" fill="#9fd8a4"/><circle cx="38.3" cy="44.3" r="0.59" fill="#86cfa5"/><circle cx="37.4" cy="44.1" r="0.59" fill="#8fd2a4"/><circle cx="38.2" cy="44.1" r="0.68" fill="#bfe5a0"/><circle cx="28" cy="3" r="0.61" fill="#bfe5a0"/><circle cx="28.6" cy="3.5" r="0.71" fill="#91d3a4"/><circle cx="26.8" cy="4" r="0.7" fill="#9cd7a4"/><circle cx="41.2" cy="2.9" r="0.79" fill="#8cd1a4"/><circle cx="41.4" cy="3.5" r="0.51" fill="#97d5a4"/><circle cx="42.3" cy="34.8" r="0.58" fill="#89d0a4"/><circle cx="42.3" cy="36.2" r="0.64" fill="#91d3a4"/><circle cx="42.6" cy="35.2" r="0.52" fill="#99d6a4"/><circle cx="41.3" cy="35.4" r="0.77" fill="#b3e0a2"/><circle cx="33.9" cy="27.4" r="0.74" fill="#89d0a4"/><circle cx="34.2" cy="27" r="0.63" fill="#9cd7a4"/><circle cx="35.3" cy="27.5" r="0.61" fill="#9fd8a4"/><circle cx="34.6" cy="27.9" r="0.78" fill="#c8e99e"/><circle cx="5.9" cy="16.2" r="0.68" fill="#a2d9a4"/><circle cx="6.3" cy="17" r="0.7" fill="#86cfa5"/><circle cx="6.6" cy="17.5" r="0.55" fill="#86cfa5"/><circle cx="43.4" cy="63.7" r="0.68" fill="#bfe5a0"/><circle cx="42.5" cy="62.6" r="0.62" fill="#a7dba4"/><circle cx="42.8" cy="62.5" r="0.56" fill="#84cea5"/><circle cx="32.6" cy="23.7" r="0.79" fill="#86cfa5"/><circle cx="33.9" cy="22.2" r="0.68" fill="#91d3a4"/><circle cx="33" cy="22.1" r="0.57" fill="#8fd2a4"/><circle cx="33.1" cy="22.9" r="0.6" fill="#84cea5"/><circle cx="34.4" cy="22.3" r="0.55" fill="#81cda5"/><circle cx="46.1" cy="30.8" r="0.64" fill="#94d4a4"/><circle cx="45" cy="30.2" r="0.58" fill="#acdda4"/><circle cx="45.3" cy="29.5" r="0.74" fill="#91d3a4"/><circle cx="17.6" cy="37.6" r="0.78" fill="#f99355"/><circle cx="15.9" cy="36.6" r="0.59" fill="#f57547"/><circle cx="16.2" cy="36.7" r="0.54" fill="#f67c4a"/><circle cx="16.7" cy="35.9" r="0.58" fill="#f88950"/><circle cx="59.4" cy="43" r="0.67" fill="#f46d43"/><circle cx="60.2" cy="43.8" r="0.57" fill="#f67a49"/><circle cx="60.2" cy="42.8" r="0.67" fill="#fdbb6c"/><circle cx="62.6" cy="36.7" r="0.68" fill="#fcaa5f"/><circle cx="62.5" cy="37.4" r="0.51" fill="#fca55d"/><circle cx="35.9" cy="62.9" r="0.72" fill="#fa9b58"/><circle cx="35.7" cy="63.4" r="0.74" fill="#f7844e"/><circle cx="31.2" cy="39.5" r="0.77" fill="#fdb163"/><circle cx="30" cy="39.4" r="0.67" fill="#fa9857"/><circle cx="32" cy="39.4" r="0.75" fill="#fdaf62"/><circle cx="33" cy="39.8" r="0.59" fill="#fca85e"/><circle cx="31" cy="38.2" r="0.59" fill="#f47044"/><circle cx="32.8" cy="38.5" r="0.64" fill="#f7844e"/><circle cx="33.5" cy="38.8" r="0.72" fill="#f57547"/><circle cx="30.3" cy="39.2" r="0.79" fill="#f8864f"/><circle cx="17.7" cy="30.9" r="0.7" fill="#fcaa5f"/><circle cx="16.5" cy="30.8" r="0.54" fill="#fdb163"/><circle cx="16.2" cy="31.2" r="0.55" fill="#f67c4a"/><circle cx="55.9" cy="26.3" r="0.79" fill="#f67a49"/><circle cx="56.8" cy="26.6" r="0.71" fill="#fba35c"/><circle cx="26" cy="59.8" r="0.56" fill="#fdb365"/><circle cx="26.8" cy="59.4" r="0.69" fill="#fb9d59"/><circle cx="38.8" cy="59.1" r="0.63" fill="#fdbd6d"/><circle cx="38.4" cy="58.5" r="0.53" fill="#f67c4a"/></g><g opacity="0.80"><circle cx="3.1" cy="31.9" r="0.57" fill="#4ea7b0"/><circle cx="2.7" cy="28.4" r="0.76" fill="#6bc4a5"/><circle cx="5.6" cy="28.2" r="0.7" fill="#439bb5"/><circle cx="1.6" cy="29.9" r="0.59" fill="#4199b6"/><circle cx="3.2" cy="28.3" r="0.61" fill="#7ecca5"/><circle cx="3.6" cy="31.1" r="0.52" fill="#6ec5a5"/><circle cx="7.1" cy="30.1" r="0.8" fill="#7ecca5"/><circle cx="4.7" cy="27.7" r="0.82" fill="#79c9a5"/><circle cx="3.1" cy="32.1" r="0.63" fill="#4ea7b0"/><circle cx="2.6" cy="31.9" r="0.71" fill="#54aead"/><circle cx="7.1" cy="28.6" r="0.74" fill="#3f97b7"/><circle cx="4" cy="29.5" r="0.78" fill="#81cda5"/><circle cx="3.8" cy="30.7" r="0.55" fill="#66c2a5"/><circle cx="3.4" cy="27.2" r="0.66" fill="#459eb4"/><circle cx="0.6" cy="31" r="0.65" fill="#54aead"/><circle cx="3.1" cy="29.7" r="0.57" fill="#7ecca5"/><circle cx="5.2" cy="28.4" r="0.63" fill="#4ea7b0"/><circle cx="3.5" cy="27.3" r="0.53" fill="#459eb4"/><circle cx="3.8" cy="27.3" r="0.61" fill="#5ab4ab"/><circle cx="2.6" cy="37.3" r="0.68" fill="#7ecca5"/><circle cx="5.1" cy="37.5" r="0.63" fill="#459eb4"/><circle cx="5" cy="38.9" r="0.74" fill="#4ba4b1"/><circle cx="4.9" cy="38.8" r="0.55" fill="#3d95b8"/><circle cx="5.5" cy="37.2" r="0.75" fill="#439bb5"/><circle cx="3.6" cy="38.3" r="0.82" fill="#79c9a5"/><circle cx="4.7" cy="38" r="0.85" fill="#4ba4b1"/><circle cx="4.2" cy="46.4" r="0.72" fill="#58b2ac"/><circle cx="2.6" cy="48.1" r="0.84" fill="#7ccaa5"/><circle cx="4" cy="47.4" r="0.54" fill="#66c2a5"/><circle cx="2" cy="47.5" r="0.76" fill="#66c2a5"/><circle cx="2.8" cy="46.2" r="0.63" fill="#62bda7"/><circle cx="7" cy="51.9" r="0.78" fill="#56b0ad"/><circle cx="7.8" cy="50.2" r="0.51" fill="#4ea7b0"/><circle cx="8" cy="49.1" r="0.57" fill="#4199b6"/><circle cx="7.3" cy="49.9" r="0.59" fill="#76c8a5"/><circle cx="6.4" cy="51.8" r="0.61" fill="#5eb9a9"/><circle cx="13.2" cy="43.4" r="0.64" fill="#4199b6"/><circle cx="13" cy="44.1" r="0.53" fill="#4ea7b0"/><circle cx="12" cy="43.4" r="0.79" fill="#71c6a5"/><circle cx="14.5" cy="44.5" r="0.79" fill="#56b0ad"/><circle cx="13.3" cy="45.4" r="0.71" fill="#69c3a5"/><circle cx="11.8" cy="45.9" r="0.64" fill="#60bba8"/><circle cx="10.2" cy="44.5" r="0.82" fill="#62bda7"/><circle cx="14.9" cy="45.1" r="0.65" fill="#4ea7b0"/><circle cx="10.8" cy="46.1" r="0.79" fill="#5eb9a9"/><circle cx="20" cy="45.2" r="0.63" fill="#47a0b3"/><circle cx="19.7" cy="45" r="0.59" fill="#69c3a5"/><circle cx="19" cy="44.6" r="0.74" fill="#459eb4"/><circle cx="17.3" cy="44.8" r="0.57" fill="#5eb9a9"/><circle cx="17.3" cy="45.8" r="0.79" fill="#56b0ad"/><circle cx="16.8" cy="45.9" r="0.85" fill="#5eb9a9"/><circle cx="22.8" cy="44.1" r="0.66" fill="#49a2b2"/><circle cx="25.4" cy="43.5" r="0.7" fill="#79c9a5"/><circle cx="23.4" cy="42.6" r="0.71" fill="#4199b6"/><circle cx="22.7" cy="43.7" r="0.77" fill="#62bda7"/><circle cx="22.8" cy="42.6" r="0.82" fill="#74c7a5"/><circle cx="21.8" cy="43.5" r="0.6" fill="#64c0a6"/><circle cx="25.1" cy="32.8" r="0.84" fill="#49a2b2"/><circle cx="35.8" cy="32" r="0.66" fill="#62bda7"/><circle cx="24.9" cy="31.4" r="0.69" fill="#4199b6"/><circle cx="26.9" cy="31.8" r="0.84" fill="#4ea7b0"/><circle cx="35.2" cy="32.8" r="0.8" fill="#79c9a5"/><circle cx="27.8" cy="30.7" r="0.51" fill="#76c8a5"/><circle cx="27.6" cy="31.6" r="0.69" fill="#56b0ad"/><circle cx="34.8" cy="32.6" r="0.52" fill="#3f97b7"/><circle cx="25.2" cy="31.6" r="0.5" fill="#81cda5"/><circle cx="26.7" cy="32.2" r="0.57" fill="#4ea7b0"/><circle cx="33.2" cy="31.9" r="0.67" fill="#3b92b9"/><circle cx="33" cy="32.1" r="0.85" fill="#56b0ad"/><circle cx="34.1" cy="32.6" r="0.79" fill="#3f97b7"/><circle cx="33" cy="31.9" r="0.51" fill="#6bc4a5"/><circle cx="32" cy="31.5" r="0.53" fill="#60bba8"/><circle cx="24.2" cy="31.6" r="0.69" fill="#79c9a5"/><circle cx="29.2" cy="30.5" r="0.58" fill="#74c7a5"/><circle cx="25.7" cy="31.9" r="0.53" fill="#3b92b9"/><circle cx="21.3" cy="22.7" r="0.75" fill="#3d95b8"/><circle cx="22.1" cy="22.9" r="0.54" fill="#3d95b8"/><circle cx="21.2" cy="22.3" r="0.78" fill="#5eb9a9"/><circle cx="21.2" cy="23.2" r="0.72" fill="#54aead"/><circle cx="21.8" cy="22.3" r="0.51" fill="#71c6a5"/><circle cx="19.9" cy="25" r="0.59" fill="#4ea7b0"/><circle cx="20.5" cy="27.4" r="0.66" fill="#459eb4"/><circle cx="19.9" cy="24.9" r="0.57" fill="#81cda5"/><circle cx="20.5" cy="26.7" r="0.62" fill="#79c9a5"/><circle cx="20.5" cy="27.6" r="0.62" fill="#47a0b3"/><circle cx="27.3" cy="27.3" r="0.73" fill="#4ea7b0"/><circle cx="25.4" cy="28.7" r="0.82" fill="#3f97b7"/><circle cx="25.8" cy="28.4" r="0.68" fill="#47a0b3"/><circle cx="26.4" cy="27.5" r="0.59" fill="#459eb4"/><circle cx="24.4" cy="28.2" r="0.8" fill="#58b2ac"/><circle cx="26.5" cy="27" r="0.71" fill="#6ec5a5"/><circle cx="30.4" cy="26.9" r="0.73" fill="#56b0ad"/><circle cx="30.9" cy="27" r="0.6" fill="#52abae"/><circle cx="31.6" cy="27.4" r="0.59" fill="#69c3a5"/><circle cx="30.3" cy="27.1" r="0.81" fill="#64c0a6"/><circle cx="30.2" cy="28.1" r="0.71" fill="#71c6a5"/><circle cx="39.9" cy="21.6" r="0.71" fill="#60bba8"/><circle cx="36.8" cy="23.2" r="0.71" fill="#6bc4a5"/><circle cx="38" cy="24" r="0.84" fill="#60bba8"/><circle cx="37.3" cy="21.7" r="0.71" fill="#439bb5"/><circle cx="37.1" cy="21.6" r="0.56" fill="#69c3a5"/><circle cx="38.9" cy="21" r="0.56" fill="#52abae"/><circle cx="39.7" cy="21.5" r="0.56" fill="#3b92b9"/><circle cx="34.2" cy="14.6" r="0.62" fill="#4ba4b1"/><circle cx="34.5" cy="15.8" r="0.7" fill="#439bb5"/><circle cx="35.3" cy="14.3" r="0.63" fill="#50a9af"/><circle cx="35.5" cy="16.5" r="0.73" fill="#64c0a6"/><circle cx="43.1" cy="16.1" r="0.62" fill="#3d95b8"/><circle cx="42.7" cy="17.2" r="0.69" fill="#66c2a5"/><circle cx="42.4" cy="14.9" r="0.51" fill="#5eb9a9"/><circle cx="43.9" cy="11.8" r="0.68" fill="#60bba8"/><circle cx="44.6" cy="11.9" r="0.64" fill="#6ec5a5"/><circle cx="44.3" cy="11.2" r="0.57" fill="#58b2ac"/><circle cx="37.8" cy="19.5" r="0.68" fill="#50a9af"/><circle cx="39" cy="19.7" r="0.77" fill="#81cda5"/><circle cx="38.6" cy="19.4" r="0.68" fill="#74c7a5"/><circle cx="24.5" cy="36.1" r="0.79" fill="#58b2ac"/><circle cx="23.4" cy="35.3" r="0.73" fill="#76c8a5"/><circle cx="23.7" cy="36.1" r="0.51" fill="#66c2a5"/><circle cx="25.2" cy="35.6" r="0.58" fill="#76c8a5"/><circle cx="23.4" cy="35.1" r="0.85" fill="#74c7a5"/><circle cx="24.9" cy="35.1" r="0.57" fill="#5ab4ab"/><circle cx="28.8" cy="36.3" r="0.52" fill="#3f97b7"/><circle cx="27.9" cy="35.2" r="0.74" fill="#6ec5a5"/><circle cx="27.1" cy="36.5" r="0.76" fill="#79c9a5"/><circle cx="30.1" cy="36.9" r="0.56" fill="#58b2ac"/><circle cx="30" cy="36.3" r="0.71" fill="#69c3a5"/><circle cx="9.3" cy="33" r="0.53" fill="#4199b6"/><circle cx="10.2" cy="32.5" r="0.67" fill="#54aead"/><circle cx="8.1" cy="33.2" r="0.72" fill="#3d95b8"/><circle cx="9.8" cy="33" r="0.8" fill="#64c0a6"/><circle cx="9.2" cy="33.1" r="0.58" fill="#62bda7"/><circle cx="40.3" cy="23.5" r="0.83" fill="#6bc4a5"/><circle cx="41" cy="24.4" r="0.65" fill="#439bb5"/><circle cx="17.2" cy="42.3" r="0.83" fill="#50a9af"/><circle cx="17.8" cy="41.7" r="0.71" fill="#58b2ac"/><circle cx="17.4" cy="41.2" r="0.79" fill="#62bda7"/><circle cx="16.8" cy="40.7" r="0.53" fill="#64c0a6"/><circle cx="29.1" cy="21.6" r="0.65" fill="#fa9857"/><circle cx="26.5" cy="20.9" r="0.64" fill="#fa9656"/><circle cx="26.8" cy="21.2" r="0.88" fill="#f67f4b"/><circle cx="29.4" cy="19.6" r="0.88" fill="#eb6046"/><circle cx="26.2" cy="20.8" r="0.58" fill="#f57547"/><circle cx="27.3" cy="21.3" r="0.77" fill="#e85b48"/><circle cx="28.4" cy="20.9" r="0.78" fill="#e95c47"/><circle cx="27.4" cy="18.9" r="0.6" fill="#dd4a4c"/><circle cx="26.7" cy="21.9" r="0.75" fill="#f67c4a"/><circle cx="26.5" cy="19.1" r="0.75" fill="#e3534a"/><circle cx="27.5" cy="18.6" r="0.56" fill="#f67a49"/><circle cx="28.3" cy="19.5" r="0.88" fill="#e85b48"/><circle cx="26" cy="19.9" r="0.64" fill="#eb6046"/><circle cx="27.6" cy="22.1" r="0.62" fill="#f88c51"/><circle cx="25.1" cy="20.1" r="0.61" fill="#f06744"/><circle cx="28.2" cy="20.9" r="0.78" fill="#f98e52"/><circle cx="27.8" cy="22" r="0.83" fill="#f7814c"/><circle cx="29" cy="18.3" r="0.64" fill="#f8864f"/><circle cx="27.7" cy="19.2" r="0.58" fill="#f88c51"/><circle cx="29.5" cy="21" r="0.55" fill="#e75948"/><circle cx="29.7" cy="19.9" r="0.66" fill="#f47044"/><circle cx="27.5" cy="21.9" r="0.7" fill="#f67f4b"/><circle cx="20.4" cy="20.5" r="0.76" fill="#e3534a"/><circle cx="20.3" cy="19.5" r="0.62" fill="#f7814c"/><circle cx="19.3" cy="20.3" r="0.65" fill="#e95c47"/><circle cx="19.9" cy="19.2" r="0.7" fill="#e55749"/><circle cx="11.9" cy="25.6" r="0.78" fill="#eb6046"/><circle cx="12.5" cy="24.7" r="0.79" fill="#e85b48"/><circle cx="13.5" cy="25.2" r="0.86" fill="#dc484c"/><circle cx="11.8" cy="24.7" r="0.83" fill="#e3534a"/><circle cx="11.3" cy="27.7" r="0.87" fill="#f36b43"/><circle cx="11.2" cy="28" r="0.83" fill="#f67c4a"/><circle cx="11.5" cy="28.5" r="0.64" fill="#f36b43"/><circle cx="22.6" cy="36.9" r="0.78" fill="#f88950"/><circle cx="22.4" cy="37" r="0.73" fill="#f47044"/><circle cx="22" cy="37.2" r="0.58" fill="#f36b43"/><circle cx="22.5" cy="38.3" r="0.69" fill="#da464d"/><circle cx="23" cy="39.8" r="0.75" fill="#e1504b"/><circle cx="23.3" cy="37" r="0.74" fill="#f47044"/><circle cx="22.5" cy="38.4" r="0.62" fill="#e1504b"/><circle cx="21.3" cy="58" r="0.56" fill="#f67f4b"/><circle cx="21.5" cy="58.5" r="0.74" fill="#f99355"/><circle cx="21.2" cy="56.5" r="0.73" fill="#f26944"/><circle cx="20.6" cy="57.5" r="0.76" fill="#e85b48"/><circle cx="20.9" cy="56" r="0.55" fill="#f67a49"/><circle cx="21.4" cy="56.5" r="0.68" fill="#f67f4b"/><circle cx="51.2" cy="46.6" r="0.56" fill="#f67c4a"/><circle cx="50.9" cy="46.3" r="0.74" fill="#f57748"/><circle cx="50.5" cy="47.1" r="0.8" fill="#f88c51"/><circle cx="51.8" cy="47.2" r="0.72" fill="#fa9656"/><circle cx="55" cy="56.6" r="0.6" fill="#f57245"/><circle cx="56" cy="55.1" r="0.67" fill="#dc484c"/><circle cx="55.4" cy="55.8" r="0.84" fill="#de4c4b"/><circle cx="23.5" cy="16.7" r="0.8" fill="#f98e52"/><circle cx="23.9" cy="16.4" r="0.83" fill="#df4e4b"/><circle cx="23.2" cy="16.6" r="0.89" fill="#f7844e"/></g><g opacity="0.90"><circle cx="35" cy="32.2" r="0.63" fill="#3990ba"/><circle cx="33.7" cy="32.4" r="0.66" fill="#3b92b9"/><circle cx="32.5" cy="31.9" r="0.78" fill="#3880b9"/><circle cx="31.5" cy="32.1" r="0.77" fill="#3990ba"/><circle cx="34" cy="32.5" r="0.64" fill="#3389bd"/><circle cx="35.4" cy="32.5" r="0.72" fill="#3682ba"/><circle cx="34.9" cy="32.4" r="0.73" fill="#3880b9"/><circle cx="32.8" cy="32.5" r="0.65" fill="#3f77b5"/><circle cx="34.6" cy="32.7" r="0.55" fill="#3b7cb7"/><circle cx="32.6" cy="31.7" r="0.77" fill="#3d79b6"/><circle cx="3.8" cy="28.8" r="0.74" fill="#3387bc"/><circle cx="2.4" cy="29.7" r="0.72" fill="#3b7cb7"/><circle cx="3.6" cy="30.1" r="0.8" fill="#378ebb"/><circle cx="1.7" cy="29.1" r="0.83" fill="#3d79b6"/><circle cx="4.1" cy="30.6" r="0.77" fill="#3990ba"/><circle cx="2.7" cy="29.3" r="0.65" fill="#3b7cb7"/><circle cx="2.8" cy="30" r="0.6" fill="#3f97b7"/><circle cx="3.5" cy="28.3" r="0.71" fill="#3682ba"/><circle cx="4.5" cy="28.7" r="0.68" fill="#3880b9"/><circle cx="3.2" cy="29" r="0.68" fill="#358bbc"/><circle cx="37.1" cy="22.4" r="0.82" fill="#3a7eb8"/><circle cx="37.3" cy="22.6" r="0.55" fill="#3d79b6"/><circle cx="37.7" cy="23.1" r="0.81" fill="#3f77b5"/><circle cx="37.5" cy="22.4" r="0.81" fill="#3f77b5"/><circle cx="36.5" cy="22.6" r="0.6" fill="#3b92b9"/><circle cx="27.6" cy="31.8" r="0.83" fill="#3585bb"/><circle cx="27.2" cy="31.7" r="0.82" fill="#3b92b9"/><circle cx="27" cy="31.1" r="0.78" fill="#3389bd"/><circle cx="27.2" cy="32" r="0.57" fill="#378ebb"/><circle cx="27.2" cy="31.9" r="0.78" fill="#378ebb"/></g><rect x=".5" y=".5" width="65.5" height="65.0" fill="none" stroke="#77775c" stroke-opacity="0.90"/></svg>
<svg x="299.0" y="383.5" width="66.5" height="66.0" viewBox="0 0 66.5 66.0" overflow="hidden"><rect width="67" height="66" fill="#fefeba"/><rect width="67" height="66" filter="url(#nzIn)" opacity="0.6"/><g opacity="0.50" filter="url(#b08)"><ellipse cx="19.6" cy="26.6" rx="1.5" ry="1.8" fill="#fa9b58"/><ellipse cx="20.6" cy="29.2" rx="2" ry="1.3" fill="#fa9b58"/><ellipse cx="22" cy="36" rx="3.3" ry="2.4" fill="#fa9b58"/><ellipse cx="24.8" cy="34.6" rx="1.8" ry="2.1" fill="#fa9b58"/><ellipse cx="19" cy="39.5" rx="3.3" ry="2.2" fill="#fa9b58"/><ellipse cx="23" cy="41.5" rx="2.6" ry="2.2" fill="#fa9b58"/><ellipse cx="16.5" cy="38" rx="1.7" ry="1.2" fill="#fa9b58"/><ellipse cx="21" cy="44.8" rx="1.5" ry="1.8" fill="#fa9b58"/><ellipse cx="26.2" cy="38.5" rx="1.2" ry="1.7" fill="#fa9b58"/><ellipse cx="12.5" cy="40.2" rx="2.6" ry="1.3" fill="#fa9b58"/><ellipse cx="9" cy="41.4" rx="2.2" ry="1.3" fill="#fa9b58"/><ellipse cx="21.4" cy="47.6" rx="1.1" ry="1.3" fill="#fa9b58"/><ellipse cx="44" cy="27" rx="3.3" ry="3.1" fill="#b5e1a2"/><ellipse cx="47.6" cy="30" rx="2.6" ry="2.4" fill="#b5e1a2"/><ellipse cx="41.5" cy="30.5" rx="2" ry="2.6" fill="#b5e1a2"/><ellipse cx="45" cy="33.6" rx="2.2" ry="1.8" fill="#b5e1a2"/><ellipse cx="42.5" cy="24.3" rx="1.7" ry="1.4" fill="#b5e1a2"/><ellipse cx="49.6" cy="26" rx="1.3" ry="1.7" fill="#b5e1a2"/><ellipse cx="40" cy="34.6" rx="1.2" ry="1.4" fill="#b5e1a2"/><ellipse cx="46.5" cy="23.2" rx="1.1" ry="1.1" fill="#b5e1a2"/><ellipse cx="32" cy="24" rx="1.5" ry="1.5" fill="#b5e1a2"/><ellipse cx="32" cy="35" rx="1.7" ry="2.2" fill="#b5e1a2"/><ellipse cx="35.8" cy="38.5" rx="1.7" ry="1.4" fill="#b5e1a2"/><ellipse cx="43" cy="40" rx="1.3" ry="2" fill="#b5e1a2"/><ellipse cx="45.2" cy="43.5" rx="1.1" ry="1.5" fill="#b5e1a2"/><ellipse cx="40.9" cy="47.3" rx="1.4" ry="1.2" fill="#b5e1a2"/></g><g opacity="0.75"><circle cx="25.9" cy="19.2" r="0.82" fill="#ddf19a"/><circle cx="28.6" cy="19.5" r="0.53" fill="#e9f69d"/><circle cx="28.6" cy="19.4" r="0.79" fill="#d6ee9b"/><circle cx="27.3" cy="20.1" r="0.81" fill="#e6f598"/><circle cx="26.7" cy="20" r="0.84" fill="#c8e99e"/><circle cx="28.3" cy="18.3" r="0.58" fill="#d6ee9b"/><circle cx="25.4" cy="19.4" r="0.67" fill="#e9f69d"/><circle cx="53.4" cy="40.5" r="0.62" fill="#e6f598"/><circle cx="53.5" cy="40.6" r="0.7" fill="#c6e89f"/><circle cx="52.5" cy="39.7" r="0.64" fill="#dff299"/><circle cx="52.8" cy="41.4" r="0.62" fill="#ecf7a1"/><circle cx="53.7" cy="18.1" r="0.74" fill="#daf09a"/><circle cx="52.7" cy="18.7" r="0.84" fill="#cdeb9d"/><circle cx="51.3" cy="18.4" r="0.84" fill="#edf8a3"/><circle cx="51.9" cy="18.7" r="0.62" fill="#daf09a"/><circle cx="44.4" cy="7.6" r="0.8" fill="#e1f399"/><circle cx="44.7" cy="7" r="0.61" fill="#ddf19a"/><circle cx="45.4" cy="7.4" r="0.56" fill="#e1f399"/><circle cx="44.2" cy="8.1" r="0.68" fill="#e8f69b"/><circle cx="22.1" cy="15.6" r="0.58" fill="#cfec9d"/><circle cx="22.6" cy="15.9" r="0.69" fill="#e1f399"/><circle cx="23.5" cy="16.6" r="0.72" fill="#c3e79f"/><circle cx="62.8" cy="13.1" r="0.55" fill="#d3ed9c"/><circle cx="63" cy="13" r="0.79" fill="#d8ef9b"/><circle cx="64.2" cy="13.5" r="0.65" fill="#c6e89f"/><circle cx="23.2" cy="57.6" r="0.69" fill="#e1f399"/><circle cx="23.5" cy="56.7" r="0.63" fill="#e1f399"/><circle cx="22.6" cy="57.6" r="0.78" fill="#e1f399"/><circle cx="10.1" cy="2.6" r="0.71" fill="#e8f69b"/><circle cx="10.4" cy="2.1" r="0.84" fill="#ecf7a1"/><circle cx="36.7" cy="20.7" r="0.59" fill="#e1f399"/><circle cx="36.3" cy="21.7" r="0.68" fill="#d6ee9b"/><circle cx="37.6" cy="21.1" r="0.63" fill="#d6ee9b"/><circle cx="36.1" cy="21.9" r="0.58" fill="#ecf7a1"/><circle cx="11.8" cy="62.4" r="0.56" fill="#e6f598"/><circle cx="11.5" cy="63.2" r="0.7" fill="#e1f399"/><circle cx="10.9" cy="62.7" r="0.56" fill="#e7f59a"/><circle cx="54.5" cy="24.3" r="0.75" fill="#e7f59a"/><circle cx="55.1" cy="25.2" r="0.61" fill="#e8f69b"/><circle cx="55" cy="24.4" r="0.77" fill="#ebf7a0"/><circle cx="3.3" cy="35.4" r="0.57" fill="#fa9656"/><circle cx="4.3" cy="34.3" r="0.56" fill="#fb9d59"/><circle cx="2.4" cy="34.3" r="0.52" fill="#fcaa5f"/><circle cx="3" cy="34.1" r="0.61" fill="#f57547"/><circle cx="4.1" cy="34.2" r="0.63" fill="#fba35c"/><circle cx="2.3" cy="13.6" r="0.62" fill="#fba35c"/><circle cx="1.9" cy="14.4" r="0.75" fill="#f67a49"/><circle cx="2.5" cy="15.2" r="0.65" fill="#f57547"/><circle cx="6" cy="19.3" r="0.67" fill="#fb9d59"/><circle cx="5.9" cy="20.8" r="0.6" fill="#fcaa5f"/><circle cx="6.3" cy="19.9" r="0.6" fill="#f88950"/><circle cx="13.5" cy="55.9" r="0.65" fill="#fdb163"/><circle cx="14.4" cy="56.5" r="0.59" fill="#f67c4a"/><circle cx="57.2" cy="63.3" r="0.63" fill="#f98e52"/><circle cx="57.4" cy="62.6" r="0.75" fill="#fdbb6c"/><circle cx="58.8" cy="62.7" r="0.55" fill="#f99153"/></g><g opacity="0.80"><circle cx="19.3" cy="27.7" r="0.59" fill="#fca85e"/><circle cx="19.6" cy="27.4" r="0.9" fill="#f67c4a"/><circle cx="20.1" cy="26.7" r="0.8" fill="#ea5e47"/><circle cx="19.5" cy="26.1" r="0.58" fill="#f7844e"/><circle cx="19.7" cy="26.8" r="0.77" fill="#f06744"/><circle cx="18.4" cy="27.3" r="0.89" fill="#fba35c"/><circle cx="18.5" cy="26.7" r="0.72" fill="#fa9857"/><circle cx="21.1" cy="29.1" r="0.55" fill="#f67f4b"/><circle cx="19.4" cy="28.7" r="0.63" fill="#f06744"/><circle cx="19.2" cy="29.8" r="0.71" fill="#fa9b58"/><circle cx="19" cy="29.4" r="0.6" fill="#f98e52"/><circle cx="20.5" cy="30" r="0.58" fill="#f99355"/><circle cx="19.2" cy="29.4" r="0.72" fill="#ee6445"/><circle cx="21.9" cy="35.8" r="0.63" fill="#f67c4a"/><circle cx="22.4" cy="34.5" r="0.81" fill="#fca55d"/><circle cx="22.7" cy="35.2" r="0.7" fill="#ef6645"/><circle cx="23.2" cy="34.6" r="0.78" fill="#ef6645"/><circle cx="20.6" cy="36.7" r="0.94" fill="#f57547"/><circle cx="23.4" cy="35.6" r="0.83" fill="#f57245"/><circle cx="21.9" cy="37.2" r="0.93" fill="#f88c51"/><circle cx="21.9" cy="37.3" r="0.79" fill="#f7814c"/><circle cx="21.5" cy="35.7" r="0.7" fill="#f36b43"/><circle cx="21" cy="34.1" r="0.58" fill="#f57748"/><circle cx="24.8" cy="35.9" r="0.57" fill="#f7814c"/><circle cx="20.7" cy="34.9" r="0.82" fill="#f88950"/><circle cx="20.3" cy="36.5" r="0.59" fill="#fca55d"/><circle cx="21.5" cy="36.9" r="0.83" fill="#ef6645"/><circle cx="20.3" cy="34.6" r="0.63" fill="#fa9b58"/><circle cx="23.6" cy="35.1" r="0.7" fill="#fb9d59"/><circle cx="20.7" cy="34.1" r="0.71" fill="#fca85e"/><circle cx="19.8" cy="37.1" r="0.66" fill="#f36b43"/><circle cx="23.6" cy="37.8" r="0.85" fill="#fca85e"/><circle cx="21.5" cy="35.8" r="0.77" fill="#f8864f"/><circle cx="24.1" cy="36" r="0.94" fill="#f88950"/><circle cx="24.7" cy="35" r="0.91" fill="#f99153"/><circle cx="24.8" cy="36.3" r="0.65" fill="#f67a49"/><circle cx="23.3" cy="34.2" r="0.88" fill="#f88c51"/><circle cx="23.9" cy="34.4" r="0.83" fill="#f7844e"/><circle cx="24.6" cy="33.9" r="0.69" fill="#fcaa5f"/><circle cx="24.2" cy="33" r="0.83" fill="#f67c4a"/><circle cx="24.9" cy="34.7" r="0.89" fill="#f99153"/><circle cx="24.9" cy="33.4" r="0.78" fill="#eb6046"/><circle cx="19.9" cy="38.5" r="0.69" fill="#eb6046"/><circle cx="17.6" cy="41.1" r="0.92" fill="#f57547"/><circle cx="19.7" cy="41.1" r="0.63" fill="#f67f4b"/><circle cx="21.9" cy="39.4" r="0.73" fill="#fa9b58"/><circle cx="19.3" cy="40.6" r="0.6" fill="#f06744"/><circle cx="18.5" cy="40.5" r="0.62" fill="#f46d43"/><circle cx="20" cy="41.4" r="0.64" fill="#f57547"/><circle cx="17" cy="38.8" r="0.68" fill="#fca55d"/><circle cx="20.2" cy="41.3" r="0.58" fill="#f88c51"/><circle cx="21.2" cy="38.4" r="0.64" fill="#f47044"/><circle cx="18.5" cy="39.5" r="0.84" fill="#f57245"/><circle cx="19.6" cy="40.6" r="0.77" fill="#f67f4b"/><circle cx="20" cy="38.3" r="0.92" fill="#fca85e"/><circle cx="18.4" cy="38.8" r="0.55" fill="#f06744"/><circle cx="16.8" cy="38.8" r="0.95" fill="#fa9857"/><circle cx="20.7" cy="40" r="0.71" fill="#f7814c"/><circle cx="21.4" cy="39.9" r="0.87" fill="#f67c4a"/><circle cx="20.4" cy="38" r="0.9" fill="#fba35c"/><circle cx="22.4" cy="42" r="0.85" fill="#f06744"/><circle cx="24.1" cy="43.2" r="0.94" fill="#f7814c"/><circle cx="21.1" cy="41.9" r="0.55" fill="#f67f4b"/><circle cx="24.9" cy="42.3" r="0.56" fill="#f67c4a"/><circle cx="22.9" cy="42.6" r="0.77" fill="#f99355"/><circle cx="24.5" cy="42.5" r="0.88" fill="#fb9d59"/><circle cx="24.2" cy="41" r="0.68" fill="#f98e52"/><circle cx="21.2" cy="41.5" r="0.57" fill="#f47044"/><circle cx="21.7" cy="42" r="0.85" fill="#f26944"/><circle cx="23.7" cy="40.7" r="0.74" fill="#ee6445"/><circle cx="20.9" cy="42.4" r="0.61" fill="#f88950"/><circle cx="20.8" cy="40.8" r="0.57" fill="#fcaa5f"/><circle cx="23.3" cy="40.6" r="0.73" fill="#f06744"/><circle cx="23.3" cy="43.1" r="0.69" fill="#ee6445"/><circle cx="16.9" cy="37.5" r="0.74" fill="#fa9b58"/><circle cx="15.8" cy="37.2" r="0.55" fill="#f57748"/><circle cx="15.6" cy="38.8" r="0.68" fill="#f57245"/><circle cx="16.6" cy="37.9" r="0.9" fill="#fba05b"/><circle cx="17.6" cy="38.2" r="0.58" fill="#ef6645"/><circle cx="21" cy="45.4" r="0.64" fill="#ed6246"/><circle cx="20.3" cy="45.1" r="0.89" fill="#ef6645"/><circle cx="20.3" cy="45.3" r="0.85" fill="#fca85e"/><circle cx="21.6" cy="44.6" r="0.63" fill="#fa9656"/><circle cx="21" cy="45.4" r="0.85" fill="#fca55d"/><circle cx="20.5" cy="44" r="0.84" fill="#f67c4a"/><circle cx="20.1" cy="45.5" r="0.59" fill="#f67f4b"/><circle cx="25.3" cy="38.9" r="0.65" fill="#f26944"/><circle cx="26.7" cy="37.2" r="0.87" fill="#fa9656"/><circle cx="26.7" cy="38.2" r="0.69" fill="#fa9857"/><circle cx="25.3" cy="38.8" r="0.77" fill="#fca55d"/><circle cx="26.1" cy="37" r="0.73" fill="#fa9b58"/><circle cx="12.2" cy="40.5" r="0.59" fill="#f7844e"/><circle cx="12.6" cy="39.8" r="0.91" fill="#f7814c"/><circle cx="12.4" cy="40.8" r="0.75" fill="#f99355"/><circle cx="13.1" cy="39.3" r="0.71" fill="#f26944"/><circle cx="10.5" cy="39.9" r="0.77" fill="#f99355"/><circle cx="13.4" cy="39.1" r="0.69" fill="#eb6046"/><circle cx="11.2" cy="40.9" r="0.77" fill="#fca55d"/><circle cx="10.9" cy="40.7" r="0.6" fill="#f57245"/><circle cx="12" cy="40.1" r="0.68" fill="#fca85e"/><circle cx="7.3" cy="41.6" r="0.62" fill="#fa9656"/><circle cx="10.4" cy="40.6" r="0.72" fill="#f57748"/><circle cx="9.3" cy="41.3" r="0.62" fill="#eb6046"/><circle cx="9.8" cy="41.4" r="0.69" fill="#fca55d"/><circle cx="10.5" cy="41.3" r="0.84" fill="#fdad60"/><circle cx="7.6" cy="42.2" r="0.57" fill="#fdad60"/><circle cx="8.7" cy="42.3" r="0.89" fill="#f36b43"/><circle cx="21.2" cy="48.4" r="0.58" fill="#f46d43"/><circle cx="20.6" cy="47.7" r="0.7" fill="#fb9d59"/><circle cx="21.5" cy="46.6" r="0.87" fill="#f98e52"/><circle cx="22.1" cy="47.9" r="0.7" fill="#fca85e"/><circle cx="46.2" cy="28.1" r="0.82" fill="#bce4a0"/><circle cx="44.7" cy="25.5" r="0.78" fill="#84cea5"/><circle cx="44.7" cy="27" r="0.74" fill="#cdeb9d"/><circle cx="43.5" cy="29.3" r="0.57" fill="#76c8a5"/><circle cx="41.3" cy="27.7" r="0.71" fill="#bce4a0"/><circle cx="44.1" cy="28.2" r="0.78" fill="#bfe5a0"/><circle cx="42" cy="28.6" r="0.55" fill="#9cd7a4"/><circle cx="44.3" cy="26.6" r="0.62" fill="#a2d9a4"/><circle cx="45.1" cy="25.8" r="0.77" fill="#94d4a4"/><circle cx="45.3" cy="25.7" r="0.71" fill="#86cfa5"/><circle cx="42.7" cy="29.2" r="0.92" fill="#89d0a4"/><circle cx="43.8" cy="27.3" r="0.78" fill="#99d6a4"/><circle cx="44.6" cy="25.5" r="0.84" fill="#89d0a4"/><circle cx="44" cy="28.6" r="0.86" fill="#cfec9d"/><circle cx="41.7" cy="25.6" r="0.68" fill="#97d5a4"/><circle cx="46.3" cy="28" r="0.59" fill="#c8e99e"/><circle cx="42.7" cy="27.7" r="0.61" fill="#8cd1a4"/><circle cx="44.4" cy="25.4" r="0.65" fill="#c3e79f"/><circle cx="44.4" cy="25.6" r="0.89" fill="#89d0a4"/><circle cx="44.5" cy="24.5" r="0.74" fill="#97d5a4"/><circle cx="46.1" cy="30.1" r="0.65" fill="#acdda4"/><circle cx="48" cy="30.9" r="0.61" fill="#bce4a0"/><circle cx="49.4" cy="29.1" r="0.84" fill="#74c7a5"/><circle cx="49" cy="29.6" r="0.82" fill="#c8e99e"/><circle cx="46" cy="31.6" r="0.64" fill="#c6e89f"/><circle cx="46.4" cy="29.4" r="0.6" fill="#a7dba4"/><circle cx="47.9" cy="31.6" r="0.68" fill="#7ccaa5"/><circle cx="48.4" cy="30.3" r="0.91" fill="#89d0a4"/><circle cx="48.9" cy="29.3" r="0.58" fill="#7ecca5"/><circle cx="48.5" cy="30.4" r="0.88" fill="#8cd1a4"/><circle cx="49.6" cy="28.9" r="0.74" fill="#74c7a5"/><circle cx="45.5" cy="29.3" r="0.71" fill="#8fd2a4"/><circle cx="49.3" cy="31.4" r="0.67" fill="#aadca4"/><circle cx="42.3" cy="30.7" r="0.78" fill="#cfec9d"/><circle cx="40.5" cy="30.1" r="0.91" fill="#9cd7a4"/><circle cx="43.2" cy="29.6" r="0.63" fill="#b8e2a1"/><circle cx="42.9" cy="30.7" r="0.58" fill="#b3e0a2"/><circle cx="40" cy="31" r="0.88" fill="#b5e1a2"/><circle cx="41.4" cy="29.8" r="0.9" fill="#aadca4"/><circle cx="42.7" cy="31.9" r="0.56" fill="#76c8a5"/><circle cx="40.7" cy="29" r="0.93" fill="#a7dba4"/><circle cx="42.1" cy="31.1" r="0.65" fill="#c8e99e"/><circle cx="41.8" cy="32.1" r="0.59" fill="#bfe5a0"/><circle cx="44.2" cy="35" r="0.57" fill="#9fd8a4"/><circle cx="44.6" cy="33.4" r="0.67" fill="#aadca4"/><circle cx="45.5" cy="34.4" r="0.59" fill="#c3e79f"/><circle cx="45" cy="34.1" r="0.9" fill="#91d3a4"/><circle cx="46.5" cy="34.5" r="0.85" fill="#7ccaa5"/><circle cx="46.4" cy="34.5" r="0.85" fill="#94d4a4"/><circle cx="43.9" cy="33.2" r="0.93" fill="#9cd7a4"/><circle cx="44.5" cy="32.9" r="0.62" fill="#c8e99e"/><circle cx="42.7" cy="25" r="0.58" fill="#86cfa5"/><circle cx="43.3" cy="24.2" r="0.73" fill="#91d3a4"/><circle cx="43.7" cy="24.5" r="0.91" fill="#b8e2a1"/><circle cx="43.2" cy="24.6" r="0.9" fill="#97d5a4"/><circle cx="41.6" cy="24.2" r="0.81" fill="#cdeb9d"/><circle cx="50.5" cy="26.6" r="0.65" fill="#89d0a4"/><circle cx="49.3" cy="26.8" r="0.86" fill="#b1dfa3"/><circle cx="49.4" cy="25.3" r="0.76" fill="#acdda4"/><circle cx="50.3" cy="26.1" r="0.6" fill="#89d0a4"/><circle cx="39.2" cy="35.3" r="0.71" fill="#a4daa4"/><circle cx="40.5" cy="34.3" r="0.82" fill="#86cfa5"/><circle cx="39.7" cy="34.3" r="0.86" fill="#a4daa4"/><circle cx="46.5" cy="22.9" r="0.62" fill="#81cda5"/><circle cx="47.2" cy="23.2" r="0.63" fill="#caea9e"/><circle cx="31.5" cy="24" r="0.8" fill="#c3e79f"/><circle cx="32.1" cy="24.7" r="0.73" fill="#bae3a1"/><circle cx="31" cy="23.8" r="0.86" fill="#bfe5a0"/><circle cx="31.8" cy="25.2" r="0.92" fill="#bfe5a0"/><circle cx="31.2" cy="24.4" r="0.9" fill="#97d5a4"/><circle cx="33.1" cy="35.1" r="0.66" fill="#97d5a4"/><circle cx="32" cy="34.4" r="0.88" fill="#aedea3"/><circle cx="31.6" cy="33.3" r="0.9" fill="#acdda4"/><circle cx="31.9" cy="34.8" r="0.93" fill="#91d3a4"/><circle cx="30.9" cy="36" r="0.75" fill="#7ecca5"/><circle cx="30.8" cy="35.5" r="0.65" fill="#97d5a4"/><circle cx="33.1" cy="35.3" r="0.74" fill="#c1e6a0"/><circle cx="35.2" cy="39.7" r="0.86" fill="#9cd7a4"/><circle cx="35.6" cy="38.6" r="0.85" fill="#caea9e"/><circle cx="35.9" cy="38.9" r="0.78" fill="#c1e6a0"/><circle cx="37.2" cy="38.5" r="0.74" fill="#94d4a4"/><circle cx="36.5" cy="38.6" r="0.64" fill="#9fd8a4"/><circle cx="42.9" cy="39.5" r="0.57" fill="#acdda4"/><circle cx="43" cy="38.6" r="0.81" fill="#97d5a4"/><circle cx="43.8" cy="39.4" r="0.57" fill="#7ccaa5"/><circle cx="42.8" cy="39.8" r="0.88" fill="#cdeb9d"/><circle cx="43.2" cy="38.2" r="0.61" fill="#99d6a4"/><circle cx="44.7" cy="42.9" r="0.63" fill="#b8e2a1"/><circle cx="44.5" cy="43.2" r="0.9" fill="#74c7a5"/><circle cx="45.9" cy="42.9" r="0.81" fill="#b8e2a1"/><circle cx="40.9" cy="48" r="0.59" fill="#a7dba4"/><circle cx="40.1" cy="46.7" r="0.79" fill="#81cda5"/><circle cx="41.6" cy="47.7" r="0.85" fill="#a7dba4"/></g><rect x=".5" y=".5" width="65.5" height="65.0" fill="none" stroke="#77775c" stroke-opacity="0.90"/></svg>
<svg x="370.6" y="238.7" width="66.5" height="66.0" viewBox="0 0 66.5 66.0" overflow="hidden"><rect width="67" height="66" fill="#fff"/><rect width="67" height="66" filter="url(#nzInD0)" opacity="0.45"/><rect width="67" height="66" filter="url(#nzInD0b)" opacity="0.17"/><g opacity="0.45" filter="url(#b12)"><ellipse cx="32.5" cy="29.5" rx="2.6" ry="6" fill="#b078c8" transform="rotate(-22 32.5 29.5)"/></g><g opacity="0.75"><circle cx="29" cy="23.6" r="0.75" fill="#7a58d8"/><circle cx="29.6" cy="25.1" r="0.9" fill="#a070c8"/><circle cx="30.4" cy="26.7" r="0.86" fill="#a070c8"/><circle cx="31.7" cy="28.5" r="0.82" fill="#a070c8"/><circle cx="32.2" cy="30.3" r="0.7" fill="#9c6cd6"/><circle cx="32.9" cy="32.1" r="0.68" fill="#8a5fd0"/><circle cx="34.1" cy="34" r="0.61" fill="#9c6cd6"/><circle cx="34.2" cy="35.8" r="0.8" fill="#7a58d8"/><circle cx="32.5" cy="25" r="0.64" fill="#6e50e0"/><circle cx="33.9" cy="27.5" r="0.83" fill="#7a58d8"/><circle cx="34.9" cy="30" r="0.56" fill="#7a58d8"/><circle cx="35.7" cy="32.4" r="0.82" fill="#8a5fd0"/><circle cx="37" cy="34.9" r="0.8" fill="#a070c8"/><circle cx="37.5" cy="37.4" r="0.71" fill="#6e50e0"/><circle cx="31.7" cy="25.2" r="0.72" fill="#ff3a3a"/><circle cx="32.7" cy="27.7" r="0.79" fill="#ff7a7a"/><circle cx="33.5" cy="30.2" r="0.79" fill="#ff4c4c"/><circle cx="34.7" cy="32.7" r="0.8" fill="#ff6c6c"/><circle cx="35.7" cy="35.2" r="0.66" fill="#ffa2a2"/><circle cx="36.4" cy="37" r="0.68" fill="#ff9e9e"/><circle cx="21.5" cy="21.6" r="0.75" fill="#ff9898"/><circle cx="25.9" cy="18.6" r="0.66" fill="#ff7070"/><circle cx="23.9" cy="18.5" r="0.66" fill="#ff4040"/><circle cx="27" cy="18.7" r="0.77" fill="#ff8484"/><circle cx="27.8" cy="19.1" r="0.65" fill="#ff4848"/><circle cx="22.4" cy="20.3" r="0.59" fill="#ff5858"/><circle cx="23.1" cy="21.7" r="0.61" fill="#ff5252"/><circle cx="24.9" cy="26.2" r="0.66" fill="#ff4040"/></g><path d="M0,33.6 Q7,50.5 16.6,66 L0,66 Z" fill="#000"/><rect x=".5" y=".5" width="65.5" height="65.0" fill="none" stroke="#858585" stroke-opacity="1.00"/></svg>
<svg x="370.6" y="311.1" width="66.5" height="66.0" viewBox="0 0 66.5 66.0" overflow="hidden"><rect width="67" height="66" fill="#fff"/><rect width="67" height="66" filter="url(#nzInD1)" opacity="0.45"/><rect width="67" height="66" filter="url(#nzInD1b)" opacity="0.17"/><g opacity="0.28" filter="url(#b12)"><path d="M0,29 L4,29.5 L8,31 L10,33" fill="none" stroke="#a078d8" stroke-width="3.4" stroke-linecap="round" stroke-linejoin="round"/><path d="M1,36 L4,38 L3,42 L3,46 L5,49 L7.4,50.6 L10,48 L12.5,45 L15,44.5 L18.3,45.5 L21,44.5 L24,43.5 L27,43 L29,42" fill="none" stroke="#a078d8" stroke-width="3.4" stroke-linecap="round" stroke-linejoin="round"/><path d="M23,31 L27,31.5 L30,32 L33.6,31.9 L36.5,32.6" fill="none" stroke="#a078d8" stroke-width="3.4" stroke-linecap="round" stroke-linejoin="round"/><path d="M20.5,27.5 L22,23 L25,25 L25.6,28 L28,28 L30.5,27.5 L33,29" fill="none" stroke="#a078d8" stroke-width="3.4" stroke-linecap="round" stroke-linejoin="round"/><path d="M36,30.5 L37,26 L38,22.3 L38.7,19 L36,16.5 L35,14.5" fill="none" stroke="#a078d8" stroke-width="3.4" stroke-linecap="round" stroke-linejoin="round"/><path d="M38.7,19 L41,17 L43,15.7 L44.5,11" fill="none" stroke="#a078d8" stroke-width="3.4" stroke-linecap="round" stroke-linejoin="round"/><path d="M24,33 L23.6,36 L25,38.4 L28.5,36.5 L30,34" fill="none" stroke="#a078d8" stroke-width="3.4" stroke-linecap="round" stroke-linejoin="round"/><path d="M12.5,45 L12.5,43 L16.5,41.5" fill="none" stroke="#a078d8" stroke-width="3.4" stroke-linecap="round" stroke-linejoin="round"/><path d="M0,39 L2,40" fill="none" stroke="#a078d8" stroke-width="3.4" stroke-linecap="round" stroke-linejoin="round"/><path d="M6,34 L9.5,33" fill="none" stroke="#a078d8" stroke-width="3.4" stroke-linecap="round" stroke-linejoin="round"/></g><g opacity="0.40" filter="url(#b08)"><path d="M27,4 L29,7 L33,9 L37,8 L41,8.5 L45,10 L46.5,14" fill="none" stroke="#8a60d4" stroke-width="1.0" stroke-linecap="round" stroke-linejoin="round"/><path d="M31,11 L34,13.5 L38,13" fill="none" stroke="#8a60d4" stroke-width="1.0" stroke-linecap="round" stroke-linejoin="round"/><path d="M52.5,9.5 L53,12.5" fill="none" stroke="#8a60d4" stroke-width="1.0" stroke-linecap="round" stroke-linejoin="round"/><path d="M48,26 L51.5,25.5 L53,28" fill="none" stroke="#8a60d4" stroke-width="1.0" stroke-linecap="round" stroke-linejoin="round"/><path d="M8,47 L10,52 L13,54" fill="none" stroke="#8a60d4" stroke-width="1.0" stroke-linecap="round" stroke-linejoin="round"/><path d="M2,20 L5,18" fill="none" stroke="#8a60d4" stroke-width="1.0" stroke-linecap="round" stroke-linejoin="round"/><path d="M42,30 L42.5,36" fill="none" stroke="#8a60d4" stroke-width="1.0" stroke-linecap="round" stroke-linejoin="round"/></g><g opacity="0.55"><circle cx="28.7" cy="5.7" r="0.67" fill="#9c6cd6"/><circle cx="28.7" cy="6" r="0.85" fill="#6e50e0"/><circle cx="30.6" cy="7.4" r="0.5" fill="#a070c8"/><circle cx="31" cy="7.9" r="0.56" fill="#7a58d8"/><circle cx="31.9" cy="8.8" r="0.54" fill="#8a5fd0"/><circle cx="35.2" cy="8" r="0.7" fill="#9c6cd6"/><circle cx="35.4" cy="9" r="0.69" fill="#7a58d8"/><circle cx="35.7" cy="9" r="0.65" fill="#a070c8"/><circle cx="37.8" cy="8.2" r="0.5" fill="#a070c8"/><circle cx="39.5" cy="8.8" r="0.77" fill="#8a5fd0"/><circle cx="39.5" cy="8.1" r="0.69" fill="#6e50e0"/><circle cx="41.5" cy="9.2" r="0.57" fill="#a070c8"/><circle cx="44.2" cy="8.7" r="0.66" fill="#7a58d8"/><circle cx="44.8" cy="10.7" r="0.8" fill="#6e50e0"/><circle cx="45.2" cy="10.5" r="0.73" fill="#7a58d8"/><circle cx="45.5" cy="11.4" r="0.59" fill="#6e50e0"/><circle cx="45.7" cy="12.7" r="0.76" fill="#a070c8"/><circle cx="31.4" cy="11.3" r="0.61" fill="#8a5fd0"/><circle cx="32.3" cy="12.2" r="0.53" fill="#7a58d8"/><circle cx="33.4" cy="13.3" r="0.79" fill="#8a5fd0"/><circle cx="35.2" cy="13.3" r="0.53" fill="#7a58d8"/><circle cx="35.4" cy="13.7" r="0.63" fill="#8a5fd0"/><circle cx="36.7" cy="13.3" r="0.58" fill="#8a5fd0"/><circle cx="53" cy="11.1" r="0.59" fill="#6e50e0"/><circle cx="52.2" cy="11.8" r="0.7" fill="#a070c8"/><circle cx="49.1" cy="26.6" r="0.68" fill="#8a5fd0"/><circle cx="50.9" cy="26.6" r="0.75" fill="#9c6cd6"/><circle cx="52" cy="26.5" r="0.77" fill="#9c6cd6"/><circle cx="52.9" cy="27.9" r="0.68" fill="#7a58d8"/><circle cx="7.9" cy="47.3" r="0.74" fill="#7a58d8"/><circle cx="7.7" cy="48.2" r="0.77" fill="#9c6cd6"/><circle cx="9.3" cy="50" r="0.59" fill="#6e50e0"/><circle cx="10.2" cy="51.8" r="0.51" fill="#a070c8"/><circle cx="11.3" cy="53.2" r="0.84" fill="#7a58d8"/><circle cx="12.1" cy="53.6" r="0.65" fill="#7a58d8"/><circle cx="1.9" cy="20" r="0.8" fill="#a070c8"/><circle cx="3.6" cy="17.9" r="0.53" fill="#6e50e0"/><circle cx="43.2" cy="30.8" r="0.74" fill="#6e50e0"/><circle cx="42.1" cy="32.5" r="0.84" fill="#9c6cd6"/><circle cx="42" cy="32.9" r="0.54" fill="#a070c8"/><circle cx="41.7" cy="35.6" r="0.65" fill="#7a58d8"/></g><g opacity="0.45" filter="url(#b08)"><path d="M0,29 L4,29.5 L8,31 L10,33" fill="none" stroke="#8a60d4" stroke-width="1.3" stroke-linecap="round" stroke-linejoin="round"/><path d="M1,36 L4,38 L3,42 L3,46 L5,49 L7.4,50.6 L10,48 L12.5,45 L15,44.5 L18.3,45.5 L21,44.5 L24,43.5 L27,43 L29,42" fill="none" stroke="#8a60d4" stroke-width="1.3" stroke-linecap="round" stroke-linejoin="round"/><path d="M23,31 L27,31.5 L30,32 L33.6,31.9 L36.5,32.6" fill="none" stroke="#8a60d4" stroke-width="1.3" stroke-linecap="round" stroke-linejoin="round"/><path d="M20.5,27.5 L22,23 L25,25 L25.6,28 L28,28 L30.5,27.5 L33,29" fill="none" stroke="#8a60d4" stroke-width="1.3" stroke-linecap="round" stroke-linejoin="round"/><path d="M36,30.5 L37,26 L38,22.3 L38.7,19 L36,16.5 L35,14.5" fill="none" stroke="#8a60d4" stroke-width="1.3" stroke-linecap="round" stroke-linejoin="round"/><path d="M38.7,19 L41,17 L43,15.7 L44.5,11" fill="none" stroke="#8a60d4" stroke-width="1.3" stroke-linecap="round" stroke-linejoin="round"/><path d="M24,33 L23.6,36 L25,38.4 L28.5,36.5 L30,34" fill="none" stroke="#8a60d4" stroke-width="1.3" stroke-linecap="round" stroke-linejoin="round"/><path d="M12.5,45 L12.5,43 L16.5,41.5" fill="none" stroke="#8a60d4" stroke-width="1.3" stroke-linecap="round" stroke-linejoin="round"/><path d="M0,39 L2,40" fill="none" stroke="#8a60d4" stroke-width="1.3" stroke-linecap="round" stroke-linejoin="round"/><path d="M6,34 L9.5,33" fill="none" stroke="#8a60d4" stroke-width="1.3" stroke-linecap="round" stroke-linejoin="round"/><ellipse cx="3.8" cy="29.5" rx="3.6" ry="2.3" fill="#9468d0"/><ellipse cx="3.5" cy="38" rx="2.2" ry="1.4" fill="#9468d0"/><ellipse cx="3" cy="46.3" rx="1.3" ry="1.8" fill="#9468d0"/><ellipse cx="7.4" cy="50.6" rx="1.4" ry="1.4" fill="#9468d0"/><ellipse cx="12.5" cy="45" rx="2.3" ry="1.8" fill="#9468d0"/><ellipse cx="18.3" cy="45.5" rx="2.2" ry="1.3" fill="#9468d0"/><ellipse cx="24" cy="43.5" rx="2.7" ry="1.1" fill="#9468d0"/><ellipse cx="30" cy="32" rx="5.6" ry="1.4" fill="#9468d0"/><ellipse cx="22" cy="23" rx="1.8" ry="1.3" fill="#9468d0"/><ellipse cx="20.5" cy="26.5" rx="1.4" ry="1.6" fill="#9468d0"/><ellipse cx="25.6" cy="28" rx="2" ry="1.4" fill="#9468d0"/><ellipse cx="30" cy="27.5" rx="1.8" ry="1.3" fill="#9468d0"/><ellipse cx="38" cy="22.3" rx="2" ry="1.6" fill="#9468d0"/><ellipse cx="35" cy="15.7" rx="1.3" ry="1.4" fill="#9468d0"/><ellipse cx="43" cy="15.7" rx="1.1" ry="1.4" fill="#9468d0"/><ellipse cx="44.5" cy="11.3" rx="0.9" ry="1.3" fill="#9468d0"/><ellipse cx="38.7" cy="19" rx="1.3" ry="1.1" fill="#9468d0"/><ellipse cx="24" cy="36" rx="1.4" ry="2" fill="#9468d0"/><ellipse cx="28.5" cy="36.5" rx="1.6" ry="1.4" fill="#9468d0"/><ellipse cx="9.5" cy="33" rx="1.6" ry="1.3" fill="#9468d0"/><ellipse cx="41" cy="23.5" rx="0.9" ry="0.9" fill="#9468d0"/><ellipse cx="16.5" cy="41.5" rx="1.3" ry="1.3" fill="#9468d0"/></g><g opacity="0.60"><circle cx="-0.5" cy="29.1" r="0.6" fill="#8a5fd0"/><circle cx="2.4" cy="30.7" r="0.67" fill="#6e50e0"/><circle cx="2.6" cy="30.5" r="0.73" fill="#6e50e0"/><circle cx="3.5" cy="29.8" r="0.78" fill="#9c6cd6"/><circle cx="4.9" cy="29.7" r="0.6" fill="#6e50e0"/><circle cx="6" cy="31.2" r="0.61" fill="#6e50e0"/><circle cx="6.4" cy="30.5" r="0.64" fill="#a070c8"/><circle cx="7.4" cy="30.3" r="0.71" fill="#7a58d8"/><circle cx="9.8" cy="31.7" r="0.54" fill="#a070c8"/><circle cx="10.1" cy="33.2" r="0.68" fill="#7a58d8"/><circle cx="1.8" cy="36" r="0.68" fill="#8a5fd0"/><circle cx="1.8" cy="36.2" r="0.83" fill="#8a5fd0"/><circle cx="3.3" cy="38.5" r="0.83" fill="#8a5fd0"/><circle cx="3.5" cy="38.8" r="0.68" fill="#9c6cd6"/><circle cx="3" cy="40.3" r="0.79" fill="#8a5fd0"/><circle cx="3.4" cy="41.2" r="0.55" fill="#9c6cd6"/><circle cx="3" cy="41.4" r="0.56" fill="#6e50e0"/><circle cx="2.8" cy="41.6" r="0.67" fill="#7a58d8"/><circle cx="2.7" cy="43.8" r="0.77" fill="#7a58d8"/><circle cx="2.4" cy="44.7" r="0.77" fill="#9c6cd6"/><circle cx="3.1" cy="45.5" r="0.65" fill="#8a5fd0"/><circle cx="3.9" cy="46.9" r="0.79" fill="#8a5fd0"/><circle cx="4.2" cy="46.9" r="0.79" fill="#6e50e0"/><circle cx="5.2" cy="48.5" r="0.75" fill="#6e50e0"/><circle cx="4.1" cy="48.8" r="0.65" fill="#a070c8"/><circle cx="7.7" cy="50.3" r="0.71" fill="#9c6cd6"/><circle cx="7.8" cy="50.8" r="0.67" fill="#9c6cd6"/><circle cx="8.3" cy="49.1" r="0.79" fill="#7a58d8"/><circle cx="9.5" cy="48.6" r="0.6" fill="#7a58d8"/><circle cx="9.7" cy="48.1" r="0.68" fill="#7a58d8"/><circle cx="10.8" cy="44.8" r="0.58" fill="#6e50e0"/><circle cx="12.5" cy="46.4" r="0.75" fill="#6e50e0"/><circle cx="13.3" cy="43.8" r="0.75" fill="#8a5fd0"/><circle cx="14.4" cy="45.2" r="0.65" fill="#6e50e0"/><circle cx="16.6" cy="44.7" r="0.85" fill="#9c6cd6"/><circle cx="15.6" cy="45.3" r="0.59" fill="#a070c8"/><circle cx="17.4" cy="45.9" r="0.78" fill="#6e50e0"/><circle cx="19.5" cy="45" r="0.61" fill="#6e50e0"/><circle cx="19.9" cy="45.8" r="0.73" fill="#6e50e0"/><circle cx="21.9" cy="43.4" r="0.57" fill="#6e50e0"/><circle cx="22.6" cy="44" r="0.61" fill="#9c6cd6"/><circle cx="24.4" cy="43.2" r="0.7" fill="#9c6cd6"/><circle cx="24.2" cy="44" r="0.64" fill="#7a58d8"/><circle cx="26.1" cy="43.7" r="0.72" fill="#a070c8"/><circle cx="26.9" cy="43.4" r="0.72" fill="#9c6cd6"/><circle cx="27" cy="43.1" r="0.74" fill="#8a5fd0"/><circle cx="27.6" cy="41.5" r="0.84" fill="#6e50e0"/><circle cx="22.7" cy="30.6" r="0.58" fill="#6e50e0"/><circle cx="25" cy="30.6" r="0.56" fill="#7a58d8"/><circle cx="26.1" cy="31.7" r="0.7" fill="#a070c8"/><circle cx="26.6" cy="30.5" r="0.76" fill="#8a5fd0"/><circle cx="28.2" cy="31.3" r="0.65" fill="#a070c8"/><circle cx="28.7" cy="31.6" r="0.52" fill="#a070c8"/><circle cx="29.8" cy="32.1" r="0.81" fill="#7a58d8"/><circle cx="30.9" cy="31.8" r="0.61" fill="#9c6cd6"/><circle cx="32.1" cy="32" r="0.62" fill="#6e50e0"/><circle cx="34.7" cy="30.3" r="0.69" fill="#7a58d8"/><circle cx="33.2" cy="31" r="0.61" fill="#6e50e0"/><circle cx="36.3" cy="32.1" r="0.68" fill="#7a58d8"/><circle cx="20.6" cy="26.7" r="0.8" fill="#6e50e0"/><circle cx="20.5" cy="25.6" r="0.72" fill="#8a5fd0"/><circle cx="21" cy="24.3" r="0.82" fill="#9c6cd6"/><circle cx="20.9" cy="23.2" r="0.82" fill="#a070c8"/><circle cx="22.8" cy="22.8" r="0.55" fill="#a070c8"/><circle cx="23.4" cy="23.5" r="0.76" fill="#6e50e0"/><circle cx="24.1" cy="25.8" r="0.68" fill="#7a58d8"/><circle cx="25.1" cy="26.6" r="0.72" fill="#9c6cd6"/><circle cx="25.8" cy="25.8" r="0.7" fill="#9c6cd6"/><circle cx="25.9" cy="27.6" r="0.74" fill="#6e50e0"/><circle cx="25.2" cy="28.9" r="0.6" fill="#7a58d8"/><circle cx="28.2" cy="27.4" r="0.72" fill="#8a5fd0"/><circle cx="28.2" cy="27.2" r="0.6" fill="#8a5fd0"/><circle cx="29.9" cy="27.7" r="0.65" fill="#8a5fd0"/><circle cx="30.3" cy="27.1" r="0.64" fill="#7a58d8"/><circle cx="32.1" cy="28.9" r="0.53" fill="#8a5fd0"/><circle cx="36.2" cy="29.5" r="0.7" fill="#7a58d8"/><circle cx="36.1" cy="29.4" r="0.75" fill="#8a5fd0"/><circle cx="37.7" cy="27.6" r="0.6" fill="#6e50e0"/><circle cx="36.9" cy="27" r="0.82" fill="#a070c8"/><circle cx="37.4" cy="26" r="0.8" fill="#6e50e0"/><circle cx="37.8" cy="23.2" r="0.65" fill="#9c6cd6"/><circle cx="37.7" cy="22.9" r="0.75" fill="#7a58d8"/><circle cx="38.6" cy="21.3" r="0.64" fill="#9c6cd6"/><circle cx="38.4" cy="20.3" r="0.82" fill="#a070c8"/><circle cx="38" cy="19" r="0.78" fill="#9c6cd6"/><circle cx="38.7" cy="18.4" r="0.82" fill="#7a58d8"/><circle cx="38.7" cy="17.7" r="0.6" fill="#6e50e0"/><circle cx="37" cy="16.9" r="0.69" fill="#7a58d8"/><circle cx="35.5" cy="15.7" r="0.64" fill="#7a58d8"/><circle cx="36" cy="15.8" r="0.7" fill="#6e50e0"/><circle cx="39.5" cy="18.9" r="0.63" fill="#a070c8"/><circle cx="40.3" cy="18.1" r="0.66" fill="#7a58d8"/><circle cx="40.9" cy="17.7" r="0.54" fill="#6e50e0"/><circle cx="40.5" cy="16.6" r="0.51" fill="#7a58d8"/><circle cx="42.8" cy="17.3" r="0.63" fill="#a070c8"/><circle cx="42.2" cy="14.7" r="0.64" fill="#7a58d8"/><circle cx="44.8" cy="13.1" r="0.81" fill="#7a58d8"/><circle cx="44.9" cy="11.1" r="0.83" fill="#8a5fd0"/><circle cx="45" cy="11.7" r="0.76" fill="#a070c8"/><circle cx="23.5" cy="32.4" r="0.69" fill="#9c6cd6"/><circle cx="24.2" cy="33.6" r="0.72" fill="#8a5fd0"/><circle cx="22.6" cy="35.8" r="0.59" fill="#9c6cd6"/><circle cx="23.5" cy="36.4" r="0.83" fill="#9c6cd6"/><circle cx="26.2" cy="37.4" r="0.54" fill="#8a5fd0"/><circle cx="25.2" cy="38" r="0.65" fill="#9c6cd6"/><circle cx="26.7" cy="36.2" r="0.75" fill="#8a5fd0"/><circle cx="27.6" cy="37.2" r="0.58" fill="#8a5fd0"/><circle cx="28.1" cy="37.5" r="0.6" fill="#8a5fd0"/><circle cx="30.1" cy="32.9" r="0.82" fill="#6e50e0"/><circle cx="12.6" cy="44.1" r="0.76" fill="#8a5fd0"/><circle cx="12.2" cy="44" r="0.54" fill="#8a5fd0"/><circle cx="11.8" cy="41.8" r="0.75" fill="#9c6cd6"/><circle cx="13.8" cy="41.4" r="0.56" fill="#7a58d8"/><circle cx="15.6" cy="42.3" r="0.51" fill="#9c6cd6"/><circle cx="15.5" cy="43.5" r="0.73" fill="#6e50e0"/><circle cx="-0.2" cy="40.5" r="0.79" fill="#9c6cd6"/><circle cx="1" cy="38.9" r="0.66" fill="#7a58d8"/><circle cx="7.1" cy="33.3" r="0.69" fill="#6e50e0"/><circle cx="8.4" cy="32.7" r="0.69" fill="#9c6cd6"/><circle cx="8.9" cy="34.1" r="0.83" fill="#6e50e0"/></g><g opacity="0.65"><circle cx="7.5" cy="30.2" r="0.67" fill="#7a58d8"/><circle cx="5" cy="31.4" r="0.52" fill="#9c6cd6"/><circle cx="5.4" cy="29.7" r="0.78" fill="#a070c8"/><circle cx="6" cy="27.5" r="0.82" fill="#9c6cd6"/><circle cx="7" cy="28.7" r="0.69" fill="#7a58d8"/><circle cx="1.9" cy="28.6" r="0.55" fill="#a070c8"/><circle cx="3.6" cy="30.7" r="0.62" fill="#7a58d8"/><circle cx="6.2" cy="30.7" r="0.73" fill="#8a5fd0"/><circle cx="3" cy="30" r="0.65" fill="#a070c8"/><circle cx="4.9" cy="31.1" r="0.6" fill="#7a58d8"/><circle cx="4.2" cy="27.6" r="0.79" fill="#9c6cd6"/><circle cx="4.8" cy="30" r="0.54" fill="#7a58d8"/><circle cx="2.3" cy="27.9" r="0.6" fill="#8a5fd0"/><circle cx="2.9" cy="31.3" r="0.67" fill="#9c6cd6"/><circle cx="4.6" cy="28.5" r="0.65" fill="#6e50e0"/><circle cx="3" cy="29.3" r="0.83" fill="#7a58d8"/><circle cx="1.6" cy="29.5" r="0.6" fill="#a070c8"/><circle cx="2" cy="37.2" r="0.63" fill="#7a58d8"/><circle cx="3.1" cy="38.2" r="0.53" fill="#a070c8"/><circle cx="4.7" cy="37.5" r="0.67" fill="#a070c8"/><circle cx="3.9" cy="39.3" r="0.56" fill="#7a58d8"/><circle cx="3" cy="39.3" r="0.55" fill="#9c6cd6"/><circle cx="1.7" cy="37" r="0.62" fill="#7a58d8"/><circle cx="4.3" cy="45.7" r="0.77" fill="#6e50e0"/><circle cx="3.6" cy="47.8" r="0.77" fill="#6e50e0"/><circle cx="3.7" cy="47.1" r="0.55" fill="#9c6cd6"/><circle cx="2.4" cy="47.5" r="0.84" fill="#8a5fd0"/><circle cx="8.8" cy="51" r="0.84" fill="#7a58d8"/><circle cx="7.5" cy="51.6" r="0.66" fill="#a070c8"/><circle cx="6.5" cy="51.2" r="0.69" fill="#a070c8"/><circle cx="8.3" cy="50.1" r="0.84" fill="#6e50e0"/><circle cx="11.4" cy="43.5" r="0.7" fill="#7a58d8"/><circle cx="12.5" cy="46.9" r="0.58" fill="#9c6cd6"/><circle cx="13" cy="45.8" r="0.55" fill="#6e50e0"/><circle cx="13.9" cy="46.2" r="0.85" fill="#8a5fd0"/><circle cx="12.2" cy="43.8" r="0.66" fill="#6e50e0"/><circle cx="10.5" cy="45.1" r="0.83" fill="#9c6cd6"/><circle cx="12.8" cy="46.2" r="0.64" fill="#a070c8"/><circle cx="12.4" cy="47" r="0.75" fill="#8a5fd0"/><circle cx="16.6" cy="45.5" r="0.8" fill="#8a5fd0"/><circle cx="18" cy="46.3" r="0.74" fill="#6e50e0"/><circle cx="18.8" cy="46.7" r="0.73" fill="#6e50e0"/><circle cx="18.5" cy="45.6" r="0.7" fill="#6e50e0"/><circle cx="19.8" cy="46.4" r="0.57" fill="#7a58d8"/><circle cx="23.7" cy="44.6" r="0.69" fill="#7a58d8"/><circle cx="23.9" cy="42.7" r="0.62" fill="#9c6cd6"/><circle cx="21.2" cy="43.5" r="0.55" fill="#6e50e0"/><circle cx="23.9" cy="42.9" r="0.8" fill="#9c6cd6"/><circle cx="22.8" cy="43.6" r="0.77" fill="#8a5fd0"/><circle cx="22.2" cy="42.6" r="0.83" fill="#7a58d8"/><circle cx="26.4" cy="32.3" r="0.52" fill="#a070c8"/><circle cx="25.6" cy="31.9" r="0.74" fill="#8a5fd0"/><circle cx="29.1" cy="30.8" r="0.51" fill="#9c6cd6"/><circle cx="26.8" cy="31.2" r="0.65" fill="#9c6cd6"/><circle cx="29.2" cy="32.8" r="0.52" fill="#a070c8"/><circle cx="26.5" cy="33.3" r="0.83" fill="#6e50e0"/><circle cx="32.5" cy="31.2" r="0.64" fill="#a070c8"/><circle cx="33.4" cy="31.4" r="0.81" fill="#6e50e0"/><circle cx="30.4" cy="31.9" r="0.6" fill="#9c6cd6"/><circle cx="29.6" cy="31.8" r="0.76" fill="#7a58d8"/><circle cx="34.6" cy="32.2" r="0.79" fill="#a070c8"/><circle cx="31.5" cy="31.9" r="0.61" fill="#6e50e0"/><circle cx="33.4" cy="31.1" r="0.71" fill="#8a5fd0"/><circle cx="31.2" cy="31.2" r="0.62" fill="#8a5fd0"/><circle cx="31.9" cy="30.7" r="0.54" fill="#8a5fd0"/><circle cx="27.3" cy="31.6" r="0.69" fill="#7a58d8"/><circle cx="20.3" cy="23.7" r="0.56" fill="#9c6cd6"/><circle cx="22.4" cy="23.4" r="0.54" fill="#7a58d8"/><circle cx="23.2" cy="23.3" r="0.6" fill="#7a58d8"/><circle cx="23.2" cy="23.8" r="0.76" fill="#7a58d8"/><circle cx="20.9" cy="27.6" r="0.84" fill="#7a58d8"/><circle cx="21" cy="26.6" r="0.79" fill="#a070c8"/><circle cx="19.7" cy="27.3" r="0.72" fill="#a070c8"/><circle cx="21.9" cy="25.9" r="0.58" fill="#9c6cd6"/><circle cx="21.8" cy="27.1" r="0.69" fill="#8a5fd0"/><circle cx="25.3" cy="28.4" r="0.83" fill="#9c6cd6"/><circle cx="24.7" cy="29.2" r="0.75" fill="#a070c8"/><circle cx="26.3" cy="28.2" r="0.58" fill="#6e50e0"/><circle cx="26.7" cy="28.2" r="0.78" fill="#8a5fd0"/><circle cx="26" cy="28.5" r="0.82" fill="#6e50e0"/><circle cx="24.6" cy="27.1" r="0.82" fill="#a070c8"/><circle cx="30.3" cy="28.5" r="0.83" fill="#7a58d8"/><circle cx="31" cy="27.8" r="0.77" fill="#6e50e0"/><circle cx="29.3" cy="26.5" r="0.84" fill="#8a5fd0"/><circle cx="31.2" cy="28.2" r="0.61" fill="#8a5fd0"/><circle cx="38.8" cy="21.4" r="0.53" fill="#6e50e0"/><circle cx="39.3" cy="23" r="0.77" fill="#7a58d8"/><circle cx="37.3" cy="22.3" r="0.82" fill="#7a58d8"/><circle cx="36.7" cy="23.7" r="0.59" fill="#8a5fd0"/><circle cx="38.8" cy="22.5" r="0.61" fill="#9c6cd6"/><circle cx="37.7" cy="21.6" r="0.66" fill="#7a58d8"/><circle cx="34.9" cy="14.7" r="0.65" fill="#7a58d8"/><circle cx="34.6" cy="17" r="0.71" fill="#a070c8"/><circle cx="35.2" cy="14.6" r="0.52" fill="#a070c8"/><circle cx="35.6" cy="16" r="0.81" fill="#a070c8"/><circle cx="42.7" cy="15.5" r="0.65" fill="#9c6cd6"/><circle cx="43" cy="17.2" r="0.5" fill="#8a5fd0"/><circle cx="42.7" cy="14.7" r="0.69" fill="#8a5fd0"/><circle cx="45.2" cy="11.1" r="0.65" fill="#8a5fd0"/><circle cx="44.8" cy="11.6" r="0.56" fill="#9c6cd6"/><circle cx="37.7" cy="19.6" r="0.59" fill="#8a5fd0"/><circle cx="39.7" cy="19" r="0.53" fill="#7a58d8"/><circle cx="39.2" cy="19.6" r="0.74" fill="#6e50e0"/><circle cx="24.7" cy="36.5" r="0.85" fill="#9c6cd6"/><circle cx="25.2" cy="35.2" r="0.72" fill="#a070c8"/><circle cx="24.2" cy="37.5" r="0.64" fill="#a070c8"/><circle cx="23.9" cy="36.7" r="0.85" fill="#7a58d8"/><circle cx="24.4" cy="34.6" r="0.66" fill="#6e50e0"/><circle cx="24.1" cy="35.4" r="0.66" fill="#8a5fd0"/><circle cx="27.5" cy="36.7" r="0.66" fill="#6e50e0"/><circle cx="27.5" cy="35.2" r="0.83" fill="#8a5fd0"/><circle cx="27.7" cy="37.6" r="0.62" fill="#7a58d8"/><circle cx="28" cy="37.7" r="0.56" fill="#9c6cd6"/><circle cx="27.8" cy="37.5" r="0.69" fill="#a070c8"/><circle cx="9.9" cy="32.5" r="0.7" fill="#9c6cd6"/><circle cx="10.2" cy="32.4" r="0.61" fill="#8a5fd0"/><circle cx="11" cy="33.2" r="0.55" fill="#7a58d8"/><circle cx="9.8" cy="33.1" r="0.81" fill="#7a58d8"/><circle cx="41.5" cy="24" r="0.52" fill="#a070c8"/><circle cx="40.9" cy="22.6" r="0.67" fill="#6e50e0"/><circle cx="15.9" cy="40.4" r="0.51" fill="#a070c8"/><circle cx="17.1" cy="42.3" r="0.72" fill="#a070c8"/><circle cx="16.5" cy="40.1" r="0.54" fill="#6e50e0"/><circle cx="52.7" cy="11.8" r="0.63" fill="#a070c8"/><circle cx="52.2" cy="10.8" r="0.71" fill="#9c6cd6"/><circle cx="51.1" cy="26.7" r="0.77" fill="#7a58d8"/><circle cx="49.1" cy="26.8" r="0.74" fill="#a070c8"/><circle cx="49.7" cy="26.8" r="0.62" fill="#9c6cd6"/><circle cx="50.3" cy="27.5" r="0.61" fill="#7a58d8"/><circle cx="43.9" cy="28.2" r="0.77" fill="#7a58d8"/><circle cx="43.5" cy="26.4" r="0.5" fill="#6e50e0"/><circle cx="43.8" cy="26.8" r="0.59" fill="#a070c8"/><circle cx="36.5" cy="43.9" r="0.73" fill="#6e50e0"/><circle cx="36.4" cy="44" r="0.72" fill="#8a5fd0"/><circle cx="27.4" cy="4.6" r="0.57" fill="#a070c8"/><circle cx="26.6" cy="3.9" r="0.65" fill="#8a5fd0"/><circle cx="40.5" cy="3.3" r="0.66" fill="#a070c8"/><circle cx="40.8" cy="3.7" r="0.71" fill="#8a5fd0"/><circle cx="42.3" cy="35.2" r="0.57" fill="#a070c8"/><circle cx="41.2" cy="35.5" r="0.78" fill="#a070c8"/><circle cx="42.9" cy="35.8" r="0.56" fill="#8a5fd0"/><circle cx="36" cy="27.3" r="0.59" fill="#9c6cd6"/><circle cx="33.9" cy="26.9" r="0.68" fill="#a070c8"/><circle cx="35.1" cy="28.1" r="0.51" fill="#a070c8"/><circle cx="6.5" cy="16.7" r="0.71" fill="#6e50e0"/><circle cx="5.7" cy="16.5" r="0.52" fill="#a070c8"/><circle cx="42.4" cy="63.6" r="0.6" fill="#9c6cd6"/><circle cx="42.3" cy="62.4" r="0.53" fill="#a070c8"/><circle cx="33.1" cy="24.1" r="0.64" fill="#9c6cd6"/><circle cx="33.3" cy="24.1" r="0.76" fill="#9c6cd6"/><circle cx="32.8" cy="22.9" r="0.6" fill="#8a5fd0"/><circle cx="45.9" cy="30.8" r="0.67" fill="#9c6cd6"/><circle cx="45.8" cy="29.3" r="0.76" fill="#6e50e0"/></g><g opacity="0.70"><circle cx="31.7" cy="32.4" r="0.73" fill="#5040e0"/><circle cx="32.9" cy="32" r="0.72" fill="#3838f0"/><circle cx="32.2" cy="32.6" r="0.65" fill="#3838f0"/><circle cx="34.5" cy="31.3" r="0.64" fill="#3838f0"/><circle cx="31.7" cy="32.4" r="0.59" fill="#5040e0"/><circle cx="33.9" cy="31.6" r="0.67" fill="#3838f0"/><circle cx="33.5" cy="32.4" r="0.63" fill="#3838f0"/><circle cx="32.7" cy="32.7" r="0.7" fill="#5040e0"/><circle cx="34.2" cy="32" r="0.74" fill="#4030e8"/><circle cx="2.4" cy="28.8" r="0.62" fill="#4030e8"/><circle cx="3.9" cy="30.1" r="0.74" fill="#4030e8"/><circle cx="4.1" cy="30.3" r="0.69" fill="#5040e0"/><circle cx="4.6" cy="30.1" r="0.57" fill="#3838f0"/><circle cx="2.9" cy="29.4" r="0.58" fill="#5040e0"/><circle cx="3.3" cy="29.6" r="0.8" fill="#5040e0"/><circle cx="2.9" cy="28.9" r="0.75" fill="#5040e0"/><circle cx="3.6" cy="30.2" r="0.56" fill="#5040e0"/><circle cx="3.2" cy="28.6" r="0.56" fill="#5040e0"/><circle cx="37.7" cy="22.1" r="0.78" fill="#4030e8"/><circle cx="37" cy="22.5" r="0.7" fill="#5040e0"/><circle cx="37.4" cy="22.6" r="0.64" fill="#3838f0"/><circle cx="36.7" cy="22.3" r="0.82" fill="#3838f0"/><circle cx="25.8" cy="31.9" r="0.68" fill="#4030e8"/><circle cx="27.8" cy="31.9" r="0.68" fill="#5040e0"/><circle cx="26.3" cy="31.4" r="0.76" fill="#4030e8"/><circle cx="27.2" cy="30.9" r="0.82" fill="#4030e8"/><circle cx="27.2" cy="31.9" r="0.79" fill="#5040e0"/><circle cx="28.3" cy="20.9" r="0.82" fill="#ff9c9c"/><circle cx="26" cy="20.6" r="0.7" fill="#ff6868"/><circle cx="26.5" cy="20.7" r="0.77" fill="#ff3e3e"/><circle cx="27" cy="21.4" r="0.64" fill="#ff7e7e"/><circle cx="26" cy="19.3" r="0.7" fill="#ff6464"/><circle cx="26.5" cy="18.1" r="0.58" fill="#ff5656"/><circle cx="25.8" cy="21.2" r="0.71" fill="#ff7676"/><circle cx="26" cy="21.1" r="0.73" fill="#ff6666"/><circle cx="29.4" cy="20.1" r="0.76" fill="#ff6c6c"/><circle cx="26.4" cy="21.3" r="0.78" fill="#ff9292"/><circle cx="25.7" cy="19.7" r="0.79" fill="#ff7272"/><circle cx="27.3" cy="17.9" r="0.77" fill="#ff7474"/><circle cx="29" cy="19.8" r="0.79" fill="#ff7c7c"/><circle cx="28" cy="21.9" r="0.58" fill="#ff8888"/><circle cx="27.4" cy="20.2" r="0.74" fill="#ff7474"/><circle cx="26.5" cy="21.1" r="0.57" fill="#ff6a6a"/><circle cx="28.1" cy="18.1" r="0.76" fill="#ff6262"/><circle cx="19.7" cy="20.6" r="0.75" fill="#ff3e3e"/><circle cx="19.8" cy="20.6" r="0.7" fill="#ffa2a2"/><circle cx="20.7" cy="19.4" r="0.79" fill="#ff8484"/><circle cx="13.3" cy="25.7" r="0.58" fill="#ff7878"/><circle cx="12" cy="25.9" r="0.76" fill="#ff6262"/><circle cx="11.5" cy="25" r="0.6" fill="#ff8c8c"/><circle cx="10.7" cy="27.7" r="0.52" fill="#ff9c9c"/><circle cx="10.9" cy="27.8" r="0.55" fill="#ff7878"/><circle cx="22.9" cy="36.9" r="0.52" fill="#ff4242"/><circle cx="22.4" cy="37" r="0.73" fill="#ff6e6e"/><circle cx="21.6" cy="38" r="0.66" fill="#ff7272"/><circle cx="22.8" cy="39.7" r="0.72" fill="#ff7676"/><circle cx="22.1" cy="38.2" r="0.82" fill="#ff8a8a"/><circle cx="21.6" cy="56.3" r="0.62" fill="#ff9e9e"/><circle cx="22.3" cy="57.8" r="0.61" fill="#ff8888"/><circle cx="20.2" cy="56.8" r="0.73" fill="#ff3434"/><circle cx="21.7" cy="57.9" r="0.54" fill="#ff5c5c"/><circle cx="22.1" cy="57.8" r="0.62" fill="#ff3a3a"/><circle cx="51.1" cy="46.3" r="0.62" fill="#ff3434"/><circle cx="51.2" cy="47.3" r="0.64" fill="#ff9898"/><circle cx="50.9" cy="47.1" r="0.77" fill="#ff9a9a"/><circle cx="55.4" cy="56.7" r="0.69" fill="#ff3e3e"/><circle cx="56" cy="56" r="0.56" fill="#ff6262"/><circle cx="23.8" cy="16.6" r="0.69" fill="#ff5656"/><circle cx="23.5" cy="17.3" r="0.74" fill="#ff9292"/><circle cx="16.2" cy="37.4" r="0.6" fill="#ff6868"/><circle cx="17.3" cy="35.9" r="0.64" fill="#ff9494"/><circle cx="60.5" cy="43.3" r="0.62" fill="#ff4444"/><circle cx="60.4" cy="43.8" r="0.64" fill="#ff4646"/><circle cx="62.4" cy="36.1" r="0.58" fill="#ff6e6e"/><circle cx="62.4" cy="36.2" r="0.58" fill="#ff6464"/><circle cx="34.9" cy="63.7" r="0.58" fill="#ffa2a2"/><circle cx="35.6" cy="62.8" r="0.64" fill="#ff9494"/><circle cx="33.8" cy="38.7" r="0.6" fill="#ff8e8e"/><circle cx="30.6" cy="38.2" r="0.63" fill="#ff8484"/><circle cx="30.9" cy="38.3" r="0.67" fill="#ff6a6a"/><circle cx="30.2" cy="39.6" r="0.6" fill="#ff3c3c"/><circle cx="17.8" cy="31.9" r="0.58" fill="#ff3c3c"/><circle cx="17.8" cy="31.5" r="0.62" fill="#ffa2a2"/><circle cx="56.2" cy="26.5" r="0.59" fill="#ff4e4e"/><circle cx="56.1" cy="25.5" r="0.53" fill="#ff9c9c"/><circle cx="26" cy="60" r="0.68" fill="#ff4242"/><circle cx="26.7" cy="59.9" r="0.55" fill="#ff8c8c"/><circle cx="37.8" cy="58.8" r="0.63" fill="#ff4040"/><circle cx="38.7" cy="58.3" r="0.61" fill="#ff3838"/></g><rect x=".5" y=".5" width="65.5" height="65.0" fill="none" stroke="#858585" stroke-opacity="1.00"/></svg>
<svg x="370.6" y="383.5" width="66.5" height="66.0" viewBox="0 0 66.5 66.0" overflow="hidden"><rect width="67" height="66" fill="#fff"/><rect width="67" height="66" filter="url(#nzInD2)" opacity="0.45"/><rect width="67" height="66" filter="url(#nzInD2b)" opacity="0.17"/><g opacity="0.40" filter="url(#b08)"><ellipse cx="19.6" cy="26.6" rx="1.5" ry="1.8" fill="#f08080"/><ellipse cx="20.6" cy="29.2" rx="2" ry="1.3" fill="#f08080"/><ellipse cx="22" cy="36" rx="3.3" ry="2.4" fill="#f08080"/><ellipse cx="24.8" cy="34.6" rx="1.8" ry="2.1" fill="#f08080"/><ellipse cx="19" cy="39.5" rx="3.3" ry="2.2" fill="#f08080"/><ellipse cx="23" cy="41.5" rx="2.6" ry="2.2" fill="#f08080"/><ellipse cx="16.5" cy="38" rx="1.7" ry="1.2" fill="#f08080"/><ellipse cx="21" cy="44.8" rx="1.5" ry="1.8" fill="#f08080"/><ellipse cx="26.2" cy="38.5" rx="1.2" ry="1.7" fill="#f08080"/><ellipse cx="12.5" cy="40.2" rx="2.6" ry="1.3" fill="#f08080"/><ellipse cx="9" cy="41.4" rx="2.2" ry="1.3" fill="#f08080"/><ellipse cx="21.4" cy="47.6" rx="1.1" ry="1.3" fill="#f08080"/><ellipse cx="44" cy="27" rx="3.3" ry="3.1" fill="#9a78d8"/><ellipse cx="47.6" cy="30" rx="2.6" ry="2.4" fill="#9a78d8"/><ellipse cx="41.5" cy="30.5" rx="2" ry="2.6" fill="#9a78d8"/><ellipse cx="45" cy="33.6" rx="2.2" ry="1.8" fill="#9a78d8"/><ellipse cx="42.5" cy="24.3" rx="1.7" ry="1.4" fill="#9a78d8"/><ellipse cx="49.6" cy="26" rx="1.3" ry="1.7" fill="#9a78d8"/><ellipse cx="40" cy="34.6" rx="1.2" ry="1.4" fill="#9a78d8"/><ellipse cx="46.5" cy="23.2" rx="1.1" ry="1.1" fill="#9a78d8"/><ellipse cx="32" cy="24" rx="1.5" ry="1.5" fill="#9a78d8"/><ellipse cx="32" cy="35" rx="1.7" ry="2.2" fill="#9a78d8"/><ellipse cx="35.8" cy="38.5" rx="1.7" ry="1.4" fill="#9a78d8"/><ellipse cx="43" cy="40" rx="1.3" ry="2" fill="#9a78d8"/><ellipse cx="45.2" cy="43.5" rx="1.1" ry="1.5" fill="#9a78d8"/><ellipse cx="40.9" cy="47.3" rx="1.4" ry="1.2" fill="#9a78d8"/></g><g opacity="0.60"><circle cx="18.6" cy="25.6" r="0.73" fill="#ff5252"/><circle cx="20.5" cy="26.2" r="0.84" fill="#ff5050"/><circle cx="19.8" cy="26.4" r="0.62" fill="#ff3232"/><circle cx="19.6" cy="25.8" r="0.85" fill="#ff9090"/><circle cx="19" cy="27.4" r="0.64" fill="#ff9494"/><circle cx="19.2" cy="29.2" r="0.68" fill="#ff5858"/><circle cx="21" cy="29.2" r="0.66" fill="#ff9898"/><circle cx="20.1" cy="28.5" r="0.73" fill="#ff8888"/><circle cx="20.9" cy="28.2" r="0.73" fill="#ff4646"/><circle cx="20.7" cy="29.9" r="0.93" fill="#ff8a8a"/><circle cx="22.3" cy="36.3" r="0.82" fill="#ff4646"/><circle cx="24" cy="36.5" r="0.71" fill="#ff7e7e"/><circle cx="22.2" cy="37.4" r="0.61" fill="#ff3c3c"/><circle cx="22.7" cy="37.5" r="0.81" fill="#ff5858"/><circle cx="19.9" cy="36.3" r="0.92" fill="#ff9090"/><circle cx="22.5" cy="37.2" r="0.85" fill="#ff7474"/><circle cx="21.4" cy="36.4" r="0.6" fill="#ff5a5a"/><circle cx="22.3" cy="37.5" r="0.65" fill="#ff8080"/><circle cx="23" cy="38" r="0.8" fill="#ff6c6c"/><circle cx="22.4" cy="38" r="0.77" fill="#ff9494"/><circle cx="23.2" cy="37.9" r="0.68" fill="#ff7474"/><circle cx="24.3" cy="37.2" r="0.65" fill="#ff6464"/><circle cx="21.6" cy="34.4" r="0.7" fill="#ff8686"/><circle cx="21.5" cy="35" r="0.8" fill="#ff3838"/><circle cx="24.2" cy="35.2" r="0.79" fill="#ff9292"/><circle cx="23.1" cy="34.1" r="0.69" fill="#ff9c9c"/><circle cx="23.8" cy="34.3" r="0.89" fill="#ff4e4e"/><circle cx="23.7" cy="35.2" r="0.74" fill="#ff5858"/><circle cx="24" cy="33.4" r="0.64" fill="#ff4848"/><circle cx="25.6" cy="34.9" r="0.77" fill="#ffa0a0"/><circle cx="24.1" cy="34" r="0.68" fill="#ff9a9a"/><circle cx="23.9" cy="35.6" r="0.57" fill="#ff4444"/><circle cx="25.9" cy="34.5" r="0.77" fill="#ff4646"/><circle cx="17.6" cy="38.2" r="0.74" fill="#ff6868"/><circle cx="18.4" cy="40" r="0.86" fill="#ff5858"/><circle cx="21.6" cy="39.5" r="0.94" fill="#ff7474"/><circle cx="20.2" cy="39" r="0.8" fill="#ff4848"/><circle cx="17.7" cy="40.1" r="0.6" fill="#ff6666"/><circle cx="18.3" cy="40.8" r="0.8" fill="#ff8888"/><circle cx="18.5" cy="39.7" r="0.82" fill="#ff5050"/><circle cx="18.6" cy="40.4" r="0.8" fill="#ff7070"/><circle cx="20.1" cy="37.9" r="0.73" fill="#ff7272"/><circle cx="17" cy="38.7" r="0.74" fill="#ff6666"/><circle cx="17.3" cy="40.7" r="0.74" fill="#ff9494"/><circle cx="17.8" cy="38.7" r="0.69" fill="#ff6262"/><circle cx="20.3" cy="38.6" r="0.71" fill="#ff5a5a"/><circle cx="20.6" cy="38.1" r="0.95" fill="#ff9c9c"/><circle cx="21.6" cy="41.3" r="0.7" fill="#ff8080"/><circle cx="21.2" cy="40.5" r="0.81" fill="#ff9a9a"/><circle cx="20.9" cy="41.9" r="0.7" fill="#ff8484"/><circle cx="21.8" cy="42.7" r="0.67" fill="#ff9090"/><circle cx="23.9" cy="41.6" r="0.82" fill="#ff9c9c"/><circle cx="22.4" cy="42.4" r="0.87" fill="#ff4646"/><circle cx="23.9" cy="41.7" r="0.65" fill="#ff9292"/><circle cx="20.7" cy="41.8" r="0.71" fill="#ff5656"/><circle cx="20.7" cy="41.4" r="0.71" fill="#ff5858"/><circle cx="24.1" cy="42.3" r="0.56" fill="#ff6a6a"/><circle cx="22.3" cy="40.8" r="0.74" fill="#ff5656"/><circle cx="22" cy="43.2" r="0.58" fill="#ff7a7a"/><circle cx="18" cy="37.9" r="0.75" fill="#ff9090"/><circle cx="16" cy="38.6" r="0.69" fill="#ff7272"/><circle cx="15.6" cy="38.8" r="0.57" fill="#ff4444"/><circle cx="15.4" cy="38.8" r="0.91" fill="#ff3c3c"/><circle cx="19.7" cy="44.5" r="0.61" fill="#ff7e7e"/><circle cx="21.2" cy="45.1" r="0.92" fill="#ff7878"/><circle cx="21.2" cy="46.3" r="0.87" fill="#ff5e5e"/><circle cx="20.9" cy="45.3" r="0.6" fill="#ff5e5e"/><circle cx="22" cy="44.1" r="0.65" fill="#ff9090"/><circle cx="26.7" cy="37.4" r="0.75" fill="#ff6060"/><circle cx="26.6" cy="38.7" r="0.94" fill="#ffa0a0"/><circle cx="26.4" cy="37.9" r="0.84" fill="#ff9292"/><circle cx="26.9" cy="39.2" r="0.93" fill="#ff6a6a"/><circle cx="14.1" cy="39.6" r="0.89" fill="#ff6464"/><circle cx="14" cy="39.5" r="0.71" fill="#ff7676"/><circle cx="12.8" cy="39.9" r="0.74" fill="#ff9696"/><circle cx="13.4" cy="39.4" r="0.88" fill="#ff7878"/><circle cx="10.9" cy="40.5" r="0.79" fill="#ff8888"/><circle cx="14.1" cy="40.5" r="0.59" fill="#ff6a6a"/><circle cx="13.7" cy="40.9" r="0.76" fill="#ff9090"/><circle cx="9.5" cy="40.6" r="0.92" fill="#ff8080"/><circle cx="7.7" cy="41.4" r="0.83" fill="#ff7c7c"/><circle cx="7.8" cy="41" r="0.63" fill="#ff3636"/><circle cx="8.2" cy="42.4" r="0.79" fill="#ff7272"/><circle cx="8.3" cy="41.8" r="0.6" fill="#ff8080"/><circle cx="9.7" cy="41.2" r="0.75" fill="#ff6e6e"/><circle cx="21.3" cy="47.8" r="0.85" fill="#ff6868"/><circle cx="20.9" cy="47.1" r="0.91" fill="#ff6868"/><circle cx="21.2" cy="47.1" r="0.71" fill="#ff5e5e"/><circle cx="46.3" cy="25.9" r="0.88" fill="#6e50e0"/><circle cx="43" cy="24.6" r="0.88" fill="#7a58d8"/><circle cx="45" cy="26.9" r="0.65" fill="#8a5fd0"/><circle cx="43.8" cy="26.7" r="0.69" fill="#8a5fd0"/><circle cx="42.3" cy="25.4" r="0.6" fill="#7a58d8"/><circle cx="45.8" cy="28.1" r="0.94" fill="#8a5fd0"/><circle cx="45.2" cy="28.8" r="0.64" fill="#a070c8"/><circle cx="44" cy="28.2" r="0.63" fill="#7a58d8"/><circle cx="43.1" cy="27.4" r="0.69" fill="#6e50e0"/><circle cx="42.1" cy="26.9" r="0.62" fill="#9c6cd6"/><circle cx="42.6" cy="25.4" r="0.8" fill="#9c6cd6"/><circle cx="44.2" cy="25.8" r="0.58" fill="#7a58d8"/><circle cx="44.8" cy="27.2" r="0.93" fill="#8a5fd0"/><circle cx="43.7" cy="27.7" r="0.65" fill="#9c6cd6"/><circle cx="43.2" cy="25" r="0.67" fill="#9c6cd6"/><circle cx="46" cy="25.7" r="0.69" fill="#a070c8"/><circle cx="42.5" cy="26.4" r="0.86" fill="#6e50e0"/><circle cx="45.5" cy="27.3" r="0.62" fill="#6e50e0"/><circle cx="45.8" cy="29.5" r="0.93" fill="#9c6cd6"/><circle cx="47.5" cy="29.9" r="0.88" fill="#6e50e0"/><circle cx="48.3" cy="30" r="0.8" fill="#a070c8"/><circle cx="47.8" cy="31.8" r="0.69" fill="#a070c8"/><circle cx="50" cy="30.2" r="0.86" fill="#9c6cd6"/><circle cx="47.5" cy="31" r="0.58" fill="#7a58d8"/><circle cx="46.6" cy="30.6" r="0.94" fill="#7a58d8"/><circle cx="48.9" cy="30.4" r="0.87" fill="#6e50e0"/><circle cx="46.5" cy="30.3" r="0.9" fill="#7a58d8"/><circle cx="45.3" cy="29.6" r="0.62" fill="#7a58d8"/><circle cx="48.5" cy="28.1" r="0.91" fill="#8a5fd0"/><circle cx="47" cy="32.1" r="0.57" fill="#a070c8"/><circle cx="40.4" cy="28.8" r="0.58" fill="#8a5fd0"/><circle cx="43" cy="29.4" r="0.7" fill="#9c6cd6"/><circle cx="41.1" cy="31.1" r="0.8" fill="#a070c8"/><circle cx="42.8" cy="29.9" r="0.74" fill="#6e50e0"/><circle cx="43.1" cy="30.7" r="0.77" fill="#a070c8"/><circle cx="41.7" cy="29.8" r="0.67" fill="#7a58d8"/><circle cx="43" cy="30.9" r="0.94" fill="#6e50e0"/><circle cx="41.3" cy="28.4" r="0.94" fill="#6e50e0"/><circle cx="43" cy="29.8" r="0.62" fill="#7a58d8"/><circle cx="40.5" cy="28.9" r="0.7" fill="#6e50e0"/><circle cx="45.5" cy="33.5" r="0.88" fill="#a070c8"/><circle cx="45.4" cy="34" r="0.65" fill="#9c6cd6"/><circle cx="43.8" cy="33.5" r="0.64" fill="#a070c8"/><circle cx="44.9" cy="33.9" r="0.93" fill="#a070c8"/><circle cx="43.6" cy="33.3" r="0.77" fill="#9c6cd6"/><circle cx="44.7" cy="33.2" r="0.58" fill="#a070c8"/><circle cx="46" cy="35" r="0.6" fill="#6e50e0"/><circle cx="42" cy="24.1" r="0.57" fill="#a070c8"/><circle cx="41.8" cy="23.3" r="0.69" fill="#a070c8"/><circle cx="43.4" cy="24.6" r="0.67" fill="#7a58d8"/><circle cx="43" cy="24.7" r="0.72" fill="#a070c8"/><circle cx="49.9" cy="25.4" r="0.6" fill="#a070c8"/><circle cx="49.8" cy="25.1" r="0.81" fill="#8a5fd0"/><circle cx="49.9" cy="25.5" r="0.66" fill="#a070c8"/><circle cx="49.2" cy="25.7" r="0.82" fill="#9c6cd6"/><circle cx="40.2" cy="33.6" r="0.66" fill="#7a58d8"/><circle cx="39.3" cy="35.4" r="0.61" fill="#6e50e0"/><circle cx="40.6" cy="35.1" r="0.69" fill="#6e50e0"/><circle cx="47.1" cy="24" r="0.91" fill="#9c6cd6"/><circle cx="46.3" cy="24" r="0.89" fill="#a070c8"/><circle cx="32.9" cy="24.9" r="0.86" fill="#6e50e0"/><circle cx="32.1" cy="24.1" r="0.63" fill="#7a58d8"/><circle cx="32.9" cy="24.8" r="0.71" fill="#7a58d8"/><circle cx="32.4" cy="24.9" r="0.83" fill="#6e50e0"/><circle cx="32.5" cy="35.4" r="0.66" fill="#7a58d8"/><circle cx="33.2" cy="33.9" r="0.81" fill="#6e50e0"/><circle cx="30.7" cy="35.4" r="0.88" fill="#a070c8"/><circle cx="33.4" cy="35.5" r="0.62" fill="#6e50e0"/><circle cx="32.6" cy="35" r="0.56" fill="#6e50e0"/><circle cx="32.8" cy="35.6" r="0.9" fill="#a070c8"/><circle cx="30.9" cy="34.8" r="0.71" fill="#a070c8"/><circle cx="37.3" cy="38.3" r="0.67" fill="#a070c8"/><circle cx="36.5" cy="38.6" r="0.59" fill="#6e50e0"/><circle cx="36.1" cy="39.7" r="0.65" fill="#6e50e0"/><circle cx="35.4" cy="39" r="0.87" fill="#7a58d8"/><circle cx="42.6" cy="40.3" r="0.94" fill="#9c6cd6"/><circle cx="42.4" cy="40.2" r="0.74" fill="#6e50e0"/><circle cx="43.3" cy="40.5" r="0.88" fill="#8a5fd0"/><circle cx="44.1" cy="40.2" r="0.78" fill="#a070c8"/><circle cx="43.1" cy="40.3" r="0.76" fill="#6e50e0"/><circle cx="44.4" cy="43.4" r="0.74" fill="#6e50e0"/><circle cx="45.7" cy="42.9" r="0.55" fill="#6e50e0"/><circle cx="45.4" cy="43.6" r="0.8" fill="#6e50e0"/><circle cx="41.4" cy="48.1" r="0.85" fill="#9c6cd6"/><circle cx="40.5" cy="46.7" r="0.91" fill="#6e50e0"/><circle cx="40" cy="47.2" r="0.78" fill="#a070c8"/><circle cx="20.1" cy="35.3" r="0.79" fill="#ff8e8e"/><circle cx="31.1" cy="38.9" r="0.6" fill="#ff7272"/><circle cx="14.3" cy="45.8" r="0.77" fill="#ff6e6e"/><circle cx="19.9" cy="28.4" r="0.67" fill="#ff3838"/><circle cx="5.3" cy="39" r="0.55" fill="#ff5656"/><circle cx="21" cy="43.9" r="0.55" fill="#ff8e8e"/><circle cx="22.1" cy="35.6" r="0.79" fill="#ff8888"/><circle cx="21.5" cy="38.7" r="0.73" fill="#ffa0a0"/><circle cx="20.7" cy="34.6" r="0.63" fill="#ff8686"/><circle cx="14.9" cy="31" r="0.65" fill="#ff9898"/><circle cx="29.6" cy="38.7" r="0.74" fill="#ffa0a0"/><circle cx="17.7" cy="30.2" r="0.74" fill="#ff4848"/><circle cx="22.7" cy="35.8" r="0.73" fill="#ff8a8a"/><circle cx="18.2" cy="31.3" r="0.72" fill="#ff7676"/><circle cx="16.2" cy="47.9" r="0.52" fill="#ff6464"/><circle cx="21.2" cy="28.1" r="0.75" fill="#ff4444"/><circle cx="20.5" cy="38.4" r="0.56" fill="#ff6e6e"/><circle cx="16.3" cy="34.8" r="0.76" fill="#ff5e5e"/><circle cx="12.2" cy="31.1" r="0.64" fill="#ff3c3c"/><circle cx="18.2" cy="43.9" r="0.58" fill="#ff4040"/><circle cx="14.3" cy="37.9" r="0.71" fill="#ff5c5c"/><circle cx="26.4" cy="40.4" r="0.79" fill="#ff3c3c"/><circle cx="23.6" cy="32.9" r="0.68" fill="#ff6666"/><circle cx="21.2" cy="43.5" r="0.77" fill="#ff8282"/><circle cx="38.4" cy="22" r="0.64" fill="#8a5fd0"/><circle cx="48.4" cy="28.9" r="0.76" fill="#8a5fd0"/><circle cx="50.4" cy="34.5" r="0.51" fill="#a070c8"/><circle cx="48.1" cy="34.2" r="0.79" fill="#9c6cd6"/><circle cx="40.9" cy="29.4" r="0.55" fill="#6e50e0"/><circle cx="42.9" cy="26.1" r="0.74" fill="#9c6cd6"/><circle cx="48.7" cy="30.7" r="0.61" fill="#6e50e0"/><circle cx="42.6" cy="40.1" r="0.75" fill="#9c6cd6"/><circle cx="50.2" cy="23.6" r="0.52" fill="#9c6cd6"/><circle cx="47.7" cy="46.1" r="0.65" fill="#8a5fd0"/><circle cx="45" cy="25.9" r="0.73" fill="#a070c8"/><circle cx="40.9" cy="31.8" r="0.52" fill="#8a5fd0"/><circle cx="40" cy="30.7" r="0.67" fill="#6e50e0"/><circle cx="52.5" cy="35.8" r="0.57" fill="#7a58d8"/><circle cx="51.9" cy="24.9" r="0.64" fill="#a070c8"/><circle cx="37" cy="24.8" r="0.7" fill="#a070c8"/><circle cx="32.6" cy="29.9" r="0.52" fill="#a070c8"/><circle cx="34.9" cy="27" r="0.66" fill="#9c6cd6"/><circle cx="38.5" cy="51.4" r="0.52" fill="#8a5fd0"/><circle cx="34" cy="42.1" r="0.76" fill="#a070c8"/><circle cx="44.1" cy="39.6" r="0.6" fill="#8a5fd0"/><circle cx="44.9" cy="32.6" r="0.67" fill="#6e50e0"/><circle cx="41.5" cy="32.1" r="0.72" fill="#a070c8"/><circle cx="43.4" cy="31.4" r="0.76" fill="#a070c8"/><circle cx="39.2" cy="36" r="0.72" fill="#a070c8"/><circle cx="40.3" cy="34.5" r="0.73" fill="#9c6cd6"/><circle cx="38.4" cy="33.2" r="0.57" fill="#6e50e0"/><circle cx="44.3" cy="28.7" r="0.8" fill="#7a58d8"/><circle cx="47.1" cy="37.5" r="0.56" fill="#9c6cd6"/><circle cx="45" cy="17.9" r="0.71" fill="#9c6cd6"/></g><rect x=".5" y=".5" width="65.5" height="65.0" fill="none" stroke="#858585" stroke-opacity="1.00"/></svg>
<svg x="447.6" y="238.7" width="66.5" height="66.0" viewBox="0 0 66.5 66.0" overflow="hidden"><rect width="67" height="66" fill="#8f6597"/><rect width="67" height="66" filter="url(#nzAzS0)" opacity="0.5"/><rect width="67" height="66" filter="url(#nzAzS0b)" opacity="0.14"/><g opacity="0.70" filter="url(#b08)"><ellipse cx="13" cy="8" rx="2.2" ry="1.9" fill="#5c3499"/><ellipse cx="9.5" cy="13.5" rx="1.9" ry="2.2" fill="#5c3499"/><ellipse cx="17" cy="10.5" rx="1.6" ry="1.6" fill="#5c3499"/><ellipse cx="12.5" cy="20" rx="1.9" ry="2.2" fill="#5c3499"/><ellipse cx="6" cy="6" rx="1.6" ry="1.4" fill="#5c3499"/><ellipse cx="20" cy="15" rx="1.4" ry="1.6" fill="#5c3499"/><ellipse cx="15.5" cy="26" rx="1.4" ry="1.6" fill="#5c3499"/><ellipse cx="24" cy="9" rx="1.4" ry="1.2" fill="#5c3499"/><ellipse cx="10" cy="29" rx="1.4" ry="1.4" fill="#5c3499"/><ellipse cx="46" cy="14" rx="1.2" ry="1.2" fill="#5c3499"/><ellipse cx="55" cy="30" rx="1.2" ry="1.2" fill="#5c3499"/><ellipse cx="50" cy="44" rx="1.2" ry="1.2" fill="#5c3499"/><ellipse cx="30" cy="50" rx="1.2" ry="1.2" fill="#5c3499"/><ellipse cx="40" cy="56" rx="1.2" ry="1.2" fill="#5c3499"/><ellipse cx="60" cy="52" rx="1.1" ry="1.1" fill="#5c3499"/><ellipse cx="36" cy="8" rx="1.1" ry="1.1" fill="#5c3499"/><ellipse cx="58" cy="12" rx="1.1" ry="1.1" fill="#5c3499"/><ellipse cx="24" cy="42" rx="1.2" ry="1.2" fill="#5c3499"/><ellipse cx="44" cy="28" rx="1.1" ry="1.1" fill="#5c3499"/></g><g opacity="0.65"><circle cx="11.9" cy="8" r="0.75" fill="#5c389d"/><circle cx="13.3" cy="7.5" r="0.71" fill="#562182"/><circle cx="11.8" cy="7.2" r="0.65" fill="#5d3a9e"/><circle cx="12.8" cy="8.5" r="0.58" fill="#5b3095"/><circle cx="12.6" cy="9" r="0.89" fill="#4d176d"/><circle cx="13.2" cy="7.2" r="0.68" fill="#511a75"/><circle cx="9.6" cy="14.9" r="0.64" fill="#5c3499"/><circle cx="8.2" cy="12.9" r="0.81" fill="#531d7a"/><circle cx="9" cy="14.3" r="0.85" fill="#5a2b90"/><circle cx="9.4" cy="13" r="0.57" fill="#5c359a"/><circle cx="9.2" cy="14.3" r="0.84" fill="#501a74"/><circle cx="9.6" cy="14" r="0.62" fill="#5e46a6"/><circle cx="16.9" cy="9.8" r="0.89" fill="#5e51ad"/><circle cx="16.6" cy="10.4" r="0.85" fill="#5c389d"/><circle cx="17.1" cy="11.4" r="0.86" fill="#5e52ad"/><circle cx="17.1" cy="11.6" r="0.7" fill="#5e4caa"/><circle cx="13.7" cy="19.3" r="0.7" fill="#5e45a6"/><circle cx="13.7" cy="20.2" r="0.82" fill="#562284"/><circle cx="12.2" cy="19.1" r="0.65" fill="#5a2b90"/><circle cx="12.8" cy="18.9" r="0.73" fill="#5c389d"/><circle cx="13.1" cy="18.6" r="0.65" fill="#4f1970"/><circle cx="12.8" cy="19.1" r="0.64" fill="#572588"/><circle cx="5.1" cy="5.8" r="0.9" fill="#4d176d"/><circle cx="5.8" cy="5.3" r="0.61" fill="#5e4dab"/><circle cx="6.3" cy="5.5" r="0.79" fill="#5d3da1"/><circle cx="20.2" cy="16" r="0.61" fill="#5e4dab"/><circle cx="20.6" cy="15" r="0.68" fill="#551f7f"/><circle cx="20.2" cy="16" r="0.63" fill="#572385"/><circle cx="15.5" cy="25.6" r="0.68" fill="#531d7a"/><circle cx="14.8" cy="26" r="0.57" fill="#5e48a8"/><circle cx="16.4" cy="25.6" r="0.73" fill="#58268a"/><circle cx="24.7" cy="9.6" r="0.77" fill="#572385"/><circle cx="24.3" cy="8.7" r="0.79" fill="#5b3298"/><circle cx="23.9" cy="9.4" r="0.8" fill="#5e46a6"/><circle cx="10.3" cy="29.5" r="0.7" fill="#5c359a"/><circle cx="10.2" cy="30" r="0.58" fill="#551f7f"/><circle cx="10" cy="28.3" r="0.66" fill="#531d7a"/><circle cx="46" cy="13.6" r="0.86" fill="#59288d"/><circle cx="46.4" cy="14.8" r="0.68" fill="#5e48a8"/><circle cx="55.8" cy="29.8" r="0.71" fill="#5a2d92"/><circle cx="54.4" cy="30" r="0.58" fill="#58278b"/><circle cx="49.8" cy="44.3" r="0.68" fill="#5c379c"/><circle cx="50.5" cy="44.2" r="0.66" fill="#5e48a8"/><circle cx="29.8" cy="50.1" r="0.72" fill="#5d3b9f"/><circle cx="29.8" cy="50.7" r="0.77" fill="#5e4ba9"/><circle cx="40.5" cy="56.5" r="0.68" fill="#5e47a7"/><circle cx="39.9" cy="56.5" r="0.63" fill="#5e51ad"/><circle cx="59.6" cy="52.6" r="0.55" fill="#5e51ad"/><circle cx="60.3" cy="52.5" r="0.66" fill="#572385"/><circle cx="35.9" cy="7.4" r="0.72" fill="#521c79"/><circle cx="36.3" cy="8" r="0.69" fill="#521c79"/><circle cx="57.7" cy="11.6" r="0.8" fill="#5d40a2"/><circle cx="58.1" cy="11.8" r="0.59" fill="#551f7f"/><circle cx="23.3" cy="42.4" r="0.87" fill="#562182"/><circle cx="23.7" cy="41.6" r="0.73" fill="#5d42a4"/><circle cx="44.4" cy="27.3" r="0.56" fill="#5a2e93"/><circle cx="44.4" cy="27.3" r="0.69" fill="#5c3499"/></g><g opacity="0.85" filter="url(#b08)"><ellipse cx="29" cy="24.5" rx="2.4" ry="3" fill="#401253" transform="rotate(-25 29 24.5)"/><ellipse cx="32.5" cy="30.5" rx="2.2" ry="3.4" fill="#5d3a9e" transform="rotate(-25 32.5 30.5)"/><ellipse cx="36.6" cy="36.6" rx="2.6" ry="3" fill="#5d40a2" transform="rotate(-25 36.6 36.6)"/></g><g opacity="0.92"><circle cx="27.6" cy="22.4" r="1" fill="#2f1436"/><circle cx="28.6" cy="24.4" r="1" fill="#c78e71"/><circle cx="28.8" cy="27.6" r="1.4" fill="#381145"/><circle cx="30.4" cy="26.2" r="0.8" fill="#43123e"/><ellipse cx="31.8" cy="30.4" rx="0.9" ry="2.2" fill="#d2d5db" transform="rotate(-25 31.8 30.4)"/><circle cx="30.6" cy="30.8" r="0.9" fill="#6d90c0"/><circle cx="33.4" cy="31.6" r="0.9" fill="#5f58b0"/><circle cx="35.6" cy="35.6" r="1.3" fill="#2f1436"/><circle cx="37.8" cy="39.2" r="1.2" fill="#dfd4d6"/><circle cx="36.6" cy="38.8" r="0.8" fill="#ca9a7d"/><circle cx="38.4" cy="36.2" r="0.9" fill="#5f65b5"/><circle cx="34.2" cy="37.6" r="0.9" fill="#5f58b0"/><circle cx="40" cy="41" r="0.8" fill="#6276ba"/></g><path d="M0,33.6 Q7,50.5 16.6,66" fill="none" stroke="#e07080" stroke-width="1.5" opacity="0.75"/><path d="M0,33.6 Q7,50.5 16.6,66 L0,66 Z" fill="#000"/><rect x=".5" y=".5" width="65.5" height="65.0" fill="none" stroke="#4e3c58" stroke-opacity="0.80"/></svg>
<svg x="447.6" y="311.1" width="66.5" height="66.0" viewBox="0 0 66.5 66.0" overflow="hidden"><rect width="67" height="66" fill="#7f6789"/><rect width="67" height="66" filter="url(#nzAzS2)" opacity="0.5"/><rect width="67" height="66" filter="url(#nzAzS2b)" opacity="0.16"/><g opacity="0.70" filter="url(#b08)"><ellipse cx="4" cy="31" rx="3.1" ry="2.2" fill="#e0d7da"/><ellipse cx="1.5" cy="28" rx="1.4" ry="1.4" fill="#e0d7da"/><ellipse cx="7.5" cy="33" rx="1.7" ry="1.2" fill="#e0d7da"/><ellipse cx="14" cy="39.5" rx="1.9" ry="1.2" fill="#e0d7da"/><ellipse cx="19" cy="42" rx="1.9" ry="1.1" fill="#e0d7da"/><ellipse cx="5.5" cy="55" rx="1.4" ry="1.2" fill="#e0d7da"/><ellipse cx="2.5" cy="36" rx="1.7" ry="1.7" fill="#e0d7da"/><ellipse cx="2.5" cy="47" rx="1.4" ry="2.9" fill="#e0d7da"/><ellipse cx="8.3" cy="51.3" rx="1.7" ry="1.4" fill="#e0d7da"/><ellipse cx="14.8" cy="27.3" rx="1.9" ry="1.7" fill="#e0d7da"/><ellipse cx="31.5" cy="18.6" rx="2.2" ry="1.8" fill="#e0d7da"/><ellipse cx="38.8" cy="23.7" rx="1.7" ry="1.7" fill="#e0d7da"/><ellipse cx="52" cy="47" rx="1.2" ry="1.1" fill="#e0d7da"/><ellipse cx="55.5" cy="55.7" rx="1" ry="1" fill="#e0d7da"/><ellipse cx="25" cy="22" rx="1.2" ry="1.2" fill="#e0d7da"/><ellipse cx="12" cy="44.8" rx="2.9" ry="1.7" fill="#ca9a7d"/><ellipse cx="23.5" cy="44" rx="3.4" ry="1.4" fill="#ca9a7d"/><ellipse cx="10.5" cy="52" rx="2.4" ry="1.7" fill="#ca9a7d"/><ellipse cx="24.3" cy="26.6" rx="1.9" ry="1.7" fill="#ca9a7d"/><ellipse cx="17.5" cy="46" rx="1.9" ry="1.2" fill="#ca9a7d"/><ellipse cx="20.6" cy="21.5" rx="1.9" ry="1.6" fill="#8aaec5"/><ellipse cx="22" cy="58.6" rx="1.2" ry="1.1" fill="#8aaec5"/><ellipse cx="27" cy="38.5" rx="1.9" ry="1.6" fill="#8aaec5"/><ellipse cx="24" cy="33" rx="1.4" ry="1.2" fill="#8aaec5"/><ellipse cx="20" cy="31.7" rx="1.9" ry="1.9" fill="#5d40a2"/><ellipse cx="22.8" cy="35.3" rx="1.6" ry="1.6" fill="#5d40a2"/><ellipse cx="17" cy="24" rx="1.2" ry="1.2" fill="#5d40a2"/><ellipse cx="34" cy="22" rx="1.2" ry="1.2" fill="#5d40a2"/><ellipse cx="15.5" cy="38" rx="1.2" ry="1.2" fill="#5d40a2"/><ellipse cx="28" cy="18.6" rx="1.7" ry="1.7" fill="#2f1436"/><ellipse cx="23" cy="29" rx="1.2" ry="1.2" fill="#2f1436"/><ellipse cx="27.5" cy="24.5" rx="1.2" ry="1.2" fill="#2f1436"/><ellipse cx="18" cy="34.5" rx="1.1" ry="1.1" fill="#2f1436"/></g><g opacity="0.75"><circle cx="5.1" cy="32" r="0.75" fill="#bfccd3"/><circle cx="3.6" cy="30.4" r="0.92" fill="#d7d7dd"/><circle cx="4.6" cy="32.3" r="0.6" fill="#dfd5d8"/><circle cx="4.1" cy="30.5" r="0.94" fill="#dacbc5"/><circle cx="5.6" cy="31.2" r="0.87" fill="#ddd0cf"/><circle cx="2.5" cy="29.6" r="0.81" fill="#e2d9e2"/><circle cx="3.6" cy="31.8" r="0.55" fill="#d8c5bb"/><circle cx="5.7" cy="31" r="0.81" fill="#d7c3b8"/><circle cx="5.5" cy="29.8" r="0.82" fill="#e0d7da"/><circle cx="3.6" cy="31.1" r="0.76" fill="#cbd2d7"/><circle cx="4.4" cy="30.6" r="0.72" fill="#d7d7dd"/><circle cx="3.3" cy="29.7" r="0.75" fill="#d9d8de"/><circle cx="3.6" cy="30.6" r="0.71" fill="#dacac3"/><circle cx="1.1" cy="27.2" r="0.8" fill="#dad8df"/><circle cx="1.8" cy="28.8" r="0.85" fill="#c5cfd5"/><circle cx="2.3" cy="28.5" r="0.83" fill="#e0d6d9"/><circle cx="1" cy="27.3" r="0.68" fill="#e1d8de"/><circle cx="6.8" cy="33.4" r="0.67" fill="#ddd9e0"/><circle cx="7.1" cy="32.2" r="0.65" fill="#d5d6dc"/><circle cx="8.2" cy="32.3" r="0.67" fill="#e2d9e2"/><circle cx="6.8" cy="33.2" r="0.71" fill="#c7d0d5"/><circle cx="15.5" cy="39.6" r="0.73" fill="#d7c3b8"/><circle cx="13.9" cy="38.6" r="0.94" fill="#e2d9e1"/><circle cx="13.7" cy="39.8" r="0.65" fill="#e2d9e2"/><circle cx="13.7" cy="39.6" r="0.88" fill="#e2d9e0"/><circle cx="18.1" cy="42.6" r="0.64" fill="#dbccc8"/><circle cx="19.1" cy="42.2" r="0.94" fill="#dfd9e1"/><circle cx="18.6" cy="42.1" r="0.65" fill="#d7d7dd"/><circle cx="19.7" cy="42.3" r="0.72" fill="#e2d9e1"/><circle cx="5.4" cy="54.4" r="0.92" fill="#e1d8df"/><circle cx="5.5" cy="55.6" r="0.66" fill="#d7c4b9"/><circle cx="5.2" cy="55.8" r="0.58" fill="#e1d8de"/><circle cx="2.1" cy="37.1" r="0.77" fill="#c5cfd5"/><circle cx="3.3" cy="36.4" r="0.63" fill="#d9c9c2"/><circle cx="2.5" cy="35.8" r="0.9" fill="#e0d7db"/><circle cx="3.3" cy="35.8" r="0.89" fill="#e2d8df"/><circle cx="1.9" cy="35" r="0.63" fill="#dcd9df"/><circle cx="2" cy="48.6" r="0.72" fill="#d8c5bb"/><circle cx="1.7" cy="47.3" r="0.69" fill="#dbcbc6"/><circle cx="2.9" cy="48.7" r="0.9" fill="#d8c7be"/><circle cx="3.5" cy="47.5" r="0.91" fill="#c1cdd3"/><circle cx="1.5" cy="46.8" r="0.82" fill="#ccd2d8"/><circle cx="1.7" cy="46.1" r="0.64" fill="#d0d4d9"/><circle cx="2.6" cy="46.9" r="0.71" fill="#e1d9e2"/><circle cx="3.1" cy="46.7" r="0.94" fill="#e0d7da"/><circle cx="9.5" cy="51.3" r="0.87" fill="#d9d8de"/><circle cx="8.2" cy="51.7" r="0.63" fill="#cdd3d8"/><circle cx="9.6" cy="51.6" r="0.58" fill="#ddd9e0"/><circle cx="7.7" cy="50.6" r="0.69" fill="#d7d7dd"/><circle cx="7" cy="51.1" r="0.77" fill="#dfd4d6"/><circle cx="13.5" cy="27.9" r="0.67" fill="#e1d8de"/><circle cx="15.3" cy="27.9" r="0.85" fill="#e0d6d9"/><circle cx="14.8" cy="27.9" r="0.89" fill="#c2ced4"/><circle cx="14.4" cy="26.7" r="0.93" fill="#e0d7da"/><circle cx="14.2" cy="27.2" r="0.84" fill="#d9d8de"/><circle cx="14.2" cy="26.8" r="0.6" fill="#d0d4d9"/><circle cx="32.2" cy="18.3" r="0.87" fill="#e1d9e2"/><circle cx="30.4" cy="18.4" r="0.63" fill="#dccecb"/><circle cx="32" cy="19.3" r="0.89" fill="#ded3d3"/><circle cx="30.8" cy="17.7" r="0.81" fill="#dccfcd"/><circle cx="32.3" cy="18.7" r="0.68" fill="#dbccc8"/><circle cx="32" cy="18.1" r="0.88" fill="#e2d9e1"/><circle cx="32.5" cy="18.3" r="0.73" fill="#dccfcd"/><circle cx="30.3" cy="19.4" r="0.71" fill="#beccd2"/><circle cx="37.8" cy="23.7" r="0.55" fill="#e2d8df"/><circle cx="39.3" cy="23.1" r="0.78" fill="#d8c7be"/><circle cx="39.2" cy="22.8" r="0.78" fill="#dccfcd"/><circle cx="38.6" cy="23.5" r="0.74" fill="#d9d8de"/><circle cx="39.7" cy="24.4" r="0.9" fill="#dbd8df"/><circle cx="52" cy="47.3" r="0.55" fill="#cdd3d8"/><circle cx="52" cy="47.1" r="0.73" fill="#e1d8de"/><circle cx="52" cy="47.7" r="0.79" fill="#d7c4b9"/><circle cx="55.3" cy="56.3" r="0.78" fill="#e0d6da"/><circle cx="56.2" cy="55.6" r="0.6" fill="#dfd9e1"/><circle cx="24.4" cy="21.4" r="0.66" fill="#e2d9e0"/><circle cx="25.8" cy="21.5" r="0.81" fill="#ddd1d1"/><circle cx="25.6" cy="22.5" r="0.63" fill="#d9d8de"/><circle cx="10" cy="44.9" r="0.65" fill="#cca186"/><circle cx="13.2" cy="44.1" r="0.6" fill="#cda78e"/><circle cx="10.5" cy="44.9" r="0.79" fill="#c48267"/><circle cx="13.1" cy="43.6" r="0.72" fill="#c27b62"/><circle cx="12.8" cy="45.7" r="0.82" fill="#cca389"/><circle cx="10.2" cy="44.8" r="0.77" fill="#c1775f"/><circle cx="11.2" cy="45.4" r="0.75" fill="#c5866a"/><circle cx="10.6" cy="44.5" r="0.73" fill="#cda88f"/><circle cx="11.3" cy="44.3" r="0.69" fill="#c27b62"/><circle cx="21.3" cy="43.7" r="0.76" fill="#c0765f"/><circle cx="21.7" cy="43.2" r="0.55" fill="#c1775f"/><circle cx="23.2" cy="44.5" r="0.85" fill="#c27a61"/><circle cx="22.9" cy="43" r="0.72" fill="#c17960"/><circle cx="24.2" cy="43.5" r="0.76" fill="#c6876b"/><circle cx="25.4" cy="44.8" r="0.66" fill="#cfaf99"/><circle cx="23.3" cy="43.8" r="0.67" fill="#c89275"/><circle cx="22.6" cy="45" r="0.59" fill="#c37d63"/><circle cx="24.4" cy="42.9" r="0.81" fill="#c9977b"/><circle cx="10" cy="51.7" r="0.9" fill="#c99679"/><circle cx="9.6" cy="50.8" r="0.9" fill="#c1775f"/><circle cx="11.2" cy="50.8" r="0.8" fill="#cca287"/><circle cx="11.4" cy="53" r="0.87" fill="#c89477"/><circle cx="10.5" cy="52.8" r="0.8" fill="#c37d63"/><circle cx="10.5" cy="52.4" r="0.76" fill="#cfaf99"/><circle cx="11.6" cy="53" r="0.75" fill="#c89073"/><circle cx="10.2" cy="50.8" r="0.69" fill="#d0b09b"/><circle cx="23.6" cy="26.4" r="0.68" fill="#d0b09b"/><circle cx="23.5" cy="27" r="0.87" fill="#c78c6f"/><circle cx="23.2" cy="27.5" r="0.66" fill="#c89275"/><circle cx="23.2" cy="27.2" r="0.69" fill="#c6876b"/><circle cx="23.2" cy="25.7" r="0.83" fill="#cca58b"/><circle cx="23.9" cy="26.3" r="0.6" fill="#d0b29c"/><circle cx="17.3" cy="46.1" r="0.72" fill="#ca9b7f"/><circle cx="18.9" cy="45.6" r="0.84" fill="#cca186"/><circle cx="18.1" cy="45.3" r="0.78" fill="#c37d63"/><circle cx="16.1" cy="45.9" r="0.9" fill="#c68b6e"/><circle cx="21.2" cy="22.2" r="0.8" fill="#85a9c4"/><circle cx="22.1" cy="21.5" r="0.57" fill="#97b7c7"/><circle cx="21.4" cy="21.7" r="0.81" fill="#799fc2"/><circle cx="20.5" cy="22.2" r="0.86" fill="#95b5c7"/><circle cx="21" cy="22" r="0.61" fill="#7fa5c3"/><circle cx="19.3" cy="21.7" r="0.74" fill="#6f93c0"/><circle cx="22" cy="59.1" r="0.77" fill="#8cafc5"/><circle cx="21.2" cy="58.6" r="0.71" fill="#80a5c3"/><circle cx="21.2" cy="58.4" r="0.87" fill="#8cafc5"/><circle cx="25.9" cy="38.1" r="0.89" fill="#a4beca"/><circle cx="27.3" cy="39.5" r="0.77" fill="#799fc2"/><circle cx="26.7" cy="39.3" r="0.84" fill="#84a8c4"/><circle cx="26.8" cy="38.2" r="0.65" fill="#769cc1"/><circle cx="26.9" cy="38.4" r="0.71" fill="#7196c1"/><circle cx="25.8" cy="39" r="0.68" fill="#9ebbc9"/><circle cx="25" cy="33" r="0.89" fill="#80a5c3"/><circle cx="23.8" cy="32" r="0.7" fill="#6f93c0"/><circle cx="24.1" cy="32.6" r="0.59" fill="#7fa5c3"/><circle cx="20.4" cy="31" r="0.77" fill="#5c379c"/><circle cx="20.5" cy="30.9" r="0.8" fill="#4f1972"/><circle cx="19.3" cy="31.5" r="0.84" fill="#5e51ad"/><circle cx="20.8" cy="31.7" r="0.71" fill="#5c379c"/><circle cx="19.3" cy="31.3" r="0.7" fill="#5e49a9"/><circle cx="18.5" cy="31.3" r="0.81" fill="#5e4ba9"/><circle cx="19.8" cy="30.3" r="0.7" fill="#5c359a"/><circle cx="24" cy="35.1" r="0.86" fill="#5d3ea1"/><circle cx="23.5" cy="35.9" r="0.61" fill="#562284"/><circle cx="21.6" cy="35.3" r="0.67" fill="#5e4fac"/><circle cx="21.7" cy="35.4" r="0.88" fill="#5d3ca0"/><circle cx="23.6" cy="36.2" r="0.8" fill="#541e7e"/><circle cx="17.2" cy="24.5" r="0.68" fill="#5e46a6"/><circle cx="16.6" cy="23.4" r="0.64" fill="#5b3095"/><circle cx="16.2" cy="23.5" r="0.87" fill="#5e4fac"/><circle cx="34.5" cy="21.4" r="0.65" fill="#5d3ca0"/><circle cx="34.7" cy="21.6" r="0.65" fill="#511a75"/><circle cx="33.5" cy="21.7" r="0.72" fill="#4f1972"/><circle cx="15" cy="38.1" r="0.64" fill="#5d3a9e"/><circle cx="14.7" cy="38.2" r="0.55" fill="#521c79"/><circle cx="15" cy="38.6" r="0.74" fill="#5e47a7"/><circle cx="28.3" cy="18.9" r="0.83" fill="#301437"/><circle cx="27.8" cy="19" r="0.8" fill="#371139"/><circle cx="28.3" cy="19.2" r="0.82" fill="#381145"/><circle cx="27.9" cy="19.3" r="0.65" fill="#3a1149"/><circle cx="27.9" cy="19" r="0.87" fill="#301437"/><circle cx="22" cy="28.7" r="0.9" fill="#351140"/><circle cx="23.3" cy="28.9" r="0.58" fill="#411254"/><circle cx="22.4" cy="28.5" r="0.86" fill="#44123f"/><circle cx="27.2" cy="24.5" r="0.66" fill="#321237"/><circle cx="28" cy="25" r="0.59" fill="#3c113b"/><circle cx="27.6" cy="23.5" r="0.6" fill="#42123e"/><circle cx="18.1" cy="35" r="0.65" fill="#381139"/><circle cx="18.4" cy="34.2" r="0.75" fill="#3a1149"/></g><g opacity="0.95" filter="url(#b08)"><circle cx="33.7" cy="33.2" r="6.4" fill="#ca9a7d"/><path d="M33.7,33.2 L27.6,36.7 A7.0,7.0 0 0 1 29.2,27.8 Z" fill="#c0755e"/><path d="M33.7,33.2 L29.7,28.5 A6.2,6.2 0 0 1 36.8,27.8 Z" fill="#d7c3b8"/><path d="M33.7,33.2 L36.9,27.7 A6.4,6.4 0 0 1 39.5,30.5 Z" fill="#711d4f"/><path d="M33.7,33.2 L40.4,30.1 A7.4,7.4 0 0 1 39.4,38.0 Z" fill="#381145"/><path d="M33.7,33.2 L38.9,37.6 A6.8,6.8 0 0 1 35.5,39.8 Z" fill="#9f3c50"/><path d="M33.7,33.2 L35.5,40.0 A7.0,7.0 0 0 1 30.2,39.3 Z" fill="#d0b39e"/><path d="M33.7,33.2 L30.1,39.4 A7.2,7.2 0 0 1 27.5,36.8 Z" fill="#d2d5db"/></g><g opacity="0.90" filter="url(#b08)"><ellipse cx="38.4" cy="33" rx="2.7" ry="3.1" fill="#381145"/><circle cx="40" cy="32.2" r="1.7" fill="#531e7c"/><circle cx="37.6" cy="34.6" r="1.3" fill="#361138"/><circle cx="30.4" cy="37" r="1.8" fill="#d7d7dd"/><circle cx="28.2" cy="38" r="1.2" fill="#97b7c7"/><circle cx="32.6" cy="38.6" r="1.1" fill="#a6bfca"/><circle cx="29.8" cy="31" r="2" fill="#c48166"/><circle cx="31.5" cy="29" r="1.2" fill="#bb6857"/></g><rect x=".5" y=".5" width="65.5" height="65.0" fill="none" stroke="#4e3c58" stroke-opacity="0.80"/></svg>
<svg x="447.6" y="383.5" width="66.5" height="66.0" viewBox="0 0 66.5 66.0" overflow="hidden"><rect width="67" height="66" fill="#7f6789"/><rect width="67" height="66" filter="url(#nzAzS4)" opacity="0.5"/><rect width="67" height="66" filter="url(#nzAzS4b)" opacity="0.16"/><g opacity="0.60" filter="url(#b08)"><path d="M43,21 L44.7,22.5 L46.8,26.2 L50.5,29 L53,28" fill="none" stroke="#44135a" stroke-width="1.7" stroke-linecap="round" stroke-linejoin="round"/><path d="M46.8,26.2 L45,29.5 L43.2,32.7 L41,34 L40,36" fill="none" stroke="#44135a" stroke-width="1.7" stroke-linecap="round" stroke-linejoin="round"/><path d="M51.2,19 L52.5,17.5" fill="none" stroke="#44135a" stroke-width="1.7" stroke-linecap="round" stroke-linejoin="round"/><path d="M43.2,32.7 L44.5,36.5 L45.4,40 L46,43" fill="none" stroke="#44135a" stroke-width="1.7" stroke-linecap="round" stroke-linejoin="round"/><path d="M42.5,47.3 L41.5,46" fill="none" stroke="#44135a" stroke-width="1.7" stroke-linecap="round" stroke-linejoin="round"/><path d="M27.2,35.6 L25.5,37 L24.3,38.5 L23,41" fill="none" stroke="#44135a" stroke-width="1.7" stroke-linecap="round" stroke-linejoin="round"/><path d="M28.7,19 L31,20" fill="none" stroke="#44135a" stroke-width="1.7" stroke-linecap="round" stroke-linejoin="round"/><path d="M33,24 L34,25.5" fill="none" stroke="#44135a" stroke-width="1.7" stroke-linecap="round" stroke-linejoin="round"/><path d="M33.5,37 L35.2,37.8 L37,39.5" fill="none" stroke="#44135a" stroke-width="1.7" stroke-linecap="round" stroke-linejoin="round"/><path d="M20,25.5 L21.4,27.6 L20.7,30.5 L20,33.5" fill="none" stroke="#711d4f" stroke-width="1.7" stroke-linecap="round" stroke-linejoin="round"/><path d="M23,41 L22.8,43 L21.5,46.5" fill="none" stroke="#711d4f" stroke-width="1.7" stroke-linecap="round" stroke-linejoin="round"/><path d="M8,41 L11.2,40.7 L14,41.5" fill="none" stroke="#711d4f" stroke-width="1.7" stroke-linecap="round" stroke-linejoin="round"/><path d="M9.7,43 L13,44.5 L17,44 L19.2,46.5" fill="none" stroke="#711d4f" stroke-width="1.7" stroke-linecap="round" stroke-linejoin="round"/></g><g opacity="0.70" filter="url(#b08)"><ellipse cx="46.8" cy="26.2" rx="3.2" ry="2" fill="#401253"/><ellipse cx="50.5" cy="29" rx="2" ry="1.8" fill="#401253"/><ellipse cx="44.7" cy="22.5" rx="1.5" ry="1.8" fill="#401253"/><ellipse cx="51.2" cy="19" rx="1.2" ry="1.4" fill="#401253"/><ellipse cx="63.6" cy="13" rx="1.1" ry="1.4" fill="#401253"/><ellipse cx="28.7" cy="19" rx="1.8" ry="1.1" fill="#401253"/><ellipse cx="33" cy="24" rx="1.4" ry="1.2" fill="#401253"/><ellipse cx="45.4" cy="40" rx="1.2" ry="2" fill="#401253"/><ellipse cx="42.5" cy="47.3" rx="1.5" ry="1.4" fill="#401253"/><ellipse cx="54.8" cy="40.7" rx="1.1" ry="1.5" fill="#401253"/><ellipse cx="35.2" cy="37.8" rx="1.8" ry="1.4" fill="#401253"/><ellipse cx="27.2" cy="35.6" rx="1.8" ry="1.8" fill="#401253"/><ellipse cx="24.3" cy="38.5" rx="2" ry="2.2" fill="#401253"/><ellipse cx="24.3" cy="58" rx="1" ry="1" fill="#401253"/><ellipse cx="13.4" cy="62.5" rx="1" ry="1" fill="#401253"/><ellipse cx="61.4" cy="51" rx="1" ry="1.1" fill="#401253"/><ellipse cx="54" cy="23.5" rx="1.2" ry="1" fill="#401253"/><ellipse cx="41" cy="33.5" rx="1.2" ry="2" fill="#401253"/><ellipse cx="21.4" cy="27.6" rx="2.2" ry="2" fill="#561546"/><ellipse cx="43.2" cy="32.7" rx="2" ry="2" fill="#561546"/><ellipse cx="11.2" cy="40.7" rx="2.5" ry="1.4" fill="#561546"/><ellipse cx="20" cy="33.5" rx="1.5" ry="2" fill="#561546"/><ellipse cx="47" cy="30.5" rx="2" ry="1.2" fill="#561546"/><ellipse cx="20.7" cy="30.5" rx="2" ry="1.2" fill="#9f3c50"/><ellipse cx="22.8" cy="43" rx="2" ry="2" fill="#9f3c50"/><ellipse cx="9.7" cy="43" rx="2.5" ry="1.2" fill="#9f3c50"/><ellipse cx="21.5" cy="46.5" rx="1.4" ry="1.8" fill="#9f3c50"/><ellipse cx="17" cy="42" rx="1.8" ry="1.2" fill="#9f3c50"/><ellipse cx="19.2" cy="46.5" rx="2" ry="1.1" fill="#cda68c"/><ellipse cx="13" cy="44.5" rx="1.8" ry="1" fill="#cda68c"/></g><g opacity="0.75"><circle cx="44.4" cy="26.2" r="0.59" fill="#3e1150"/><circle cx="48.8" cy="26.6" r="0.63" fill="#421257"/><circle cx="47.1" cy="25.9" r="0.61" fill="#431359"/><circle cx="47.5" cy="25.2" r="0.8" fill="#381139"/><circle cx="47" cy="27.3" r="0.62" fill="#321237"/><circle cx="49" cy="26.4" r="0.69" fill="#351140"/><circle cx="47.8" cy="27.6" r="0.68" fill="#3a1149"/><circle cx="48.7" cy="25.7" r="0.68" fill="#471461"/><circle cx="48.7" cy="25.5" r="0.8" fill="#361141"/><circle cx="47.6" cy="25.9" r="0.7" fill="#341238"/><circle cx="45.7" cy="25.1" r="0.81" fill="#3a1148"/><circle cx="45.2" cy="25.8" r="0.93" fill="#45135c"/><circle cx="50.5" cy="29.8" r="0.61" fill="#33113d"/><circle cx="50.1" cy="28.8" r="0.65" fill="#371139"/><circle cx="50.3" cy="30.1" r="0.72" fill="#4c1669"/><circle cx="51.8" cy="28.8" r="0.65" fill="#34113f"/><circle cx="50.1" cy="30.2" r="0.56" fill="#3b114a"/><circle cx="49.6" cy="28.1" r="0.59" fill="#511b77"/><circle cx="49.3" cy="29.3" r="0.74" fill="#511a75"/><circle cx="44.6" cy="23.7" r="0.76" fill="#3a113a"/><circle cx="45.6" cy="22.9" r="0.79" fill="#3b114a"/><circle cx="45.4" cy="22.8" r="0.68" fill="#4c1669"/><circle cx="44.9" cy="22.1" r="0.56" fill="#381139"/><circle cx="45.6" cy="22.2" r="0.75" fill="#301437"/><circle cx="51.7" cy="19.2" r="0.75" fill="#4e186f"/><circle cx="51.8" cy="18.4" r="0.64" fill="#33113d"/><circle cx="51.6" cy="18.3" r="0.9" fill="#321237"/><circle cx="62.8" cy="12.7" r="0.9" fill="#44135a"/><circle cx="63.7" cy="13.4" r="0.84" fill="#331237"/><circle cx="62.7" cy="12.7" r="0.68" fill="#471461"/><circle cx="28" cy="19.6" r="0.73" fill="#39113a"/><circle cx="27.8" cy="19.6" r="0.84" fill="#371143"/><circle cx="29.8" cy="18.9" r="0.91" fill="#3d113c"/><circle cx="28.5" cy="18.4" r="0.66" fill="#3a113a"/><circle cx="32.3" cy="24.8" r="0.67" fill="#481563"/><circle cx="33.8" cy="23.7" r="0.61" fill="#3a1149"/><circle cx="33.1" cy="24.7" r="0.81" fill="#301338"/><circle cx="46.2" cy="39" r="0.68" fill="#421257"/><circle cx="46.1" cy="39.9" r="0.84" fill="#4c176b"/><circle cx="45.6" cy="40.8" r="0.72" fill="#3b114a"/><circle cx="46" cy="39" r="0.75" fill="#3b113b"/><circle cx="46.4" cy="39.9" r="0.63" fill="#411256"/><circle cx="43" cy="47.4" r="0.89" fill="#501a74"/><circle cx="42.4" cy="47.2" r="0.88" fill="#511a75"/><circle cx="41.8" cy="46.5" r="0.7" fill="#3a1148"/><circle cx="43.5" cy="46.8" r="0.9" fill="#34113f"/><circle cx="55.2" cy="39.7" r="0.76" fill="#311339"/><circle cx="54.6" cy="40.2" r="0.84" fill="#3d114d"/><circle cx="54.9" cy="39.9" r="0.89" fill="#3d114d"/><circle cx="35.3" cy="37.2" r="0.81" fill="#411254"/><circle cx="35.5" cy="37.9" r="0.82" fill="#471461"/><circle cx="34.9" cy="38.6" r="0.87" fill="#531e7c"/><circle cx="34.3" cy="38.4" r="0.63" fill="#4f1972"/><circle cx="36.1" cy="37.5" r="0.89" fill="#521c79"/><circle cx="26.1" cy="35.6" r="0.59" fill="#321237"/><circle cx="26" cy="35.5" r="0.81" fill="#2f1436"/><circle cx="28.4" cy="35.2" r="0.94" fill="#4f1970"/><circle cx="28.1" cy="36.2" r="0.63" fill="#431359"/><circle cx="25.9" cy="35.7" r="0.58" fill="#3a113a"/><circle cx="26.5" cy="36.8" r="0.73" fill="#34113f"/><circle cx="24.1" cy="39.9" r="0.72" fill="#31123a"/><circle cx="25.5" cy="38.7" r="0.89" fill="#34113f"/><circle cx="23.8" cy="37.4" r="0.62" fill="#311339"/><circle cx="25" cy="38.9" r="0.85" fill="#3b114a"/><circle cx="23" cy="38.4" r="0.82" fill="#3d114e"/><circle cx="24.2" cy="37.7" r="0.85" fill="#4f1972"/><circle cx="25" cy="39.5" r="0.67" fill="#301437"/><circle cx="24.9" cy="37.4" r="0.6" fill="#531e7c"/><circle cx="23.1" cy="39.5" r="0.79" fill="#381139"/><circle cx="24.5" cy="57.3" r="0.85" fill="#501a74"/><circle cx="23.8" cy="58" r="0.65" fill="#341238"/><circle cx="12.8" cy="62.6" r="0.8" fill="#46145e"/><circle cx="12.9" cy="62.5" r="0.7" fill="#34113e"/><circle cx="61.3" cy="51.1" r="0.84" fill="#2f1436"/><circle cx="61.9" cy="51.4" r="0.84" fill="#531e7c"/><circle cx="53.4" cy="23.2" r="0.85" fill="#361141"/><circle cx="53.4" cy="23" r="0.88" fill="#33113d"/><circle cx="40.6" cy="34.1" r="0.87" fill="#3d114d"/><circle cx="40.1" cy="33.7" r="0.7" fill="#501a74"/><circle cx="40.3" cy="32.6" r="0.88" fill="#44135a"/><circle cx="40.7" cy="33.9" r="0.94" fill="#491564"/><circle cx="41.6" cy="32.8" r="0.85" fill="#361142"/><circle cx="20" cy="27.8" r="0.92" fill="#832550"/><circle cx="20.1" cy="28.6" r="0.68" fill="#792050"/><circle cx="22.6" cy="27.4" r="0.83" fill="#501444"/><circle cx="20.8" cy="28" r="0.94" fill="#872750"/><circle cx="19.8" cy="27.6" r="0.67" fill="#521545"/><circle cx="22.8" cy="28.2" r="0.75" fill="#852650"/><circle cx="22" cy="28.1" r="0.93" fill="#761f4f"/><circle cx="20.7" cy="27.2" r="0.75" fill="#701c4e"/><circle cx="20.7" cy="28.4" r="0.85" fill="#751e4f"/><circle cx="42.6" cy="33.5" r="0.75" fill="#741e4f"/><circle cx="42.4" cy="32.3" r="0.62" fill="#67194c"/><circle cx="42.6" cy="33.6" r="0.92" fill="#721d4f"/><circle cx="42.5" cy="31.6" r="0.9" fill="#6b1b4d"/><circle cx="42.1" cy="33.1" r="0.57" fill="#571647"/><circle cx="43.3" cy="33.8" r="0.91" fill="#751e4f"/><circle cx="42.2" cy="32.6" r="0.81" fill="#5d1749"/><circle cx="42.6" cy="31.5" r="0.56" fill="#7e2250"/><circle cx="13" cy="40.7" r="0.94" fill="#802350"/><circle cx="9.8" cy="40.6" r="0.78" fill="#711d4f"/><circle cx="12.1" cy="40.7" r="0.77" fill="#67194c"/><circle cx="11.4" cy="40" r="0.93" fill="#591648"/><circle cx="10.8" cy="41.3" r="0.82" fill="#8a2950"/><circle cx="10" cy="40.3" r="0.91" fill="#882850"/><circle cx="12.9" cy="40.7" r="0.68" fill="#691a4d"/><circle cx="20.6" cy="34.3" r="0.85" fill="#63184b"/><circle cx="18.9" cy="33.4" r="0.84" fill="#792050"/><circle cx="21.2" cy="33.8" r="0.81" fill="#6b1b4d"/><circle cx="19.8" cy="33.9" r="0.67" fill="#6b1b4d"/><circle cx="20.5" cy="33.4" r="0.67" fill="#521545"/><circle cx="18.9" cy="33" r="0.86" fill="#7d2150"/><circle cx="45.9" cy="30.5" r="0.93" fill="#721d4f"/><circle cx="47.1" cy="31.4" r="0.82" fill="#812450"/><circle cx="46" cy="30" r="0.89" fill="#7e2250"/><circle cx="47.9" cy="30.9" r="0.6" fill="#852650"/><circle cx="47.2" cy="29.7" r="0.74" fill="#781f4f"/><circle cx="19.9" cy="30.6" r="0.68" fill="#a54350"/><circle cx="20.2" cy="31.4" r="0.88" fill="#b65e54"/><circle cx="21.6" cy="30.6" r="0.74" fill="#8e2c50"/><circle cx="20.1" cy="30.6" r="0.68" fill="#8f2d50"/><circle cx="20.8" cy="29.6" r="0.58" fill="#b65e54"/><circle cx="23.7" cy="44.2" r="0.89" fill="#a94950"/><circle cx="22.5" cy="43.4" r="0.7" fill="#9f3c50"/><circle cx="24.2" cy="42.6" r="0.61" fill="#a94950"/><circle cx="23" cy="44" r="0.7" fill="#912f50"/><circle cx="22.8" cy="42.2" r="0.84" fill="#8f2d50"/><circle cx="22.5" cy="43.6" r="0.83" fill="#9b3850"/><circle cx="24.1" cy="42.2" r="0.56" fill="#902e50"/><circle cx="23.1" cy="44.1" r="0.77" fill="#a24050"/><circle cx="9.1" cy="43.5" r="0.85" fill="#b65d54"/><circle cx="9.4" cy="42" r="0.76" fill="#a94850"/><circle cx="9.5" cy="43.7" r="0.83" fill="#ac4d51"/><circle cx="10.7" cy="43.1" r="0.73" fill="#8c2a50"/><circle cx="7.7" cy="43.2" r="0.62" fill="#b65e54"/><circle cx="9.8" cy="42.6" r="0.74" fill="#b15452"/><circle cx="20.9" cy="46.5" r="0.68" fill="#9c3950"/><circle cx="22" cy="47.5" r="0.84" fill="#b15452"/><circle cx="22.1" cy="47.4" r="0.66" fill="#b35953"/><circle cx="22.1" cy="46.6" r="0.73" fill="#a24050"/><circle cx="21.3" cy="46.4" r="0.82" fill="#a24050"/><circle cx="16.6" cy="41.5" r="0.7" fill="#b25652"/><circle cx="17.2" cy="42.7" r="0.64" fill="#a13f50"/><circle cx="16.3" cy="41.2" r="0.89" fill="#ab4b50"/><circle cx="16.7" cy="42.5" r="0.84" fill="#933050"/><circle cx="19.5" cy="46" r="0.89" fill="#c17960"/><circle cx="19.2" cy="45.8" r="0.6" fill="#c6876b"/><circle cx="20.5" cy="46.9" r="0.87" fill="#cfad96"/><circle cx="20.4" cy="46.2" r="0.74" fill="#c5866a"/><circle cx="18.8" cy="45.7" r="0.79" fill="#cfaf99"/><circle cx="11.8" cy="44.9" r="0.7" fill="#c58569"/><circle cx="13.1" cy="44.9" r="0.67" fill="#ca9c80"/><circle cx="13.7" cy="43.8" r="0.82" fill="#c68b6e"/><circle cx="12.3" cy="44.4" r="0.7" fill="#cda68c"/><circle cx="28.6" cy="35.4" r="0.7" fill="#a6bfca"/><circle cx="29.2" cy="34.6" r="0.6" fill="#c5cfd5"/></g><rect x=".5" y=".5" width="65.5" height="65.0" fill="none" stroke="#4e3c58" stroke-opacity="0.80"/></svg>
<svg x="519.1" y="238.7" width="66.5" height="66.0" viewBox="0 0 66.5 66.0" overflow="hidden"><rect width="67" height="66" fill="#8f6597"/><rect width="67" height="66" filter="url(#nzAzS1)" opacity="0.5"/><rect width="67" height="66" filter="url(#nzAzS1b)" opacity="0.14"/><g opacity="0.70" filter="url(#b08)"><ellipse cx="13" cy="8" rx="2.2" ry="1.9" fill="#5c3499"/><ellipse cx="9.5" cy="13.5" rx="1.9" ry="2.2" fill="#5c3499"/><ellipse cx="17" cy="10.5" rx="1.6" ry="1.6" fill="#5c3499"/><ellipse cx="12.5" cy="20" rx="1.9" ry="2.2" fill="#5c3499"/><ellipse cx="6" cy="6" rx="1.6" ry="1.4" fill="#5c3499"/><ellipse cx="20" cy="15" rx="1.4" ry="1.6" fill="#5c3499"/><ellipse cx="15.5" cy="26" rx="1.4" ry="1.6" fill="#5c3499"/><ellipse cx="24" cy="9" rx="1.4" ry="1.2" fill="#5c3499"/><ellipse cx="10" cy="29" rx="1.4" ry="1.4" fill="#5c3499"/><ellipse cx="46" cy="14" rx="1.2" ry="1.2" fill="#5c3499"/><ellipse cx="55" cy="30" rx="1.2" ry="1.2" fill="#5c3499"/><ellipse cx="50" cy="44" rx="1.2" ry="1.2" fill="#5c3499"/><ellipse cx="30" cy="50" rx="1.2" ry="1.2" fill="#5c3499"/><ellipse cx="40" cy="56" rx="1.2" ry="1.2" fill="#5c3499"/><ellipse cx="60" cy="52" rx="1.1" ry="1.1" fill="#5c3499"/><ellipse cx="36" cy="8" rx="1.1" ry="1.1" fill="#5c3499"/><ellipse cx="58" cy="12" rx="1.1" ry="1.1" fill="#5c3499"/><ellipse cx="24" cy="42" rx="1.2" ry="1.2" fill="#5c3499"/><ellipse cx="44" cy="28" rx="1.1" ry="1.1" fill="#5c3499"/></g><g opacity="0.65"><circle cx="11.9" cy="8" r="0.75" fill="#5c389d"/><circle cx="13.3" cy="7.5" r="0.71" fill="#562182"/><circle cx="11.8" cy="7.2" r="0.65" fill="#5d3a9e"/><circle cx="12.8" cy="8.5" r="0.58" fill="#5b3095"/><circle cx="12.6" cy="9" r="0.89" fill="#4d176d"/><circle cx="13.2" cy="7.2" r="0.68" fill="#511a75"/><circle cx="9.6" cy="14.9" r="0.64" fill="#5c3499"/><circle cx="8.2" cy="12.9" r="0.81" fill="#531d7a"/><circle cx="9" cy="14.3" r="0.85" fill="#5a2b90"/><circle cx="9.4" cy="13" r="0.57" fill="#5c359a"/><circle cx="9.2" cy="14.3" r="0.84" fill="#501a74"/><circle cx="9.6" cy="14" r="0.62" fill="#5e46a6"/><circle cx="16.9" cy="9.8" r="0.89" fill="#5e51ad"/><circle cx="16.6" cy="10.4" r="0.85" fill="#5c389d"/><circle cx="17.1" cy="11.4" r="0.86" fill="#5e52ad"/><circle cx="17.1" cy="11.6" r="0.7" fill="#5e4caa"/><circle cx="13.7" cy="19.3" r="0.7" fill="#5e45a6"/><circle cx="13.7" cy="20.2" r="0.82" fill="#562284"/><circle cx="12.2" cy="19.1" r="0.65" fill="#5a2b90"/><circle cx="12.8" cy="18.9" r="0.73" fill="#5c389d"/><circle cx="13.1" cy="18.6" r="0.65" fill="#4f1970"/><circle cx="12.8" cy="19.1" r="0.64" fill="#572588"/><circle cx="5.1" cy="5.8" r="0.9" fill="#4d176d"/><circle cx="5.8" cy="5.3" r="0.61" fill="#5e4dab"/><circle cx="6.3" cy="5.5" r="0.79" fill="#5d3da1"/><circle cx="20.2" cy="16" r="0.61" fill="#5e4dab"/><circle cx="20.6" cy="15" r="0.68" fill="#551f7f"/><circle cx="20.2" cy="16" r="0.63" fill="#572385"/><circle cx="15.5" cy="25.6" r="0.68" fill="#531d7a"/><circle cx="14.8" cy="26" r="0.57" fill="#5e48a8"/><circle cx="16.4" cy="25.6" r="0.73" fill="#58268a"/><circle cx="24.7" cy="9.6" r="0.77" fill="#572385"/><circle cx="24.3" cy="8.7" r="0.79" fill="#5b3298"/><circle cx="23.9" cy="9.4" r="0.8" fill="#5e46a6"/><circle cx="10.3" cy="29.5" r="0.7" fill="#5c359a"/><circle cx="10.2" cy="30" r="0.58" fill="#551f7f"/><circle cx="10" cy="28.3" r="0.66" fill="#531d7a"/><circle cx="46" cy="13.6" r="0.86" fill="#59288d"/><circle cx="46.4" cy="14.8" r="0.68" fill="#5e48a8"/><circle cx="55.8" cy="29.8" r="0.71" fill="#5a2d92"/><circle cx="54.4" cy="30" r="0.58" fill="#58278b"/><circle cx="49.8" cy="44.3" r="0.68" fill="#5c379c"/><circle cx="50.5" cy="44.2" r="0.66" fill="#5e48a8"/><circle cx="29.8" cy="50.1" r="0.72" fill="#5d3b9f"/><circle cx="29.8" cy="50.7" r="0.77" fill="#5e4ba9"/><circle cx="40.5" cy="56.5" r="0.68" fill="#5e47a7"/><circle cx="39.9" cy="56.5" r="0.63" fill="#5e51ad"/><circle cx="59.6" cy="52.6" r="0.55" fill="#5e51ad"/><circle cx="60.3" cy="52.5" r="0.66" fill="#572385"/><circle cx="35.9" cy="7.4" r="0.72" fill="#521c79"/><circle cx="36.3" cy="8" r="0.69" fill="#521c79"/><circle cx="57.7" cy="11.6" r="0.8" fill="#5d40a2"/><circle cx="58.1" cy="11.8" r="0.59" fill="#551f7f"/><circle cx="23.3" cy="42.4" r="0.87" fill="#562182"/><circle cx="23.7" cy="41.6" r="0.73" fill="#5d42a4"/><circle cx="44.4" cy="27.3" r="0.56" fill="#5a2e93"/><circle cx="44.4" cy="27.3" r="0.69" fill="#5c3499"/></g><g opacity="0.85" filter="url(#b08)"><ellipse cx="29" cy="24.5" rx="2.4" ry="3" fill="#401253" transform="rotate(-25 29 24.5)"/><ellipse cx="32.5" cy="30.5" rx="2.2" ry="3.4" fill="#5d3a9e" transform="rotate(-25 32.5 30.5)"/><ellipse cx="36.6" cy="36.6" rx="2.6" ry="3" fill="#5d40a2" transform="rotate(-25 36.6 36.6)"/></g><g opacity="0.92"><circle cx="27.6" cy="22.4" r="1" fill="#2f1436"/><circle cx="28.6" cy="24.4" r="1" fill="#c78e71"/><circle cx="28.8" cy="27.6" r="1.4" fill="#381145"/><circle cx="30.4" cy="26.2" r="0.8" fill="#43123e"/><ellipse cx="31.8" cy="30.4" rx="0.9" ry="2.2" fill="#d2d5db" transform="rotate(-25 31.8 30.4)"/><circle cx="30.6" cy="30.8" r="0.9" fill="#6d90c0"/><circle cx="33.4" cy="31.6" r="0.9" fill="#5f58b0"/><circle cx="35.6" cy="35.6" r="1.3" fill="#2f1436"/><circle cx="37.8" cy="39.2" r="1.2" fill="#dfd4d6"/><circle cx="36.6" cy="38.8" r="0.8" fill="#ca9a7d"/><circle cx="38.4" cy="36.2" r="0.9" fill="#5f65b5"/><circle cx="34.2" cy="37.6" r="0.9" fill="#5f58b0"/><circle cx="40" cy="41" r="0.8" fill="#6276ba"/></g><path d="M0,33.6 Q7,50.5 16.6,66" fill="none" stroke="#e07080" stroke-width="1.5" opacity="0.75"/><path d="M0,33.6 Q7,50.5 16.6,66 L0,66 Z" fill="#000"/><rect x=".5" y=".5" width="65.5" height="65.0" fill="none" stroke="#4e3c58" stroke-opacity="0.80"/></svg>
<svg x="519.1" y="311.1" width="66.5" height="66.0" viewBox="0 0 66.5 66.0" overflow="hidden"><rect width="67" height="66" fill="#7f6789"/><rect width="67" height="66" filter="url(#nzAzS3)" opacity="0.5"/><rect width="67" height="66" filter="url(#nzAzS3b)" opacity="0.16"/><g opacity="0.70" filter="url(#b08)"><ellipse cx="4" cy="31" rx="3.1" ry="2.2" fill="#e0d7da"/><ellipse cx="1.5" cy="28" rx="1.4" ry="1.4" fill="#e0d7da"/><ellipse cx="7.5" cy="33" rx="1.7" ry="1.2" fill="#e0d7da"/><ellipse cx="14" cy="39.5" rx="1.9" ry="1.2" fill="#e0d7da"/><ellipse cx="19" cy="42" rx="1.9" ry="1.1" fill="#e0d7da"/><ellipse cx="5.5" cy="55" rx="1.4" ry="1.2" fill="#e0d7da"/><ellipse cx="2.5" cy="36" rx="1.7" ry="1.7" fill="#e0d7da"/><ellipse cx="2.5" cy="47" rx="1.4" ry="2.9" fill="#e0d7da"/><ellipse cx="8.3" cy="51.3" rx="1.7" ry="1.4" fill="#e0d7da"/><ellipse cx="14.8" cy="27.3" rx="1.9" ry="1.7" fill="#e0d7da"/><ellipse cx="31.5" cy="18.6" rx="2.2" ry="1.8" fill="#e0d7da"/><ellipse cx="38.8" cy="23.7" rx="1.7" ry="1.7" fill="#e0d7da"/><ellipse cx="52" cy="47" rx="1.2" ry="1.1" fill="#e0d7da"/><ellipse cx="55.5" cy="55.7" rx="1" ry="1" fill="#e0d7da"/><ellipse cx="25" cy="22" rx="1.2" ry="1.2" fill="#e0d7da"/><ellipse cx="12" cy="44.8" rx="2.9" ry="1.7" fill="#ca9a7d"/><ellipse cx="23.5" cy="44" rx="3.4" ry="1.4" fill="#ca9a7d"/><ellipse cx="10.5" cy="52" rx="2.4" ry="1.7" fill="#ca9a7d"/><ellipse cx="24.3" cy="26.6" rx="1.9" ry="1.7" fill="#ca9a7d"/><ellipse cx="17.5" cy="46" rx="1.9" ry="1.2" fill="#ca9a7d"/><ellipse cx="20.6" cy="21.5" rx="1.9" ry="1.6" fill="#8aaec5"/><ellipse cx="22" cy="58.6" rx="1.2" ry="1.1" fill="#8aaec5"/><ellipse cx="27" cy="38.5" rx="1.9" ry="1.6" fill="#8aaec5"/><ellipse cx="24" cy="33" rx="1.4" ry="1.2" fill="#8aaec5"/><ellipse cx="20" cy="31.7" rx="1.9" ry="1.9" fill="#5d40a2"/><ellipse cx="22.8" cy="35.3" rx="1.6" ry="1.6" fill="#5d40a2"/><ellipse cx="17" cy="24" rx="1.2" ry="1.2" fill="#5d40a2"/><ellipse cx="34" cy="22" rx="1.2" ry="1.2" fill="#5d40a2"/><ellipse cx="15.5" cy="38" rx="1.2" ry="1.2" fill="#5d40a2"/><ellipse cx="28" cy="18.6" rx="1.7" ry="1.7" fill="#2f1436"/><ellipse cx="23" cy="29" rx="1.2" ry="1.2" fill="#2f1436"/><ellipse cx="27.5" cy="24.5" rx="1.2" ry="1.2" fill="#2f1436"/><ellipse cx="18" cy="34.5" rx="1.1" ry="1.1" fill="#2f1436"/></g><g opacity="0.75"><circle cx="5.1" cy="32" r="0.75" fill="#bfccd3"/><circle cx="3.6" cy="30.4" r="0.92" fill="#d7d7dd"/><circle cx="4.6" cy="32.3" r="0.6" fill="#dfd5d8"/><circle cx="4.1" cy="30.5" r="0.94" fill="#dacbc5"/><circle cx="5.6" cy="31.2" r="0.87" fill="#ddd0cf"/><circle cx="2.5" cy="29.6" r="0.81" fill="#e2d9e2"/><circle cx="3.6" cy="31.8" r="0.55" fill="#d8c5bb"/><circle cx="5.7" cy="31" r="0.81" fill="#d7c3b8"/><circle cx="5.5" cy="29.8" r="0.82" fill="#e0d7da"/><circle cx="3.6" cy="31.1" r="0.76" fill="#cbd2d7"/><circle cx="4.4" cy="30.6" r="0.72" fill="#d7d7dd"/><circle cx="3.3" cy="29.7" r="0.75" fill="#d9d8de"/><circle cx="3.6" cy="30.6" r="0.71" fill="#dacac3"/><circle cx="1.1" cy="27.2" r="0.8" fill="#dad8df"/><circle cx="1.8" cy="28.8" r="0.85" fill="#c5cfd5"/><circle cx="2.3" cy="28.5" r="0.83" fill="#e0d6d9"/><circle cx="1" cy="27.3" r="0.68" fill="#e1d8de"/><circle cx="6.8" cy="33.4" r="0.67" fill="#ddd9e0"/><circle cx="7.1" cy="32.2" r="0.65" fill="#d5d6dc"/><circle cx="8.2" cy="32.3" r="0.67" fill="#e2d9e2"/><circle cx="6.8" cy="33.2" r="0.71" fill="#c7d0d5"/><circle cx="15.5" cy="39.6" r="0.73" fill="#d7c3b8"/><circle cx="13.9" cy="38.6" r="0.94" fill="#e2d9e1"/><circle cx="13.7" cy="39.8" r="0.65" fill="#e2d9e2"/><circle cx="13.7" cy="39.6" r="0.88" fill="#e2d9e0"/><circle cx="18.1" cy="42.6" r="0.64" fill="#dbccc8"/><circle cx="19.1" cy="42.2" r="0.94" fill="#dfd9e1"/><circle cx="18.6" cy="42.1" r="0.65" fill="#d7d7dd"/><circle cx="19.7" cy="42.3" r="0.72" fill="#e2d9e1"/><circle cx="5.4" cy="54.4" r="0.92" fill="#e1d8df"/><circle cx="5.5" cy="55.6" r="0.66" fill="#d7c4b9"/><circle cx="5.2" cy="55.8" r="0.58" fill="#e1d8de"/><circle cx="2.1" cy="37.1" r="0.77" fill="#c5cfd5"/><circle cx="3.3" cy="36.4" r="0.63" fill="#d9c9c2"/><circle cx="2.5" cy="35.8" r="0.9" fill="#e0d7db"/><circle cx="3.3" cy="35.8" r="0.89" fill="#e2d8df"/><circle cx="1.9" cy="35" r="0.63" fill="#dcd9df"/><circle cx="2" cy="48.6" r="0.72" fill="#d8c5bb"/><circle cx="1.7" cy="47.3" r="0.69" fill="#dbcbc6"/><circle cx="2.9" cy="48.7" r="0.9" fill="#d8c7be"/><circle cx="3.5" cy="47.5" r="0.91" fill="#c1cdd3"/><circle cx="1.5" cy="46.8" r="0.82" fill="#ccd2d8"/><circle cx="1.7" cy="46.1" r="0.64" fill="#d0d4d9"/><circle cx="2.6" cy="46.9" r="0.71" fill="#e1d9e2"/><circle cx="3.1" cy="46.7" r="0.94" fill="#e0d7da"/><circle cx="9.5" cy="51.3" r="0.87" fill="#d9d8de"/><circle cx="8.2" cy="51.7" r="0.63" fill="#cdd3d8"/><circle cx="9.6" cy="51.6" r="0.58" fill="#ddd9e0"/><circle cx="7.7" cy="50.6" r="0.69" fill="#d7d7dd"/><circle cx="7" cy="51.1" r="0.77" fill="#dfd4d6"/><circle cx="13.5" cy="27.9" r="0.67" fill="#e1d8de"/><circle cx="15.3" cy="27.9" r="0.85" fill="#e0d6d9"/><circle cx="14.8" cy="27.9" r="0.89" fill="#c2ced4"/><circle cx="14.4" cy="26.7" r="0.93" fill="#e0d7da"/><circle cx="14.2" cy="27.2" r="0.84" fill="#d9d8de"/><circle cx="14.2" cy="26.8" r="0.6" fill="#d0d4d9"/><circle cx="32.2" cy="18.3" r="0.87" fill="#e1d9e2"/><circle cx="30.4" cy="18.4" r="0.63" fill="#dccecb"/><circle cx="32" cy="19.3" r="0.89" fill="#ded3d3"/><circle cx="30.8" cy="17.7" r="0.81" fill="#dccfcd"/><circle cx="32.3" cy="18.7" r="0.68" fill="#dbccc8"/><circle cx="32" cy="18.1" r="0.88" fill="#e2d9e1"/><circle cx="32.5" cy="18.3" r="0.73" fill="#dccfcd"/><circle cx="30.3" cy="19.4" r="0.71" fill="#beccd2"/><circle cx="37.8" cy="23.7" r="0.55" fill="#e2d8df"/><circle cx="39.3" cy="23.1" r="0.78" fill="#d8c7be"/><circle cx="39.2" cy="22.8" r="0.78" fill="#dccfcd"/><circle cx="38.6" cy="23.5" r="0.74" fill="#d9d8de"/><circle cx="39.7" cy="24.4" r="0.9" fill="#dbd8df"/><circle cx="52" cy="47.3" r="0.55" fill="#cdd3d8"/><circle cx="52" cy="47.1" r="0.73" fill="#e1d8de"/><circle cx="52" cy="47.7" r="0.79" fill="#d7c4b9"/><circle cx="55.3" cy="56.3" r="0.78" fill="#e0d6da"/><circle cx="56.2" cy="55.6" r="0.6" fill="#dfd9e1"/><circle cx="24.4" cy="21.4" r="0.66" fill="#e2d9e0"/><circle cx="25.8" cy="21.5" r="0.81" fill="#ddd1d1"/><circle cx="25.6" cy="22.5" r="0.63" fill="#d9d8de"/><circle cx="10" cy="44.9" r="0.65" fill="#cca186"/><circle cx="13.2" cy="44.1" r="0.6" fill="#cda78e"/><circle cx="10.5" cy="44.9" r="0.79" fill="#c48267"/><circle cx="13.1" cy="43.6" r="0.72" fill="#c27b62"/><circle cx="12.8" cy="45.7" r="0.82" fill="#cca389"/><circle cx="10.2" cy="44.8" r="0.77" fill="#c1775f"/><circle cx="11.2" cy="45.4" r="0.75" fill="#c5866a"/><circle cx="10.6" cy="44.5" r="0.73" fill="#cda88f"/><circle cx="11.3" cy="44.3" r="0.69" fill="#c27b62"/><circle cx="21.3" cy="43.7" r="0.76" fill="#c0765f"/><circle cx="21.7" cy="43.2" r="0.55" fill="#c1775f"/><circle cx="23.2" cy="44.5" r="0.85" fill="#c27a61"/><circle cx="22.9" cy="43" r="0.72" fill="#c17960"/><circle cx="24.2" cy="43.5" r="0.76" fill="#c6876b"/><circle cx="25.4" cy="44.8" r="0.66" fill="#cfaf99"/><circle cx="23.3" cy="43.8" r="0.67" fill="#c89275"/><circle cx="22.6" cy="45" r="0.59" fill="#c37d63"/><circle cx="24.4" cy="42.9" r="0.81" fill="#c9977b"/><circle cx="10" cy="51.7" r="0.9" fill="#c99679"/><circle cx="9.6" cy="50.8" r="0.9" fill="#c1775f"/><circle cx="11.2" cy="50.8" r="0.8" fill="#cca287"/><circle cx="11.4" cy="53" r="0.87" fill="#c89477"/><circle cx="10.5" cy="52.8" r="0.8" fill="#c37d63"/><circle cx="10.5" cy="52.4" r="0.76" fill="#cfaf99"/><circle cx="11.6" cy="53" r="0.75" fill="#c89073"/><circle cx="10.2" cy="50.8" r="0.69" fill="#d0b09b"/><circle cx="23.6" cy="26.4" r="0.68" fill="#d0b09b"/><circle cx="23.5" cy="27" r="0.87" fill="#c78c6f"/><circle cx="23.2" cy="27.5" r="0.66" fill="#c89275"/><circle cx="23.2" cy="27.2" r="0.69" fill="#c6876b"/><circle cx="23.2" cy="25.7" r="0.83" fill="#cca58b"/><circle cx="23.9" cy="26.3" r="0.6" fill="#d0b29c"/><circle cx="17.3" cy="46.1" r="0.72" fill="#ca9b7f"/><circle cx="18.9" cy="45.6" r="0.84" fill="#cca186"/><circle cx="18.1" cy="45.3" r="0.78" fill="#c37d63"/><circle cx="16.1" cy="45.9" r="0.9" fill="#c68b6e"/><circle cx="21.2" cy="22.2" r="0.8" fill="#85a9c4"/><circle cx="22.1" cy="21.5" r="0.57" fill="#97b7c7"/><circle cx="21.4" cy="21.7" r="0.81" fill="#799fc2"/><circle cx="20.5" cy="22.2" r="0.86" fill="#95b5c7"/><circle cx="21" cy="22" r="0.61" fill="#7fa5c3"/><circle cx="19.3" cy="21.7" r="0.74" fill="#6f93c0"/><circle cx="22" cy="59.1" r="0.77" fill="#8cafc5"/><circle cx="21.2" cy="58.6" r="0.71" fill="#80a5c3"/><circle cx="21.2" cy="58.4" r="0.87" fill="#8cafc5"/><circle cx="25.9" cy="38.1" r="0.89" fill="#a4beca"/><circle cx="27.3" cy="39.5" r="0.77" fill="#799fc2"/><circle cx="26.7" cy="39.3" r="0.84" fill="#84a8c4"/><circle cx="26.8" cy="38.2" r="0.65" fill="#769cc1"/><circle cx="26.9" cy="38.4" r="0.71" fill="#7196c1"/><circle cx="25.8" cy="39" r="0.68" fill="#9ebbc9"/><circle cx="25" cy="33" r="0.89" fill="#80a5c3"/><circle cx="23.8" cy="32" r="0.7" fill="#6f93c0"/><circle cx="24.1" cy="32.6" r="0.59" fill="#7fa5c3"/><circle cx="20.4" cy="31" r="0.77" fill="#5c379c"/><circle cx="20.5" cy="30.9" r="0.8" fill="#4f1972"/><circle cx="19.3" cy="31.5" r="0.84" fill="#5e51ad"/><circle cx="20.8" cy="31.7" r="0.71" fill="#5c379c"/><circle cx="19.3" cy="31.3" r="0.7" fill="#5e49a9"/><circle cx="18.5" cy="31.3" r="0.81" fill="#5e4ba9"/><circle cx="19.8" cy="30.3" r="0.7" fill="#5c359a"/><circle cx="24" cy="35.1" r="0.86" fill="#5d3ea1"/><circle cx="23.5" cy="35.9" r="0.61" fill="#562284"/><circle cx="21.6" cy="35.3" r="0.67" fill="#5e4fac"/><circle cx="21.7" cy="35.4" r="0.88" fill="#5d3ca0"/><circle cx="23.6" cy="36.2" r="0.8" fill="#541e7e"/><circle cx="17.2" cy="24.5" r="0.68" fill="#5e46a6"/><circle cx="16.6" cy="23.4" r="0.64" fill="#5b3095"/><circle cx="16.2" cy="23.5" r="0.87" fill="#5e4fac"/><circle cx="34.5" cy="21.4" r="0.65" fill="#5d3ca0"/><circle cx="34.7" cy="21.6" r="0.65" fill="#511a75"/><circle cx="33.5" cy="21.7" r="0.72" fill="#4f1972"/><circle cx="15" cy="38.1" r="0.64" fill="#5d3a9e"/><circle cx="14.7" cy="38.2" r="0.55" fill="#521c79"/><circle cx="15" cy="38.6" r="0.74" fill="#5e47a7"/><circle cx="28.3" cy="18.9" r="0.83" fill="#301437"/><circle cx="27.8" cy="19" r="0.8" fill="#371139"/><circle cx="28.3" cy="19.2" r="0.82" fill="#381145"/><circle cx="27.9" cy="19.3" r="0.65" fill="#3a1149"/><circle cx="27.9" cy="19" r="0.87" fill="#301437"/><circle cx="22" cy="28.7" r="0.9" fill="#351140"/><circle cx="23.3" cy="28.9" r="0.58" fill="#411254"/><circle cx="22.4" cy="28.5" r="0.86" fill="#44123f"/><circle cx="27.2" cy="24.5" r="0.66" fill="#321237"/><circle cx="28" cy="25" r="0.59" fill="#3c113b"/><circle cx="27.6" cy="23.5" r="0.6" fill="#42123e"/><circle cx="18.1" cy="35" r="0.65" fill="#381139"/><circle cx="18.4" cy="34.2" r="0.75" fill="#3a1149"/></g><g opacity="0.95" filter="url(#b08)"><circle cx="33.7" cy="33.2" r="6.4" fill="#ca9a7d"/><path d="M33.7,33.2 L27.6,36.7 A7.0,7.0 0 0 1 29.2,27.8 Z" fill="#c0755e"/><path d="M33.7,33.2 L29.7,28.5 A6.2,6.2 0 0 1 36.8,27.8 Z" fill="#d7c3b8"/><path d="M33.7,33.2 L36.9,27.7 A6.4,6.4 0 0 1 39.5,30.5 Z" fill="#711d4f"/><path d="M33.7,33.2 L40.4,30.1 A7.4,7.4 0 0 1 39.4,38.0 Z" fill="#381145"/><path d="M33.7,33.2 L38.9,37.6 A6.8,6.8 0 0 1 35.5,39.8 Z" fill="#9f3c50"/><path d="M33.7,33.2 L35.5,40.0 A7.0,7.0 0 0 1 30.2,39.3 Z" fill="#d0b39e"/><path d="M33.7,33.2 L30.1,39.4 A7.2,7.2 0 0 1 27.5,36.8 Z" fill="#d2d5db"/></g><g opacity="0.90" filter="url(#b08)"><ellipse cx="38.4" cy="33" rx="2.7" ry="3.1" fill="#381145"/><circle cx="40" cy="32.2" r="1.7" fill="#531e7c"/><circle cx="37.6" cy="34.6" r="1.3" fill="#361138"/><circle cx="30.4" cy="37" r="1.8" fill="#d7d7dd"/><circle cx="28.2" cy="38" r="1.2" fill="#97b7c7"/><circle cx="32.6" cy="38.6" r="1.1" fill="#a6bfca"/><circle cx="29.8" cy="31" r="2" fill="#c48166"/><circle cx="31.5" cy="29" r="1.2" fill="#bb6857"/></g><rect x=".5" y=".5" width="65.5" height="65.0" fill="none" stroke="#4e3c58" stroke-opacity="0.80"/></svg>
<svg x="519.1" y="383.5" width="66.5" height="66.0" viewBox="0 0 66.5 66.0" overflow="hidden"><rect width="67" height="66" fill="#7f6789"/><rect width="67" height="66" filter="url(#nzAzS5)" opacity="0.5"/><rect width="67" height="66" filter="url(#nzAzS5b)" opacity="0.16"/><g opacity="0.60" filter="url(#b08)"><path d="M43,21 L44.7,22.5 L46.8,26.2 L50.5,29 L53,28" fill="none" stroke="#44135a" stroke-width="1.7" stroke-linecap="round" stroke-linejoin="round"/><path d="M46.8,26.2 L45,29.5 L43.2,32.7 L41,34 L40,36" fill="none" stroke="#44135a" stroke-width="1.7" stroke-linecap="round" stroke-linejoin="round"/><path d="M51.2,19 L52.5,17.5" fill="none" stroke="#44135a" stroke-width="1.7" stroke-linecap="round" stroke-linejoin="round"/><path d="M43.2,32.7 L44.5,36.5 L45.4,40 L46,43" fill="none" stroke="#44135a" stroke-width="1.7" stroke-linecap="round" stroke-linejoin="round"/><path d="M42.5,47.3 L41.5,46" fill="none" stroke="#44135a" stroke-width="1.7" stroke-linecap="round" stroke-linejoin="round"/><path d="M27.2,35.6 L25.5,37 L24.3,38.5 L23,41" fill="none" stroke="#44135a" stroke-width="1.7" stroke-linecap="round" stroke-linejoin="round"/><path d="M28.7,19 L31,20" fill="none" stroke="#44135a" stroke-width="1.7" stroke-linecap="round" stroke-linejoin="round"/><path d="M33,24 L34,25.5" fill="none" stroke="#44135a" stroke-width="1.7" stroke-linecap="round" stroke-linejoin="round"/><path d="M33.5,37 L35.2,37.8 L37,39.5" fill="none" stroke="#44135a" stroke-width="1.7" stroke-linecap="round" stroke-linejoin="round"/><path d="M20,25.5 L21.4,27.6 L20.7,30.5 L20,33.5" fill="none" stroke="#711d4f" stroke-width="1.7" stroke-linecap="round" stroke-linejoin="round"/><path d="M23,41 L22.8,43 L21.5,46.5" fill="none" stroke="#711d4f" stroke-width="1.7" stroke-linecap="round" stroke-linejoin="round"/><path d="M8,41 L11.2,40.7 L14,41.5" fill="none" stroke="#711d4f" stroke-width="1.7" stroke-linecap="round" stroke-linejoin="round"/><path d="M9.7,43 L13,44.5 L17,44 L19.2,46.5" fill="none" stroke="#711d4f" stroke-width="1.7" stroke-linecap="round" stroke-linejoin="round"/></g><g opacity="0.70" filter="url(#b08)"><ellipse cx="46.8" cy="26.2" rx="3.2" ry="2" fill="#401253"/><ellipse cx="50.5" cy="29" rx="2" ry="1.8" fill="#401253"/><ellipse cx="44.7" cy="22.5" rx="1.5" ry="1.8" fill="#401253"/><ellipse cx="51.2" cy="19" rx="1.2" ry="1.4" fill="#401253"/><ellipse cx="63.6" cy="13" rx="1.1" ry="1.4" fill="#401253"/><ellipse cx="28.7" cy="19" rx="1.8" ry="1.1" fill="#401253"/><ellipse cx="33" cy="24" rx="1.4" ry="1.2" fill="#401253"/><ellipse cx="45.4" cy="40" rx="1.2" ry="2" fill="#401253"/><ellipse cx="42.5" cy="47.3" rx="1.5" ry="1.4" fill="#401253"/><ellipse cx="54.8" cy="40.7" rx="1.1" ry="1.5" fill="#401253"/><ellipse cx="35.2" cy="37.8" rx="1.8" ry="1.4" fill="#401253"/><ellipse cx="27.2" cy="35.6" rx="1.8" ry="1.8" fill="#401253"/><ellipse cx="24.3" cy="38.5" rx="2" ry="2.2" fill="#401253"/><ellipse cx="24.3" cy="58" rx="1" ry="1" fill="#401253"/><ellipse cx="13.4" cy="62.5" rx="1" ry="1" fill="#401253"/><ellipse cx="61.4" cy="51" rx="1" ry="1.1" fill="#401253"/><ellipse cx="54" cy="23.5" rx="1.2" ry="1" fill="#401253"/><ellipse cx="41" cy="33.5" rx="1.2" ry="2" fill="#401253"/><ellipse cx="21.4" cy="27.6" rx="2.2" ry="2" fill="#561546"/><ellipse cx="43.2" cy="32.7" rx="2" ry="2" fill="#561546"/><ellipse cx="11.2" cy="40.7" rx="2.5" ry="1.4" fill="#561546"/><ellipse cx="20" cy="33.5" rx="1.5" ry="2" fill="#561546"/><ellipse cx="47" cy="30.5" rx="2" ry="1.2" fill="#561546"/><ellipse cx="20.7" cy="30.5" rx="2" ry="1.2" fill="#9f3c50"/><ellipse cx="22.8" cy="43" rx="2" ry="2" fill="#9f3c50"/><ellipse cx="9.7" cy="43" rx="2.5" ry="1.2" fill="#9f3c50"/><ellipse cx="21.5" cy="46.5" rx="1.4" ry="1.8" fill="#9f3c50"/><ellipse cx="17" cy="42" rx="1.8" ry="1.2" fill="#9f3c50"/><ellipse cx="19.2" cy="46.5" rx="2" ry="1.1" fill="#cda68c"/><ellipse cx="13" cy="44.5" rx="1.8" ry="1" fill="#cda68c"/></g><g opacity="0.75"><circle cx="44.4" cy="26.2" r="0.59" fill="#3e1150"/><circle cx="48.8" cy="26.6" r="0.63" fill="#421257"/><circle cx="47.1" cy="25.9" r="0.61" fill="#431359"/><circle cx="47.5" cy="25.2" r="0.8" fill="#381139"/><circle cx="47" cy="27.3" r="0.62" fill="#321237"/><circle cx="49" cy="26.4" r="0.69" fill="#351140"/><circle cx="47.8" cy="27.6" r="0.68" fill="#3a1149"/><circle cx="48.7" cy="25.7" r="0.68" fill="#471461"/><circle cx="48.7" cy="25.5" r="0.8" fill="#361141"/><circle cx="47.6" cy="25.9" r="0.7" fill="#341238"/><circle cx="45.7" cy="25.1" r="0.81" fill="#3a1148"/><circle cx="45.2" cy="25.8" r="0.93" fill="#45135c"/><circle cx="50.5" cy="29.8" r="0.61" fill="#33113d"/><circle cx="50.1" cy="28.8" r="0.65" fill="#371139"/><circle cx="50.3" cy="30.1" r="0.72" fill="#4c1669"/><circle cx="51.8" cy="28.8" r="0.65" fill="#34113f"/><circle cx="50.1" cy="30.2" r="0.56" fill="#3b114a"/><circle cx="49.6" cy="28.1" r="0.59" fill="#511b77"/><circle cx="49.3" cy="29.3" r="0.74" fill="#511a75"/><circle cx="44.6" cy="23.7" r="0.76" fill="#3a113a"/><circle cx="45.6" cy="22.9" r="0.79" fill="#3b114a"/><circle cx="45.4" cy="22.8" r="0.68" fill="#4c1669"/><circle cx="44.9" cy="22.1" r="0.56" fill="#381139"/><circle cx="45.6" cy="22.2" r="0.75" fill="#301437"/><circle cx="51.7" cy="19.2" r="0.75" fill="#4e186f"/><circle cx="51.8" cy="18.4" r="0.64" fill="#33113d"/><circle cx="51.6" cy="18.3" r="0.9" fill="#321237"/><circle cx="62.8" cy="12.7" r="0.9" fill="#44135a"/><circle cx="63.7" cy="13.4" r="0.84" fill="#331237"/><circle cx="62.7" cy="12.7" r="0.68" fill="#471461"/><circle cx="28" cy="19.6" r="0.73" fill="#39113a"/><circle cx="27.8" cy="19.6" r="0.84" fill="#371143"/><circle cx="29.8" cy="18.9" r="0.91" fill="#3d113c"/><circle cx="28.5" cy="18.4" r="0.66" fill="#3a113a"/><circle cx="32.3" cy="24.8" r="0.67" fill="#481563"/><circle cx="33.8" cy="23.7" r="0.61" fill="#3a1149"/><circle cx="33.1" cy="24.7" r="0.81" fill="#301338"/><circle cx="46.2" cy="39" r="0.68" fill="#421257"/><circle cx="46.1" cy="39.9" r="0.84" fill="#4c176b"/><circle cx="45.6" cy="40.8" r="0.72" fill="#3b114a"/><circle cx="46" cy="39" r="0.75" fill="#3b113b"/><circle cx="46.4" cy="39.9" r="0.63" fill="#411256"/><circle cx="43" cy="47.4" r="0.89" fill="#501a74"/><circle cx="42.4" cy="47.2" r="0.88" fill="#511a75"/><circle cx="41.8" cy="46.5" r="0.7" fill="#3a1148"/><circle cx="43.5" cy="46.8" r="0.9" fill="#34113f"/><circle cx="55.2" cy="39.7" r="0.76" fill="#311339"/><circle cx="54.6" cy="40.2" r="0.84" fill="#3d114d"/><circle cx="54.9" cy="39.9" r="0.89" fill="#3d114d"/><circle cx="35.3" cy="37.2" r="0.81" fill="#411254"/><circle cx="35.5" cy="37.9" r="0.82" fill="#471461"/><circle cx="34.9" cy="38.6" r="0.87" fill="#531e7c"/><circle cx="34.3" cy="38.4" r="0.63" fill="#4f1972"/><circle cx="36.1" cy="37.5" r="0.89" fill="#521c79"/><circle cx="26.1" cy="35.6" r="0.59" fill="#321237"/><circle cx="26" cy="35.5" r="0.81" fill="#2f1436"/><circle cx="28.4" cy="35.2" r="0.94" fill="#4f1970"/><circle cx="28.1" cy="36.2" r="0.63" fill="#431359"/><circle cx="25.9" cy="35.7" r="0.58" fill="#3a113a"/><circle cx="26.5" cy="36.8" r="0.73" fill="#34113f"/><circle cx="24.1" cy="39.9" r="0.72" fill="#31123a"/><circle cx="25.5" cy="38.7" r="0.89" fill="#34113f"/><circle cx="23.8" cy="37.4" r="0.62" fill="#311339"/><circle cx="25" cy="38.9" r="0.85" fill="#3b114a"/><circle cx="23" cy="38.4" r="0.82" fill="#3d114e"/><circle cx="24.2" cy="37.7" r="0.85" fill="#4f1972"/><circle cx="25" cy="39.5" r="0.67" fill="#301437"/><circle cx="24.9" cy="37.4" r="0.6" fill="#531e7c"/><circle cx="23.1" cy="39.5" r="0.79" fill="#381139"/><circle cx="24.5" cy="57.3" r="0.85" fill="#501a74"/><circle cx="23.8" cy="58" r="0.65" fill="#341238"/><circle cx="12.8" cy="62.6" r="0.8" fill="#46145e"/><circle cx="12.9" cy="62.5" r="0.7" fill="#34113e"/><circle cx="61.3" cy="51.1" r="0.84" fill="#2f1436"/><circle cx="61.9" cy="51.4" r="0.84" fill="#531e7c"/><circle cx="53.4" cy="23.2" r="0.85" fill="#361141"/><circle cx="53.4" cy="23" r="0.88" fill="#33113d"/><circle cx="40.6" cy="34.1" r="0.87" fill="#3d114d"/><circle cx="40.1" cy="33.7" r="0.7" fill="#501a74"/><circle cx="40.3" cy="32.6" r="0.88" fill="#44135a"/><circle cx="40.7" cy="33.9" r="0.94" fill="#491564"/><circle cx="41.6" cy="32.8" r="0.85" fill="#361142"/><circle cx="20" cy="27.8" r="0.92" fill="#832550"/><circle cx="20.1" cy="28.6" r="0.68" fill="#792050"/><circle cx="22.6" cy="27.4" r="0.83" fill="#501444"/><circle cx="20.8" cy="28" r="0.94" fill="#872750"/><circle cx="19.8" cy="27.6" r="0.67" fill="#521545"/><circle cx="22.8" cy="28.2" r="0.75" fill="#852650"/><circle cx="22" cy="28.1" r="0.93" fill="#761f4f"/><circle cx="20.7" cy="27.2" r="0.75" fill="#701c4e"/><circle cx="20.7" cy="28.4" r="0.85" fill="#751e4f"/><circle cx="42.6" cy="33.5" r="0.75" fill="#741e4f"/><circle cx="42.4" cy="32.3" r="0.62" fill="#67194c"/><circle cx="42.6" cy="33.6" r="0.92" fill="#721d4f"/><circle cx="42.5" cy="31.6" r="0.9" fill="#6b1b4d"/><circle cx="42.1" cy="33.1" r="0.57" fill="#571647"/><circle cx="43.3" cy="33.8" r="0.91" fill="#751e4f"/><circle cx="42.2" cy="32.6" r="0.81" fill="#5d1749"/><circle cx="42.6" cy="31.5" r="0.56" fill="#7e2250"/><circle cx="13" cy="40.7" r="0.94" fill="#802350"/><circle cx="9.8" cy="40.6" r="0.78" fill="#711d4f"/><circle cx="12.1" cy="40.7" r="0.77" fill="#67194c"/><circle cx="11.4" cy="40" r="0.93" fill="#591648"/><circle cx="10.8" cy="41.3" r="0.82" fill="#8a2950"/><circle cx="10" cy="40.3" r="0.91" fill="#882850"/><circle cx="12.9" cy="40.7" r="0.68" fill="#691a4d"/><circle cx="20.6" cy="34.3" r="0.85" fill="#63184b"/><circle cx="18.9" cy="33.4" r="0.84" fill="#792050"/><circle cx="21.2" cy="33.8" r="0.81" fill="#6b1b4d"/><circle cx="19.8" cy="33.9" r="0.67" fill="#6b1b4d"/><circle cx="20.5" cy="33.4" r="0.67" fill="#521545"/><circle cx="18.9" cy="33" r="0.86" fill="#7d2150"/><circle cx="45.9" cy="30.5" r="0.93" fill="#721d4f"/><circle cx="47.1" cy="31.4" r="0.82" fill="#812450"/><circle cx="46" cy="30" r="0.89" fill="#7e2250"/><circle cx="47.9" cy="30.9" r="0.6" fill="#852650"/><circle cx="47.2" cy="29.7" r="0.74" fill="#781f4f"/><circle cx="19.9" cy="30.6" r="0.68" fill="#a54350"/><circle cx="20.2" cy="31.4" r="0.88" fill="#b65e54"/><circle cx="21.6" cy="30.6" r="0.74" fill="#8e2c50"/><circle cx="20.1" cy="30.6" r="0.68" fill="#8f2d50"/><circle cx="20.8" cy="29.6" r="0.58" fill="#b65e54"/><circle cx="23.7" cy="44.2" r="0.89" fill="#a94950"/><circle cx="22.5" cy="43.4" r="0.7" fill="#9f3c50"/><circle cx="24.2" cy="42.6" r="0.61" fill="#a94950"/><circle cx="23" cy="44" r="0.7" fill="#912f50"/><circle cx="22.8" cy="42.2" r="0.84" fill="#8f2d50"/><circle cx="22.5" cy="43.6" r="0.83" fill="#9b3850"/><circle cx="24.1" cy="42.2" r="0.56" fill="#902e50"/><circle cx="23.1" cy="44.1" r="0.77" fill="#a24050"/><circle cx="9.1" cy="43.5" r="0.85" fill="#b65d54"/><circle cx="9.4" cy="42" r="0.76" fill="#a94850"/><circle cx="9.5" cy="43.7" r="0.83" fill="#ac4d51"/><circle cx="10.7" cy="43.1" r="0.73" fill="#8c2a50"/><circle cx="7.7" cy="43.2" r="0.62" fill="#b65e54"/><circle cx="9.8" cy="42.6" r="0.74" fill="#b15452"/><circle cx="20.9" cy="46.5" r="0.68" fill="#9c3950"/><circle cx="22" cy="47.5" r="0.84" fill="#b15452"/><circle cx="22.1" cy="47.4" r="0.66" fill="#b35953"/><circle cx="22.1" cy="46.6" r="0.73" fill="#a24050"/><circle cx="21.3" cy="46.4" r="0.82" fill="#a24050"/><circle cx="16.6" cy="41.5" r="0.7" fill="#b25652"/><circle cx="17.2" cy="42.7" r="0.64" fill="#a13f50"/><circle cx="16.3" cy="41.2" r="0.89" fill="#ab4b50"/><circle cx="16.7" cy="42.5" r="0.84" fill="#933050"/><circle cx="19.5" cy="46" r="0.89" fill="#c17960"/><circle cx="19.2" cy="45.8" r="0.6" fill="#c6876b"/><circle cx="20.5" cy="46.9" r="0.87" fill="#cfad96"/><circle cx="20.4" cy="46.2" r="0.74" fill="#c5866a"/><circle cx="18.8" cy="45.7" r="0.79" fill="#cfaf99"/><circle cx="11.8" cy="44.9" r="0.7" fill="#c58569"/><circle cx="13.1" cy="44.9" r="0.67" fill="#ca9c80"/><circle cx="13.7" cy="43.8" r="0.82" fill="#c68b6e"/><circle cx="12.3" cy="44.4" r="0.7" fill="#cda68c"/><circle cx="28.6" cy="35.4" r="0.7" fill="#a6bfca"/><circle cx="29.2" cy="34.6" r="0.6" fill="#c5cfd5"/></g><rect x=".5" y=".5" width="65.5" height="65.0" fill="none" stroke="#4e3c58" stroke-opacity="0.80"/></svg>
<svg x="590.7" y="238.7" width="66.5" height="66.0" viewBox="0 0 66.5 66.0" overflow="hidden"><rect width="67" height="66" fill="#c05cae"/><rect width="67" height="66" filter="url(#nzAzD0)" opacity="0.6"/><rect width="67" height="66" filter="url(#nzAzD0b)" opacity="0.12"/><g opacity="0.60" filter="url(#b08)"><ellipse cx="14" cy="8" rx="2.2" ry="1.4" fill="#fff"/><ellipse cx="17.5" cy="11" rx="1.2" ry="1.9" fill="#fff"/><ellipse cx="13" cy="17" rx="1.2" ry="1.9" fill="#fff"/><ellipse cx="10.5" cy="25" rx="1.1" ry="2.4" fill="#fff"/><ellipse cx="7" cy="5" rx="1.2" ry="1.2" fill="#fff"/><ellipse cx="2" cy="3" rx="1.2" ry="1.9" fill="#fff"/><ellipse cx="21" cy="9.5" rx="1" ry="1.4" fill="#fff"/><ellipse cx="29.5" cy="25" rx="2.2" ry="3.1" fill="#fff"/><ellipse cx="33.5" cy="31" rx="1.6" ry="2.9" fill="#fff"/><ellipse cx="36.8" cy="36.5" rx="1.4" ry="2.9" fill="#fff"/><ellipse cx="27" cy="22" rx="1.2" ry="1.2" fill="#fff"/></g><g opacity="0.85"><circle cx="13.4" cy="8.8" r="0.55" fill="#ffffff"/><circle cx="14.8" cy="6.9" r="0.66" fill="#ffffff"/><circle cx="12.6" cy="7.9" r="0.75" fill="#f6e4f2"/><circle cx="12.3" cy="7.8" r="0.73" fill="#ffffff"/><circle cx="13.6" cy="8.4" r="0.69" fill="#ffffff"/><circle cx="12.9" cy="8.6" r="0.94" fill="#fbeff8"/><circle cx="18" cy="10.3" r="0.93" fill="#f6e4f2"/><circle cx="18.3" cy="11.2" r="0.61" fill="#f6e4f2"/><circle cx="17.9" cy="10.3" r="0.78" fill="#fbeff8"/><circle cx="17.1" cy="11.8" r="0.58" fill="#ffffff"/><circle cx="17.8" cy="11.3" r="0.74" fill="#f6e4f2"/><circle cx="12.5" cy="16.5" r="0.93" fill="#ffffff"/><circle cx="12.8" cy="17.7" r="0.78" fill="#fbeff8"/><circle cx="12.5" cy="16.8" r="0.82" fill="#f6e4f2"/><circle cx="12.4" cy="16.1" r="0.83" fill="#ffffff"/><circle cx="13.4" cy="17.2" r="0.74" fill="#f6e4f2"/><circle cx="10.9" cy="23.5" r="0.9" fill="#ffffff"/><circle cx="10.5" cy="25.7" r="0.57" fill="#f6e4f2"/><circle cx="10.2" cy="25.1" r="0.79" fill="#ffffff"/><circle cx="11.1" cy="25" r="0.88" fill="#fbeff8"/><circle cx="10.8" cy="24.2" r="0.76" fill="#fbeff8"/><circle cx="6.5" cy="4.5" r="0.91" fill="#ffffff"/><circle cx="7.6" cy="4.9" r="0.73" fill="#f6e4f2"/><circle cx="6.1" cy="4.6" r="0.93" fill="#f6e4f2"/><circle cx="2.6" cy="3.1" r="0.58" fill="#ffffff"/><circle cx="1.5" cy="4.2" r="0.61" fill="#fbeff8"/><circle cx="1.7" cy="1.9" r="0.69" fill="#fbeff8"/><circle cx="2.6" cy="3.3" r="0.78" fill="#f6e4f2"/><circle cx="1.6" cy="2.3" r="0.85" fill="#f6e4f2"/><circle cx="21.1" cy="8.5" r="0.81" fill="#fbeff8"/><circle cx="20.6" cy="10" r="0.9" fill="#fbeff8"/><circle cx="21.3" cy="9.5" r="0.73" fill="#fbeff8"/><circle cx="31" cy="26.1" r="0.75" fill="#fbeff8"/><circle cx="29.4" cy="22.7" r="0.78" fill="#fbeff8"/><circle cx="28.5" cy="26.1" r="0.75" fill="#ffffff"/><circle cx="29" cy="24.4" r="0.78" fill="#f6e4f2"/><circle cx="30.5" cy="24.1" r="0.61" fill="#ffffff"/><circle cx="29.9" cy="26.6" r="0.56" fill="#ffffff"/><circle cx="31.2" cy="25.2" r="0.61" fill="#f6e4f2"/><circle cx="29.6" cy="22.9" r="0.82" fill="#fbeff8"/><circle cx="29.2" cy="25" r="0.7" fill="#fbeff8"/><circle cx="30.2" cy="25.9" r="0.81" fill="#f6e4f2"/><circle cx="30.4" cy="24.7" r="0.92" fill="#ffffff"/><circle cx="29.2" cy="23.5" r="0.66" fill="#f6e4f2"/><circle cx="29.7" cy="22.6" r="0.76" fill="#fbeff8"/><circle cx="29.7" cy="24.5" r="0.66" fill="#f6e4f2"/><circle cx="33.4" cy="29.1" r="0.83" fill="#fbeff8"/><circle cx="33.5" cy="30.4" r="0.65" fill="#f6e4f2"/><circle cx="33.6" cy="32.3" r="0.68" fill="#ffffff"/><circle cx="33" cy="32.6" r="0.81" fill="#fbeff8"/><circle cx="34.2" cy="29.9" r="0.88" fill="#f6e4f2"/><circle cx="33.1" cy="29.4" r="0.59" fill="#fbeff8"/><circle cx="34.6" cy="30.2" r="0.93" fill="#f6e4f2"/><circle cx="34.1" cy="29.5" r="0.74" fill="#f6e4f2"/><circle cx="32.4" cy="30.3" r="0.89" fill="#f6e4f2"/><circle cx="36.8" cy="38.4" r="0.58" fill="#fbeff8"/><circle cx="36.5" cy="36.9" r="0.89" fill="#ffffff"/><circle cx="36.2" cy="36.2" r="0.72" fill="#f6e4f2"/><circle cx="37.8" cy="37.7" r="0.81" fill="#f6e4f2"/><circle cx="36.9" cy="35.5" r="0.79" fill="#f6e4f2"/><circle cx="37.8" cy="37.4" r="0.69" fill="#f6e4f2"/><circle cx="35.9" cy="36.7" r="0.7" fill="#ffffff"/><circle cx="36.9" cy="35" r="0.77" fill="#fbeff8"/><circle cx="36.8" cy="37.6" r="0.84" fill="#fbeff8"/><circle cx="26.7" cy="21.9" r="0.68" fill="#ffffff"/><circle cx="26.6" cy="21.7" r="0.62" fill="#f6e4f2"/><circle cx="27.4" cy="21.1" r="0.62" fill="#f6e4f2"/><circle cx="27.8" cy="62.8" r="0.75" fill="#f6e4f2"/><circle cx="23.7" cy="39.1" r="0.79" fill="#ffffff"/><circle cx="45.6" cy="49.7" r="0.6" fill="#fbeff8"/><circle cx="28.4" cy="52.8" r="0.69" fill="#ffffff"/><circle cx="32.5" cy="60" r="0.58" fill="#f6e4f2"/><circle cx="39.7" cy="51.2" r="0.76" fill="#f6e4f2"/><circle cx="53.9" cy="34.9" r="0.66" fill="#ffffff"/><circle cx="6.6" cy="36.2" r="0.75" fill="#ffffff"/><circle cx="62.7" cy="17.9" r="0.66" fill="#ffffff"/><circle cx="25" cy="42.3" r="0.79" fill="#f6e4f2"/><circle cx="29.7" cy="26.7" r="0.63" fill="#fbeff8"/><circle cx="38" cy="34.8" r="0.74" fill="#fbeff8"/></g><g opacity="0.80"><circle cx="38.2" cy="38.4" r="0.7" fill="#3030d0"/><circle cx="37.6" cy="35.4" r="0.6" fill="#4040d8"/></g><path d="M0,33.6 Q7,50.5 16.6,66" fill="none" stroke="#f0a0c0" stroke-width="1.2" opacity="0.6"/><path d="M0,33.6 Q7,50.5 16.6,66 L0,66 Z" fill="#000"/><rect x=".5" y=".5" width="65.5" height="65.0" fill="none" stroke="#7a4a78" stroke-opacity="0.80"/></svg>
<svg x="590.7" y="311.1" width="66.5" height="66.0" viewBox="0 0 66.5 66.0" overflow="hidden"><rect width="67" height="66" fill="#cf8cc8"/><rect width="67" height="66" filter="url(#nzAzD1)" opacity="0.6"/><rect width="67" height="66" filter="url(#nzAzD1b)" opacity="0.12"/><g opacity="0.75" filter="url(#b08)"><ellipse cx="28.4" cy="18.6" rx="2.4" ry="1.7" fill="#fff"/><ellipse cx="30.5" cy="24.4" rx="2.6" ry="1.7" fill="#fff"/><ellipse cx="20.4" cy="31.7" rx="1.9" ry="2.2" fill="#fff"/><ellipse cx="25.5" cy="28" rx="1.9" ry="1.7" fill="#fff"/><ellipse cx="34" cy="21" rx="1.4" ry="1.4" fill="#fff"/><ellipse cx="23" cy="36.5" rx="1.7" ry="1.4" fill="#fff"/><ellipse cx="27.5" cy="33" rx="1.9" ry="1.7" fill="#fff"/><circle cx="37.2" cy="32.6" r="3.4" fill="#fff"/></g><g opacity="0.70"><circle cx="29.8" cy="19.1" r="0.9" fill="#fbeff8"/><circle cx="27.9" cy="17.6" r="0.66" fill="#f6e4f2"/><circle cx="27.8" cy="17.6" r="0.89" fill="#f6e4f2"/><circle cx="28.1" cy="18" r="0.6" fill="#ffffff"/><circle cx="28.1" cy="18" r="0.83" fill="#fbeff8"/><circle cx="29.4" cy="18.9" r="0.73" fill="#f6e4f2"/><circle cx="29.7" cy="18.7" r="0.64" fill="#fbeff8"/><circle cx="29.6" cy="25" r="0.72" fill="#ffffff"/><circle cx="29.6" cy="25.2" r="0.61" fill="#fbeff8"/><circle cx="31.9" cy="23.8" r="0.6" fill="#ffffff"/><circle cx="31.7" cy="24.6" r="0.57" fill="#ffffff"/><circle cx="31" cy="24" r="0.57" fill="#fbeff8"/><circle cx="28.5" cy="24.5" r="0.74" fill="#f6e4f2"/><circle cx="32" cy="23.4" r="0.63" fill="#fbeff8"/><circle cx="19.1" cy="31.2" r="0.64" fill="#fbeff8"/><circle cx="20.8" cy="31.6" r="0.66" fill="#fbeff8"/><circle cx="20.1" cy="30.9" r="0.84" fill="#f6e4f2"/><circle cx="20.2" cy="33.4" r="0.6" fill="#ffffff"/><circle cx="19.3" cy="32.4" r="0.57" fill="#fbeff8"/><circle cx="20.7" cy="33" r="0.66" fill="#f6e4f2"/><circle cx="21.3" cy="30.4" r="0.62" fill="#fbeff8"/><circle cx="25.9" cy="27.4" r="0.76" fill="#ffffff"/><circle cx="25.7" cy="27" r="0.72" fill="#ffffff"/><circle cx="25.1" cy="28.3" r="0.86" fill="#f6e4f2"/><circle cx="26.8" cy="27.8" r="0.66" fill="#fbeff8"/><circle cx="24.1" cy="27.5" r="0.56" fill="#f6e4f2"/><circle cx="32.9" cy="21.1" r="0.73" fill="#fbeff8"/><circle cx="34.4" cy="20" r="0.67" fill="#ffffff"/><circle cx="34.8" cy="20.8" r="0.7" fill="#fbeff8"/><circle cx="24.2" cy="36.7" r="0.77" fill="#fbeff8"/><circle cx="22.8" cy="35.5" r="0.79" fill="#ffffff"/><circle cx="23.6" cy="37.1" r="0.59" fill="#fbeff8"/><circle cx="22.1" cy="35.8" r="0.77" fill="#fbeff8"/><circle cx="28.4" cy="32.1" r="0.75" fill="#ffffff"/><circle cx="26.8" cy="32.9" r="0.59" fill="#fbeff8"/><circle cx="27.8" cy="32.7" r="0.89" fill="#fbeff8"/><circle cx="27.6" cy="33.5" r="0.77" fill="#ffffff"/><circle cx="26.8" cy="34.2" r="0.55" fill="#f6e4f2"/></g><g opacity="0.65"><circle cx="2.2" cy="29.7" r="0.8" fill="#c83070"/><circle cx="3.2" cy="30.1" r="0.72" fill="#b03080"/><circle cx="4.7" cy="30.7" r="0.69" fill="#e04858"/><circle cx="3" cy="29.6" r="0.8" fill="#c83070"/><circle cx="4.2" cy="29.8" r="0.54" fill="#e04858"/><circle cx="7.3" cy="51.2" r="0.76" fill="#e04858"/><circle cx="9.1" cy="51" r="0.69" fill="#b03080"/><circle cx="8.5" cy="50.4" r="0.59" fill="#d83860"/><circle cx="7.8" cy="51" r="0.55" fill="#b03080"/><circle cx="7.9" cy="51.5" r="0.65" fill="#c83070"/><circle cx="11.3" cy="47.2" r="0.83" fill="#d83860"/><circle cx="11.8" cy="49" r="0.62" fill="#d83860"/><circle cx="12.1" cy="48.6" r="0.72" fill="#e04858"/><circle cx="13.8" cy="47.7" r="0.68" fill="#c83070"/><circle cx="12" cy="47.3" r="0.76" fill="#b03080"/><circle cx="13.6" cy="48.6" r="0.67" fill="#c83070"/><circle cx="16.3" cy="45.3" r="0.75" fill="#e04858"/><circle cx="15.8" cy="45.2" r="0.73" fill="#c83070"/><circle cx="17.5" cy="45.7" r="0.76" fill="#b03080"/><circle cx="17.1" cy="44.9" r="0.51" fill="#c83070"/><circle cx="17.2" cy="45.3" r="0.8" fill="#c83070"/><circle cx="18.3" cy="46.1" r="0.58" fill="#c83070"/><circle cx="19.4" cy="44.9" r="0.67" fill="#b03080"/><circle cx="24.3" cy="42.9" r="0.8" fill="#c83070"/><circle cx="25.2" cy="43.1" r="0.85" fill="#b03080"/><circle cx="22.6" cy="43.7" r="0.76" fill="#e04858"/><circle cx="23.4" cy="42.6" r="0.55" fill="#e04858"/><circle cx="26.1" cy="42.9" r="0.54" fill="#c83070"/><circle cx="25.3" cy="43" r="0.65" fill="#b03080"/><circle cx="24.1" cy="43.5" r="0.83" fill="#c83070"/><circle cx="4.5" cy="40" r="0.6" fill="#c83070"/><circle cx="4.6" cy="41.1" r="0.61" fill="#c83070"/><circle cx="3.4" cy="38.6" r="0.69" fill="#e04858"/><circle cx="4.5" cy="40.3" r="0.68" fill="#e04858"/><circle cx="3.6" cy="38.9" r="0.6" fill="#b03080"/><circle cx="4.2" cy="41.8" r="0.71" fill="#c83070"/><circle cx="4.8" cy="41.3" r="0.78" fill="#b03080"/><circle cx="11.5" cy="33.8" r="0.54" fill="#d83860"/><circle cx="12.2" cy="33.2" r="0.53" fill="#c83070"/><circle cx="13.2" cy="33" r="0.6" fill="#e04858"/><circle cx="12.1" cy="32.5" r="0.65" fill="#d83860"/><circle cx="3" cy="46.8" r="0.51" fill="#4838d8"/><circle cx="2.9" cy="45.6" r="0.7" fill="#4838d8"/><circle cx="2.8" cy="45.1" r="0.77" fill="#4838d8"/><circle cx="21.1" cy="26.7" r="0.79" fill="#4838d8"/><circle cx="20.6" cy="27.2" r="0.58" fill="#4838d8"/><circle cx="21" cy="26" r="0.68" fill="#4838d8"/><circle cx="24.6" cy="31.6" r="0.66" fill="#4838d8"/><circle cx="24.8" cy="32.3" r="0.78" fill="#4838d8"/><circle cx="24.7" cy="32.2" r="0.66" fill="#4838d8"/></g><g opacity="0.85"><path d="M34.8,29.6 L35.2,35.6" stroke="#2828d0" stroke-width="1.1" fill="none"/><path d="M28.6,32 L34.6,32.8" stroke="#c02858" stroke-width="0.9" fill="none"/><path d="M30,33 L34.6,33.4" stroke="#3838c8" stroke-width="0.7" fill="none"/></g><rect x=".5" y=".5" width="65.5" height="65.0" fill="none" stroke="#7a4a78" stroke-opacity="0.80"/></svg>
<svg x="590.7" y="383.5" width="66.5" height="66.0" viewBox="0 0 66.5 66.0" overflow="hidden"><rect width="67" height="66" fill="#cd88c6"/><rect width="67" height="66" filter="url(#nzAzD2)" opacity="0.6"/><rect width="67" height="66" filter="url(#nzAzD2b)" opacity="0.12"/><g opacity="0.60" filter="url(#b08)"><ellipse cx="46" cy="26.5" rx="3" ry="2.3" fill="#fff"/><ellipse cx="50.5" cy="29.5" rx="1.8" ry="2.3" fill="#fff"/><ellipse cx="44" cy="31" rx="1.6" ry="2.8" fill="#fff"/><ellipse cx="22" cy="28.5" rx="1.8" ry="2.8" fill="#fff"/><ellipse cx="23.5" cy="36" rx="1.8" ry="2.8" fill="#fff"/><ellipse cx="23" cy="43" rx="2.3" ry="3.4" fill="#fff"/><ellipse cx="36" cy="37.6" rx="2.8" ry="1.6" fill="#fff"/><ellipse cx="43.5" cy="38" rx="1.1" ry="2.5" fill="#fff"/><ellipse cx="42" cy="46.5" rx="1.4" ry="1.1" fill="#fff"/><ellipse cx="32.5" cy="24.5" rx="1.1" ry="1" fill="#fff"/><ellipse cx="11" cy="41" rx="1.8" ry="1" fill="#fff"/></g><g opacity="0.75"><circle cx="45.7" cy="27.9" r="0.78" fill="#fbeff8"/><circle cx="45.8" cy="27" r="0.71" fill="#f6e4f2"/><circle cx="46.3" cy="27.1" r="0.65" fill="#ffffff"/><circle cx="44.3" cy="27.3" r="0.75" fill="#fbeff8"/><circle cx="46.3" cy="26.9" r="0.66" fill="#f6e4f2"/><circle cx="46.7" cy="28.3" r="0.89" fill="#fbeff8"/><circle cx="45.7" cy="25.3" r="0.67" fill="#ffffff"/><circle cx="46.2" cy="27.4" r="0.87" fill="#fbeff8"/><circle cx="48" cy="25.8" r="0.92" fill="#ffffff"/><circle cx="43.5" cy="26.4" r="0.72" fill="#ffffff"/><circle cx="46.2" cy="25.9" r="0.94" fill="#ffffff"/><circle cx="44.4" cy="26" r="0.86" fill="#fbeff8"/><circle cx="51" cy="28.1" r="0.69" fill="#fbeff8"/><circle cx="50.8" cy="30.7" r="0.87" fill="#fbeff8"/><circle cx="51.2" cy="28.1" r="0.94" fill="#fbeff8"/><circle cx="49.7" cy="30.1" r="0.75" fill="#ffffff"/><circle cx="50.5" cy="30.2" r="0.94" fill="#fbeff8"/><circle cx="51.1" cy="28.5" r="0.83" fill="#ffffff"/><circle cx="49.1" cy="29.6" r="0.59" fill="#f6e4f2"/><circle cx="51.4" cy="28.6" r="0.77" fill="#ffffff"/><circle cx="43.5" cy="29.9" r="0.64" fill="#ffffff"/><circle cx="43.9" cy="29.9" r="0.83" fill="#ffffff"/><circle cx="43" cy="32" r="0.79" fill="#f6e4f2"/><circle cx="43.1" cy="32.1" r="0.82" fill="#ffffff"/><circle cx="44.6" cy="31" r="0.6" fill="#ffffff"/><circle cx="45.1" cy="30.7" r="0.95" fill="#fbeff8"/><circle cx="44.6" cy="32.1" r="0.85" fill="#ffffff"/><circle cx="43.5" cy="30.2" r="0.7" fill="#ffffff"/><circle cx="21.7" cy="30.1" r="0.6" fill="#fbeff8"/><circle cx="21.3" cy="28.7" r="0.75" fill="#fbeff8"/><circle cx="20.7" cy="28.2" r="0.66" fill="#f6e4f2"/><circle cx="23.1" cy="29.3" r="0.75" fill="#f6e4f2"/><circle cx="21.2" cy="27.2" r="0.8" fill="#fbeff8"/><circle cx="22.9" cy="26.7" r="0.83" fill="#fbeff8"/><circle cx="22" cy="28.5" r="0.63" fill="#f6e4f2"/><circle cx="21.8" cy="28.1" r="0.64" fill="#fbeff8"/><circle cx="20.6" cy="28.7" r="0.68" fill="#ffffff"/><circle cx="22.5" cy="36" r="0.87" fill="#f6e4f2"/><circle cx="22.6" cy="37.7" r="0.7" fill="#f6e4f2"/><circle cx="23.4" cy="35" r="0.8" fill="#f6e4f2"/><circle cx="22.2" cy="36.7" r="0.78" fill="#ffffff"/><circle cx="23.5" cy="34.1" r="0.86" fill="#fbeff8"/><circle cx="22.6" cy="34.9" r="0.64" fill="#ffffff"/><circle cx="23.3" cy="35.4" r="0.81" fill="#fbeff8"/><circle cx="23.9" cy="35.1" r="0.83" fill="#f6e4f2"/><circle cx="24" cy="36.8" r="0.89" fill="#ffffff"/><circle cx="23.5" cy="45.6" r="0.56" fill="#fbeff8"/><circle cx="23.2" cy="45.7" r="0.84" fill="#ffffff"/><circle cx="22.9" cy="40.9" r="0.93" fill="#ffffff"/><circle cx="22.9" cy="40.5" r="0.59" fill="#ffffff"/><circle cx="23.3" cy="45.4" r="0.68" fill="#f6e4f2"/><circle cx="23.5" cy="44.4" r="0.72" fill="#ffffff"/><circle cx="23.3" cy="45.3" r="0.85" fill="#ffffff"/><circle cx="24.4" cy="42.5" r="0.83" fill="#fbeff8"/><circle cx="22.9" cy="45.9" r="0.84" fill="#ffffff"/><circle cx="22.9" cy="43.3" r="0.71" fill="#f6e4f2"/><circle cx="21.9" cy="41.7" r="0.56" fill="#f6e4f2"/><circle cx="23.2" cy="45.2" r="0.56" fill="#ffffff"/><circle cx="23.8" cy="43.4" r="0.67" fill="#fbeff8"/><circle cx="22" cy="42.3" r="0.58" fill="#fbeff8"/><circle cx="37.1" cy="37.2" r="0.82" fill="#fbeff8"/><circle cx="34.3" cy="36.9" r="0.55" fill="#fbeff8"/><circle cx="38" cy="38.2" r="0.89" fill="#f6e4f2"/><circle cx="36.2" cy="37.8" r="0.62" fill="#fbeff8"/><circle cx="37.5" cy="36.9" r="0.65" fill="#f6e4f2"/><circle cx="37.3" cy="37.5" r="0.65" fill="#ffffff"/><circle cx="37" cy="38.4" r="0.95" fill="#fbeff8"/><circle cx="36" cy="38.5" r="0.86" fill="#ffffff"/><circle cx="44.1" cy="38.2" r="0.79" fill="#f6e4f2"/><circle cx="42.6" cy="37.9" r="0.65" fill="#f6e4f2"/><circle cx="44.2" cy="37.7" r="0.67" fill="#fbeff8"/><circle cx="43.6" cy="39.4" r="0.59" fill="#ffffff"/><circle cx="43" cy="36.2" r="0.9" fill="#fbeff8"/><circle cx="42.4" cy="47.4" r="0.73" fill="#f6e4f2"/><circle cx="42.6" cy="46.9" r="0.65" fill="#fbeff8"/><circle cx="42.6" cy="46.6" r="0.76" fill="#fbeff8"/><circle cx="32" cy="24.3" r="0.75" fill="#f6e4f2"/><circle cx="33" cy="24.2" r="0.71" fill="#fbeff8"/><circle cx="12" cy="40.7" r="0.84" fill="#f6e4f2"/><circle cx="10.5" cy="40.5" r="0.67" fill="#f6e4f2"/><circle cx="10.7" cy="40.2" r="0.86" fill="#f6e4f2"/><circle cx="22.8" cy="42.7" r="0.59" fill="#ffffff"/><circle cx="27.2" cy="27" r="0.68" fill="#ffffff"/><circle cx="50" cy="23.5" r="0.84" fill="#fbeff8"/><circle cx="17" cy="38.5" r="0.58" fill="#ffffff"/><circle cx="5.2" cy="35.9" r="0.78" fill="#fbeff8"/><circle cx="45.8" cy="23.1" r="0.66" fill="#fbeff8"/><circle cx="57.9" cy="46.7" r="0.68" fill="#ffffff"/><circle cx="13.1" cy="19.8" r="0.64" fill="#f6e4f2"/><circle cx="22.1" cy="27.4" r="0.62" fill="#ffffff"/><circle cx="34.3" cy="26.9" r="0.64" fill="#fbeff8"/><circle cx="26.7" cy="16.6" r="0.55" fill="#f6e4f2"/><circle cx="44" cy="11" r="0.56" fill="#f6e4f2"/><circle cx="39.1" cy="19.7" r="0.77" fill="#f6e4f2"/><circle cx="11.3" cy="45.4" r="0.6" fill="#f6e4f2"/><circle cx="14.6" cy="21.7" r="0.61" fill="#f6e4f2"/><circle cx="39.4" cy="50.8" r="0.67" fill="#ffffff"/><circle cx="-4.4" cy="26.8" r="0.8" fill="#ffffff"/><circle cx="44.3" cy="21.7" r="0.67" fill="#f6e4f2"/><circle cx="30.3" cy="19" r="0.56" fill="#f6e4f2"/><circle cx="17.9" cy="17.7" r="0.58" fill="#f6e4f2"/><circle cx="9.9" cy="26.3" r="0.54" fill="#f6e4f2"/><circle cx="31.3" cy="43.8" r="0.55" fill="#fbeff8"/><circle cx="15.8" cy="22.2" r="0.67" fill="#f6e4f2"/><circle cx="10.9" cy="49.1" r="0.8" fill="#ffffff"/><circle cx="32.8" cy="33.6" r="0.8" fill="#ffffff"/><circle cx="53.6" cy="29" r="0.51" fill="#f6e4f2"/><circle cx="18.1" cy="-2.1" r="0.74" fill="#ffffff"/><circle cx="43" cy="38.7" r="0.53" fill="#ffffff"/><circle cx="24.5" cy="50.7" r="0.67" fill="#f6e4f2"/><circle cx="41.6" cy="27.6" r="0.68" fill="#ffffff"/></g><rect x=".5" y=".5" width="65.5" height="65.0" fill="none" stroke="#7a4a78" stroke-opacity="0.80"/></svg>
<rect x="50.0" y="459.1" width="123.8" height="12.3" fill="url(#gPlasma)" stroke="#808080" stroke-width=".9"/>
<rect x="50.0" y="479.6" width="123.8" height="12.3" fill="url(#gBwr)" stroke="#b0a0b0" stroke-width=".5"/>
<rect x="270.3" y="459.1" width="123.8" height="12.3" fill="url(#gSpectral)" stroke="#808080" stroke-width=".9"/>
<rect x="270.3" y="479.6" width="123.8" height="12.3" fill="url(#gBwr)" stroke="#b0a0b0" stroke-width=".5"/>
<rect x="490.6" y="459.1" width="123.8" height="12.3" fill="url(#gTwilight)" stroke="#808080" stroke-width=".9"/>
<rect x="490.6" y="479.6" width="123.8" height="12.3" fill="url(#gBwr)" stroke="#b0a0b0" stroke-width=".5"/></svg>
<div class="t ti" style="left:111.8px;top:197.4px;width:240px;margin-left:-120px">Field Strength (Mx/cm<sup>2</sup>)</div>
<div class="t ti" style="left:332.0px;top:197.4px;width:240px;margin-left:-120px">Inclination (degrees)</div>
<div class="t ti" style="left:552.0px;top:197.4px;width:240px;margin-left:-120px">Azimuth (degrees)</div>
<div class="t lb" style="left:40.5px;top:219.5px;width:100px;margin-left:-50px"><span>Proposed</span></div>
<div class="t lb" style="left:112.2px;top:219.5px;width:100px;margin-left:-50px"><span>VFISV</span></div>
<div class="t lb" style="left:183.7px;top:219.5px;width:100px;margin-left:-50px"><span>Difference</span></div>
<div class="t lb" style="left:260.9px;top:219.5px;width:100px;margin-left:-50px"><span>Proposed</span></div>
<div class="t lb" style="left:332.6px;top:219.5px;width:100px;margin-left:-50px"><span>VFISV</span></div>
<div class="t lb" style="left:404.1px;top:219.5px;width:100px;margin-left:-50px"><span>Difference</span></div>
<div class="t lb" style="left:481.3px;top:219.5px;width:100px;margin-left:-50px"><span>Proposed</span></div>
<div class="t lb" style="left:553.0px;top:219.5px;width:100px;margin-left:-50px"><span>VFISV</span></div>
<div class="t lb" style="left:624.5px;top:219.5px;width:100px;margin-left:-50px"><span>Difference</span></div>
<div class="t cb" style="left:42.6px;top:458.2px;width:60px;margin-left:-60px;text-align:right">0</div>
<div class="t cb" style="left:178.6px;top:458.2px;text-align:left">3000</div>
<div class="t cb" style="left:42.6px;top:478.9px;width:60px;margin-left:-60px;text-align:right">-200</div>
<div class="t cb" style="left:178.7px;top:478.9px;text-align:left">200</div>
<div class="t cb" style="left:264.2px;top:458.2px;width:60px;margin-left:-60px;text-align:right">0</div>
<div class="t cb" style="left:401.1px;top:458.2px;text-align:left">180</div>
<div class="t cb" style="left:264.2px;top:478.9px;width:60px;margin-left:-60px;text-align:right">-5</div>
<div class="t cb" style="left:400.5px;top:478.9px;text-align:left">5</div>
<div class="t cb" style="left:482.5px;top:458.2px;width:60px;margin-left:-60px;text-align:right">0</div>
<div class="t cb" style="left:619.2px;top:458.2px;text-align:left">180</div>
<div class="t cb" style="left:485.2px;top:478.9px;width:60px;margin-left:-60px;text-align:right">-10</div>
<div class="t cb" style="left:623.0px;top:478.9px;text-align:left">10</div>
</body></html>
